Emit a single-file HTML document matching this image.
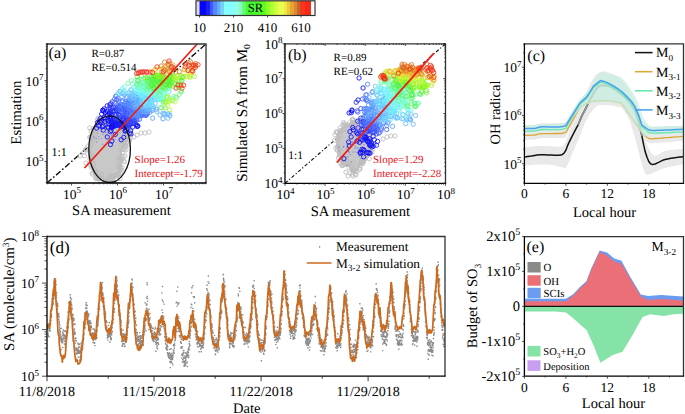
<!DOCTYPE html>
<html><head><meta charset="utf-8"><style>
html,body{margin:0;padding:0;background:#fff;width:685px;height:414px;overflow:hidden}
svg{display:block}
text{font-family:"Liberation Serif",serif;text-rendering:geometricPrecision}
</style></head><body>
<svg xmlns="http://www.w3.org/2000/svg" width="685" height="414" viewBox="0 0 685 414">
<rect x="196.5" y="1" width="3" height="14" fill="#ddd"/>
<rect x="199.5" y="1" width="6.8" height="14" fill="rgb(5, 5, 255)"/>
<rect x="206" y="1" width="4.3" height="14" fill="rgb(30, 30, 250)"/>
<rect x="210" y="1" width="3.8" height="14" fill="rgb(60, 90, 255)"/>
<rect x="213.5" y="1" width="3.8" height="14" fill="rgb(85, 135, 255)"/>
<rect x="217" y="1" width="3.8" height="14" fill="rgb(100, 170, 255)"/>
<rect x="220.5" y="1" width="3.8" height="14" fill="rgb(115, 210, 255)"/>
<rect x="224" y="1" width="6.3" height="14" fill="rgb(130, 255, 255)"/>
<rect x="230" y="1" width="5.3" height="14" fill="rgb(135, 255, 255)"/>
<rect x="235" y="1" width="4.3" height="14" fill="rgb(150, 255, 230)"/>
<rect x="239" y="1" width="3.3" height="14" fill="rgb(130, 255, 190)"/>
<rect x="242" y="1" width="3.8" height="14" fill="rgb(100, 252, 120)"/>
<rect x="245.5" y="1" width="10.8" height="14" fill="rgb(70, 250, 50)"/>
<rect x="256" y="1" width="6.3" height="14" fill="rgb(80, 250, 35)"/>
<rect x="262" y="1" width="4.3" height="14" fill="rgb(95, 252, 30)"/>
<rect x="266" y="1" width="4.3" height="14" fill="rgb(140, 255, 40)"/>
<rect x="270" y="1" width="4.3" height="14" fill="rgb(175, 255, 50)"/>
<rect x="274" y="1" width="4.3" height="14" fill="rgb(205, 255, 60)"/>
<rect x="278" y="1" width="6.3" height="14" fill="rgb(230, 255, 80)"/>
<rect x="284" y="1" width="3.3" height="14" fill="rgb(240, 230, 70)"/>
<rect x="287" y="1" width="3.3" height="14" fill="rgb(235, 200, 60)"/>
<rect x="290" y="1" width="4.3" height="14" fill="rgb(230, 165, 50)"/>
<rect x="294" y="1" width="3.3" height="14" fill="rgb(225, 135, 45)"/>
<rect x="297" y="1" width="3.3" height="14" fill="rgb(190, 105, 45)"/>
<rect x="300" y="1" width="5.3" height="14" fill="rgb(250, 55, 30)"/>
<rect x="305" y="1" width="6.3" height="14" fill="rgb(255, 40, 25)"/>
<rect x="311" y="1" width="3.5" height="14" fill="#fff"/>
<rect x="196" y="0.8" width="119" height="14.7" fill="none" stroke="#333" stroke-width="1.2"/>
<text x="255.4" y="12.4" font-size="12.6" text-anchor="middle" fill="#000" >SR</text>
<line x1="199.5" y1="15.5" x2="199.5" y2="17.5" stroke="#222" stroke-width="0.8" />
<text x="199.5" y="31.5" font-size="13" text-anchor="middle" fill="#000" >10</text>
<line x1="233.5" y1="15.5" x2="233.5" y2="17.5" stroke="#222" stroke-width="0.8" />
<text x="233.5" y="31.5" font-size="13" text-anchor="middle" fill="#000" >210</text>
<line x1="267.5" y1="15.5" x2="267.5" y2="17.5" stroke="#222" stroke-width="0.8" />
<text x="267.5" y="31.5" font-size="13" text-anchor="middle" fill="#000" >410</text>
<line x1="301" y1="15.5" x2="301" y2="17.5" stroke="#222" stroke-width="0.8" />
<text x="301" y="31.5" font-size="13" text-anchor="middle" fill="#000" >610</text>
<g clip-path="url(#clipc)">
<clipPath id="clipc"><rect x="524.4" y="43.8" width="159.10000000000002" height="139.5"/></clipPath>
<polygon points="524.4,147.5 526.1,147.3 527.9,147.1 529.6,146.9 531.3,146.6 533.0,146.4 534.8,146.2 536.5,146.1 538.2,146.0 539.9,146.0 541.7,145.9 543.4,146.0 545.1,146.0 546.9,146.1 548.6,146.2 550.3,146.3 552.0,146.3 553.8,146.4 555.5,146.6 557.2,146.8 558.9,146.8 560.7,146.7 562.4,146.2 564.1,144.7 565.9,141.5 567.6,136.7 569.3,132.0 571.0,128.4 572.8,125.0 574.5,121.7 576.2,118.0 578.0,113.7 579.7,109.0 581.4,104.3 583.1,100.0 584.9,96.0 586.6,92.0 588.3,88.1 590.0,84.4 591.8,81.0 593.5,78.0 595.2,75.6 597.0,73.8 598.7,72.7 600.4,72.0 602.1,71.6 603.9,71.5 605.6,71.6 607.3,71.9 609.0,72.4 610.8,73.0 612.5,73.7 614.2,74.6 616.0,75.6 617.7,76.9 619.4,78.3 621.1,80.0 622.9,81.9 624.6,84.1 626.3,86.5 628.0,89.1 629.8,91.9 631.5,95.0 633.2,98.4 635.0,102.3 636.7,106.7 638.4,112.0 640.1,119.1 641.9,127.4 643.6,134.8 645.3,140.1 647.1,144.6 648.8,148.3 650.5,151.4 652.2,153.9 654.0,155.2 655.7,155.5 657.4,155.0 659.1,154.1 660.9,153.0 662.6,151.9 664.3,151.1 666.1,150.7 667.8,150.4 669.5,150.1 671.2,149.9 673.0,149.7 674.7,149.6 676.4,149.4 678.1,149.3 679.9,149.1 681.6,149.0 683.3,148.8 683.3,164.0 681.6,164.4 679.9,164.7 678.1,165.1 676.4,165.5 674.7,165.8 673.0,166.2 671.2,166.6 669.5,166.9 667.8,167.3 666.1,167.8 664.3,168.2 662.6,168.7 660.9,169.4 659.1,170.1 657.4,170.9 655.7,171.6 654.0,172.5 652.2,173.3 650.5,173.9 648.8,174.6 647.1,174.9 645.3,173.8 643.6,170.0 641.9,164.2 640.1,158.1 638.4,151.3 636.7,144.5 635.0,137.9 633.2,131.9 631.5,126.4 629.8,120.9 628.0,117.2 626.3,114.2 624.6,111.4 622.9,108.9 621.1,106.9 619.4,105.6 617.7,105.1 616.0,105.0 614.2,105.1 612.5,105.2 610.8,105.2 609.0,104.9 607.3,104.6 605.6,104.3 603.9,104.1 602.1,104.1 600.4,104.4 598.7,105.0 597.0,106.1 595.2,107.5 593.5,109.3 591.8,111.4 590.0,113.8 588.3,116.5 586.6,119.6 584.9,123.3 583.1,127.6 581.4,132.1 579.7,136.6 578.0,140.8 576.2,144.8 574.5,148.8 572.8,152.7 571.0,156.6 569.3,160.9 567.6,165.2 565.9,168.3 564.1,168.6 562.4,167.5 560.7,166.9 558.9,166.5 557.2,166.0 555.5,165.6 553.8,165.3 552.0,165.0 550.3,164.8 548.6,164.7 546.9,164.6 545.1,164.5 543.4,164.5 541.7,164.5 539.9,164.5 538.2,164.5 536.5,164.6 534.8,164.7 533.0,164.8 531.3,165.0 529.6,165.2 527.9,165.4 526.1,165.5 524.4,165.7" fill="#e9e9e9" fill-opacity="1"/>
<polygon points="524.4,125.1 526.1,125.1 527.9,125.0 529.6,125.0 531.3,125.0 533.0,124.9 534.8,124.9 536.5,124.6 538.2,124.0 539.9,123.4 541.7,123.3 543.4,123.3 545.1,123.3 546.9,123.3 548.6,123.4 550.3,123.5 552.0,123.5 553.8,123.5 555.5,123.5 557.2,123.5 558.9,123.5 560.7,123.3 562.4,123.1 564.1,122.9 565.9,122.0 567.6,119.3 569.3,116.5 571.0,113.8 572.8,111.0 574.5,108.2 576.2,105.4 578.0,102.6 579.7,99.8 581.4,98.2 583.1,96.6 584.9,95.1 586.6,93.5 588.3,91.1 590.0,88.3 591.8,85.5 593.5,82.6 595.2,81.1 597.0,79.8 598.7,78.4 600.4,77.1 602.1,77.3 603.9,77.9 605.6,78.5 607.3,79.1 609.0,79.7 610.8,80.8 612.5,81.9 614.2,83.0 616.0,84.1 617.7,85.2 619.4,86.3 621.1,87.5 622.9,89.2 624.6,90.9 626.3,92.6 628.0,94.3 629.8,96.0 631.5,98.0 633.2,100.6 635.0,103.2 636.7,105.8 638.4,111.1 640.1,116.4 641.9,121.7 643.6,122.9 645.3,124.1 647.1,125.3 648.8,126.5 650.5,127.0 652.2,126.9 654.0,126.9 655.7,126.9 657.4,126.8 659.1,126.8 660.9,126.7 662.6,126.7 664.3,126.6 666.1,126.5 667.8,126.4 669.5,126.4 671.2,126.3 673.0,126.2 674.7,126.1 676.4,126.0 678.1,125.9 679.9,125.9 681.6,125.8 683.3,125.7 683.3,140.9 681.6,141.0 679.9,141.2 678.1,141.3 676.4,141.4 674.7,141.6 673.0,141.7 671.2,141.8 669.5,142.0 667.8,142.1 666.1,142.2 664.3,142.4 662.6,142.5 660.9,142.6 659.1,142.8 657.4,142.9 655.7,143.0 654.0,143.2 652.2,143.3 650.5,143.4 648.8,143.0 647.1,141.8 645.3,140.7 643.6,138.8 641.9,136.5 640.1,134.1 638.4,131.8 636.7,129.4 635.0,127.1 633.2,124.5 631.5,122.0 629.8,119.4 628.0,116.8 626.3,114.3 624.6,111.7 622.9,109.1 621.1,107.5 619.4,107.1 617.7,106.7 616.0,106.4 614.2,106.0 612.5,105.7 610.8,105.3 609.0,105.2 607.3,105.2 605.6,105.2 603.9,105.1 602.1,105.0 600.4,105.0 598.7,105.1 597.0,105.2 595.2,105.4 593.5,105.5 591.8,106.0 590.0,106.5 588.3,107.0 586.6,107.5 584.9,108.8 583.1,110.0 581.4,111.2 579.7,112.5 578.0,115.5 576.2,118.5 574.5,121.6 572.8,124.6 571.0,127.6 569.3,130.6 567.6,133.7 565.9,136.7 564.1,137.9 562.4,137.9 560.7,138.0 558.9,138.0 557.2,138.0 555.5,138.0 553.8,138.1 552.0,138.1 550.3,138.1 548.6,138.1 546.9,138.1 545.1,138.1 543.4,138.1 541.7,138.1 539.9,138.2 538.2,138.7 536.5,139.3 534.8,139.6 533.0,139.7 531.3,139.7 529.6,139.8 527.9,139.8 526.1,139.9 524.4,139.9" fill="#e9e9e9" fill-opacity="1"/>
<polyline points="524.4,157.0 526.1,156.8 527.9,156.5 529.6,156.2 531.3,156.0 533.0,155.7 534.8,155.4 536.5,155.1 538.2,154.9 539.9,154.7 541.7,154.7 543.4,154.7 545.1,154.8 546.9,154.9 548.6,155.0 550.3,155.1 552.0,155.1 553.8,155.2 555.5,155.2 557.2,155.2 558.9,155.2 560.7,155.1 562.4,154.5 564.1,153.1 565.9,150.2 567.6,145.6 569.3,141.8 571.0,138.3 572.8,134.8 574.5,131.6 576.2,128.4 578.0,125.1 579.7,121.0 581.4,116.9 583.1,113.4 584.9,110.1 586.6,106.6 588.3,103.0 590.0,99.6 591.8,96.4 593.5,93.2 595.2,90.5 597.0,88.2 598.7,86.5 600.4,85.6 602.1,85.4 603.9,85.4 605.6,85.5 607.3,85.7 609.0,86.1 610.8,86.8 612.5,87.8 614.2,88.9 616.0,90.1 617.7,91.3 619.4,92.7 621.1,94.1 622.9,95.5 624.6,97.0 626.3,98.6 628.0,100.4 629.8,102.5 631.5,105.0 633.2,107.7 635.0,111.0 636.7,115.3 638.4,121.4 640.1,128.2 641.9,135.8 643.6,144.7 645.3,152.1 647.1,157.5 648.8,161.5 650.5,163.8 652.2,164.4 654.0,164.2 655.7,163.7 657.4,162.9 659.1,162.1 660.9,161.2 662.6,160.3 664.3,159.7 666.1,159.3 667.8,158.9 669.5,158.6 671.2,158.3 673.0,158.0 674.7,157.8 676.4,157.6 678.1,157.3 679.9,157.1 681.6,156.9 683.3,156.6" fill="none" stroke="#111" stroke-width="1.5" stroke-opacity="1" stroke-linejoin="round"/>
<polyline points="578.0,125.1 579.7,121.0 581.4,116.9 583.1,113.4 584.9,110.1 586.6,106.6 588.3,103.0 590.0,99.6 591.8,96.4 593.5,93.2 595.2,90.5 597.0,88.2 598.7,86.5 600.4,85.6 602.1,85.4 603.9,85.4 605.6,85.5 607.3,85.7 609.0,86.1 610.8,86.8 612.5,87.8 614.2,88.9 616.0,90.1 617.7,91.3 619.4,92.7 621.1,94.1 622.9,95.5 624.6,97.0 626.3,98.6 628.0,100.4 629.8,102.5 631.5,105.0 633.2,107.7 635.0,111.0 636.7,115.3 638.4,121.4 640.1,128.2 641.9,135.8" fill="none" stroke="#8a948e" stroke-width="1.9" stroke-linejoin="round"/>
<polyline points="524.4,135.4 527.9,135.3 531.3,135.2 534.8,135.1 538.2,134.2 541.7,133.6 545.1,133.6 548.6,133.6 552.0,133.6 555.5,133.5 558.9,133.5 562.4,133.4 565.9,132.2 569.3,126.1 572.8,120.1 576.2,114.0 579.7,108.0 583.1,105.5 586.6,103.0 590.0,102.0 593.5,101.0 597.0,100.8 600.4,100.5 603.9,100.6 607.3,100.7 610.8,100.8 614.2,101.5 617.7,102.2 621.1,103.0 624.6,107.2 628.0,112.3 631.5,117.5 635.0,122.6 638.4,127.3 641.9,132.0 645.3,136.2 648.8,138.5 652.2,138.8 655.7,138.5 659.1,138.3 662.6,138.0 666.1,137.7 669.5,137.5 673.0,137.2 676.4,136.9 679.9,136.7 683.3,136.4" fill="none" stroke="#d9a830" stroke-width="1.3" stroke-opacity="1" stroke-linejoin="round"/>
<polygon points="524.4,126.0 526.1,125.8 527.9,125.6 529.6,125.4 531.3,125.2 533.0,125.1 534.8,124.9 536.5,124.7 538.2,124.5 539.9,124.4 541.7,124.3 543.4,124.2 545.1,124.1 546.9,124.0 548.6,123.9 550.3,123.8 552.0,123.7 553.8,123.6 555.5,123.5 557.2,123.4 558.9,123.3 560.7,123.2 562.4,123.2 564.1,123.1 565.9,121.8 567.6,118.9 569.3,116.0 571.0,113.2 572.8,110.5 574.5,107.7 576.2,105.0 578.0,102.2 579.7,100.1 581.4,98.0 583.1,95.9 584.9,94.0 586.6,92.3 588.3,90.5 590.0,88.8 591.8,86.5 593.5,81.8 595.2,78.8 597.0,76.8 598.7,74.7 600.4,72.7 602.1,71.8 603.9,72.4 605.6,73.1 607.3,73.7 609.0,74.4 610.8,74.8 612.5,75.1 614.2,75.5 616.0,75.9 617.7,76.3 619.4,76.7 621.1,77.6 622.9,79.3 624.6,81.0 626.3,82.7 628.0,85.2 629.8,88.0 631.5,90.8 633.2,93.6 635.0,96.8 636.7,99.9 638.4,103.0 640.1,108.4 641.9,113.7 643.6,118.5 645.3,120.8 647.1,123.2 648.8,125.6 650.5,126.5 652.2,126.5 654.0,126.4 655.7,126.4 657.4,126.4 659.1,126.4 660.9,126.3 662.6,126.3 664.3,126.3 666.1,126.2 667.8,126.2 669.5,126.1 671.2,126.1 673.0,126.0 674.7,126.0 676.4,126.0 678.1,125.9 679.9,125.9 681.6,125.8 683.3,125.8 683.3,133.1 681.6,133.2 679.9,133.3 678.1,133.3 676.4,133.4 674.7,133.5 673.0,133.6 671.2,133.7 669.5,133.8 667.8,133.8 666.1,133.9 664.3,134.0 662.6,134.1 660.9,134.1 659.1,134.2 657.4,134.2 655.7,134.3 654.0,134.3 652.2,134.3 650.5,134.4 648.8,134.8 647.1,135.8 645.3,136.8 643.6,135.8 641.9,133.5 640.1,131.1 638.4,128.8 636.7,126.4 635.0,124.1 633.2,121.5 631.5,119.0 629.8,116.4 628.0,113.8 626.3,111.3 624.6,108.7 622.9,106.1 621.1,104.5 619.4,104.1 617.7,103.7 616.0,103.4 614.2,103.0 612.5,102.7 610.8,102.3 609.0,102.2 607.3,102.2 605.6,102.2 603.9,102.1 602.1,102.0 600.4,102.0 598.7,102.1 597.0,102.2 595.2,102.4 593.5,102.5 591.8,103.0 590.0,103.5 588.3,104.0 586.6,104.5 584.9,105.8 583.1,107.0 581.4,108.2 579.7,109.5 578.0,111.6 576.2,113.7 574.5,115.8 572.8,117.8 571.0,120.1 569.3,123.0 567.6,126.0 565.9,129.0 564.1,130.2 562.4,130.3 560.7,130.4 558.9,130.5 557.2,130.6 555.5,130.7 553.8,130.8 552.0,130.9 550.3,130.9 548.6,130.8 546.9,130.8 545.1,130.8 543.4,130.8 541.7,130.7 539.9,130.8 538.2,131.4 536.5,132.0 534.8,132.3 533.0,132.3 531.3,132.4 529.6,132.4 527.9,132.4 526.1,132.5 524.4,132.5" fill="#c6eedf" fill-opacity="0.75"/>
<polyline points="524.4,131.3 527.9,131.2 531.3,131.2 534.8,131.1 538.2,130.2 541.7,129.5 545.1,129.5 548.6,129.6 552.0,129.7 555.5,129.7 558.9,129.7 562.4,129.3 565.9,128.2 569.3,121.9 572.8,116.1 576.2,110.5 579.7,104.9 583.1,101.7 586.6,98.6 590.0,93.4 593.5,87.7 597.0,84.9 600.4,82.2 603.9,83.0 607.3,84.2 610.8,85.9 614.2,88.1 617.7,90.3 621.1,92.6 624.6,96.0 628.0,99.4 631.5,103.1 635.0,108.3 638.4,116.2 641.9,126.8 645.3,129.7 648.8,132.6 652.2,133.1 655.7,133.1 659.1,133.0 662.6,132.9 666.1,132.7 669.5,132.6 673.0,132.4 676.4,132.2 679.9,132.1 683.3,131.9" fill="none" stroke="#6ae8b0" stroke-width="1.3" stroke-opacity="1" stroke-linejoin="round"/>
<polyline points="524.4,128.6 527.9,128.5 531.3,128.5 534.8,128.4 538.2,127.5 541.7,126.8 545.1,126.8 548.6,126.9 552.0,127.0 555.5,127.0 558.9,127.0 562.4,126.6 565.9,125.5 569.3,120.0 572.8,114.5 576.2,108.9 579.7,103.3 583.1,100.1 586.6,97.0 590.0,91.8 593.5,86.1 597.0,83.3 600.4,80.6 603.9,81.4 607.3,82.6 610.8,84.3 614.2,86.5 617.7,88.7 621.1,91.0 624.6,94.4 628.0,97.8 631.5,101.5 635.0,106.7 638.4,114.6 641.9,125.2 645.3,127.6 648.8,130.0 652.2,130.4 655.7,130.4 659.1,130.3 662.6,130.2 666.1,130.0 669.5,129.9 673.0,129.7 676.4,129.5 679.9,129.4 683.3,129.2" fill="none" stroke="#4aa0f0" stroke-width="1.5" stroke-opacity="1" stroke-linejoin="round"/>
</g>
<line x1="635" y1="52.6" x2="652.6" y2="52.6" stroke="#111" stroke-width="1.5" />
<text x="656" y="57.4" font-size="14" text-anchor="start" fill="#000" >M<tspan font-size="9.2" dy="3.8">0</tspan></text>
<line x1="635" y1="71.7" x2="652.6" y2="71.7" stroke="#d9a830" stroke-width="1.5" />
<text x="656" y="76.5" font-size="14" text-anchor="start" fill="#000" >M<tspan font-size="9.2" dy="3.8">3-1</tspan></text>
<line x1="635" y1="90.8" x2="652.6" y2="90.8" stroke="#5ce8a8" stroke-width="1.5" />
<text x="656" y="95.6" font-size="14" text-anchor="start" fill="#000" >M<tspan font-size="9.2" dy="3.8">3-2</tspan></text>
<line x1="635" y1="109.9" x2="652.6" y2="109.9" stroke="#3d9cf0" stroke-width="1.5" />
<text x="656" y="114.7" font-size="14" text-anchor="start" fill="#000" >M<tspan font-size="9.2" dy="3.8">3-3</tspan></text>
<polygon points="524.4,298.8 565.9,298.8 573.1,294.2 580.4,286.5 586.4,281.2 591.2,268.4 599.7,250.5 607.0,252.4 614.2,258.4 621.5,260.8 629.9,276.3 640.8,294.5 648.1,296.0 661.2,294.9 683.3,296.6 683.3,306.4 524.4,306.4" fill="#6b9cf0"/>
<polygon points="524.4,301.3 565.9,301.3 573.1,295.7 580.4,288.0 586.4,282.7 591.2,269.9 599.7,251.7 607.0,255.4 614.2,261.4 621.5,263.8 629.9,278.3 640.8,296.5 648.1,300.0 661.2,298.9 683.3,300.6 683.3,306.4 524.4,306.4" fill="#ea6f77"/>
<polygon points="524.4,306.4 683.3,306.4 683.3,313.8 673.4,314.3 663.8,316.0 650.0,314.3 642.6,317.1 632.1,335.8 622.5,351.8 612.8,355.1 600.4,362.8 593.6,345.4 586.7,330.3 572.9,317.9 566.0,312.4 555.0,311.6 524.4,311.6" fill="#86e3a8"/>
<line x1="524.4" y1="306.4" x2="683.5" y2="306.4" stroke="#111" stroke-width="1.3" />
<rect x="527.5" y="262" width="13.2" height="10.5" fill="#8a8a8a"/>
<text x="543.5" y="271.3" font-size="10.8" text-anchor="start" fill="#000" >O</text>
<rect x="527.5" y="275.2" width="13.2" height="10.5" fill="#ea6f77"/>
<text x="543.5" y="284.5" font-size="10.8" text-anchor="start" fill="#000" >OH</text>
<rect x="527.5" y="287.8" width="13.2" height="10.5" fill="#6b9cf0"/>
<text x="543.5" y="297.1" font-size="10.8" text-anchor="start" fill="#000" >SCIs</text>
<rect x="527.5" y="345.9" width="13" height="10.6" fill="#86e3a8"/>
<text x="543.3" y="355.2" font-size="10.5" text-anchor="start" fill="#000" >SO<tspan font-size="7.5" dy="2.5">3</tspan><tspan dy="-2.5">+H</tspan><tspan font-size="7.5" dy="2.5">2</tspan><tspan dy="-2.5">O</tspan></text>
<rect x="527.5" y="360.3" width="13" height="10.6" fill="#c89ef0"/>
<text x="543.3" y="369.6" font-size="10.5" text-anchor="start" fill="#000" >Deposition</text>
<text x="651.6" y="251.2" font-size="13.7" text-anchor="start" fill="#000" >M<tspan font-size="9.2" dy="3.3">3-2</tspan></text>
<clipPath id="clipd"><rect x="47" y="236.5" width="398" height="139.7"/></clipPath>
<g clip-path="url(#clipd)">
<path d="M47.0 328.1h1.4v1.4h-1.4zM47.1 324.3h1.4v1.4h-1.4zM47.3 326.7h1.4v1.4h-1.4zM47.5 326.4h1.4v1.4h-1.4zM47.5 332.7h1.4v1.4h-1.4zM47.7 334.6h1.4v1.4h-1.4zM47.8 335.3h1.4v1.4h-1.4zM47.9 325.7h1.4v1.4h-1.4zM48.0 327.2h1.4v1.4h-1.4zM48.2 330.4h1.4v1.4h-1.4zM48.2 323.2h1.4v1.4h-1.4zM48.4 325.8h1.4v1.4h-1.4zM48.4 336.1h1.4v1.4h-1.4zM48.6 328.8h1.4v1.4h-1.4zM48.7 325.2h1.4v1.4h-1.4zM48.8 329.8h1.4v1.4h-1.4zM49.0 327.5h1.4v1.4h-1.4zM49.1 324.9h1.4v1.4h-1.4zM49.2 323.8h1.4v1.4h-1.4zM49.3 322.5h1.4v1.4h-1.4zM49.4 329.9h1.4v1.4h-1.4zM49.5 327.6h1.4v1.4h-1.4zM49.6 330.2h1.4v1.4h-1.4zM49.8 322.7h1.4v1.4h-1.4zM49.9 322.7h1.4v1.4h-1.4zM50.0 319.6h1.4v1.4h-1.4zM50.1 319.7h1.4v1.4h-1.4zM50.2 319.6h1.4v1.4h-1.4zM50.4 316.1h1.4v1.4h-1.4zM50.5 313.1h1.4v1.4h-1.4zM50.6 316.5h1.4v1.4h-1.4zM50.7 314.6h1.4v1.4h-1.4zM50.8 306.4h1.4v1.4h-1.4zM51.0 315.1h1.4v1.4h-1.4zM51.0 303.7h1.4v1.4h-1.4zM51.2 301.0h1.4v1.4h-1.4zM51.3 304.0h1.4v1.4h-1.4zM51.4 298.3h1.4v1.4h-1.4zM51.5 308.7h1.4v1.4h-1.4zM51.6 302.9h1.4v1.4h-1.4zM51.8 293.8h1.4v1.4h-1.4zM51.9 301.3h1.4v1.4h-1.4zM52.0 296.8h1.4v1.4h-1.4zM52.1 302.8h1.4v1.4h-1.4zM52.2 301.3h1.4v1.4h-1.4zM52.3 303.3h1.4v1.4h-1.4zM52.5 298.4h1.4v1.4h-1.4zM52.6 294.5h1.4v1.4h-1.4zM52.7 298.9h1.4v1.4h-1.4zM52.8 303.4h1.4v1.4h-1.4zM53.0 287.4h1.4v1.4h-1.4zM53.1 293.2h1.4v1.4h-1.4zM53.2 297.5h1.4v1.4h-1.4zM53.2 281.2h1.4v1.4h-1.4zM53.4 287.3h1.4v1.4h-1.4zM53.5 294.7h1.4v1.4h-1.4zM53.6 283.2h1.4v1.4h-1.4zM53.7 295.4h1.4v1.4h-1.4zM53.9 287.4h1.4v1.4h-1.4zM54.1 281.8h1.4v1.4h-1.4zM54.2 284.2h1.4v1.4h-1.4zM54.2 285.5h1.4v1.4h-1.4zM54.3 279.7h1.4v1.4h-1.4zM54.5 283.3h1.4v1.4h-1.4zM54.5 287.0h1.4v1.4h-1.4zM54.7 288.1h1.4v1.4h-1.4zM54.8 278.1h1.4v1.4h-1.4zM55.0 282.9h1.4v1.4h-1.4zM55.1 280.6h1.4v1.4h-1.4zM55.1 284.1h1.4v1.4h-1.4zM55.3 284.0h1.4v1.4h-1.4zM55.4 292.0h1.4v1.4h-1.4zM55.5 296.6h1.4v1.4h-1.4zM55.7 304.5h1.4v1.4h-1.4zM55.8 302.4h1.4v1.4h-1.4zM55.8 294.4h1.4v1.4h-1.4zM56.0 292.2h1.4v1.4h-1.4zM56.1 301.2h1.4v1.4h-1.4zM56.2 305.0h1.4v1.4h-1.4zM56.4 308.5h1.4v1.4h-1.4zM56.5 305.6h1.4v1.4h-1.4zM56.6 308.0h1.4v1.4h-1.4zM56.7 311.6h1.4v1.4h-1.4zM56.8 303.8h1.4v1.4h-1.4zM56.9 302.9h1.4v1.4h-1.4zM57.1 313.1h1.4v1.4h-1.4zM57.2 305.6h1.4v1.4h-1.4zM57.3 315.2h1.4v1.4h-1.4zM57.4 318.4h1.4v1.4h-1.4zM57.5 314.0h1.4v1.4h-1.4zM57.7 319.0h1.4v1.4h-1.4zM57.8 316.4h1.4v1.4h-1.4zM57.9 313.5h1.4v1.4h-1.4zM58.0 313.0h1.4v1.4h-1.4zM58.1 315.7h1.4v1.4h-1.4zM58.2 318.4h1.4v1.4h-1.4zM58.4 315.8h1.4v1.4h-1.4zM58.4 321.7h1.4v1.4h-1.4zM58.6 323.3h1.4v1.4h-1.4zM58.7 320.8h1.4v1.4h-1.4zM58.9 326.3h1.4v1.4h-1.4zM58.9 329.9h1.4v1.4h-1.4zM59.1 324.4h1.4v1.4h-1.4zM59.2 328.8h1.4v1.4h-1.4zM59.3 331.5h1.4v1.4h-1.4zM59.4 327.9h1.4v1.4h-1.4zM59.5 336.8h1.4v1.4h-1.4zM59.6 331.0h1.4v1.4h-1.4zM59.8 333.2h1.4v1.4h-1.4zM59.8 334.4h1.4v1.4h-1.4zM60.0 338.3h1.4v1.4h-1.4zM60.2 337.2h1.4v1.4h-1.4zM60.2 336.0h1.4v1.4h-1.4zM60.3 340.3h1.4v1.4h-1.4zM60.4 348.8h1.4v1.4h-1.4zM60.6 340.0h1.4v1.4h-1.4zM60.7 327.7h1.4v1.4h-1.4zM60.8 339.2h1.4v1.4h-1.4zM60.9 338.0h1.4v1.4h-1.4zM61.1 341.3h1.4v1.4h-1.4zM61.1 341.8h1.4v1.4h-1.4zM61.3 339.5h1.4v1.4h-1.4zM61.5 338.7h1.4v1.4h-1.4zM61.6 337.8h1.4v1.4h-1.4zM61.6 335.2h1.4v1.4h-1.4zM61.8 338.0h1.4v1.4h-1.4zM61.9 342.0h1.4v1.4h-1.4zM62.0 331.6h1.4v1.4h-1.4zM62.1 346.9h1.4v1.4h-1.4zM62.2 332.4h1.4v1.4h-1.4zM62.3 340.3h1.4v1.4h-1.4zM62.4 334.4h1.4v1.4h-1.4zM62.6 329.6h1.4v1.4h-1.4zM62.7 333.3h1.4v1.4h-1.4zM62.9 338.2h1.4v1.4h-1.4zM62.9 337.9h1.4v1.4h-1.4zM63.0 334.6h1.4v1.4h-1.4zM63.1 335.1h1.4v1.4h-1.4zM63.3 336.7h1.4v1.4h-1.4zM63.4 334.2h1.4v1.4h-1.4zM63.5 338.3h1.4v1.4h-1.4zM63.7 334.3h1.4v1.4h-1.4zM63.7 330.5h1.4v1.4h-1.4zM63.9 343.3h1.4v1.4h-1.4zM64.0 340.6h1.4v1.4h-1.4zM64.1 340.5h1.4v1.4h-1.4zM64.2 338.3h1.4v1.4h-1.4zM64.3 343.7h1.4v1.4h-1.4zM64.4 335.3h1.4v1.4h-1.4zM64.6 343.6h1.4v1.4h-1.4zM64.7 346.1h1.4v1.4h-1.4zM64.8 337.1h1.4v1.4h-1.4zM64.9 329.9h1.4v1.4h-1.4zM65.0 336.7h1.4v1.4h-1.4zM65.2 337.9h1.4v1.4h-1.4zM65.3 337.1h1.4v1.4h-1.4zM65.4 331.0h1.4v1.4h-1.4zM65.5 334.7h1.4v1.4h-1.4zM65.6 335.0h1.4v1.4h-1.4zM65.8 335.8h1.4v1.4h-1.4zM65.9 332.3h1.4v1.4h-1.4zM66.0 334.6h1.4v1.4h-1.4zM66.1 334.6h1.4v1.4h-1.4zM66.3 327.3h1.4v1.4h-1.4zM66.3 326.1h1.4v1.4h-1.4zM66.4 326.1h1.4v1.4h-1.4zM66.6 322.1h1.4v1.4h-1.4zM66.7 325.3h1.4v1.4h-1.4zM66.8 327.7h1.4v1.4h-1.4zM66.9 324.6h1.4v1.4h-1.4zM67.1 322.9h1.4v1.4h-1.4zM67.2 325.9h1.4v1.4h-1.4zM67.3 311.3h1.4v1.4h-1.4zM67.4 322.9h1.4v1.4h-1.4zM67.5 318.4h1.4v1.4h-1.4zM67.7 326.9h1.4v1.4h-1.4zM67.7 316.5h1.4v1.4h-1.4zM67.9 321.4h1.4v1.4h-1.4zM68.0 319.6h1.4v1.4h-1.4zM68.1 314.2h1.4v1.4h-1.4zM68.2 311.4h1.4v1.4h-1.4zM68.3 302.3h1.4v1.4h-1.4zM68.4 318.7h1.4v1.4h-1.4zM68.5 307.3h1.4v1.4h-1.4zM68.7 306.2h1.4v1.4h-1.4zM68.8 308.1h1.4v1.4h-1.4zM68.9 310.0h1.4v1.4h-1.4zM69.0 307.5h1.4v1.4h-1.4zM69.2 306.4h1.4v1.4h-1.4zM69.3 303.8h1.4v1.4h-1.4zM69.4 301.2h1.4v1.4h-1.4zM69.5 294.0h1.4v1.4h-1.4zM69.7 296.6h1.4v1.4h-1.4zM69.7 297.4h1.4v1.4h-1.4zM69.9 300.2h1.4v1.4h-1.4zM70.0 301.6h1.4v1.4h-1.4zM70.1 300.5h1.4v1.4h-1.4zM70.3 303.6h1.4v1.4h-1.4zM70.3 302.2h1.4v1.4h-1.4zM70.5 304.1h1.4v1.4h-1.4zM70.6 309.9h1.4v1.4h-1.4zM70.7 311.6h1.4v1.4h-1.4zM70.8 298.3h1.4v1.4h-1.4zM70.9 307.3h1.4v1.4h-1.4zM71.1 304.6h1.4v1.4h-1.4zM71.1 307.5h1.4v1.4h-1.4zM71.3 308.9h1.4v1.4h-1.4zM71.4 307.2h1.4v1.4h-1.4zM71.5 313.4h1.4v1.4h-1.4zM71.6 316.3h1.4v1.4h-1.4zM71.7 316.4h1.4v1.4h-1.4zM71.9 314.5h1.4v1.4h-1.4zM72.0 317.7h1.4v1.4h-1.4zM72.2 320.9h1.4v1.4h-1.4zM72.2 319.3h1.4v1.4h-1.4zM72.4 314.1h1.4v1.4h-1.4zM72.4 323.3h1.4v1.4h-1.4zM72.6 318.6h1.4v1.4h-1.4zM72.7 324.1h1.4v1.4h-1.4zM72.9 324.1h1.4v1.4h-1.4zM72.9 317.5h1.4v1.4h-1.4zM73.1 317.6h1.4v1.4h-1.4zM73.2 318.7h1.4v1.4h-1.4zM73.2 319.9h1.4v1.4h-1.4zM73.4 329.3h1.4v1.4h-1.4zM73.5 331.3h1.4v1.4h-1.4zM73.7 328.2h1.4v1.4h-1.4zM73.8 332.9h1.4v1.4h-1.4zM73.9 333.9h1.4v1.4h-1.4zM74.0 323.2h1.4v1.4h-1.4zM74.2 337.8h1.4v1.4h-1.4zM74.2 331.8h1.4v1.4h-1.4zM74.3 331.5h1.4v1.4h-1.4zM74.4 333.5h1.4v1.4h-1.4zM74.5 323.4h1.4v1.4h-1.4zM74.7 342.4h1.4v1.4h-1.4zM74.8 339.7h1.4v1.4h-1.4zM74.9 337.3h1.4v1.4h-1.4zM75.1 348.3h1.4v1.4h-1.4zM75.1 337.8h1.4v1.4h-1.4zM75.3 347.2h1.4v1.4h-1.4zM75.5 340.3h1.4v1.4h-1.4zM75.5 349.5h1.4v1.4h-1.4zM75.7 348.1h1.4v1.4h-1.4zM75.7 348.8h1.4v1.4h-1.4zM75.9 348.0h1.4v1.4h-1.4zM75.9 352.7h1.4v1.4h-1.4zM76.1 353.4h1.4v1.4h-1.4zM76.2 348.9h1.4v1.4h-1.4zM76.4 348.0h1.4v1.4h-1.4zM76.5 351.3h1.4v1.4h-1.4zM76.6 348.4h1.4v1.4h-1.4zM76.6 349.8h1.4v1.4h-1.4zM76.9 348.1h1.4v1.4h-1.4zM76.9 350.2h1.4v1.4h-1.4zM77.0 351.4h1.4v1.4h-1.4zM77.2 348.8h1.4v1.4h-1.4zM77.3 342.6h1.4v1.4h-1.4zM77.4 352.6h1.4v1.4h-1.4zM77.5 343.4h1.4v1.4h-1.4zM77.7 347.2h1.4v1.4h-1.4zM77.7 356.5h1.4v1.4h-1.4zM77.9 346.3h1.4v1.4h-1.4zM78.0 352.5h1.4v1.4h-1.4zM78.1 343.8h1.4v1.4h-1.4zM78.2 350.4h1.4v1.4h-1.4zM78.3 351.3h1.4v1.4h-1.4zM78.4 349.7h1.4v1.4h-1.4zM78.6 346.3h1.4v1.4h-1.4zM78.6 352.3h1.4v1.4h-1.4zM78.8 359.7h1.4v1.4h-1.4zM78.9 352.6h1.4v1.4h-1.4zM79.1 343.6h1.4v1.4h-1.4zM79.2 352.7h1.4v1.4h-1.4zM79.3 343.2h1.4v1.4h-1.4zM79.5 358.4h1.4v1.4h-1.4zM79.5 356.3h1.4v1.4h-1.4zM79.7 350.6h1.4v1.4h-1.4zM79.7 359.4h1.4v1.4h-1.4zM79.9 351.4h1.4v1.4h-1.4zM80.0 354.9h1.4v1.4h-1.4zM80.1 352.5h1.4v1.4h-1.4zM80.2 347.4h1.4v1.4h-1.4zM80.3 349.1h1.4v1.4h-1.4zM80.4 358.8h1.4v1.4h-1.4zM80.5 346.5h1.4v1.4h-1.4zM80.7 354.8h1.4v1.4h-1.4zM80.8 342.4h1.4v1.4h-1.4zM80.9 346.1h1.4v1.4h-1.4zM81.0 349.5h1.4v1.4h-1.4zM81.2 349.1h1.4v1.4h-1.4zM81.2 341.6h1.4v1.4h-1.4zM81.4 344.6h1.4v1.4h-1.4zM81.5 346.2h1.4v1.4h-1.4zM81.7 341.7h1.4v1.4h-1.4zM81.7 342.1h1.4v1.4h-1.4zM81.9 338.7h1.4v1.4h-1.4zM82.0 343.0h1.4v1.4h-1.4zM82.1 338.7h1.4v1.4h-1.4zM82.3 339.7h1.4v1.4h-1.4zM82.4 340.3h1.4v1.4h-1.4zM82.5 335.1h1.4v1.4h-1.4zM82.6 338.2h1.4v1.4h-1.4zM82.8 337.8h1.4v1.4h-1.4zM82.8 338.6h1.4v1.4h-1.4zM82.9 334.2h1.4v1.4h-1.4zM83.1 337.2h1.4v1.4h-1.4zM83.2 327.7h1.4v1.4h-1.4zM83.3 326.9h1.4v1.4h-1.4zM83.4 333.0h1.4v1.4h-1.4zM83.5 322.8h1.4v1.4h-1.4zM83.6 327.9h1.4v1.4h-1.4zM83.8 319.5h1.4v1.4h-1.4zM83.9 320.2h1.4v1.4h-1.4zM83.9 320.8h1.4v1.4h-1.4zM84.2 321.1h1.4v1.4h-1.4zM84.3 316.6h1.4v1.4h-1.4zM84.4 327.4h1.4v1.4h-1.4zM84.4 327.1h1.4v1.4h-1.4zM84.6 323.5h1.4v1.4h-1.4zM84.7 312.5h1.4v1.4h-1.4zM84.8 319.0h1.4v1.4h-1.4zM85.0 307.9h1.4v1.4h-1.4zM85.1 313.3h1.4v1.4h-1.4zM85.2 304.3h1.4v1.4h-1.4zM85.3 307.2h1.4v1.4h-1.4zM85.4 310.8h1.4v1.4h-1.4zM85.5 302.0h1.4v1.4h-1.4zM85.6 302.1h1.4v1.4h-1.4zM85.8 305.1h1.4v1.4h-1.4zM85.9 310.6h1.4v1.4h-1.4zM86.0 313.4h1.4v1.4h-1.4zM86.2 318.5h1.4v1.4h-1.4zM86.2 307.6h1.4v1.4h-1.4zM86.3 310.2h1.4v1.4h-1.4zM86.4 304.6h1.4v1.4h-1.4zM86.6 311.2h1.4v1.4h-1.4zM86.7 322.2h1.4v1.4h-1.4zM86.8 321.9h1.4v1.4h-1.4zM87.0 315.7h1.4v1.4h-1.4zM87.0 312.5h1.4v1.4h-1.4zM87.2 318.2h1.4v1.4h-1.4zM87.3 312.9h1.4v1.4h-1.4zM87.4 320.3h1.4v1.4h-1.4zM87.5 315.7h1.4v1.4h-1.4zM87.6 314.3h1.4v1.4h-1.4zM87.8 316.0h1.4v1.4h-1.4zM87.8 321.4h1.4v1.4h-1.4zM88.0 313.4h1.4v1.4h-1.4zM88.2 313.6h1.4v1.4h-1.4zM88.2 323.2h1.4v1.4h-1.4zM88.3 323.1h1.4v1.4h-1.4zM88.4 321.3h1.4v1.4h-1.4zM88.6 323.4h1.4v1.4h-1.4zM88.7 320.0h1.4v1.4h-1.4zM88.8 321.6h1.4v1.4h-1.4zM88.9 325.9h1.4v1.4h-1.4zM89.1 322.8h1.4v1.4h-1.4zM89.1 327.3h1.4v1.4h-1.4zM89.3 327.3h1.4v1.4h-1.4zM89.4 320.3h1.4v1.4h-1.4zM89.5 326.4h1.4v1.4h-1.4zM89.6 324.9h1.4v1.4h-1.4zM89.7 325.7h1.4v1.4h-1.4zM89.9 321.5h1.4v1.4h-1.4zM90.0 329.4h1.4v1.4h-1.4zM90.1 328.8h1.4v1.4h-1.4zM90.2 326.8h1.4v1.4h-1.4zM90.3 333.7h1.4v1.4h-1.4zM90.5 322.9h1.4v1.4h-1.4zM90.6 325.6h1.4v1.4h-1.4zM90.8 326.8h1.4v1.4h-1.4zM90.8 337.7h1.4v1.4h-1.4zM91.0 335.2h1.4v1.4h-1.4zM91.0 334.1h1.4v1.4h-1.4zM91.2 333.0h1.4v1.4h-1.4zM91.3 332.6h1.4v1.4h-1.4zM91.4 333.4h1.4v1.4h-1.4zM91.5 336.6h1.4v1.4h-1.4zM91.7 337.2h1.4v1.4h-1.4zM91.8 336.4h1.4v1.4h-1.4zM91.9 335.1h1.4v1.4h-1.4zM92.0 332.3h1.4v1.4h-1.4zM92.1 335.8h1.4v1.4h-1.4zM92.2 333.5h1.4v1.4h-1.4zM92.3 341.7h1.4v1.4h-1.4zM92.5 328.3h1.4v1.4h-1.4zM92.5 332.8h1.4v1.4h-1.4zM92.7 339.9h1.4v1.4h-1.4zM92.8 336.7h1.4v1.4h-1.4zM92.9 332.7h1.4v1.4h-1.4zM93.0 334.1h1.4v1.4h-1.4zM93.1 335.2h1.4v1.4h-1.4zM93.3 334.2h1.4v1.4h-1.4zM93.4 342.7h1.4v1.4h-1.4zM93.5 338.7h1.4v1.4h-1.4zM93.6 337.0h1.4v1.4h-1.4zM93.8 328.6h1.4v1.4h-1.4zM93.8 338.1h1.4v1.4h-1.4zM94.0 342.1h1.4v1.4h-1.4zM94.1 344.9h1.4v1.4h-1.4zM94.2 330.1h1.4v1.4h-1.4zM94.4 331.0h1.4v1.4h-1.4zM94.4 338.5h1.4v1.4h-1.4zM94.6 336.4h1.4v1.4h-1.4zM94.7 335.7h1.4v1.4h-1.4zM94.8 334.0h1.4v1.4h-1.4zM94.9 338.8h1.4v1.4h-1.4zM95.1 338.4h1.4v1.4h-1.4zM95.2 337.0h1.4v1.4h-1.4zM95.3 335.3h1.4v1.4h-1.4zM95.3 336.2h1.4v1.4h-1.4zM95.6 337.7h1.4v1.4h-1.4zM95.6 329.7h1.4v1.4h-1.4zM95.8 334.7h1.4v1.4h-1.4zM95.9 329.0h1.4v1.4h-1.4zM96.0 330.4h1.4v1.4h-1.4zM96.1 329.9h1.4v1.4h-1.4zM96.2 337.1h1.4v1.4h-1.4zM96.3 325.5h1.4v1.4h-1.4zM96.4 330.4h1.4v1.4h-1.4zM96.6 325.8h1.4v1.4h-1.4zM96.7 325.6h1.4v1.4h-1.4zM96.8 319.9h1.4v1.4h-1.4zM96.9 322.2h1.4v1.4h-1.4zM97.0 325.1h1.4v1.4h-1.4zM97.1 322.7h1.4v1.4h-1.4zM97.3 319.6h1.4v1.4h-1.4zM97.4 324.0h1.4v1.4h-1.4zM97.5 308.0h1.4v1.4h-1.4zM97.6 321.0h1.4v1.4h-1.4zM97.8 316.7h1.4v1.4h-1.4zM97.9 310.7h1.4v1.4h-1.4zM98.0 308.9h1.4v1.4h-1.4zM98.1 314.2h1.4v1.4h-1.4zM98.2 303.3h1.4v1.4h-1.4zM98.4 306.3h1.4v1.4h-1.4zM98.4 308.5h1.4v1.4h-1.4zM98.5 306.1h1.4v1.4h-1.4zM98.7 295.5h1.4v1.4h-1.4zM98.8 305.5h1.4v1.4h-1.4zM98.9 308.3h1.4v1.4h-1.4zM99.0 298.3h1.4v1.4h-1.4zM99.2 296.1h1.4v1.4h-1.4zM99.2 295.5h1.4v1.4h-1.4zM99.4 299.6h1.4v1.4h-1.4zM99.5 290.3h1.4v1.4h-1.4zM99.6 292.1h1.4v1.4h-1.4zM99.8 285.7h1.4v1.4h-1.4zM99.8 290.6h1.4v1.4h-1.4zM100.0 283.9h1.4v1.4h-1.4zM100.1 289.4h1.4v1.4h-1.4zM100.2 288.4h1.4v1.4h-1.4zM100.4 282.3h1.4v1.4h-1.4zM100.5 282.2h1.4v1.4h-1.4zM100.6 284.6h1.4v1.4h-1.4zM100.7 288.4h1.4v1.4h-1.4zM100.8 289.1h1.4v1.4h-1.4zM100.9 286.9h1.4v1.4h-1.4zM101.0 285.4h1.4v1.4h-1.4zM101.1 283.8h1.4v1.4h-1.4zM101.2 286.2h1.4v1.4h-1.4zM101.4 288.1h1.4v1.4h-1.4zM101.5 287.0h1.4v1.4h-1.4zM101.7 291.7h1.4v1.4h-1.4zM101.8 281.9h1.4v1.4h-1.4zM101.9 294.5h1.4v1.4h-1.4zM102.0 292.4h1.4v1.4h-1.4zM102.1 294.4h1.4v1.4h-1.4zM102.2 293.1h1.4v1.4h-1.4zM102.4 294.8h1.4v1.4h-1.4zM102.5 299.5h1.4v1.4h-1.4zM102.5 305.8h1.4v1.4h-1.4zM102.7 300.7h1.4v1.4h-1.4zM102.8 300.4h1.4v1.4h-1.4zM102.9 298.6h1.4v1.4h-1.4zM103.0 301.4h1.4v1.4h-1.4zM103.2 304.9h1.4v1.4h-1.4zM103.2 297.2h1.4v1.4h-1.4zM103.4 306.6h1.4v1.4h-1.4zM103.5 309.4h1.4v1.4h-1.4zM103.6 312.9h1.4v1.4h-1.4zM103.8 313.7h1.4v1.4h-1.4zM103.9 315.8h1.4v1.4h-1.4zM104.0 308.1h1.4v1.4h-1.4zM104.2 312.0h1.4v1.4h-1.4zM104.3 310.5h1.4v1.4h-1.4zM104.4 314.4h1.4v1.4h-1.4zM104.4 318.0h1.4v1.4h-1.4zM104.6 316.6h1.4v1.4h-1.4zM104.7 320.9h1.4v1.4h-1.4zM104.8 315.3h1.4v1.4h-1.4zM104.9 320.1h1.4v1.4h-1.4zM105.0 312.8h1.4v1.4h-1.4zM105.1 321.4h1.4v1.4h-1.4zM105.3 327.0h1.4v1.4h-1.4zM105.4 320.0h1.4v1.4h-1.4zM105.5 319.8h1.4v1.4h-1.4zM105.7 325.4h1.4v1.4h-1.4zM105.8 327.4h1.4v1.4h-1.4zM105.9 329.8h1.4v1.4h-1.4zM106.0 329.5h1.4v1.4h-1.4zM106.1 326.8h1.4v1.4h-1.4zM106.2 329.1h1.4v1.4h-1.4zM106.3 321.5h1.4v1.4h-1.4zM106.5 329.9h1.4v1.4h-1.4zM106.6 334.2h1.4v1.4h-1.4zM106.6 337.3h1.4v1.4h-1.4zM106.8 329.7h1.4v1.4h-1.4zM107.0 336.0h1.4v1.4h-1.4zM107.0 335.0h1.4v1.4h-1.4zM107.2 328.9h1.4v1.4h-1.4zM107.2 339.4h1.4v1.4h-1.4zM107.4 332.8h1.4v1.4h-1.4zM107.5 332.3h1.4v1.4h-1.4zM107.7 328.8h1.4v1.4h-1.4zM107.8 324.7h1.4v1.4h-1.4zM107.9 336.3h1.4v1.4h-1.4zM107.9 334.3h1.4v1.4h-1.4zM108.1 329.1h1.4v1.4h-1.4zM108.2 335.7h1.4v1.4h-1.4zM108.4 328.0h1.4v1.4h-1.4zM108.4 334.3h1.4v1.4h-1.4zM108.6 321.9h1.4v1.4h-1.4zM108.7 328.2h1.4v1.4h-1.4zM108.8 330.8h1.4v1.4h-1.4zM108.9 335.4h1.4v1.4h-1.4zM109.1 341.6h1.4v1.4h-1.4zM109.2 330.4h1.4v1.4h-1.4zM109.3 332.6h1.4v1.4h-1.4zM109.4 331.6h1.4v1.4h-1.4zM109.5 329.7h1.4v1.4h-1.4zM109.6 326.8h1.4v1.4h-1.4zM109.8 336.0h1.4v1.4h-1.4zM109.9 334.3h1.4v1.4h-1.4zM109.9 338.0h1.4v1.4h-1.4zM110.2 337.0h1.4v1.4h-1.4zM110.2 339.2h1.4v1.4h-1.4zM110.4 333.3h1.4v1.4h-1.4zM110.5 325.9h1.4v1.4h-1.4zM110.6 328.5h1.4v1.4h-1.4zM110.6 338.3h1.4v1.4h-1.4zM110.9 334.1h1.4v1.4h-1.4zM111.0 327.6h1.4v1.4h-1.4zM111.0 332.2h1.4v1.4h-1.4zM111.1 330.0h1.4v1.4h-1.4zM111.3 325.0h1.4v1.4h-1.4zM111.4 324.0h1.4v1.4h-1.4zM111.5 331.1h1.4v1.4h-1.4zM111.6 326.9h1.4v1.4h-1.4zM111.7 322.3h1.4v1.4h-1.4zM111.8 315.6h1.4v1.4h-1.4zM112.0 322.1h1.4v1.4h-1.4zM112.1 318.2h1.4v1.4h-1.4zM112.2 315.7h1.4v1.4h-1.4zM112.3 319.1h1.4v1.4h-1.4zM112.4 314.2h1.4v1.4h-1.4zM112.5 311.4h1.4v1.4h-1.4zM112.7 318.3h1.4v1.4h-1.4zM112.8 309.6h1.4v1.4h-1.4zM113.0 309.5h1.4v1.4h-1.4zM113.0 310.1h1.4v1.4h-1.4zM113.2 311.1h1.4v1.4h-1.4zM113.3 301.1h1.4v1.4h-1.4zM113.5 311.5h1.4v1.4h-1.4zM113.5 308.8h1.4v1.4h-1.4zM113.7 307.8h1.4v1.4h-1.4zM113.7 302.9h1.4v1.4h-1.4zM113.8 297.1h1.4v1.4h-1.4zM114.0 299.3h1.4v1.4h-1.4zM114.0 294.5h1.4v1.4h-1.4zM114.2 290.2h1.4v1.4h-1.4zM114.4 299.0h1.4v1.4h-1.4zM114.5 289.1h1.4v1.4h-1.4zM114.6 284.5h1.4v1.4h-1.4zM114.7 296.8h1.4v1.4h-1.4zM114.8 286.8h1.4v1.4h-1.4zM114.9 283.3h1.4v1.4h-1.4zM115.0 285.0h1.4v1.4h-1.4zM115.1 291.5h1.4v1.4h-1.4zM115.3 290.0h1.4v1.4h-1.4zM115.4 275.8h1.4v1.4h-1.4zM115.5 284.3h1.4v1.4h-1.4zM115.7 281.0h1.4v1.4h-1.4zM115.8 282.8h1.4v1.4h-1.4zM115.9 287.7h1.4v1.4h-1.4zM116.0 283.7h1.4v1.4h-1.4zM116.1 291.5h1.4v1.4h-1.4zM116.2 277.8h1.4v1.4h-1.4zM116.3 280.1h1.4v1.4h-1.4zM116.5 286.2h1.4v1.4h-1.4zM116.6 285.0h1.4v1.4h-1.4zM116.6 291.0h1.4v1.4h-1.4zM116.8 289.3h1.4v1.4h-1.4zM116.9 296.5h1.4v1.4h-1.4zM117.1 291.5h1.4v1.4h-1.4zM117.2 293.8h1.4v1.4h-1.4zM117.3 298.6h1.4v1.4h-1.4zM117.4 298.1h1.4v1.4h-1.4zM117.6 299.5h1.4v1.4h-1.4zM117.6 302.7h1.4v1.4h-1.4zM117.7 304.4h1.4v1.4h-1.4zM117.8 301.4h1.4v1.4h-1.4zM118.0 294.5h1.4v1.4h-1.4zM118.1 304.7h1.4v1.4h-1.4zM118.2 310.1h1.4v1.4h-1.4zM118.3 306.5h1.4v1.4h-1.4zM118.5 304.8h1.4v1.4h-1.4zM118.5 305.1h1.4v1.4h-1.4zM118.7 304.3h1.4v1.4h-1.4zM118.9 312.4h1.4v1.4h-1.4zM118.9 310.5h1.4v1.4h-1.4zM119.1 314.5h1.4v1.4h-1.4zM119.1 317.9h1.4v1.4h-1.4zM119.2 309.4h1.4v1.4h-1.4zM119.4 313.5h1.4v1.4h-1.4zM119.5 318.4h1.4v1.4h-1.4zM119.7 315.7h1.4v1.4h-1.4zM119.7 320.9h1.4v1.4h-1.4zM119.9 318.9h1.4v1.4h-1.4zM119.9 322.9h1.4v1.4h-1.4zM120.1 327.9h1.4v1.4h-1.4zM120.3 320.1h1.4v1.4h-1.4zM120.4 324.6h1.4v1.4h-1.4zM120.5 321.7h1.4v1.4h-1.4zM120.6 330.3h1.4v1.4h-1.4zM120.7 328.3h1.4v1.4h-1.4zM120.8 331.5h1.4v1.4h-1.4zM120.9 340.9h1.4v1.4h-1.4zM121.0 329.4h1.4v1.4h-1.4zM121.2 340.3h1.4v1.4h-1.4zM121.3 340.7h1.4v1.4h-1.4zM121.3 333.2h1.4v1.4h-1.4zM121.5 345.6h1.4v1.4h-1.4zM121.7 344.7h1.4v1.4h-1.4zM121.7 340.1h1.4v1.4h-1.4zM121.9 343.8h1.4v1.4h-1.4zM122.0 336.6h1.4v1.4h-1.4zM122.1 336.7h1.4v1.4h-1.4zM122.2 342.7h1.4v1.4h-1.4zM122.4 333.0h1.4v1.4h-1.4zM122.5 329.4h1.4v1.4h-1.4zM122.6 334.0h1.4v1.4h-1.4zM122.7 335.3h1.4v1.4h-1.4zM122.7 340.5h1.4v1.4h-1.4zM122.9 338.9h1.4v1.4h-1.4zM123.1 335.3h1.4v1.4h-1.4zM123.2 336.4h1.4v1.4h-1.4zM123.3 333.5h1.4v1.4h-1.4zM123.4 340.2h1.4v1.4h-1.4zM123.5 343.3h1.4v1.4h-1.4zM123.7 333.4h1.4v1.4h-1.4zM123.8 345.8h1.4v1.4h-1.4zM123.8 343.1h1.4v1.4h-1.4zM124.0 336.0h1.4v1.4h-1.4zM124.1 336.0h1.4v1.4h-1.4zM124.2 340.4h1.4v1.4h-1.4zM124.3 345.3h1.4v1.4h-1.4zM124.5 339.2h1.4v1.4h-1.4zM124.6 337.3h1.4v1.4h-1.4zM124.6 334.3h1.4v1.4h-1.4zM124.8 337.5h1.4v1.4h-1.4zM124.9 340.8h1.4v1.4h-1.4zM125.0 334.2h1.4v1.4h-1.4zM125.2 340.9h1.4v1.4h-1.4zM125.3 333.5h1.4v1.4h-1.4zM125.4 339.1h1.4v1.4h-1.4zM125.5 338.9h1.4v1.4h-1.4zM125.6 336.3h1.4v1.4h-1.4zM125.8 337.2h1.4v1.4h-1.4zM125.9 331.7h1.4v1.4h-1.4zM126.0 339.1h1.4v1.4h-1.4zM126.1 334.5h1.4v1.4h-1.4zM126.3 332.6h1.4v1.4h-1.4zM126.4 333.9h1.4v1.4h-1.4zM126.4 337.1h1.4v1.4h-1.4zM126.5 336.9h1.4v1.4h-1.4zM126.7 330.5h1.4v1.4h-1.4zM126.8 326.2h1.4v1.4h-1.4zM126.9 327.3h1.4v1.4h-1.4zM127.0 323.2h1.4v1.4h-1.4zM127.1 316.7h1.4v1.4h-1.4zM127.3 325.6h1.4v1.4h-1.4zM127.3 326.7h1.4v1.4h-1.4zM127.5 322.9h1.4v1.4h-1.4zM127.6 323.4h1.4v1.4h-1.4zM127.8 321.9h1.4v1.4h-1.4zM127.9 312.4h1.4v1.4h-1.4zM128.0 319.2h1.4v1.4h-1.4zM128.1 320.7h1.4v1.4h-1.4zM128.2 315.8h1.4v1.4h-1.4zM128.3 312.0h1.4v1.4h-1.4zM128.4 311.5h1.4v1.4h-1.4zM128.6 307.9h1.4v1.4h-1.4zM128.7 308.3h1.4v1.4h-1.4zM128.8 301.6h1.4v1.4h-1.4zM128.9 306.8h1.4v1.4h-1.4zM129.1 307.1h1.4v1.4h-1.4zM129.1 306.7h1.4v1.4h-1.4zM129.3 298.4h1.4v1.4h-1.4zM129.4 301.1h1.4v1.4h-1.4zM129.5 299.0h1.4v1.4h-1.4zM129.6 295.1h1.4v1.4h-1.4zM129.7 295.3h1.4v1.4h-1.4zM129.9 293.5h1.4v1.4h-1.4zM130.0 298.7h1.4v1.4h-1.4zM130.1 290.7h1.4v1.4h-1.4zM130.2 287.8h1.4v1.4h-1.4zM130.3 295.5h1.4v1.4h-1.4zM130.5 286.8h1.4v1.4h-1.4zM130.6 284.4h1.4v1.4h-1.4zM130.7 292.0h1.4v1.4h-1.4zM130.7 287.4h1.4v1.4h-1.4zM130.9 285.8h1.4v1.4h-1.4zM131.1 290.5h1.4v1.4h-1.4zM131.1 278.6h1.4v1.4h-1.4zM131.3 283.0h1.4v1.4h-1.4zM131.4 288.8h1.4v1.4h-1.4zM131.5 282.4h1.4v1.4h-1.4zM131.6 279.4h1.4v1.4h-1.4zM131.7 288.5h1.4v1.4h-1.4zM131.9 293.1h1.4v1.4h-1.4zM132.0 299.8h1.4v1.4h-1.4zM132.1 294.8h1.4v1.4h-1.4zM132.2 294.4h1.4v1.4h-1.4zM132.3 286.5h1.4v1.4h-1.4zM132.5 298.2h1.4v1.4h-1.4zM132.6 304.5h1.4v1.4h-1.4zM132.7 304.2h1.4v1.4h-1.4zM132.8 302.9h1.4v1.4h-1.4zM132.9 308.0h1.4v1.4h-1.4zM133.1 307.9h1.4v1.4h-1.4zM133.2 309.7h1.4v1.4h-1.4zM133.3 307.9h1.4v1.4h-1.4zM133.3 310.6h1.4v1.4h-1.4zM133.5 310.7h1.4v1.4h-1.4zM133.6 303.8h1.4v1.4h-1.4zM133.7 311.0h1.4v1.4h-1.4zM133.9 311.7h1.4v1.4h-1.4zM134.0 315.2h1.4v1.4h-1.4zM134.1 320.6h1.4v1.4h-1.4zM134.2 317.3h1.4v1.4h-1.4zM134.3 314.5h1.4v1.4h-1.4zM134.4 310.5h1.4v1.4h-1.4zM134.6 321.4h1.4v1.4h-1.4zM134.7 322.8h1.4v1.4h-1.4zM134.8 320.4h1.4v1.4h-1.4zM134.9 328.3h1.4v1.4h-1.4zM135.0 331.5h1.4v1.4h-1.4zM135.1 317.6h1.4v1.4h-1.4zM135.3 329.3h1.4v1.4h-1.4zM135.4 328.9h1.4v1.4h-1.4zM135.5 331.6h1.4v1.4h-1.4zM135.6 334.9h1.4v1.4h-1.4zM135.7 324.6h1.4v1.4h-1.4zM135.8 332.3h1.4v1.4h-1.4zM135.9 338.5h1.4v1.4h-1.4zM136.1 341.1h1.4v1.4h-1.4zM136.2 337.9h1.4v1.4h-1.4zM136.3 337.0h1.4v1.4h-1.4zM136.4 337.4h1.4v1.4h-1.4zM136.6 331.7h1.4v1.4h-1.4zM136.6 333.6h1.4v1.4h-1.4zM136.8 345.2h1.4v1.4h-1.4zM136.9 340.6h1.4v1.4h-1.4zM137.0 337.4h1.4v1.4h-1.4zM137.1 335.5h1.4v1.4h-1.4zM137.3 339.5h1.4v1.4h-1.4zM137.4 345.7h1.4v1.4h-1.4zM137.5 340.7h1.4v1.4h-1.4zM137.6 343.9h1.4v1.4h-1.4zM137.7 338.6h1.4v1.4h-1.4zM137.8 345.5h1.4v1.4h-1.4zM137.9 343.0h1.4v1.4h-1.4zM138.1 336.6h1.4v1.4h-1.4zM138.2 345.4h1.4v1.4h-1.4zM138.3 335.8h1.4v1.4h-1.4zM138.5 338.5h1.4v1.4h-1.4zM138.6 335.7h1.4v1.4h-1.4zM138.7 335.5h1.4v1.4h-1.4zM138.8 339.9h1.4v1.4h-1.4zM138.9 342.1h1.4v1.4h-1.4zM139.0 331.9h1.4v1.4h-1.4zM139.1 339.9h1.4v1.4h-1.4zM139.3 341.3h1.4v1.4h-1.4zM139.4 339.8h1.4v1.4h-1.4zM139.5 343.0h1.4v1.4h-1.4zM139.7 338.0h1.4v1.4h-1.4zM139.8 335.0h1.4v1.4h-1.4zM139.9 336.6h1.4v1.4h-1.4zM140.0 343.8h1.4v1.4h-1.4zM140.2 347.4h1.4v1.4h-1.4zM140.2 337.0h1.4v1.4h-1.4zM140.3 345.8h1.4v1.4h-1.4zM140.4 340.1h1.4v1.4h-1.4zM140.5 344.1h1.4v1.4h-1.4zM140.7 337.5h1.4v1.4h-1.4zM140.7 341.8h1.4v1.4h-1.4zM140.9 341.2h1.4v1.4h-1.4zM141.0 340.1h1.4v1.4h-1.4zM141.2 340.0h1.4v1.4h-1.4zM141.3 335.3h1.4v1.4h-1.4zM141.4 344.1h1.4v1.4h-1.4zM141.5 343.2h1.4v1.4h-1.4zM141.7 344.5h1.4v1.4h-1.4zM141.8 341.1h1.4v1.4h-1.4zM141.9 344.0h1.4v1.4h-1.4zM142.0 334.3h1.4v1.4h-1.4zM142.0 336.2h1.4v1.4h-1.4zM142.2 336.6h1.4v1.4h-1.4zM142.3 335.3h1.4v1.4h-1.4zM142.5 331.4h1.4v1.4h-1.4zM142.6 344.6h1.4v1.4h-1.4zM142.6 333.5h1.4v1.4h-1.4zM142.8 331.9h1.4v1.4h-1.4zM142.9 333.7h1.4v1.4h-1.4zM143.0 332.1h1.4v1.4h-1.4zM143.2 333.9h1.4v1.4h-1.4zM143.2 334.1h1.4v1.4h-1.4zM143.3 321.2h1.4v1.4h-1.4zM143.5 332.0h1.4v1.4h-1.4zM143.6 330.9h1.4v1.4h-1.4zM143.8 326.4h1.4v1.4h-1.4zM143.9 329.1h1.4v1.4h-1.4zM144.0 326.8h1.4v1.4h-1.4zM144.1 328.1h1.4v1.4h-1.4zM144.2 323.1h1.4v1.4h-1.4zM144.3 315.0h1.4v1.4h-1.4zM144.4 325.1h1.4v1.4h-1.4zM144.5 302.1h1.4v1.4h-1.4zM144.6 320.2h1.4v1.4h-1.4zM144.8 318.3h1.4v1.4h-1.4zM144.9 310.4h1.4v1.4h-1.4zM145.1 318.6h1.4v1.4h-1.4zM145.1 319.4h1.4v1.4h-1.4zM145.2 330.0h1.4v1.4h-1.4zM145.4 304.4h1.4v1.4h-1.4zM145.6 317.9h1.4v1.4h-1.4zM145.7 319.4h1.4v1.4h-1.4zM145.7 308.0h1.4v1.4h-1.4zM145.8 297.2h1.4v1.4h-1.4zM146.0 307.4h1.4v1.4h-1.4zM146.1 303.2h1.4v1.4h-1.4zM146.2 304.0h1.4v1.4h-1.4zM146.3 281.9h1.4v1.4h-1.4zM146.5 283.8h1.4v1.4h-1.4zM146.5 284.2h1.4v1.4h-1.4zM146.6 295.8h1.4v1.4h-1.4zM146.8 297.9h1.4v1.4h-1.4zM146.9 300.4h1.4v1.4h-1.4zM147.0 315.0h1.4v1.4h-1.4zM147.1 316.5h1.4v1.4h-1.4zM147.3 309.8h1.4v1.4h-1.4zM147.3 308.9h1.4v1.4h-1.4zM147.5 318.6h1.4v1.4h-1.4zM147.6 313.8h1.4v1.4h-1.4zM147.8 318.7h1.4v1.4h-1.4zM147.9 317.5h1.4v1.4h-1.4zM148.0 319.7h1.4v1.4h-1.4zM148.1 319.3h1.4v1.4h-1.4zM148.3 314.4h1.4v1.4h-1.4zM148.3 328.9h1.4v1.4h-1.4zM148.5 308.4h1.4v1.4h-1.4zM148.6 320.2h1.4v1.4h-1.4zM148.7 317.8h1.4v1.4h-1.4zM148.8 323.5h1.4v1.4h-1.4zM148.9 324.1h1.4v1.4h-1.4zM149.0 318.9h1.4v1.4h-1.4zM149.2 323.5h1.4v1.4h-1.4zM149.2 312.8h1.4v1.4h-1.4zM149.4 323.7h1.4v1.4h-1.4zM149.5 317.2h1.4v1.4h-1.4zM149.6 326.4h1.4v1.4h-1.4zM149.8 324.3h1.4v1.4h-1.4zM149.8 327.8h1.4v1.4h-1.4zM149.9 323.6h1.4v1.4h-1.4zM150.1 324.2h1.4v1.4h-1.4zM150.2 330.5h1.4v1.4h-1.4zM150.3 325.0h1.4v1.4h-1.4zM150.5 326.9h1.4v1.4h-1.4zM150.6 331.6h1.4v1.4h-1.4zM150.7 331.7h1.4v1.4h-1.4zM150.8 326.5h1.4v1.4h-1.4zM150.9 326.3h1.4v1.4h-1.4zM151.0 335.7h1.4v1.4h-1.4zM151.2 334.5h1.4v1.4h-1.4zM151.3 337.0h1.4v1.4h-1.4zM151.3 329.7h1.4v1.4h-1.4zM151.4 330.4h1.4v1.4h-1.4zM151.6 335.5h1.4v1.4h-1.4zM151.7 339.4h1.4v1.4h-1.4zM151.9 335.5h1.4v1.4h-1.4zM151.9 334.1h1.4v1.4h-1.4zM152.0 327.6h1.4v1.4h-1.4zM152.2 337.5h1.4v1.4h-1.4zM152.3 338.3h1.4v1.4h-1.4zM152.4 333.0h1.4v1.4h-1.4zM152.6 339.0h1.4v1.4h-1.4zM152.6 336.7h1.4v1.4h-1.4zM152.8 340.8h1.4v1.4h-1.4zM152.9 338.3h1.4v1.4h-1.4zM153.0 338.1h1.4v1.4h-1.4zM153.1 333.2h1.4v1.4h-1.4zM153.3 335.5h1.4v1.4h-1.4zM153.4 328.4h1.4v1.4h-1.4zM153.5 340.6h1.4v1.4h-1.4zM153.7 332.2h1.4v1.4h-1.4zM153.7 337.7h1.4v1.4h-1.4zM153.8 331.3h1.4v1.4h-1.4zM153.9 333.8h1.4v1.4h-1.4zM154.1 337.5h1.4v1.4h-1.4zM154.2 335.8h1.4v1.4h-1.4zM154.3 337.1h1.4v1.4h-1.4zM154.5 332.3h1.4v1.4h-1.4zM154.6 326.4h1.4v1.4h-1.4zM154.7 333.0h1.4v1.4h-1.4zM154.8 339.1h1.4v1.4h-1.4zM154.9 341.9h1.4v1.4h-1.4zM155.0 335.7h1.4v1.4h-1.4zM155.1 328.1h1.4v1.4h-1.4zM155.2 350.6h1.4v1.4h-1.4zM155.4 343.6h1.4v1.4h-1.4zM155.5 341.2h1.4v1.4h-1.4zM155.6 333.7h1.4v1.4h-1.4zM155.8 341.2h1.4v1.4h-1.4zM155.8 337.7h1.4v1.4h-1.4zM156.0 342.6h1.4v1.4h-1.4zM156.1 347.2h1.4v1.4h-1.4zM156.2 339.7h1.4v1.4h-1.4zM156.3 344.7h1.4v1.4h-1.4zM156.5 345.6h1.4v1.4h-1.4zM156.5 338.1h1.4v1.4h-1.4zM156.7 336.9h1.4v1.4h-1.4zM156.8 348.0h1.4v1.4h-1.4zM156.9 341.9h1.4v1.4h-1.4zM157.0 339.1h1.4v1.4h-1.4zM157.1 336.5h1.4v1.4h-1.4zM157.3 329.3h1.4v1.4h-1.4zM157.4 338.9h1.4v1.4h-1.4zM157.5 342.3h1.4v1.4h-1.4zM157.6 338.0h1.4v1.4h-1.4zM157.7 338.4h1.4v1.4h-1.4zM157.9 333.9h1.4v1.4h-1.4zM157.9 343.7h1.4v1.4h-1.4zM158.1 329.6h1.4v1.4h-1.4zM158.2 332.2h1.4v1.4h-1.4zM158.4 324.2h1.4v1.4h-1.4zM158.4 330.3h1.4v1.4h-1.4zM158.6 331.5h1.4v1.4h-1.4zM158.7 332.6h1.4v1.4h-1.4zM158.8 327.9h1.4v1.4h-1.4zM158.9 332.8h1.4v1.4h-1.4zM159.1 334.4h1.4v1.4h-1.4zM159.1 322.8h1.4v1.4h-1.4zM159.3 330.2h1.4v1.4h-1.4zM159.4 328.1h1.4v1.4h-1.4zM159.5 327.5h1.4v1.4h-1.4zM159.7 319.5h1.4v1.4h-1.4zM159.7 325.1h1.4v1.4h-1.4zM159.8 329.2h1.4v1.4h-1.4zM159.9 333.6h1.4v1.4h-1.4zM160.1 317.7h1.4v1.4h-1.4zM160.2 317.6h1.4v1.4h-1.4zM160.3 319.4h1.4v1.4h-1.4zM160.4 318.0h1.4v1.4h-1.4zM160.5 315.9h1.4v1.4h-1.4zM160.7 326.0h1.4v1.4h-1.4zM160.8 317.5h1.4v1.4h-1.4zM160.9 316.7h1.4v1.4h-1.4zM161.1 292.2h1.4v1.4h-1.4zM161.2 321.5h1.4v1.4h-1.4zM161.2 309.3h1.4v1.4h-1.4zM161.4 323.9h1.4v1.4h-1.4zM161.5 315.7h1.4v1.4h-1.4zM161.6 299.3h1.4v1.4h-1.4zM161.8 285.8h1.4v1.4h-1.4zM161.9 319.3h1.4v1.4h-1.4zM161.9 311.9h1.4v1.4h-1.4zM162.0 319.2h1.4v1.4h-1.4zM162.2 322.1h1.4v1.4h-1.4zM162.4 318.5h1.4v1.4h-1.4zM162.4 320.0h1.4v1.4h-1.4zM162.5 301.1h1.4v1.4h-1.4zM162.6 325.8h1.4v1.4h-1.4zM162.8 321.5h1.4v1.4h-1.4zM162.9 315.4h1.4v1.4h-1.4zM163.0 323.8h1.4v1.4h-1.4zM163.1 317.2h1.4v1.4h-1.4zM163.3 323.8h1.4v1.4h-1.4zM163.4 303.4h1.4v1.4h-1.4zM163.6 327.5h1.4v1.4h-1.4zM163.6 321.6h1.4v1.4h-1.4zM163.7 328.4h1.4v1.4h-1.4zM163.9 324.7h1.4v1.4h-1.4zM164.0 336.1h1.4v1.4h-1.4zM164.0 327.9h1.4v1.4h-1.4zM164.2 330.8h1.4v1.4h-1.4zM164.3 330.8h1.4v1.4h-1.4zM164.4 339.8h1.4v1.4h-1.4zM164.6 330.0h1.4v1.4h-1.4zM164.6 337.2h1.4v1.4h-1.4zM164.8 335.7h1.4v1.4h-1.4zM164.9 342.6h1.4v1.4h-1.4zM165.0 339.3h1.4v1.4h-1.4zM165.2 343.9h1.4v1.4h-1.4zM165.2 347.2h1.4v1.4h-1.4zM165.4 340.4h1.4v1.4h-1.4zM165.5 346.8h1.4v1.4h-1.4zM165.6 333.0h1.4v1.4h-1.4zM165.8 348.1h1.4v1.4h-1.4zM165.8 336.0h1.4v1.4h-1.4zM165.9 346.9h1.4v1.4h-1.4zM166.1 349.3h1.4v1.4h-1.4zM166.3 345.6h1.4v1.4h-1.4zM166.3 348.3h1.4v1.4h-1.4zM166.4 344.8h1.4v1.4h-1.4zM166.6 344.6h1.4v1.4h-1.4zM166.7 345.8h1.4v1.4h-1.4zM166.8 351.9h1.4v1.4h-1.4zM166.9 348.9h1.4v1.4h-1.4zM167.0 346.1h1.4v1.4h-1.4zM167.2 353.3h1.4v1.4h-1.4zM167.2 353.9h1.4v1.4h-1.4zM167.4 355.0h1.4v1.4h-1.4zM167.5 354.2h1.4v1.4h-1.4zM167.7 354.9h1.4v1.4h-1.4zM167.7 353.6h1.4v1.4h-1.4zM167.8 353.8h1.4v1.4h-1.4zM168.0 356.7h1.4v1.4h-1.4zM168.1 353.0h1.4v1.4h-1.4zM168.2 356.6h1.4v1.4h-1.4zM168.3 355.3h1.4v1.4h-1.4zM168.5 352.3h1.4v1.4h-1.4zM168.6 357.5h1.4v1.4h-1.4zM168.7 356.7h1.4v1.4h-1.4zM168.8 355.2h1.4v1.4h-1.4zM168.9 352.2h1.4v1.4h-1.4zM169.0 348.7h1.4v1.4h-1.4zM169.1 357.1h1.4v1.4h-1.4zM169.3 360.7h1.4v1.4h-1.4zM169.4 353.4h1.4v1.4h-1.4zM169.5 361.9h1.4v1.4h-1.4zM169.6 366.9h1.4v1.4h-1.4zM169.8 358.6h1.4v1.4h-1.4zM169.8 358.5h1.4v1.4h-1.4zM170.0 355.1h1.4v1.4h-1.4zM170.1 353.8h1.4v1.4h-1.4zM170.2 355.0h1.4v1.4h-1.4zM170.3 356.2h1.4v1.4h-1.4zM170.4 348.0h1.4v1.4h-1.4zM170.6 361.1h1.4v1.4h-1.4zM170.7 359.1h1.4v1.4h-1.4zM170.8 357.8h1.4v1.4h-1.4zM170.9 356.7h1.4v1.4h-1.4zM171.0 357.9h1.4v1.4h-1.4zM171.1 352.7h1.4v1.4h-1.4zM171.3 355.4h1.4v1.4h-1.4zM171.4 362.5h1.4v1.4h-1.4zM171.5 357.2h1.4v1.4h-1.4zM171.6 354.3h1.4v1.4h-1.4zM171.7 358.8h1.4v1.4h-1.4zM171.8 356.0h1.4v1.4h-1.4zM171.9 358.4h1.4v1.4h-1.4zM172.1 364.2h1.4v1.4h-1.4zM172.2 356.7h1.4v1.4h-1.4zM172.3 354.3h1.4v1.4h-1.4zM172.4 354.7h1.4v1.4h-1.4zM172.6 349.4h1.4v1.4h-1.4zM172.7 351.8h1.4v1.4h-1.4zM172.8 345.2h1.4v1.4h-1.4zM172.9 351.3h1.4v1.4h-1.4zM173.1 349.5h1.4v1.4h-1.4zM173.1 344.0h1.4v1.4h-1.4zM173.3 344.5h1.4v1.4h-1.4zM173.4 345.1h1.4v1.4h-1.4zM173.5 352.6h1.4v1.4h-1.4zM173.6 347.5h1.4v1.4h-1.4zM173.7 345.2h1.4v1.4h-1.4zM173.8 342.4h1.4v1.4h-1.4zM174.0 344.2h1.4v1.4h-1.4zM174.1 339.7h1.4v1.4h-1.4zM174.2 339.8h1.4v1.4h-1.4zM174.3 333.0h1.4v1.4h-1.4zM174.4 337.3h1.4v1.4h-1.4zM174.5 335.5h1.4v1.4h-1.4zM174.7 339.0h1.4v1.4h-1.4zM174.8 328.6h1.4v1.4h-1.4zM174.9 330.8h1.4v1.4h-1.4zM175.0 325.1h1.4v1.4h-1.4zM175.2 328.4h1.4v1.4h-1.4zM175.2 318.4h1.4v1.4h-1.4zM175.4 330.5h1.4v1.4h-1.4zM175.5 302.0h1.4v1.4h-1.4zM175.6 321.8h1.4v1.4h-1.4zM175.8 325.4h1.4v1.4h-1.4zM175.9 301.6h1.4v1.4h-1.4zM176.0 320.8h1.4v1.4h-1.4zM176.1 290.7h1.4v1.4h-1.4zM176.2 322.1h1.4v1.4h-1.4zM176.4 305.4h1.4v1.4h-1.4zM176.5 321.4h1.4v1.4h-1.4zM176.5 330.9h1.4v1.4h-1.4zM176.7 317.6h1.4v1.4h-1.4zM176.8 316.0h1.4v1.4h-1.4zM176.9 318.5h1.4v1.4h-1.4zM177.0 286.4h1.4v1.4h-1.4zM177.2 327.8h1.4v1.4h-1.4zM177.3 323.9h1.4v1.4h-1.4zM177.4 302.2h1.4v1.4h-1.4zM177.5 303.6h1.4v1.4h-1.4zM177.6 319.8h1.4v1.4h-1.4zM177.8 315.9h1.4v1.4h-1.4zM177.9 323.9h1.4v1.4h-1.4zM178.0 330.3h1.4v1.4h-1.4zM178.1 326.8h1.4v1.4h-1.4zM178.2 317.7h1.4v1.4h-1.4zM178.3 302.2h1.4v1.4h-1.4zM178.4 325.4h1.4v1.4h-1.4zM178.6 329.0h1.4v1.4h-1.4zM178.7 335.0h1.4v1.4h-1.4zM178.8 329.0h1.4v1.4h-1.4zM178.9 327.7h1.4v1.4h-1.4zM179.0 331.0h1.4v1.4h-1.4zM179.1 326.4h1.4v1.4h-1.4zM179.3 323.8h1.4v1.4h-1.4zM179.4 336.4h1.4v1.4h-1.4zM179.5 324.7h1.4v1.4h-1.4zM179.7 334.9h1.4v1.4h-1.4zM179.7 336.5h1.4v1.4h-1.4zM179.9 341.1h1.4v1.4h-1.4zM179.9 334.2h1.4v1.4h-1.4zM180.0 341.9h1.4v1.4h-1.4zM180.3 336.6h1.4v1.4h-1.4zM180.3 346.4h1.4v1.4h-1.4zM180.5 338.3h1.4v1.4h-1.4zM180.5 347.6h1.4v1.4h-1.4zM180.6 342.5h1.4v1.4h-1.4zM180.8 338.9h1.4v1.4h-1.4zM180.9 357.4h1.4v1.4h-1.4zM181.0 347.5h1.4v1.4h-1.4zM181.1 347.4h1.4v1.4h-1.4zM181.2 353.9h1.4v1.4h-1.4zM181.4 354.6h1.4v1.4h-1.4zM181.5 346.0h1.4v1.4h-1.4zM181.6 361.4h1.4v1.4h-1.4zM181.7 353.1h1.4v1.4h-1.4zM181.8 354.1h1.4v1.4h-1.4zM182.0 353.1h1.4v1.4h-1.4zM182.1 359.1h1.4v1.4h-1.4zM182.2 353.6h1.4v1.4h-1.4zM182.3 355.2h1.4v1.4h-1.4zM182.4 358.7h1.4v1.4h-1.4zM182.6 350.2h1.4v1.4h-1.4zM182.7 361.2h1.4v1.4h-1.4zM182.7 352.0h1.4v1.4h-1.4zM182.9 357.1h1.4v1.4h-1.4zM183.1 349.8h1.4v1.4h-1.4zM183.2 360.4h1.4v1.4h-1.4zM183.3 361.9h1.4v1.4h-1.4zM183.4 364.6h1.4v1.4h-1.4zM183.5 365.5h1.4v1.4h-1.4zM183.6 361.6h1.4v1.4h-1.4zM183.7 357.2h1.4v1.4h-1.4zM183.9 357.6h1.4v1.4h-1.4zM183.9 360.6h1.4v1.4h-1.4zM184.1 355.3h1.4v1.4h-1.4zM184.2 363.2h1.4v1.4h-1.4zM184.4 364.8h1.4v1.4h-1.4zM184.4 352.1h1.4v1.4h-1.4zM184.6 362.5h1.4v1.4h-1.4zM184.6 360.8h1.4v1.4h-1.4zM184.7 359.8h1.4v1.4h-1.4zM184.9 357.0h1.4v1.4h-1.4zM185.0 364.6h1.4v1.4h-1.4zM185.1 357.5h1.4v1.4h-1.4zM185.3 359.2h1.4v1.4h-1.4zM185.4 352.9h1.4v1.4h-1.4zM185.4 356.7h1.4v1.4h-1.4zM185.6 355.8h1.4v1.4h-1.4zM185.8 355.8h1.4v1.4h-1.4zM185.9 354.8h1.4v1.4h-1.4zM186.0 353.1h1.4v1.4h-1.4zM186.1 362.3h1.4v1.4h-1.4zM186.2 353.0h1.4v1.4h-1.4zM186.3 355.5h1.4v1.4h-1.4zM186.5 351.8h1.4v1.4h-1.4zM186.5 361.3h1.4v1.4h-1.4zM186.6 365.9h1.4v1.4h-1.4zM186.8 355.5h1.4v1.4h-1.4zM187.0 353.9h1.4v1.4h-1.4zM187.0 354.4h1.4v1.4h-1.4zM187.1 350.7h1.4v1.4h-1.4zM187.3 350.6h1.4v1.4h-1.4zM187.3 354.4h1.4v1.4h-1.4zM187.5 356.4h1.4v1.4h-1.4zM187.6 348.8h1.4v1.4h-1.4zM187.7 352.1h1.4v1.4h-1.4zM187.9 347.6h1.4v1.4h-1.4zM188.0 356.9h1.4v1.4h-1.4zM188.0 354.8h1.4v1.4h-1.4zM188.2 348.6h1.4v1.4h-1.4zM188.3 346.5h1.4v1.4h-1.4zM188.5 342.7h1.4v1.4h-1.4zM188.6 343.6h1.4v1.4h-1.4zM188.6 340.7h1.4v1.4h-1.4zM188.8 349.2h1.4v1.4h-1.4zM188.9 336.0h1.4v1.4h-1.4zM189.0 333.9h1.4v1.4h-1.4zM189.1 345.0h1.4v1.4h-1.4zM189.2 344.8h1.4v1.4h-1.4zM189.4 337.6h1.4v1.4h-1.4zM189.4 332.8h1.4v1.4h-1.4zM189.6 334.8h1.4v1.4h-1.4zM189.7 330.2h1.4v1.4h-1.4zM189.8 328.6h1.4v1.4h-1.4zM189.9 322.7h1.4v1.4h-1.4zM190.1 330.7h1.4v1.4h-1.4zM190.2 326.6h1.4v1.4h-1.4zM190.3 306.8h1.4v1.4h-1.4zM190.4 322.6h1.4v1.4h-1.4zM190.5 303.4h1.4v1.4h-1.4zM190.6 321.3h1.4v1.4h-1.4zM190.8 292.0h1.4v1.4h-1.4zM191.0 325.4h1.4v1.4h-1.4zM191.1 304.2h1.4v1.4h-1.4zM191.2 287.1h1.4v1.4h-1.4zM191.3 318.6h1.4v1.4h-1.4zM191.4 286.7h1.4v1.4h-1.4zM191.5 320.8h1.4v1.4h-1.4zM191.6 317.3h1.4v1.4h-1.4zM191.7 314.2h1.4v1.4h-1.4zM191.8 319.7h1.4v1.4h-1.4zM192.0 310.3h1.4v1.4h-1.4zM192.1 284.9h1.4v1.4h-1.4zM192.1 307.7h1.4v1.4h-1.4zM192.3 317.1h1.4v1.4h-1.4zM192.5 314.3h1.4v1.4h-1.4zM192.6 321.7h1.4v1.4h-1.4zM192.7 295.9h1.4v1.4h-1.4zM192.8 314.0h1.4v1.4h-1.4zM192.9 316.2h1.4v1.4h-1.4zM193.0 310.5h1.4v1.4h-1.4zM193.2 321.7h1.4v1.4h-1.4zM193.2 325.0h1.4v1.4h-1.4zM193.4 296.9h1.4v1.4h-1.4zM193.4 320.7h1.4v1.4h-1.4zM193.6 321.4h1.4v1.4h-1.4zM193.7 295.9h1.4v1.4h-1.4zM193.9 318.5h1.4v1.4h-1.4zM194.0 302.0h1.4v1.4h-1.4zM194.1 322.8h1.4v1.4h-1.4zM194.2 324.2h1.4v1.4h-1.4zM194.3 326.2h1.4v1.4h-1.4zM194.4 328.0h1.4v1.4h-1.4zM194.5 325.0h1.4v1.4h-1.4zM194.6 333.9h1.4v1.4h-1.4zM194.8 329.5h1.4v1.4h-1.4zM194.9 333.7h1.4v1.4h-1.4zM195.0 329.8h1.4v1.4h-1.4zM195.2 336.1h1.4v1.4h-1.4zM195.2 327.5h1.4v1.4h-1.4zM195.4 330.4h1.4v1.4h-1.4zM195.5 339.1h1.4v1.4h-1.4zM195.7 330.1h1.4v1.4h-1.4zM195.7 326.5h1.4v1.4h-1.4zM195.9 332.6h1.4v1.4h-1.4zM196.0 334.2h1.4v1.4h-1.4zM196.1 337.0h1.4v1.4h-1.4zM196.2 337.8h1.4v1.4h-1.4zM196.3 343.0h1.4v1.4h-1.4zM196.4 342.0h1.4v1.4h-1.4zM196.6 338.3h1.4v1.4h-1.4zM196.7 343.3h1.4v1.4h-1.4zM196.8 345.7h1.4v1.4h-1.4zM196.9 330.7h1.4v1.4h-1.4zM197.1 337.2h1.4v1.4h-1.4zM197.1 337.4h1.4v1.4h-1.4zM197.2 338.8h1.4v1.4h-1.4zM197.4 340.8h1.4v1.4h-1.4zM197.5 342.0h1.4v1.4h-1.4zM197.6 339.7h1.4v1.4h-1.4zM197.7 335.9h1.4v1.4h-1.4zM197.8 346.4h1.4v1.4h-1.4zM198.0 339.5h1.4v1.4h-1.4zM198.1 340.6h1.4v1.4h-1.4zM198.2 341.0h1.4v1.4h-1.4zM198.3 342.9h1.4v1.4h-1.4zM198.4 351.0h1.4v1.4h-1.4zM198.5 337.2h1.4v1.4h-1.4zM198.7 339.0h1.4v1.4h-1.4zM198.7 342.8h1.4v1.4h-1.4zM198.9 345.6h1.4v1.4h-1.4zM199.0 344.5h1.4v1.4h-1.4zM199.1 343.5h1.4v1.4h-1.4zM199.3 344.3h1.4v1.4h-1.4zM199.3 339.3h1.4v1.4h-1.4zM199.5 338.2h1.4v1.4h-1.4zM199.6 339.8h1.4v1.4h-1.4zM199.7 340.0h1.4v1.4h-1.4zM199.9 343.4h1.4v1.4h-1.4zM200.0 348.3h1.4v1.4h-1.4zM200.1 338.2h1.4v1.4h-1.4zM200.2 338.6h1.4v1.4h-1.4zM200.3 339.0h1.4v1.4h-1.4zM200.5 345.0h1.4v1.4h-1.4zM200.6 345.8h1.4v1.4h-1.4zM200.7 351.0h1.4v1.4h-1.4zM200.8 347.4h1.4v1.4h-1.4zM200.9 341.7h1.4v1.4h-1.4zM201.0 347.1h1.4v1.4h-1.4zM201.2 342.4h1.4v1.4h-1.4zM201.3 342.6h1.4v1.4h-1.4zM201.4 337.5h1.4v1.4h-1.4zM201.5 338.4h1.4v1.4h-1.4zM201.6 337.9h1.4v1.4h-1.4zM201.7 346.7h1.4v1.4h-1.4zM201.9 344.9h1.4v1.4h-1.4zM201.9 346.1h1.4v1.4h-1.4zM202.0 340.7h1.4v1.4h-1.4zM202.2 340.1h1.4v1.4h-1.4zM202.4 343.4h1.4v1.4h-1.4zM202.4 340.9h1.4v1.4h-1.4zM202.5 338.8h1.4v1.4h-1.4zM202.7 346.9h1.4v1.4h-1.4zM202.7 344.4h1.4v1.4h-1.4zM203.0 342.2h1.4v1.4h-1.4zM203.0 335.5h1.4v1.4h-1.4zM203.1 339.0h1.4v1.4h-1.4zM203.2 339.2h1.4v1.4h-1.4zM203.4 338.1h1.4v1.4h-1.4zM203.5 336.9h1.4v1.4h-1.4zM203.6 333.8h1.4v1.4h-1.4zM203.7 326.2h1.4v1.4h-1.4zM203.9 326.7h1.4v1.4h-1.4zM204.0 326.7h1.4v1.4h-1.4zM204.1 332.4h1.4v1.4h-1.4zM204.2 327.7h1.4v1.4h-1.4zM204.3 326.5h1.4v1.4h-1.4zM204.4 325.9h1.4v1.4h-1.4zM204.5 319.6h1.4v1.4h-1.4zM204.7 318.8h1.4v1.4h-1.4zM204.8 321.6h1.4v1.4h-1.4zM204.9 311.7h1.4v1.4h-1.4zM205.1 313.1h1.4v1.4h-1.4zM205.1 315.2h1.4v1.4h-1.4zM205.3 308.9h1.4v1.4h-1.4zM205.3 316.3h1.4v1.4h-1.4zM205.5 311.5h1.4v1.4h-1.4zM205.6 319.7h1.4v1.4h-1.4zM205.7 306.3h1.4v1.4h-1.4zM205.8 307.0h1.4v1.4h-1.4zM206.0 288.0h1.4v1.4h-1.4zM206.1 313.2h1.4v1.4h-1.4zM206.1 308.5h1.4v1.4h-1.4zM206.3 284.5h1.4v1.4h-1.4zM206.4 302.2h1.4v1.4h-1.4zM206.6 306.5h1.4v1.4h-1.4zM206.7 289.5h1.4v1.4h-1.4zM206.8 297.1h1.4v1.4h-1.4zM206.9 300.7h1.4v1.4h-1.4zM207.0 302.9h1.4v1.4h-1.4zM207.1 297.8h1.4v1.4h-1.4zM207.3 291.8h1.4v1.4h-1.4zM207.4 295.5h1.4v1.4h-1.4zM207.5 281.1h1.4v1.4h-1.4zM207.6 295.5h1.4v1.4h-1.4zM207.7 275.3h1.4v1.4h-1.4zM207.8 297.8h1.4v1.4h-1.4zM208.0 292.8h1.4v1.4h-1.4zM208.1 296.2h1.4v1.4h-1.4zM208.2 297.1h1.4v1.4h-1.4zM208.3 282.7h1.4v1.4h-1.4zM208.4 294.3h1.4v1.4h-1.4zM208.5 307.0h1.4v1.4h-1.4zM208.7 303.4h1.4v1.4h-1.4zM208.8 300.4h1.4v1.4h-1.4zM208.9 307.3h1.4v1.4h-1.4zM209.0 303.8h1.4v1.4h-1.4zM209.2 299.3h1.4v1.4h-1.4zM209.3 313.8h1.4v1.4h-1.4zM209.4 304.0h1.4v1.4h-1.4zM209.5 310.1h1.4v1.4h-1.4zM209.6 309.1h1.4v1.4h-1.4zM209.7 317.4h1.4v1.4h-1.4zM209.8 317.2h1.4v1.4h-1.4zM209.9 319.7h1.4v1.4h-1.4zM210.1 315.3h1.4v1.4h-1.4zM210.2 315.8h1.4v1.4h-1.4zM210.3 316.8h1.4v1.4h-1.4zM210.4 327.8h1.4v1.4h-1.4zM210.6 322.6h1.4v1.4h-1.4zM210.6 328.1h1.4v1.4h-1.4zM210.8 323.6h1.4v1.4h-1.4zM210.8 323.6h1.4v1.4h-1.4zM211.0 323.3h1.4v1.4h-1.4zM211.2 326.9h1.4v1.4h-1.4zM211.3 324.5h1.4v1.4h-1.4zM211.4 324.9h1.4v1.4h-1.4zM211.4 326.3h1.4v1.4h-1.4zM211.6 332.1h1.4v1.4h-1.4zM211.7 336.5h1.4v1.4h-1.4zM211.8 329.5h1.4v1.4h-1.4zM212.0 330.3h1.4v1.4h-1.4zM212.1 337.7h1.4v1.4h-1.4zM212.2 332.4h1.4v1.4h-1.4zM212.4 340.9h1.4v1.4h-1.4zM212.4 332.3h1.4v1.4h-1.4zM212.5 339.2h1.4v1.4h-1.4zM212.7 342.1h1.4v1.4h-1.4zM212.7 336.9h1.4v1.4h-1.4zM212.9 338.6h1.4v1.4h-1.4zM213.0 342.8h1.4v1.4h-1.4zM213.2 346.9h1.4v1.4h-1.4zM213.3 342.8h1.4v1.4h-1.4zM213.4 347.7h1.4v1.4h-1.4zM213.5 340.5h1.4v1.4h-1.4zM213.6 340.3h1.4v1.4h-1.4zM213.8 343.6h1.4v1.4h-1.4zM213.8 334.7h1.4v1.4h-1.4zM213.9 343.2h1.4v1.4h-1.4zM214.1 342.4h1.4v1.4h-1.4zM214.2 340.6h1.4v1.4h-1.4zM214.3 343.5h1.4v1.4h-1.4zM214.4 344.3h1.4v1.4h-1.4zM214.6 349.6h1.4v1.4h-1.4zM214.6 353.9h1.4v1.4h-1.4zM214.8 338.9h1.4v1.4h-1.4zM214.9 353.2h1.4v1.4h-1.4zM215.0 346.0h1.4v1.4h-1.4zM215.1 350.6h1.4v1.4h-1.4zM215.3 342.8h1.4v1.4h-1.4zM215.4 347.1h1.4v1.4h-1.4zM215.4 349.3h1.4v1.4h-1.4zM215.6 337.6h1.4v1.4h-1.4zM215.7 345.2h1.4v1.4h-1.4zM215.9 346.9h1.4v1.4h-1.4zM215.9 347.4h1.4v1.4h-1.4zM216.1 339.5h1.4v1.4h-1.4zM216.2 341.7h1.4v1.4h-1.4zM216.4 344.1h1.4v1.4h-1.4zM216.5 339.8h1.4v1.4h-1.4zM216.5 343.6h1.4v1.4h-1.4zM216.7 349.8h1.4v1.4h-1.4zM216.8 344.4h1.4v1.4h-1.4zM216.9 343.8h1.4v1.4h-1.4zM217.0 346.8h1.4v1.4h-1.4zM217.1 351.4h1.4v1.4h-1.4zM217.3 342.0h1.4v1.4h-1.4zM217.4 343.9h1.4v1.4h-1.4zM217.5 341.7h1.4v1.4h-1.4zM217.6 349.1h1.4v1.4h-1.4zM217.7 345.6h1.4v1.4h-1.4zM217.8 345.1h1.4v1.4h-1.4zM218.0 336.4h1.4v1.4h-1.4zM218.1 347.6h1.4v1.4h-1.4zM218.2 339.5h1.4v1.4h-1.4zM218.3 348.9h1.4v1.4h-1.4zM218.5 338.9h1.4v1.4h-1.4zM218.6 347.2h1.4v1.4h-1.4zM218.6 336.3h1.4v1.4h-1.4zM218.8 332.4h1.4v1.4h-1.4zM218.9 331.2h1.4v1.4h-1.4zM219.0 335.1h1.4v1.4h-1.4zM219.1 335.7h1.4v1.4h-1.4zM219.2 332.1h1.4v1.4h-1.4zM219.4 316.1h1.4v1.4h-1.4zM219.5 328.6h1.4v1.4h-1.4zM219.6 327.2h1.4v1.4h-1.4zM219.8 312.8h1.4v1.4h-1.4zM219.8 318.1h1.4v1.4h-1.4zM219.9 316.9h1.4v1.4h-1.4zM220.1 315.8h1.4v1.4h-1.4zM220.2 313.4h1.4v1.4h-1.4zM220.3 309.1h1.4v1.4h-1.4zM220.5 312.5h1.4v1.4h-1.4zM220.6 312.6h1.4v1.4h-1.4zM220.6 312.9h1.4v1.4h-1.4zM220.8 297.6h1.4v1.4h-1.4zM220.9 310.1h1.4v1.4h-1.4zM221.0 300.0h1.4v1.4h-1.4zM221.1 311.5h1.4v1.4h-1.4zM221.3 301.2h1.4v1.4h-1.4zM221.4 297.3h1.4v1.4h-1.4zM221.5 285.0h1.4v1.4h-1.4zM221.6 287.0h1.4v1.4h-1.4zM221.7 298.6h1.4v1.4h-1.4zM221.8 292.8h1.4v1.4h-1.4zM221.9 293.4h1.4v1.4h-1.4zM222.1 291.3h1.4v1.4h-1.4zM222.2 285.9h1.4v1.4h-1.4zM222.3 285.9h1.4v1.4h-1.4zM222.4 274.2h1.4v1.4h-1.4zM222.6 283.6h1.4v1.4h-1.4zM222.7 273.8h1.4v1.4h-1.4zM222.8 277.6h1.4v1.4h-1.4zM222.9 278.8h1.4v1.4h-1.4zM223.0 279.0h1.4v1.4h-1.4zM223.1 280.1h1.4v1.4h-1.4zM223.2 289.4h1.4v1.4h-1.4zM223.3 284.5h1.4v1.4h-1.4zM223.5 286.3h1.4v1.4h-1.4zM223.7 281.4h1.4v1.4h-1.4zM223.7 286.7h1.4v1.4h-1.4zM223.9 286.3h1.4v1.4h-1.4zM223.9 295.4h1.4v1.4h-1.4zM224.0 291.0h1.4v1.4h-1.4zM224.2 300.2h1.4v1.4h-1.4zM224.3 296.2h1.4v1.4h-1.4zM224.4 285.3h1.4v1.4h-1.4zM224.5 293.4h1.4v1.4h-1.4zM224.7 299.1h1.4v1.4h-1.4zM224.8 298.7h1.4v1.4h-1.4zM224.9 298.9h1.4v1.4h-1.4zM225.1 298.2h1.4v1.4h-1.4zM225.1 299.2h1.4v1.4h-1.4zM225.2 304.4h1.4v1.4h-1.4zM225.4 307.2h1.4v1.4h-1.4zM225.5 311.0h1.4v1.4h-1.4zM225.6 308.5h1.4v1.4h-1.4zM225.7 312.4h1.4v1.4h-1.4zM225.8 317.8h1.4v1.4h-1.4zM226.0 308.2h1.4v1.4h-1.4zM226.0 312.1h1.4v1.4h-1.4zM226.2 313.3h1.4v1.4h-1.4zM226.3 315.7h1.4v1.4h-1.4zM226.4 315.9h1.4v1.4h-1.4zM226.5 326.9h1.4v1.4h-1.4zM226.7 323.7h1.4v1.4h-1.4zM226.8 317.3h1.4v1.4h-1.4zM226.9 321.5h1.4v1.4h-1.4zM227.0 318.7h1.4v1.4h-1.4zM227.2 324.3h1.4v1.4h-1.4zM227.2 319.5h1.4v1.4h-1.4zM227.4 330.4h1.4v1.4h-1.4zM227.5 334.7h1.4v1.4h-1.4zM227.6 333.0h1.4v1.4h-1.4zM227.7 332.8h1.4v1.4h-1.4zM227.8 335.5h1.4v1.4h-1.4zM228.0 334.6h1.4v1.4h-1.4zM228.1 334.7h1.4v1.4h-1.4zM228.2 337.5h1.4v1.4h-1.4zM228.3 336.0h1.4v1.4h-1.4zM228.5 335.1h1.4v1.4h-1.4zM228.5 339.6h1.4v1.4h-1.4zM228.7 342.5h1.4v1.4h-1.4zM228.7 342.9h1.4v1.4h-1.4zM228.9 345.6h1.4v1.4h-1.4zM229.0 347.0h1.4v1.4h-1.4zM229.2 343.7h1.4v1.4h-1.4zM229.3 338.5h1.4v1.4h-1.4zM229.4 339.4h1.4v1.4h-1.4zM229.5 343.4h1.4v1.4h-1.4zM229.6 334.2h1.4v1.4h-1.4zM229.8 335.8h1.4v1.4h-1.4zM229.8 341.1h1.4v1.4h-1.4zM230.0 331.9h1.4v1.4h-1.4zM230.0 335.0h1.4v1.4h-1.4zM230.2 342.7h1.4v1.4h-1.4zM230.2 337.5h1.4v1.4h-1.4zM230.4 332.6h1.4v1.4h-1.4zM230.5 333.1h1.4v1.4h-1.4zM230.7 340.2h1.4v1.4h-1.4zM230.8 337.6h1.4v1.4h-1.4zM230.9 340.7h1.4v1.4h-1.4zM231.0 343.2h1.4v1.4h-1.4zM231.2 336.7h1.4v1.4h-1.4zM231.2 338.9h1.4v1.4h-1.4zM231.4 340.2h1.4v1.4h-1.4zM231.5 332.5h1.4v1.4h-1.4zM231.5 339.2h1.4v1.4h-1.4zM231.7 344.4h1.4v1.4h-1.4zM231.9 340.3h1.4v1.4h-1.4zM231.9 340.7h1.4v1.4h-1.4zM232.0 345.5h1.4v1.4h-1.4zM232.2 341.1h1.4v1.4h-1.4zM232.3 344.7h1.4v1.4h-1.4zM232.4 342.3h1.4v1.4h-1.4zM232.5 340.5h1.4v1.4h-1.4zM232.7 342.4h1.4v1.4h-1.4zM232.8 335.0h1.4v1.4h-1.4zM232.9 337.1h1.4v1.4h-1.4zM233.0 339.8h1.4v1.4h-1.4zM233.1 346.7h1.4v1.4h-1.4zM233.3 338.8h1.4v1.4h-1.4zM233.4 331.8h1.4v1.4h-1.4zM233.5 345.1h1.4v1.4h-1.4zM233.6 337.1h1.4v1.4h-1.4zM233.7 335.6h1.4v1.4h-1.4zM233.8 334.9h1.4v1.4h-1.4zM233.9 333.3h1.4v1.4h-1.4zM234.1 330.8h1.4v1.4h-1.4zM234.2 329.6h1.4v1.4h-1.4zM234.3 332.0h1.4v1.4h-1.4zM234.4 338.2h1.4v1.4h-1.4zM234.5 336.0h1.4v1.4h-1.4zM234.6 334.0h1.4v1.4h-1.4zM234.8 327.9h1.4v1.4h-1.4zM234.9 329.4h1.4v1.4h-1.4zM235.0 326.4h1.4v1.4h-1.4zM235.1 334.4h1.4v1.4h-1.4zM235.2 326.3h1.4v1.4h-1.4zM235.4 325.1h1.4v1.4h-1.4zM235.4 324.0h1.4v1.4h-1.4zM235.6 330.0h1.4v1.4h-1.4zM235.7 317.8h1.4v1.4h-1.4zM235.8 321.3h1.4v1.4h-1.4zM236.0 314.4h1.4v1.4h-1.4zM236.1 316.1h1.4v1.4h-1.4zM236.1 316.9h1.4v1.4h-1.4zM236.3 314.1h1.4v1.4h-1.4zM236.4 317.6h1.4v1.4h-1.4zM236.5 311.2h1.4v1.4h-1.4zM236.7 319.3h1.4v1.4h-1.4zM236.8 316.9h1.4v1.4h-1.4zM236.9 316.5h1.4v1.4h-1.4zM237.0 308.0h1.4v1.4h-1.4zM237.1 301.7h1.4v1.4h-1.4zM237.2 302.6h1.4v1.4h-1.4zM237.4 302.7h1.4v1.4h-1.4zM237.5 306.9h1.4v1.4h-1.4zM237.6 293.3h1.4v1.4h-1.4zM237.7 295.0h1.4v1.4h-1.4zM237.8 309.8h1.4v1.4h-1.4zM238.0 304.3h1.4v1.4h-1.4zM238.1 286.9h1.4v1.4h-1.4zM238.2 303.0h1.4v1.4h-1.4zM238.3 304.8h1.4v1.4h-1.4zM238.5 305.3h1.4v1.4h-1.4zM238.6 308.4h1.4v1.4h-1.4zM238.7 287.5h1.4v1.4h-1.4zM238.8 309.1h1.4v1.4h-1.4zM238.9 313.8h1.4v1.4h-1.4zM238.9 315.8h1.4v1.4h-1.4zM239.1 290.7h1.4v1.4h-1.4zM239.2 310.7h1.4v1.4h-1.4zM239.3 317.3h1.4v1.4h-1.4zM239.5 307.3h1.4v1.4h-1.4zM239.6 312.4h1.4v1.4h-1.4zM239.7 306.3h1.4v1.4h-1.4zM239.8 312.1h1.4v1.4h-1.4zM240.0 310.9h1.4v1.4h-1.4zM240.1 313.6h1.4v1.4h-1.4zM240.2 308.9h1.4v1.4h-1.4zM240.3 320.2h1.4v1.4h-1.4zM240.4 313.4h1.4v1.4h-1.4zM240.5 307.3h1.4v1.4h-1.4zM240.6 315.1h1.4v1.4h-1.4zM240.7 314.2h1.4v1.4h-1.4zM240.9 318.7h1.4v1.4h-1.4zM241.0 322.1h1.4v1.4h-1.4zM241.1 320.1h1.4v1.4h-1.4zM241.2 318.7h1.4v1.4h-1.4zM241.3 317.1h1.4v1.4h-1.4zM241.5 324.1h1.4v1.4h-1.4zM241.6 322.8h1.4v1.4h-1.4zM241.7 320.3h1.4v1.4h-1.4zM241.8 321.5h1.4v1.4h-1.4zM242.0 328.7h1.4v1.4h-1.4zM242.1 323.3h1.4v1.4h-1.4zM242.2 331.9h1.4v1.4h-1.4zM242.2 314.2h1.4v1.4h-1.4zM242.4 329.2h1.4v1.4h-1.4zM242.6 337.1h1.4v1.4h-1.4zM242.6 321.6h1.4v1.4h-1.4zM242.8 331.9h1.4v1.4h-1.4zM242.9 338.9h1.4v1.4h-1.4zM243.0 326.5h1.4v1.4h-1.4zM243.2 332.1h1.4v1.4h-1.4zM243.3 339.4h1.4v1.4h-1.4zM243.3 331.4h1.4v1.4h-1.4zM243.5 343.5h1.4v1.4h-1.4zM243.7 340.7h1.4v1.4h-1.4zM243.7 339.6h1.4v1.4h-1.4zM243.9 336.6h1.4v1.4h-1.4zM243.9 334.0h1.4v1.4h-1.4zM244.0 337.3h1.4v1.4h-1.4zM244.2 343.1h1.4v1.4h-1.4zM244.3 343.1h1.4v1.4h-1.4zM244.5 341.1h1.4v1.4h-1.4zM244.5 326.8h1.4v1.4h-1.4zM244.6 337.0h1.4v1.4h-1.4zM244.8 338.3h1.4v1.4h-1.4zM244.9 337.1h1.4v1.4h-1.4zM245.0 337.6h1.4v1.4h-1.4zM245.1 334.3h1.4v1.4h-1.4zM245.3 339.5h1.4v1.4h-1.4zM245.4 338.6h1.4v1.4h-1.4zM245.5 339.5h1.4v1.4h-1.4zM245.6 340.1h1.4v1.4h-1.4zM245.7 332.6h1.4v1.4h-1.4zM245.8 335.7h1.4v1.4h-1.4zM245.9 332.5h1.4v1.4h-1.4zM246.0 334.7h1.4v1.4h-1.4zM246.1 336.3h1.4v1.4h-1.4zM246.3 341.7h1.4v1.4h-1.4zM246.4 343.1h1.4v1.4h-1.4zM246.6 340.5h1.4v1.4h-1.4zM246.7 339.7h1.4v1.4h-1.4zM246.8 336.9h1.4v1.4h-1.4zM246.9 341.0h1.4v1.4h-1.4zM247.0 333.4h1.4v1.4h-1.4zM247.2 339.9h1.4v1.4h-1.4zM247.2 337.2h1.4v1.4h-1.4zM247.3 335.2h1.4v1.4h-1.4zM247.5 336.8h1.4v1.4h-1.4zM247.6 346.2h1.4v1.4h-1.4zM247.7 338.2h1.4v1.4h-1.4zM247.8 336.4h1.4v1.4h-1.4zM248.0 337.6h1.4v1.4h-1.4zM248.1 341.9h1.4v1.4h-1.4zM248.1 341.5h1.4v1.4h-1.4zM248.3 340.4h1.4v1.4h-1.4zM248.4 339.2h1.4v1.4h-1.4zM248.5 331.6h1.4v1.4h-1.4zM248.6 328.6h1.4v1.4h-1.4zM248.8 336.9h1.4v1.4h-1.4zM248.9 340.6h1.4v1.4h-1.4zM249.0 334.9h1.4v1.4h-1.4zM249.2 335.5h1.4v1.4h-1.4zM249.2 332.6h1.4v1.4h-1.4zM249.4 325.4h1.4v1.4h-1.4zM249.4 323.3h1.4v1.4h-1.4zM249.5 331.1h1.4v1.4h-1.4zM249.7 325.9h1.4v1.4h-1.4zM249.8 328.1h1.4v1.4h-1.4zM249.9 322.6h1.4v1.4h-1.4zM250.0 321.8h1.4v1.4h-1.4zM250.2 324.2h1.4v1.4h-1.4zM250.3 326.1h1.4v1.4h-1.4zM250.5 319.4h1.4v1.4h-1.4zM250.5 319.0h1.4v1.4h-1.4zM250.7 319.5h1.4v1.4h-1.4zM250.8 307.5h1.4v1.4h-1.4zM250.8 317.4h1.4v1.4h-1.4zM251.0 312.8h1.4v1.4h-1.4zM251.1 310.3h1.4v1.4h-1.4zM251.3 311.3h1.4v1.4h-1.4zM251.3 308.2h1.4v1.4h-1.4zM251.5 298.9h1.4v1.4h-1.4zM251.6 307.6h1.4v1.4h-1.4zM251.7 318.4h1.4v1.4h-1.4zM251.9 285.6h1.4v1.4h-1.4zM252.0 302.2h1.4v1.4h-1.4zM252.1 307.0h1.4v1.4h-1.4zM252.2 286.7h1.4v1.4h-1.4zM252.4 301.2h1.4v1.4h-1.4zM252.4 293.0h1.4v1.4h-1.4zM252.5 298.5h1.4v1.4h-1.4zM252.7 291.6h1.4v1.4h-1.4zM252.8 284.5h1.4v1.4h-1.4zM252.9 285.2h1.4v1.4h-1.4zM252.9 301.2h1.4v1.4h-1.4zM253.1 291.5h1.4v1.4h-1.4zM253.3 290.9h1.4v1.4h-1.4zM253.4 279.9h1.4v1.4h-1.4zM253.5 290.8h1.4v1.4h-1.4zM253.6 287.7h1.4v1.4h-1.4zM253.7 292.7h1.4v1.4h-1.4zM253.9 292.2h1.4v1.4h-1.4zM254.0 291.6h1.4v1.4h-1.4zM254.1 302.3h1.4v1.4h-1.4zM254.2 300.4h1.4v1.4h-1.4zM254.2 292.1h1.4v1.4h-1.4zM254.4 300.7h1.4v1.4h-1.4zM254.6 302.7h1.4v1.4h-1.4zM254.6 295.7h1.4v1.4h-1.4zM254.8 307.0h1.4v1.4h-1.4zM254.9 294.6h1.4v1.4h-1.4zM255.0 300.0h1.4v1.4h-1.4zM255.2 316.5h1.4v1.4h-1.4zM255.3 308.6h1.4v1.4h-1.4zM255.4 313.2h1.4v1.4h-1.4zM255.5 312.7h1.4v1.4h-1.4zM255.5 314.2h1.4v1.4h-1.4zM255.7 309.9h1.4v1.4h-1.4zM255.8 309.4h1.4v1.4h-1.4zM256.0 314.0h1.4v1.4h-1.4zM256.1 313.5h1.4v1.4h-1.4zM256.1 317.0h1.4v1.4h-1.4zM256.3 314.3h1.4v1.4h-1.4zM256.4 315.7h1.4v1.4h-1.4zM256.5 320.9h1.4v1.4h-1.4zM256.6 319.9h1.4v1.4h-1.4zM256.8 321.1h1.4v1.4h-1.4zM256.9 326.5h1.4v1.4h-1.4zM257.0 324.4h1.4v1.4h-1.4zM257.1 324.0h1.4v1.4h-1.4zM257.3 323.6h1.4v1.4h-1.4zM257.3 333.3h1.4v1.4h-1.4zM257.5 332.2h1.4v1.4h-1.4zM257.6 332.7h1.4v1.4h-1.4zM257.7 330.7h1.4v1.4h-1.4zM257.8 333.1h1.4v1.4h-1.4zM258.0 334.1h1.4v1.4h-1.4zM258.1 338.0h1.4v1.4h-1.4zM258.1 337.2h1.4v1.4h-1.4zM258.3 338.4h1.4v1.4h-1.4zM258.5 339.5h1.4v1.4h-1.4zM258.6 334.5h1.4v1.4h-1.4zM258.7 340.3h1.4v1.4h-1.4zM258.8 345.6h1.4v1.4h-1.4zM258.9 339.0h1.4v1.4h-1.4zM259.0 338.5h1.4v1.4h-1.4zM259.1 342.0h1.4v1.4h-1.4zM259.3 347.0h1.4v1.4h-1.4zM259.4 338.9h1.4v1.4h-1.4zM259.4 338.6h1.4v1.4h-1.4zM259.6 348.3h1.4v1.4h-1.4zM259.8 347.4h1.4v1.4h-1.4zM259.8 345.9h1.4v1.4h-1.4zM259.9 342.7h1.4v1.4h-1.4zM260.1 343.4h1.4v1.4h-1.4zM260.2 351.3h1.4v1.4h-1.4zM260.3 348.8h1.4v1.4h-1.4zM260.5 345.8h1.4v1.4h-1.4zM260.5 342.3h1.4v1.4h-1.4zM260.7 360.1h1.4v1.4h-1.4zM260.8 339.5h1.4v1.4h-1.4zM260.9 345.6h1.4v1.4h-1.4zM261.0 344.3h1.4v1.4h-1.4zM261.1 347.8h1.4v1.4h-1.4zM261.2 348.6h1.4v1.4h-1.4zM261.4 348.3h1.4v1.4h-1.4zM261.5 341.9h1.4v1.4h-1.4zM261.6 339.4h1.4v1.4h-1.4zM261.7 350.0h1.4v1.4h-1.4zM261.8 345.8h1.4v1.4h-1.4zM261.9 347.9h1.4v1.4h-1.4zM262.1 347.9h1.4v1.4h-1.4zM262.1 347.2h1.4v1.4h-1.4zM262.3 346.4h1.4v1.4h-1.4zM262.5 347.3h1.4v1.4h-1.4zM262.5 344.4h1.4v1.4h-1.4zM262.7 347.8h1.4v1.4h-1.4zM262.8 345.8h1.4v1.4h-1.4zM262.9 352.5h1.4v1.4h-1.4zM263.0 342.1h1.4v1.4h-1.4zM263.1 353.6h1.4v1.4h-1.4zM263.3 342.4h1.4v1.4h-1.4zM263.4 347.2h1.4v1.4h-1.4zM263.5 339.7h1.4v1.4h-1.4zM263.6 350.6h1.4v1.4h-1.4zM263.7 343.5h1.4v1.4h-1.4zM263.8 349.3h1.4v1.4h-1.4zM263.9 339.5h1.4v1.4h-1.4zM264.1 342.7h1.4v1.4h-1.4zM264.2 338.9h1.4v1.4h-1.4zM264.3 349.8h1.4v1.4h-1.4zM264.4 340.1h1.4v1.4h-1.4zM264.6 341.3h1.4v1.4h-1.4zM264.6 337.5h1.4v1.4h-1.4zM264.7 332.0h1.4v1.4h-1.4zM264.9 327.9h1.4v1.4h-1.4zM265.0 334.4h1.4v1.4h-1.4zM265.1 333.3h1.4v1.4h-1.4zM265.3 328.1h1.4v1.4h-1.4zM265.4 315.1h1.4v1.4h-1.4zM265.5 325.7h1.4v1.4h-1.4zM265.6 317.3h1.4v1.4h-1.4zM265.7 327.4h1.4v1.4h-1.4zM265.8 316.0h1.4v1.4h-1.4zM265.9 318.7h1.4v1.4h-1.4zM266.0 311.7h1.4v1.4h-1.4zM266.2 316.3h1.4v1.4h-1.4zM266.3 313.3h1.4v1.4h-1.4zM266.4 311.8h1.4v1.4h-1.4zM266.6 310.0h1.4v1.4h-1.4zM266.6 316.0h1.4v1.4h-1.4zM266.7 301.5h1.4v1.4h-1.4zM266.9 299.1h1.4v1.4h-1.4zM267.0 303.7h1.4v1.4h-1.4zM267.1 305.8h1.4v1.4h-1.4zM267.2 303.2h1.4v1.4h-1.4zM267.4 298.2h1.4v1.4h-1.4zM267.4 305.1h1.4v1.4h-1.4zM267.6 288.3h1.4v1.4h-1.4zM267.7 281.6h1.4v1.4h-1.4zM267.8 289.0h1.4v1.4h-1.4zM267.9 298.5h1.4v1.4h-1.4zM268.0 290.0h1.4v1.4h-1.4zM268.2 284.3h1.4v1.4h-1.4zM268.3 286.9h1.4v1.4h-1.4zM268.4 282.8h1.4v1.4h-1.4zM268.5 288.2h1.4v1.4h-1.4zM268.6 286.9h1.4v1.4h-1.4zM268.8 283.3h1.4v1.4h-1.4zM268.9 281.4h1.4v1.4h-1.4zM269.0 282.0h1.4v1.4h-1.4zM269.1 282.0h1.4v1.4h-1.4zM269.2 284.9h1.4v1.4h-1.4zM269.3 282.4h1.4v1.4h-1.4zM269.5 280.0h1.4v1.4h-1.4zM269.6 294.5h1.4v1.4h-1.4zM269.7 290.4h1.4v1.4h-1.4zM269.8 294.2h1.4v1.4h-1.4zM270.0 292.2h1.4v1.4h-1.4zM270.1 294.7h1.4v1.4h-1.4zM270.2 291.1h1.4v1.4h-1.4zM270.2 300.0h1.4v1.4h-1.4zM270.4 294.2h1.4v1.4h-1.4zM270.6 297.5h1.4v1.4h-1.4zM270.7 298.2h1.4v1.4h-1.4zM270.8 301.0h1.4v1.4h-1.4zM270.8 297.6h1.4v1.4h-1.4zM271.0 306.0h1.4v1.4h-1.4zM271.2 293.6h1.4v1.4h-1.4zM271.2 300.9h1.4v1.4h-1.4zM271.3 303.2h1.4v1.4h-1.4zM271.5 311.4h1.4v1.4h-1.4zM271.6 311.7h1.4v1.4h-1.4zM271.7 307.0h1.4v1.4h-1.4zM271.9 307.2h1.4v1.4h-1.4zM272.0 310.5h1.4v1.4h-1.4zM272.0 316.3h1.4v1.4h-1.4zM272.2 316.2h1.4v1.4h-1.4zM272.3 317.3h1.4v1.4h-1.4zM272.4 310.9h1.4v1.4h-1.4zM272.5 319.1h1.4v1.4h-1.4zM272.7 322.5h1.4v1.4h-1.4zM272.8 326.8h1.4v1.4h-1.4zM272.9 320.1h1.4v1.4h-1.4zM273.0 314.7h1.4v1.4h-1.4zM273.2 328.1h1.4v1.4h-1.4zM273.2 329.1h1.4v1.4h-1.4zM273.3 322.1h1.4v1.4h-1.4zM273.5 321.8h1.4v1.4h-1.4zM273.6 331.0h1.4v1.4h-1.4zM273.7 336.7h1.4v1.4h-1.4zM273.8 326.2h1.4v1.4h-1.4zM273.9 329.9h1.4v1.4h-1.4zM274.0 326.1h1.4v1.4h-1.4zM274.2 332.2h1.4v1.4h-1.4zM274.3 339.5h1.4v1.4h-1.4zM274.4 334.7h1.4v1.4h-1.4zM274.5 338.9h1.4v1.4h-1.4zM274.7 332.7h1.4v1.4h-1.4zM274.8 332.0h1.4v1.4h-1.4zM274.9 331.3h1.4v1.4h-1.4zM275.0 339.1h1.4v1.4h-1.4zM275.1 343.9h1.4v1.4h-1.4zM275.2 332.7h1.4v1.4h-1.4zM275.4 337.0h1.4v1.4h-1.4zM275.5 338.8h1.4v1.4h-1.4zM275.6 339.1h1.4v1.4h-1.4zM275.7 341.7h1.4v1.4h-1.4zM275.8 331.3h1.4v1.4h-1.4zM276.0 336.5h1.4v1.4h-1.4zM276.1 334.9h1.4v1.4h-1.4zM276.2 329.7h1.4v1.4h-1.4zM276.3 338.2h1.4v1.4h-1.4zM276.4 338.1h1.4v1.4h-1.4zM276.5 338.0h1.4v1.4h-1.4zM276.6 347.1h1.4v1.4h-1.4zM276.8 326.6h1.4v1.4h-1.4zM276.8 339.1h1.4v1.4h-1.4zM277.0 334.5h1.4v1.4h-1.4zM277.1 334.2h1.4v1.4h-1.4zM277.2 340.8h1.4v1.4h-1.4zM277.4 334.9h1.4v1.4h-1.4zM277.4 338.8h1.4v1.4h-1.4zM277.6 336.3h1.4v1.4h-1.4zM277.7 333.6h1.4v1.4h-1.4zM277.9 336.4h1.4v1.4h-1.4zM277.9 337.6h1.4v1.4h-1.4zM278.0 336.2h1.4v1.4h-1.4zM278.2 336.3h1.4v1.4h-1.4zM278.3 337.9h1.4v1.4h-1.4zM278.4 333.2h1.4v1.4h-1.4zM278.5 336.4h1.4v1.4h-1.4zM278.6 334.6h1.4v1.4h-1.4zM278.8 337.6h1.4v1.4h-1.4zM278.9 331.2h1.4v1.4h-1.4zM279.0 333.8h1.4v1.4h-1.4zM279.1 338.1h1.4v1.4h-1.4zM279.2 334.6h1.4v1.4h-1.4zM279.3 331.9h1.4v1.4h-1.4zM279.5 334.0h1.4v1.4h-1.4zM279.6 326.8h1.4v1.4h-1.4zM279.7 329.4h1.4v1.4h-1.4zM279.8 332.6h1.4v1.4h-1.4zM280.0 331.0h1.4v1.4h-1.4zM280.1 327.5h1.4v1.4h-1.4zM280.2 324.0h1.4v1.4h-1.4zM280.3 316.0h1.4v1.4h-1.4zM280.4 328.3h1.4v1.4h-1.4zM280.6 322.8h1.4v1.4h-1.4zM280.7 319.4h1.4v1.4h-1.4zM280.8 308.0h1.4v1.4h-1.4zM280.9 314.5h1.4v1.4h-1.4zM281.0 312.0h1.4v1.4h-1.4zM281.1 307.4h1.4v1.4h-1.4zM281.3 313.7h1.4v1.4h-1.4zM281.3 301.5h1.4v1.4h-1.4zM281.5 310.5h1.4v1.4h-1.4zM281.6 306.3h1.4v1.4h-1.4zM281.7 299.5h1.4v1.4h-1.4zM281.8 305.2h1.4v1.4h-1.4zM282.0 298.1h1.4v1.4h-1.4zM282.0 296.6h1.4v1.4h-1.4zM282.1 295.9h1.4v1.4h-1.4zM282.3 299.1h1.4v1.4h-1.4zM282.4 293.2h1.4v1.4h-1.4zM282.5 298.0h1.4v1.4h-1.4zM282.7 281.8h1.4v1.4h-1.4zM282.7 284.2h1.4v1.4h-1.4zM282.9 287.2h1.4v1.4h-1.4zM283.0 283.0h1.4v1.4h-1.4zM283.1 285.5h1.4v1.4h-1.4zM283.2 279.7h1.4v1.4h-1.4zM283.4 282.9h1.4v1.4h-1.4zM283.4 286.1h1.4v1.4h-1.4zM283.6 279.1h1.4v1.4h-1.4zM283.7 285.1h1.4v1.4h-1.4zM283.9 276.8h1.4v1.4h-1.4zM284.0 275.2h1.4v1.4h-1.4zM284.1 270.9h1.4v1.4h-1.4zM284.2 279.2h1.4v1.4h-1.4zM284.3 282.3h1.4v1.4h-1.4zM284.4 273.5h1.4v1.4h-1.4zM284.6 278.9h1.4v1.4h-1.4zM284.6 279.2h1.4v1.4h-1.4zM284.7 285.1h1.4v1.4h-1.4zM284.8 279.8h1.4v1.4h-1.4zM285.0 279.8h1.4v1.4h-1.4zM285.1 283.9h1.4v1.4h-1.4zM285.2 283.0h1.4v1.4h-1.4zM285.3 287.6h1.4v1.4h-1.4zM285.4 287.1h1.4v1.4h-1.4zM285.6 288.1h1.4v1.4h-1.4zM285.7 289.4h1.4v1.4h-1.4zM285.9 285.0h1.4v1.4h-1.4zM286.0 292.3h1.4v1.4h-1.4zM286.1 291.3h1.4v1.4h-1.4zM286.2 291.7h1.4v1.4h-1.4zM286.3 296.0h1.4v1.4h-1.4zM286.4 299.1h1.4v1.4h-1.4zM286.5 295.9h1.4v1.4h-1.4zM286.6 302.8h1.4v1.4h-1.4zM286.8 297.9h1.4v1.4h-1.4zM286.9 299.0h1.4v1.4h-1.4zM287.0 306.0h1.4v1.4h-1.4zM287.1 297.7h1.4v1.4h-1.4zM287.2 304.6h1.4v1.4h-1.4zM287.3 305.4h1.4v1.4h-1.4zM287.5 305.6h1.4v1.4h-1.4zM287.5 307.7h1.4v1.4h-1.4zM287.7 304.0h1.4v1.4h-1.4zM287.9 313.0h1.4v1.4h-1.4zM287.9 311.5h1.4v1.4h-1.4zM288.1 321.9h1.4v1.4h-1.4zM288.2 321.8h1.4v1.4h-1.4zM288.2 318.7h1.4v1.4h-1.4zM288.4 325.3h1.4v1.4h-1.4zM288.5 316.9h1.4v1.4h-1.4zM288.7 321.2h1.4v1.4h-1.4zM288.8 326.5h1.4v1.4h-1.4zM288.8 323.4h1.4v1.4h-1.4zM289.0 330.0h1.4v1.4h-1.4zM289.1 321.1h1.4v1.4h-1.4zM289.3 326.8h1.4v1.4h-1.4zM289.4 333.9h1.4v1.4h-1.4zM289.5 331.0h1.4v1.4h-1.4zM289.6 331.8h1.4v1.4h-1.4zM289.7 323.5h1.4v1.4h-1.4zM289.8 337.5h1.4v1.4h-1.4zM289.9 329.3h1.4v1.4h-1.4zM290.1 328.9h1.4v1.4h-1.4zM290.2 335.5h1.4v1.4h-1.4zM290.2 325.4h1.4v1.4h-1.4zM290.4 330.0h1.4v1.4h-1.4zM290.6 332.6h1.4v1.4h-1.4zM290.6 330.9h1.4v1.4h-1.4zM290.8 331.1h1.4v1.4h-1.4zM290.9 331.1h1.4v1.4h-1.4zM291.0 330.0h1.4v1.4h-1.4zM291.1 329.2h1.4v1.4h-1.4zM291.2 332.4h1.4v1.4h-1.4zM291.4 326.7h1.4v1.4h-1.4zM291.5 328.0h1.4v1.4h-1.4zM291.6 328.8h1.4v1.4h-1.4zM291.7 331.0h1.4v1.4h-1.4zM291.8 332.7h1.4v1.4h-1.4zM291.9 328.8h1.4v1.4h-1.4zM292.0 334.8h1.4v1.4h-1.4zM292.1 332.8h1.4v1.4h-1.4zM292.3 326.1h1.4v1.4h-1.4zM292.4 337.9h1.4v1.4h-1.4zM292.6 338.5h1.4v1.4h-1.4zM292.6 336.5h1.4v1.4h-1.4zM292.7 329.4h1.4v1.4h-1.4zM292.8 329.9h1.4v1.4h-1.4zM292.9 329.6h1.4v1.4h-1.4zM293.2 326.6h1.4v1.4h-1.4zM293.2 332.8h1.4v1.4h-1.4zM293.3 328.8h1.4v1.4h-1.4zM293.4 324.9h1.4v1.4h-1.4zM293.6 337.1h1.4v1.4h-1.4zM293.7 336.2h1.4v1.4h-1.4zM293.9 330.1h1.4v1.4h-1.4zM293.9 328.8h1.4v1.4h-1.4zM294.1 337.7h1.4v1.4h-1.4zM294.2 334.3h1.4v1.4h-1.4zM294.3 332.2h1.4v1.4h-1.4zM294.4 330.6h1.4v1.4h-1.4zM294.6 326.7h1.4v1.4h-1.4zM294.6 327.1h1.4v1.4h-1.4zM294.7 322.9h1.4v1.4h-1.4zM294.9 327.2h1.4v1.4h-1.4zM295.0 323.5h1.4v1.4h-1.4zM295.1 330.8h1.4v1.4h-1.4zM295.3 329.3h1.4v1.4h-1.4zM295.3 318.2h1.4v1.4h-1.4zM295.4 326.5h1.4v1.4h-1.4zM295.6 320.4h1.4v1.4h-1.4zM295.7 324.8h1.4v1.4h-1.4zM295.8 320.2h1.4v1.4h-1.4zM295.9 322.0h1.4v1.4h-1.4zM296.1 324.4h1.4v1.4h-1.4zM296.2 316.9h1.4v1.4h-1.4zM296.3 318.0h1.4v1.4h-1.4zM296.4 314.2h1.4v1.4h-1.4zM296.6 318.3h1.4v1.4h-1.4zM296.6 313.4h1.4v1.4h-1.4zM296.8 309.1h1.4v1.4h-1.4zM296.8 309.0h1.4v1.4h-1.4zM297.0 305.2h1.4v1.4h-1.4zM297.1 306.9h1.4v1.4h-1.4zM297.2 303.1h1.4v1.4h-1.4zM297.3 312.5h1.4v1.4h-1.4zM297.4 309.9h1.4v1.4h-1.4zM297.6 313.1h1.4v1.4h-1.4zM297.7 310.0h1.4v1.4h-1.4zM297.9 296.1h1.4v1.4h-1.4zM297.9 304.0h1.4v1.4h-1.4zM298.0 299.6h1.4v1.4h-1.4zM298.1 301.5h1.4v1.4h-1.4zM298.3 292.5h1.4v1.4h-1.4zM298.4 298.7h1.4v1.4h-1.4zM298.5 290.1h1.4v1.4h-1.4zM298.6 295.7h1.4v1.4h-1.4zM298.7 301.6h1.4v1.4h-1.4zM298.8 285.1h1.4v1.4h-1.4zM299.0 295.6h1.4v1.4h-1.4zM299.1 295.0h1.4v1.4h-1.4zM299.3 297.1h1.4v1.4h-1.4zM299.4 287.4h1.4v1.4h-1.4zM299.5 301.5h1.4v1.4h-1.4zM299.6 284.3h1.4v1.4h-1.4zM299.7 296.7h1.4v1.4h-1.4zM299.8 290.6h1.4v1.4h-1.4zM300.0 294.6h1.4v1.4h-1.4zM300.1 295.5h1.4v1.4h-1.4zM300.2 299.6h1.4v1.4h-1.4zM300.3 302.1h1.4v1.4h-1.4zM300.4 301.3h1.4v1.4h-1.4zM300.5 299.5h1.4v1.4h-1.4zM300.6 300.0h1.4v1.4h-1.4zM300.7 300.3h1.4v1.4h-1.4zM300.9 304.6h1.4v1.4h-1.4zM301.0 307.3h1.4v1.4h-1.4zM301.1 301.5h1.4v1.4h-1.4zM301.2 299.4h1.4v1.4h-1.4zM301.3 309.5h1.4v1.4h-1.4zM301.5 313.6h1.4v1.4h-1.4zM301.5 310.7h1.4v1.4h-1.4zM301.7 311.1h1.4v1.4h-1.4zM301.8 317.4h1.4v1.4h-1.4zM302.0 311.8h1.4v1.4h-1.4zM302.0 313.3h1.4v1.4h-1.4zM302.1 316.3h1.4v1.4h-1.4zM302.3 317.7h1.4v1.4h-1.4zM302.4 319.1h1.4v1.4h-1.4zM302.5 315.4h1.4v1.4h-1.4zM302.7 321.9h1.4v1.4h-1.4zM302.7 324.5h1.4v1.4h-1.4zM302.9 326.6h1.4v1.4h-1.4zM303.0 320.6h1.4v1.4h-1.4zM303.1 319.6h1.4v1.4h-1.4zM303.2 325.4h1.4v1.4h-1.4zM303.4 335.1h1.4v1.4h-1.4zM303.5 321.0h1.4v1.4h-1.4zM303.6 325.9h1.4v1.4h-1.4zM303.7 322.6h1.4v1.4h-1.4zM303.8 332.5h1.4v1.4h-1.4zM303.9 327.4h1.4v1.4h-1.4zM304.1 334.7h1.4v1.4h-1.4zM304.2 336.0h1.4v1.4h-1.4zM304.2 335.3h1.4v1.4h-1.4zM304.4 332.4h1.4v1.4h-1.4zM304.5 330.0h1.4v1.4h-1.4zM304.7 334.3h1.4v1.4h-1.4zM304.7 335.8h1.4v1.4h-1.4zM304.8 335.5h1.4v1.4h-1.4zM305.0 340.9h1.4v1.4h-1.4zM305.1 342.1h1.4v1.4h-1.4zM305.2 341.1h1.4v1.4h-1.4zM305.4 343.0h1.4v1.4h-1.4zM305.5 338.6h1.4v1.4h-1.4zM305.5 339.7h1.4v1.4h-1.4zM305.6 338.0h1.4v1.4h-1.4zM305.8 338.1h1.4v1.4h-1.4zM305.9 339.4h1.4v1.4h-1.4zM306.0 334.0h1.4v1.4h-1.4zM306.1 339.0h1.4v1.4h-1.4zM306.3 344.8h1.4v1.4h-1.4zM306.4 343.1h1.4v1.4h-1.4zM306.5 344.5h1.4v1.4h-1.4zM306.7 340.8h1.4v1.4h-1.4zM306.7 341.6h1.4v1.4h-1.4zM306.9 339.2h1.4v1.4h-1.4zM307.0 339.8h1.4v1.4h-1.4zM307.1 341.4h1.4v1.4h-1.4zM307.2 347.3h1.4v1.4h-1.4zM307.3 337.6h1.4v1.4h-1.4zM307.5 338.6h1.4v1.4h-1.4zM307.6 344.3h1.4v1.4h-1.4zM307.6 344.7h1.4v1.4h-1.4zM307.8 342.6h1.4v1.4h-1.4zM307.9 334.8h1.4v1.4h-1.4zM308.0 343.4h1.4v1.4h-1.4zM308.1 332.8h1.4v1.4h-1.4zM308.3 340.3h1.4v1.4h-1.4zM308.4 337.7h1.4v1.4h-1.4zM308.5 338.2h1.4v1.4h-1.4zM308.6 341.9h1.4v1.4h-1.4zM308.8 349.3h1.4v1.4h-1.4zM308.8 342.3h1.4v1.4h-1.4zM309.0 333.9h1.4v1.4h-1.4zM309.1 346.4h1.4v1.4h-1.4zM309.2 339.5h1.4v1.4h-1.4zM309.3 334.0h1.4v1.4h-1.4zM309.4 340.8h1.4v1.4h-1.4zM309.6 333.5h1.4v1.4h-1.4zM309.8 331.8h1.4v1.4h-1.4zM309.8 339.6h1.4v1.4h-1.4zM309.9 335.3h1.4v1.4h-1.4zM310.1 334.1h1.4v1.4h-1.4zM310.2 331.8h1.4v1.4h-1.4zM310.3 330.5h1.4v1.4h-1.4zM310.4 337.2h1.4v1.4h-1.4zM310.5 330.4h1.4v1.4h-1.4zM310.7 332.9h1.4v1.4h-1.4zM310.7 333.7h1.4v1.4h-1.4zM310.9 326.2h1.4v1.4h-1.4zM311.0 324.7h1.4v1.4h-1.4zM311.1 327.8h1.4v1.4h-1.4zM311.2 330.0h1.4v1.4h-1.4zM311.3 327.0h1.4v1.4h-1.4zM311.4 325.4h1.4v1.4h-1.4zM311.6 323.5h1.4v1.4h-1.4zM311.7 324.6h1.4v1.4h-1.4zM311.8 333.8h1.4v1.4h-1.4zM311.9 320.9h1.4v1.4h-1.4zM312.0 319.7h1.4v1.4h-1.4zM312.1 321.4h1.4v1.4h-1.4zM312.2 319.1h1.4v1.4h-1.4zM312.4 314.9h1.4v1.4h-1.4zM312.5 324.7h1.4v1.4h-1.4zM312.7 318.4h1.4v1.4h-1.4zM312.7 324.3h1.4v1.4h-1.4zM312.8 315.5h1.4v1.4h-1.4zM312.9 315.6h1.4v1.4h-1.4zM313.1 322.9h1.4v1.4h-1.4zM313.2 311.4h1.4v1.4h-1.4zM313.3 317.5h1.4v1.4h-1.4zM313.4 318.6h1.4v1.4h-1.4zM313.6 313.6h1.4v1.4h-1.4zM313.7 310.7h1.4v1.4h-1.4zM313.8 318.2h1.4v1.4h-1.4zM313.9 311.1h1.4v1.4h-1.4zM314.1 319.2h1.4v1.4h-1.4zM314.2 314.2h1.4v1.4h-1.4zM314.3 311.0h1.4v1.4h-1.4zM314.4 313.0h1.4v1.4h-1.4zM314.5 295.8h1.4v1.4h-1.4zM314.6 304.8h1.4v1.4h-1.4zM314.8 302.2h1.4v1.4h-1.4zM314.8 306.3h1.4v1.4h-1.4zM315.0 314.6h1.4v1.4h-1.4zM315.1 315.7h1.4v1.4h-1.4zM315.2 307.5h1.4v1.4h-1.4zM315.4 313.8h1.4v1.4h-1.4zM315.4 311.1h1.4v1.4h-1.4zM315.6 309.0h1.4v1.4h-1.4zM315.7 317.5h1.4v1.4h-1.4zM315.8 328.4h1.4v1.4h-1.4zM315.9 307.4h1.4v1.4h-1.4zM316.0 314.2h1.4v1.4h-1.4zM316.2 321.2h1.4v1.4h-1.4zM316.3 319.8h1.4v1.4h-1.4zM316.5 320.7h1.4v1.4h-1.4zM316.5 323.9h1.4v1.4h-1.4zM316.6 321.2h1.4v1.4h-1.4zM316.7 322.1h1.4v1.4h-1.4zM316.9 321.1h1.4v1.4h-1.4zM316.9 322.9h1.4v1.4h-1.4zM317.1 323.6h1.4v1.4h-1.4zM317.2 329.4h1.4v1.4h-1.4zM317.4 327.1h1.4v1.4h-1.4zM317.4 330.9h1.4v1.4h-1.4zM317.5 334.6h1.4v1.4h-1.4zM317.7 332.6h1.4v1.4h-1.4zM317.8 329.4h1.4v1.4h-1.4zM317.9 336.6h1.4v1.4h-1.4zM318.0 331.9h1.4v1.4h-1.4zM318.2 332.9h1.4v1.4h-1.4zM318.3 343.0h1.4v1.4h-1.4zM318.4 338.5h1.4v1.4h-1.4zM318.5 329.9h1.4v1.4h-1.4zM318.7 340.8h1.4v1.4h-1.4zM318.8 337.1h1.4v1.4h-1.4zM318.9 337.5h1.4v1.4h-1.4zM319.0 334.8h1.4v1.4h-1.4zM319.1 336.8h1.4v1.4h-1.4zM319.3 337.8h1.4v1.4h-1.4zM319.3 340.6h1.4v1.4h-1.4zM319.5 339.3h1.4v1.4h-1.4zM319.6 341.0h1.4v1.4h-1.4zM319.7 343.8h1.4v1.4h-1.4zM319.8 350.1h1.4v1.4h-1.4zM319.9 342.4h1.4v1.4h-1.4zM320.0 339.7h1.4v1.4h-1.4zM320.2 342.9h1.4v1.4h-1.4zM320.3 346.0h1.4v1.4h-1.4zM320.5 343.4h1.4v1.4h-1.4zM320.5 343.1h1.4v1.4h-1.4zM320.6 345.9h1.4v1.4h-1.4zM320.7 344.5h1.4v1.4h-1.4zM320.8 350.4h1.4v1.4h-1.4zM321.0 346.6h1.4v1.4h-1.4zM321.2 346.3h1.4v1.4h-1.4zM321.2 343.3h1.4v1.4h-1.4zM321.4 345.9h1.4v1.4h-1.4zM321.4 345.5h1.4v1.4h-1.4zM321.5 344.1h1.4v1.4h-1.4zM321.7 339.2h1.4v1.4h-1.4zM321.8 346.9h1.4v1.4h-1.4zM321.9 348.1h1.4v1.4h-1.4zM322.0 346.4h1.4v1.4h-1.4zM322.2 343.4h1.4v1.4h-1.4zM322.2 345.9h1.4v1.4h-1.4zM322.3 350.4h1.4v1.4h-1.4zM322.6 346.9h1.4v1.4h-1.4zM322.6 346.8h1.4v1.4h-1.4zM322.7 350.2h1.4v1.4h-1.4zM322.8 346.0h1.4v1.4h-1.4zM323.0 342.0h1.4v1.4h-1.4zM323.0 345.4h1.4v1.4h-1.4zM323.2 354.0h1.4v1.4h-1.4zM323.4 341.9h1.4v1.4h-1.4zM323.4 345.2h1.4v1.4h-1.4zM323.6 343.3h1.4v1.4h-1.4zM323.6 349.5h1.4v1.4h-1.4zM323.8 348.4h1.4v1.4h-1.4zM323.9 348.0h1.4v1.4h-1.4zM324.1 350.9h1.4v1.4h-1.4zM324.2 338.9h1.4v1.4h-1.4zM324.3 346.1h1.4v1.4h-1.4zM324.4 343.3h1.4v1.4h-1.4zM324.5 347.5h1.4v1.4h-1.4zM324.7 338.8h1.4v1.4h-1.4zM324.7 348.2h1.4v1.4h-1.4zM324.9 339.3h1.4v1.4h-1.4zM325.0 345.6h1.4v1.4h-1.4zM325.2 338.5h1.4v1.4h-1.4zM325.3 338.4h1.4v1.4h-1.4zM325.3 344.9h1.4v1.4h-1.4zM325.5 342.0h1.4v1.4h-1.4zM325.6 335.8h1.4v1.4h-1.4zM325.7 334.7h1.4v1.4h-1.4zM325.8 331.0h1.4v1.4h-1.4zM325.9 334.6h1.4v1.4h-1.4zM326.0 333.1h1.4v1.4h-1.4zM326.2 330.7h1.4v1.4h-1.4zM326.2 323.6h1.4v1.4h-1.4zM326.4 333.8h1.4v1.4h-1.4zM326.6 325.9h1.4v1.4h-1.4zM326.6 327.5h1.4v1.4h-1.4zM326.8 326.9h1.4v1.4h-1.4zM326.9 316.8h1.4v1.4h-1.4zM327.0 328.4h1.4v1.4h-1.4zM327.0 334.3h1.4v1.4h-1.4zM327.2 320.9h1.4v1.4h-1.4zM327.4 318.7h1.4v1.4h-1.4zM327.4 313.5h1.4v1.4h-1.4zM327.6 317.2h1.4v1.4h-1.4zM327.7 310.8h1.4v1.4h-1.4zM327.7 317.1h1.4v1.4h-1.4zM328.0 307.5h1.4v1.4h-1.4zM328.0 311.0h1.4v1.4h-1.4zM328.2 311.7h1.4v1.4h-1.4zM328.2 308.1h1.4v1.4h-1.4zM328.4 306.8h1.4v1.4h-1.4zM328.5 304.2h1.4v1.4h-1.4zM328.6 308.4h1.4v1.4h-1.4zM328.7 301.8h1.4v1.4h-1.4zM328.8 299.7h1.4v1.4h-1.4zM329.0 292.0h1.4v1.4h-1.4zM329.2 293.1h1.4v1.4h-1.4zM329.2 290.9h1.4v1.4h-1.4zM329.3 289.2h1.4v1.4h-1.4zM329.5 292.9h1.4v1.4h-1.4zM329.6 286.1h1.4v1.4h-1.4zM329.6 287.7h1.4v1.4h-1.4zM329.9 286.1h1.4v1.4h-1.4zM329.9 287.0h1.4v1.4h-1.4zM330.0 286.8h1.4v1.4h-1.4zM330.1 294.2h1.4v1.4h-1.4zM330.3 288.4h1.4v1.4h-1.4zM330.3 293.3h1.4v1.4h-1.4zM330.5 299.5h1.4v1.4h-1.4zM330.6 292.5h1.4v1.4h-1.4zM330.8 292.0h1.4v1.4h-1.4zM330.8 292.9h1.4v1.4h-1.4zM330.9 299.6h1.4v1.4h-1.4zM331.1 298.2h1.4v1.4h-1.4zM331.2 305.3h1.4v1.4h-1.4zM331.3 307.6h1.4v1.4h-1.4zM331.4 299.2h1.4v1.4h-1.4zM331.6 304.9h1.4v1.4h-1.4zM331.6 303.3h1.4v1.4h-1.4zM331.9 303.9h1.4v1.4h-1.4zM331.9 301.4h1.4v1.4h-1.4zM332.1 301.0h1.4v1.4h-1.4zM332.1 306.2h1.4v1.4h-1.4zM332.3 308.6h1.4v1.4h-1.4zM332.4 309.7h1.4v1.4h-1.4zM332.6 317.8h1.4v1.4h-1.4zM332.7 316.5h1.4v1.4h-1.4zM332.8 320.1h1.4v1.4h-1.4zM332.9 314.1h1.4v1.4h-1.4zM333.0 311.3h1.4v1.4h-1.4zM333.1 319.4h1.4v1.4h-1.4zM333.3 315.0h1.4v1.4h-1.4zM333.3 318.8h1.4v1.4h-1.4zM333.5 325.3h1.4v1.4h-1.4zM333.6 316.4h1.4v1.4h-1.4zM333.7 325.4h1.4v1.4h-1.4zM333.8 324.4h1.4v1.4h-1.4zM333.9 330.1h1.4v1.4h-1.4zM334.1 329.8h1.4v1.4h-1.4zM334.2 331.1h1.4v1.4h-1.4zM334.3 327.0h1.4v1.4h-1.4zM334.4 334.2h1.4v1.4h-1.4zM334.5 335.4h1.4v1.4h-1.4zM334.6 331.1h1.4v1.4h-1.4zM334.8 341.0h1.4v1.4h-1.4zM334.8 335.6h1.4v1.4h-1.4zM335.0 346.9h1.4v1.4h-1.4zM335.1 343.4h1.4v1.4h-1.4zM335.2 337.9h1.4v1.4h-1.4zM335.4 339.7h1.4v1.4h-1.4zM335.5 340.0h1.4v1.4h-1.4zM335.6 341.2h1.4v1.4h-1.4zM335.7 345.6h1.4v1.4h-1.4zM335.8 340.5h1.4v1.4h-1.4zM336.0 343.0h1.4v1.4h-1.4zM336.0 344.9h1.4v1.4h-1.4zM336.1 347.5h1.4v1.4h-1.4zM336.3 340.1h1.4v1.4h-1.4zM336.4 342.7h1.4v1.4h-1.4zM336.5 350.1h1.4v1.4h-1.4zM336.6 345.0h1.4v1.4h-1.4zM336.8 342.3h1.4v1.4h-1.4zM336.8 339.6h1.4v1.4h-1.4zM336.9 345.6h1.4v1.4h-1.4zM337.1 333.0h1.4v1.4h-1.4zM337.2 346.8h1.4v1.4h-1.4zM337.3 341.3h1.4v1.4h-1.4zM337.4 344.0h1.4v1.4h-1.4zM337.5 341.8h1.4v1.4h-1.4zM337.7 344.5h1.4v1.4h-1.4zM337.8 342.2h1.4v1.4h-1.4zM337.9 341.1h1.4v1.4h-1.4zM338.1 342.2h1.4v1.4h-1.4zM338.1 341.1h1.4v1.4h-1.4zM338.3 343.2h1.4v1.4h-1.4zM338.4 340.4h1.4v1.4h-1.4zM338.5 340.9h1.4v1.4h-1.4zM338.6 343.4h1.4v1.4h-1.4zM338.7 339.7h1.4v1.4h-1.4zM338.9 345.3h1.4v1.4h-1.4zM339.0 342.7h1.4v1.4h-1.4zM339.1 343.2h1.4v1.4h-1.4zM339.2 344.9h1.4v1.4h-1.4zM339.3 339.9h1.4v1.4h-1.4zM339.4 344.4h1.4v1.4h-1.4zM339.6 335.8h1.4v1.4h-1.4zM339.7 343.2h1.4v1.4h-1.4zM339.8 345.0h1.4v1.4h-1.4zM339.9 338.1h1.4v1.4h-1.4zM340.0 346.9h1.4v1.4h-1.4zM340.2 343.3h1.4v1.4h-1.4zM340.2 339.2h1.4v1.4h-1.4zM340.4 333.1h1.4v1.4h-1.4zM340.5 329.0h1.4v1.4h-1.4zM340.7 337.2h1.4v1.4h-1.4zM340.8 330.7h1.4v1.4h-1.4zM340.9 334.9h1.4v1.4h-1.4zM341.0 326.0h1.4v1.4h-1.4zM341.1 332.8h1.4v1.4h-1.4zM341.2 330.6h1.4v1.4h-1.4zM341.3 332.1h1.4v1.4h-1.4zM341.5 329.4h1.4v1.4h-1.4zM341.5 326.8h1.4v1.4h-1.4zM341.7 322.6h1.4v1.4h-1.4zM341.8 320.8h1.4v1.4h-1.4zM341.9 321.6h1.4v1.4h-1.4zM342.1 314.7h1.4v1.4h-1.4zM342.2 326.3h1.4v1.4h-1.4zM342.3 319.1h1.4v1.4h-1.4zM342.4 308.9h1.4v1.4h-1.4zM342.6 323.0h1.4v1.4h-1.4zM342.7 315.7h1.4v1.4h-1.4zM342.8 311.3h1.4v1.4h-1.4zM342.9 315.0h1.4v1.4h-1.4zM343.0 319.7h1.4v1.4h-1.4zM343.1 311.7h1.4v1.4h-1.4zM343.2 309.0h1.4v1.4h-1.4zM343.4 310.3h1.4v1.4h-1.4zM343.5 310.8h1.4v1.4h-1.4zM343.6 302.5h1.4v1.4h-1.4zM343.7 293.4h1.4v1.4h-1.4zM343.8 304.0h1.4v1.4h-1.4zM343.9 300.7h1.4v1.4h-1.4zM344.0 301.9h1.4v1.4h-1.4zM344.2 301.7h1.4v1.4h-1.4zM344.3 298.6h1.4v1.4h-1.4zM344.4 297.7h1.4v1.4h-1.4zM344.6 299.3h1.4v1.4h-1.4zM344.6 298.4h1.4v1.4h-1.4zM344.7 295.5h1.4v1.4h-1.4zM344.8 295.2h1.4v1.4h-1.4zM345.0 302.4h1.4v1.4h-1.4zM345.0 291.6h1.4v1.4h-1.4zM345.2 295.3h1.4v1.4h-1.4zM345.3 294.7h1.4v1.4h-1.4zM345.4 290.0h1.4v1.4h-1.4zM345.6 299.7h1.4v1.4h-1.4zM345.7 296.6h1.4v1.4h-1.4zM345.8 297.8h1.4v1.4h-1.4zM345.9 303.1h1.4v1.4h-1.4zM346.1 299.1h1.4v1.4h-1.4zM346.1 300.4h1.4v1.4h-1.4zM346.3 293.2h1.4v1.4h-1.4zM346.4 312.5h1.4v1.4h-1.4zM346.5 309.0h1.4v1.4h-1.4zM346.6 308.2h1.4v1.4h-1.4zM346.7 304.3h1.4v1.4h-1.4zM346.9 305.3h1.4v1.4h-1.4zM346.9 313.3h1.4v1.4h-1.4zM347.0 309.9h1.4v1.4h-1.4zM347.2 317.1h1.4v1.4h-1.4zM347.3 313.8h1.4v1.4h-1.4zM347.4 317.5h1.4v1.4h-1.4zM347.5 324.9h1.4v1.4h-1.4zM347.7 318.8h1.4v1.4h-1.4zM347.8 325.7h1.4v1.4h-1.4zM347.9 317.1h1.4v1.4h-1.4zM348.0 323.4h1.4v1.4h-1.4zM348.2 326.9h1.4v1.4h-1.4zM348.2 320.3h1.4v1.4h-1.4zM348.4 332.7h1.4v1.4h-1.4zM348.6 331.1h1.4v1.4h-1.4zM348.6 329.8h1.4v1.4h-1.4zM348.8 333.1h1.4v1.4h-1.4zM348.9 324.0h1.4v1.4h-1.4zM348.9 333.9h1.4v1.4h-1.4zM349.1 334.1h1.4v1.4h-1.4zM349.2 337.9h1.4v1.4h-1.4zM349.4 337.5h1.4v1.4h-1.4zM349.5 328.7h1.4v1.4h-1.4zM349.6 353.3h1.4v1.4h-1.4zM349.6 337.3h1.4v1.4h-1.4zM349.8 339.3h1.4v1.4h-1.4zM349.9 343.5h1.4v1.4h-1.4zM350.0 346.4h1.4v1.4h-1.4zM350.1 343.6h1.4v1.4h-1.4zM350.2 346.9h1.4v1.4h-1.4zM350.4 354.5h1.4v1.4h-1.4zM350.5 351.8h1.4v1.4h-1.4zM350.6 354.9h1.4v1.4h-1.4zM350.7 351.6h1.4v1.4h-1.4zM350.8 343.4h1.4v1.4h-1.4zM351.0 357.0h1.4v1.4h-1.4zM351.1 349.5h1.4v1.4h-1.4zM351.3 350.3h1.4v1.4h-1.4zM351.4 351.2h1.4v1.4h-1.4zM351.4 358.6h1.4v1.4h-1.4zM351.6 349.7h1.4v1.4h-1.4zM351.7 355.9h1.4v1.4h-1.4zM351.8 350.7h1.4v1.4h-1.4zM351.9 351.4h1.4v1.4h-1.4zM352.1 346.0h1.4v1.4h-1.4zM352.2 352.0h1.4v1.4h-1.4zM352.2 351.9h1.4v1.4h-1.4zM352.4 354.1h1.4v1.4h-1.4zM352.5 344.9h1.4v1.4h-1.4zM352.6 351.5h1.4v1.4h-1.4zM352.8 345.4h1.4v1.4h-1.4zM352.8 344.5h1.4v1.4h-1.4zM353.0 348.9h1.4v1.4h-1.4zM353.1 345.4h1.4v1.4h-1.4zM353.2 350.9h1.4v1.4h-1.4zM353.3 346.8h1.4v1.4h-1.4zM353.4 343.4h1.4v1.4h-1.4zM353.5 355.0h1.4v1.4h-1.4zM353.6 344.7h1.4v1.4h-1.4zM353.8 348.9h1.4v1.4h-1.4zM353.9 349.5h1.4v1.4h-1.4zM354.0 345.2h1.4v1.4h-1.4zM354.2 350.5h1.4v1.4h-1.4zM354.3 351.0h1.4v1.4h-1.4zM354.4 344.1h1.4v1.4h-1.4zM354.5 352.2h1.4v1.4h-1.4zM354.6 339.4h1.4v1.4h-1.4zM354.8 347.2h1.4v1.4h-1.4zM354.8 355.8h1.4v1.4h-1.4zM355.0 347.7h1.4v1.4h-1.4zM355.1 347.2h1.4v1.4h-1.4zM355.2 348.9h1.4v1.4h-1.4zM355.3 352.4h1.4v1.4h-1.4zM355.5 349.2h1.4v1.4h-1.4zM355.5 345.6h1.4v1.4h-1.4zM355.7 352.3h1.4v1.4h-1.4zM355.8 357.1h1.4v1.4h-1.4zM355.9 351.9h1.4v1.4h-1.4zM356.1 352.4h1.4v1.4h-1.4zM356.2 341.9h1.4v1.4h-1.4zM356.2 345.7h1.4v1.4h-1.4zM356.4 345.2h1.4v1.4h-1.4zM356.5 346.0h1.4v1.4h-1.4zM356.6 348.9h1.4v1.4h-1.4zM356.8 342.9h1.4v1.4h-1.4zM356.9 341.2h1.4v1.4h-1.4zM357.0 345.2h1.4v1.4h-1.4zM357.1 349.0h1.4v1.4h-1.4zM357.2 346.3h1.4v1.4h-1.4zM357.3 342.8h1.4v1.4h-1.4zM357.5 336.5h1.4v1.4h-1.4zM357.6 337.8h1.4v1.4h-1.4zM357.7 337.0h1.4v1.4h-1.4zM357.8 336.2h1.4v1.4h-1.4zM357.9 329.6h1.4v1.4h-1.4zM358.0 334.5h1.4v1.4h-1.4zM358.1 336.8h1.4v1.4h-1.4zM358.3 329.4h1.4v1.4h-1.4zM358.4 325.8h1.4v1.4h-1.4zM358.5 327.3h1.4v1.4h-1.4zM358.6 318.5h1.4v1.4h-1.4zM358.7 328.2h1.4v1.4h-1.4zM358.8 326.0h1.4v1.4h-1.4zM359.0 329.4h1.4v1.4h-1.4zM359.0 327.0h1.4v1.4h-1.4zM359.2 303.0h1.4v1.4h-1.4zM359.3 327.2h1.4v1.4h-1.4zM359.5 318.1h1.4v1.4h-1.4zM359.6 321.2h1.4v1.4h-1.4zM359.7 318.7h1.4v1.4h-1.4zM359.8 323.4h1.4v1.4h-1.4zM359.9 321.4h1.4v1.4h-1.4zM360.0 312.9h1.4v1.4h-1.4zM360.2 319.0h1.4v1.4h-1.4zM360.2 310.4h1.4v1.4h-1.4zM360.3 316.2h1.4v1.4h-1.4zM360.6 307.6h1.4v1.4h-1.4zM360.6 319.6h1.4v1.4h-1.4zM360.8 319.9h1.4v1.4h-1.4zM360.8 315.1h1.4v1.4h-1.4zM360.9 319.1h1.4v1.4h-1.4zM361.1 312.6h1.4v1.4h-1.4zM361.2 312.5h1.4v1.4h-1.4zM361.4 316.1h1.4v1.4h-1.4zM361.4 311.2h1.4v1.4h-1.4zM361.5 321.2h1.4v1.4h-1.4zM361.6 307.6h1.4v1.4h-1.4zM361.8 323.8h1.4v1.4h-1.4zM361.9 321.6h1.4v1.4h-1.4zM362.0 309.3h1.4v1.4h-1.4zM362.2 316.9h1.4v1.4h-1.4zM362.2 321.4h1.4v1.4h-1.4zM362.4 318.4h1.4v1.4h-1.4zM362.5 329.2h1.4v1.4h-1.4zM362.6 324.0h1.4v1.4h-1.4zM362.7 314.9h1.4v1.4h-1.4zM362.9 323.9h1.4v1.4h-1.4zM363.0 326.4h1.4v1.4h-1.4zM363.1 319.4h1.4v1.4h-1.4zM363.2 323.2h1.4v1.4h-1.4zM363.3 319.0h1.4v1.4h-1.4zM363.5 327.7h1.4v1.4h-1.4zM363.5 322.7h1.4v1.4h-1.4zM363.7 329.6h1.4v1.4h-1.4zM363.8 329.4h1.4v1.4h-1.4zM364.0 326.4h1.4v1.4h-1.4zM364.1 324.5h1.4v1.4h-1.4zM364.1 328.6h1.4v1.4h-1.4zM364.3 331.4h1.4v1.4h-1.4zM364.4 326.5h1.4v1.4h-1.4zM364.5 333.7h1.4v1.4h-1.4zM364.7 335.8h1.4v1.4h-1.4zM364.7 330.6h1.4v1.4h-1.4zM364.8 337.8h1.4v1.4h-1.4zM365.0 335.7h1.4v1.4h-1.4zM365.1 327.5h1.4v1.4h-1.4zM365.2 334.0h1.4v1.4h-1.4zM365.3 341.7h1.4v1.4h-1.4zM365.5 335.4h1.4v1.4h-1.4zM365.5 337.3h1.4v1.4h-1.4zM365.6 334.1h1.4v1.4h-1.4zM365.7 337.3h1.4v1.4h-1.4zM366.0 342.7h1.4v1.4h-1.4zM366.1 341.3h1.4v1.4h-1.4zM366.2 342.3h1.4v1.4h-1.4zM366.3 350.7h1.4v1.4h-1.4zM366.4 336.1h1.4v1.4h-1.4zM366.6 344.1h1.4v1.4h-1.4zM366.6 336.5h1.4v1.4h-1.4zM366.8 339.2h1.4v1.4h-1.4zM366.9 341.3h1.4v1.4h-1.4zM367.0 343.7h1.4v1.4h-1.4zM367.1 335.6h1.4v1.4h-1.4zM367.2 349.8h1.4v1.4h-1.4zM367.3 339.4h1.4v1.4h-1.4zM367.5 337.6h1.4v1.4h-1.4zM367.5 342.0h1.4v1.4h-1.4zM367.7 337.7h1.4v1.4h-1.4zM367.8 343.2h1.4v1.4h-1.4zM367.9 345.5h1.4v1.4h-1.4zM368.0 336.8h1.4v1.4h-1.4zM368.1 338.7h1.4v1.4h-1.4zM368.3 344.0h1.4v1.4h-1.4zM368.4 338.5h1.4v1.4h-1.4zM368.5 340.8h1.4v1.4h-1.4zM368.6 341.2h1.4v1.4h-1.4zM368.7 340.1h1.4v1.4h-1.4zM368.9 336.6h1.4v1.4h-1.4zM368.9 341.9h1.4v1.4h-1.4zM369.1 344.1h1.4v1.4h-1.4zM369.2 344.6h1.4v1.4h-1.4zM369.3 340.5h1.4v1.4h-1.4zM369.4 338.5h1.4v1.4h-1.4zM369.6 347.2h1.4v1.4h-1.4zM369.7 345.6h1.4v1.4h-1.4zM369.8 345.8h1.4v1.4h-1.4zM369.9 351.2h1.4v1.4h-1.4zM370.0 343.3h1.4v1.4h-1.4zM370.1 344.3h1.4v1.4h-1.4zM370.3 342.9h1.4v1.4h-1.4zM370.4 339.5h1.4v1.4h-1.4zM370.4 346.8h1.4v1.4h-1.4zM370.6 344.8h1.4v1.4h-1.4zM370.7 343.2h1.4v1.4h-1.4zM370.9 344.1h1.4v1.4h-1.4zM371.0 344.8h1.4v1.4h-1.4zM371.1 344.4h1.4v1.4h-1.4zM371.2 341.5h1.4v1.4h-1.4zM371.3 343.6h1.4v1.4h-1.4zM371.5 341.5h1.4v1.4h-1.4zM371.6 339.9h1.4v1.4h-1.4zM371.7 341.0h1.4v1.4h-1.4zM371.8 339.1h1.4v1.4h-1.4zM371.9 336.2h1.4v1.4h-1.4zM372.0 345.0h1.4v1.4h-1.4zM372.1 330.8h1.4v1.4h-1.4zM372.3 324.1h1.4v1.4h-1.4zM372.4 327.4h1.4v1.4h-1.4zM372.5 331.0h1.4v1.4h-1.4zM372.6 326.1h1.4v1.4h-1.4zM372.8 320.8h1.4v1.4h-1.4zM372.9 335.9h1.4v1.4h-1.4zM373.0 325.9h1.4v1.4h-1.4zM373.1 323.4h1.4v1.4h-1.4zM373.2 324.3h1.4v1.4h-1.4zM373.3 317.7h1.4v1.4h-1.4zM373.5 314.4h1.4v1.4h-1.4zM373.6 321.2h1.4v1.4h-1.4zM373.7 312.6h1.4v1.4h-1.4zM373.8 316.4h1.4v1.4h-1.4zM373.9 306.8h1.4v1.4h-1.4zM374.0 295.6h1.4v1.4h-1.4zM374.1 302.1h1.4v1.4h-1.4zM374.3 315.8h1.4v1.4h-1.4zM374.3 307.2h1.4v1.4h-1.4zM374.6 294.7h1.4v1.4h-1.4zM374.6 299.2h1.4v1.4h-1.4zM374.8 303.8h1.4v1.4h-1.4zM374.9 296.4h1.4v1.4h-1.4zM374.9 295.3h1.4v1.4h-1.4zM375.1 297.5h1.4v1.4h-1.4zM375.2 294.3h1.4v1.4h-1.4zM375.4 293.4h1.4v1.4h-1.4zM375.4 295.8h1.4v1.4h-1.4zM375.5 283.0h1.4v1.4h-1.4zM375.7 288.0h1.4v1.4h-1.4zM375.8 288.8h1.4v1.4h-1.4zM375.9 294.3h1.4v1.4h-1.4zM376.0 288.1h1.4v1.4h-1.4zM376.1 296.0h1.4v1.4h-1.4zM376.3 298.1h1.4v1.4h-1.4zM376.4 301.2h1.4v1.4h-1.4zM376.5 289.6h1.4v1.4h-1.4zM376.7 302.9h1.4v1.4h-1.4zM376.8 291.6h1.4v1.4h-1.4zM376.9 300.4h1.4v1.4h-1.4zM377.0 298.0h1.4v1.4h-1.4zM377.1 296.0h1.4v1.4h-1.4zM377.2 298.4h1.4v1.4h-1.4zM377.3 300.2h1.4v1.4h-1.4zM377.4 294.4h1.4v1.4h-1.4zM377.6 299.9h1.4v1.4h-1.4zM377.7 300.5h1.4v1.4h-1.4zM377.7 302.9h1.4v1.4h-1.4zM378.0 312.0h1.4v1.4h-1.4zM378.0 303.6h1.4v1.4h-1.4zM378.2 307.3h1.4v1.4h-1.4zM378.3 310.5h1.4v1.4h-1.4zM378.4 315.3h1.4v1.4h-1.4zM378.5 309.7h1.4v1.4h-1.4zM378.6 312.5h1.4v1.4h-1.4zM378.8 314.4h1.4v1.4h-1.4zM378.8 314.1h1.4v1.4h-1.4zM378.9 317.0h1.4v1.4h-1.4zM379.1 315.8h1.4v1.4h-1.4zM379.2 317.6h1.4v1.4h-1.4zM379.3 315.7h1.4v1.4h-1.4zM379.4 319.6h1.4v1.4h-1.4zM379.5 322.2h1.4v1.4h-1.4zM379.6 321.4h1.4v1.4h-1.4zM379.8 325.1h1.4v1.4h-1.4zM379.9 325.5h1.4v1.4h-1.4zM380.0 330.3h1.4v1.4h-1.4zM380.1 323.5h1.4v1.4h-1.4zM380.2 330.0h1.4v1.4h-1.4zM380.3 333.9h1.4v1.4h-1.4zM380.5 329.4h1.4v1.4h-1.4zM380.6 321.6h1.4v1.4h-1.4zM380.7 326.6h1.4v1.4h-1.4zM380.8 335.7h1.4v1.4h-1.4zM381.0 325.1h1.4v1.4h-1.4zM381.1 335.9h1.4v1.4h-1.4zM381.2 330.9h1.4v1.4h-1.4zM381.4 336.1h1.4v1.4h-1.4zM381.4 331.4h1.4v1.4h-1.4zM381.6 338.3h1.4v1.4h-1.4zM381.6 335.1h1.4v1.4h-1.4zM381.8 334.7h1.4v1.4h-1.4zM381.9 349.9h1.4v1.4h-1.4zM382.0 343.3h1.4v1.4h-1.4zM382.2 333.3h1.4v1.4h-1.4zM382.3 328.6h1.4v1.4h-1.4zM382.4 332.4h1.4v1.4h-1.4zM382.5 338.9h1.4v1.4h-1.4zM382.6 331.2h1.4v1.4h-1.4zM382.8 333.9h1.4v1.4h-1.4zM382.9 335.4h1.4v1.4h-1.4zM383.0 336.0h1.4v1.4h-1.4zM383.0 342.0h1.4v1.4h-1.4zM383.2 332.6h1.4v1.4h-1.4zM383.3 341.2h1.4v1.4h-1.4zM383.4 335.3h1.4v1.4h-1.4zM383.6 336.2h1.4v1.4h-1.4zM383.7 339.0h1.4v1.4h-1.4zM383.8 339.8h1.4v1.4h-1.4zM383.9 342.6h1.4v1.4h-1.4zM384.0 329.2h1.4v1.4h-1.4zM384.2 340.9h1.4v1.4h-1.4zM384.3 342.5h1.4v1.4h-1.4zM384.4 330.1h1.4v1.4h-1.4zM384.4 340.4h1.4v1.4h-1.4zM384.6 331.5h1.4v1.4h-1.4zM384.8 336.6h1.4v1.4h-1.4zM384.9 335.8h1.4v1.4h-1.4zM385.0 338.4h1.4v1.4h-1.4zM385.0 343.0h1.4v1.4h-1.4zM385.2 336.5h1.4v1.4h-1.4zM385.3 336.5h1.4v1.4h-1.4zM385.5 331.5h1.4v1.4h-1.4zM385.5 332.2h1.4v1.4h-1.4zM385.7 344.5h1.4v1.4h-1.4zM385.8 344.0h1.4v1.4h-1.4zM385.9 331.9h1.4v1.4h-1.4zM386.0 338.7h1.4v1.4h-1.4zM386.1 334.5h1.4v1.4h-1.4zM386.2 336.1h1.4v1.4h-1.4zM386.3 333.8h1.4v1.4h-1.4zM386.5 334.5h1.4v1.4h-1.4zM386.6 340.0h1.4v1.4h-1.4zM386.8 333.3h1.4v1.4h-1.4zM386.9 323.3h1.4v1.4h-1.4zM387.0 333.6h1.4v1.4h-1.4zM387.1 330.1h1.4v1.4h-1.4zM387.2 325.5h1.4v1.4h-1.4zM387.3 324.9h1.4v1.4h-1.4zM387.4 323.0h1.4v1.4h-1.4zM387.5 327.1h1.4v1.4h-1.4zM387.7 327.6h1.4v1.4h-1.4zM387.8 325.7h1.4v1.4h-1.4zM387.9 324.1h1.4v1.4h-1.4zM388.0 323.3h1.4v1.4h-1.4zM388.2 308.6h1.4v1.4h-1.4zM388.3 320.6h1.4v1.4h-1.4zM388.4 312.6h1.4v1.4h-1.4zM388.5 311.9h1.4v1.4h-1.4zM388.6 315.5h1.4v1.4h-1.4zM388.7 311.5h1.4v1.4h-1.4zM388.9 310.8h1.4v1.4h-1.4zM389.0 310.1h1.4v1.4h-1.4zM389.1 300.2h1.4v1.4h-1.4zM389.2 296.1h1.4v1.4h-1.4zM389.3 297.3h1.4v1.4h-1.4zM389.5 302.9h1.4v1.4h-1.4zM389.5 302.5h1.4v1.4h-1.4zM389.7 296.0h1.4v1.4h-1.4zM389.7 302.9h1.4v1.4h-1.4zM389.9 299.7h1.4v1.4h-1.4zM390.0 292.6h1.4v1.4h-1.4zM390.2 291.6h1.4v1.4h-1.4zM390.3 292.5h1.4v1.4h-1.4zM390.4 291.7h1.4v1.4h-1.4zM390.5 289.7h1.4v1.4h-1.4zM390.7 287.7h1.4v1.4h-1.4zM390.8 290.3h1.4v1.4h-1.4zM390.9 295.1h1.4v1.4h-1.4zM391.0 289.6h1.4v1.4h-1.4zM391.1 291.7h1.4v1.4h-1.4zM391.2 285.5h1.4v1.4h-1.4zM391.4 293.4h1.4v1.4h-1.4zM391.4 290.4h1.4v1.4h-1.4zM391.6 289.4h1.4v1.4h-1.4zM391.7 292.9h1.4v1.4h-1.4zM391.8 288.4h1.4v1.4h-1.4zM391.9 296.2h1.4v1.4h-1.4zM392.1 297.5h1.4v1.4h-1.4zM392.1 300.7h1.4v1.4h-1.4zM392.2 298.8h1.4v1.4h-1.4zM392.4 291.5h1.4v1.4h-1.4zM392.4 295.4h1.4v1.4h-1.4zM392.7 297.7h1.4v1.4h-1.4zM392.8 301.9h1.4v1.4h-1.4zM392.9 302.1h1.4v1.4h-1.4zM393.0 298.3h1.4v1.4h-1.4zM393.1 301.6h1.4v1.4h-1.4zM393.2 305.8h1.4v1.4h-1.4zM393.3 308.9h1.4v1.4h-1.4zM393.4 307.9h1.4v1.4h-1.4zM393.5 306.6h1.4v1.4h-1.4zM393.6 311.9h1.4v1.4h-1.4zM393.8 308.7h1.4v1.4h-1.4zM393.9 312.6h1.4v1.4h-1.4zM394.0 316.4h1.4v1.4h-1.4zM394.1 315.7h1.4v1.4h-1.4zM394.2 328.0h1.4v1.4h-1.4zM394.4 327.0h1.4v1.4h-1.4zM394.4 325.4h1.4v1.4h-1.4zM394.7 321.4h1.4v1.4h-1.4zM394.7 326.7h1.4v1.4h-1.4zM394.9 330.4h1.4v1.4h-1.4zM395.0 328.7h1.4v1.4h-1.4zM395.1 323.3h1.4v1.4h-1.4zM395.1 322.8h1.4v1.4h-1.4zM395.4 334.9h1.4v1.4h-1.4zM395.5 325.8h1.4v1.4h-1.4zM395.5 334.1h1.4v1.4h-1.4zM395.7 335.8h1.4v1.4h-1.4zM395.8 338.5h1.4v1.4h-1.4zM395.9 338.5h1.4v1.4h-1.4zM396.0 330.0h1.4v1.4h-1.4zM396.1 329.1h1.4v1.4h-1.4zM396.3 330.3h1.4v1.4h-1.4zM396.4 334.3h1.4v1.4h-1.4zM396.5 339.5h1.4v1.4h-1.4zM396.6 343.2h1.4v1.4h-1.4zM396.7 343.1h1.4v1.4h-1.4zM396.9 339.5h1.4v1.4h-1.4zM397.0 340.5h1.4v1.4h-1.4zM397.1 343.7h1.4v1.4h-1.4zM397.1 342.3h1.4v1.4h-1.4zM397.3 344.2h1.4v1.4h-1.4zM397.5 340.9h1.4v1.4h-1.4zM397.6 341.0h1.4v1.4h-1.4zM397.7 336.6h1.4v1.4h-1.4zM397.8 335.7h1.4v1.4h-1.4zM397.9 334.3h1.4v1.4h-1.4zM398.0 342.0h1.4v1.4h-1.4zM398.1 348.5h1.4v1.4h-1.4zM398.2 344.7h1.4v1.4h-1.4zM398.4 343.3h1.4v1.4h-1.4zM398.5 330.9h1.4v1.4h-1.4zM398.6 342.5h1.4v1.4h-1.4zM398.7 336.1h1.4v1.4h-1.4zM398.8 339.8h1.4v1.4h-1.4zM398.9 340.2h1.4v1.4h-1.4zM399.1 343.7h1.4v1.4h-1.4zM399.2 333.4h1.4v1.4h-1.4zM399.3 341.1h1.4v1.4h-1.4zM399.4 339.4h1.4v1.4h-1.4zM399.5 339.6h1.4v1.4h-1.4zM399.7 333.7h1.4v1.4h-1.4zM399.8 332.8h1.4v1.4h-1.4zM399.9 334.2h1.4v1.4h-1.4zM400.0 336.6h1.4v1.4h-1.4zM400.2 339.5h1.4v1.4h-1.4zM400.3 344.3h1.4v1.4h-1.4zM400.4 343.1h1.4v1.4h-1.4zM400.5 342.8h1.4v1.4h-1.4zM400.6 343.8h1.4v1.4h-1.4zM400.7 337.1h1.4v1.4h-1.4zM400.8 342.4h1.4v1.4h-1.4zM401.0 343.2h1.4v1.4h-1.4zM401.0 342.6h1.4v1.4h-1.4zM401.2 343.8h1.4v1.4h-1.4zM401.3 340.2h1.4v1.4h-1.4zM401.5 344.2h1.4v1.4h-1.4zM401.5 335.1h1.4v1.4h-1.4zM401.7 336.5h1.4v1.4h-1.4zM401.8 333.9h1.4v1.4h-1.4zM401.9 336.2h1.4v1.4h-1.4zM402.0 337.0h1.4v1.4h-1.4zM402.1 328.4h1.4v1.4h-1.4zM402.2 328.4h1.4v1.4h-1.4zM402.4 329.3h1.4v1.4h-1.4zM402.5 332.4h1.4v1.4h-1.4zM402.6 324.8h1.4v1.4h-1.4zM402.7 323.9h1.4v1.4h-1.4zM402.9 318.0h1.4v1.4h-1.4zM403.0 325.5h1.4v1.4h-1.4zM403.1 317.8h1.4v1.4h-1.4zM403.2 312.6h1.4v1.4h-1.4zM403.3 314.9h1.4v1.4h-1.4zM403.5 315.7h1.4v1.4h-1.4zM403.6 306.3h1.4v1.4h-1.4zM403.7 304.9h1.4v1.4h-1.4zM403.8 307.4h1.4v1.4h-1.4zM403.9 306.8h1.4v1.4h-1.4zM404.1 295.5h1.4v1.4h-1.4zM404.1 303.5h1.4v1.4h-1.4zM404.2 304.3h1.4v1.4h-1.4zM404.4 304.1h1.4v1.4h-1.4zM404.4 295.5h1.4v1.4h-1.4zM404.6 300.6h1.4v1.4h-1.4zM404.7 293.6h1.4v1.4h-1.4zM404.9 291.6h1.4v1.4h-1.4zM404.9 288.3h1.4v1.4h-1.4zM405.1 288.7h1.4v1.4h-1.4zM405.2 291.1h1.4v1.4h-1.4zM405.3 283.9h1.4v1.4h-1.4zM405.5 285.9h1.4v1.4h-1.4zM405.5 285.5h1.4v1.4h-1.4zM405.7 281.4h1.4v1.4h-1.4zM405.8 289.1h1.4v1.4h-1.4zM406.0 282.5h1.4v1.4h-1.4zM406.0 277.1h1.4v1.4h-1.4zM406.1 280.1h1.4v1.4h-1.4zM406.2 275.3h1.4v1.4h-1.4zM406.4 271.3h1.4v1.4h-1.4zM406.5 280.4h1.4v1.4h-1.4zM406.6 276.9h1.4v1.4h-1.4zM406.8 282.4h1.4v1.4h-1.4zM406.9 273.8h1.4v1.4h-1.4zM407.0 284.2h1.4v1.4h-1.4zM407.0 286.1h1.4v1.4h-1.4zM407.2 294.1h1.4v1.4h-1.4zM407.3 289.3h1.4v1.4h-1.4zM407.4 296.1h1.4v1.4h-1.4zM407.5 293.0h1.4v1.4h-1.4zM407.6 289.6h1.4v1.4h-1.4zM407.8 297.0h1.4v1.4h-1.4zM407.9 298.7h1.4v1.4h-1.4zM408.1 292.2h1.4v1.4h-1.4zM408.1 297.6h1.4v1.4h-1.4zM408.2 298.3h1.4v1.4h-1.4zM408.4 300.6h1.4v1.4h-1.4zM408.5 300.1h1.4v1.4h-1.4zM408.6 303.2h1.4v1.4h-1.4zM408.7 303.4h1.4v1.4h-1.4zM408.8 300.1h1.4v1.4h-1.4zM408.9 303.8h1.4v1.4h-1.4zM409.1 304.5h1.4v1.4h-1.4zM409.1 310.8h1.4v1.4h-1.4zM409.3 307.3h1.4v1.4h-1.4zM409.4 311.4h1.4v1.4h-1.4zM409.6 321.0h1.4v1.4h-1.4zM409.7 317.7h1.4v1.4h-1.4zM409.8 311.2h1.4v1.4h-1.4zM409.9 315.0h1.4v1.4h-1.4zM410.0 320.4h1.4v1.4h-1.4zM410.1 321.0h1.4v1.4h-1.4zM410.2 318.7h1.4v1.4h-1.4zM410.4 319.1h1.4v1.4h-1.4zM410.5 328.8h1.4v1.4h-1.4zM410.6 320.1h1.4v1.4h-1.4zM410.8 332.0h1.4v1.4h-1.4zM410.8 335.1h1.4v1.4h-1.4zM410.9 324.0h1.4v1.4h-1.4zM411.1 331.0h1.4v1.4h-1.4zM411.2 328.3h1.4v1.4h-1.4zM411.3 332.5h1.4v1.4h-1.4zM411.5 328.9h1.4v1.4h-1.4zM411.6 332.8h1.4v1.4h-1.4zM411.7 334.3h1.4v1.4h-1.4zM411.8 332.1h1.4v1.4h-1.4zM411.9 343.8h1.4v1.4h-1.4zM412.0 337.0h1.4v1.4h-1.4zM412.1 343.0h1.4v1.4h-1.4zM412.2 339.9h1.4v1.4h-1.4zM412.3 336.1h1.4v1.4h-1.4zM412.5 330.9h1.4v1.4h-1.4zM412.6 340.7h1.4v1.4h-1.4zM412.7 335.7h1.4v1.4h-1.4zM412.8 329.2h1.4v1.4h-1.4zM412.9 334.9h1.4v1.4h-1.4zM413.1 337.5h1.4v1.4h-1.4zM413.2 336.1h1.4v1.4h-1.4zM413.3 338.5h1.4v1.4h-1.4zM413.4 336.8h1.4v1.4h-1.4zM413.5 339.8h1.4v1.4h-1.4zM413.7 340.5h1.4v1.4h-1.4zM413.8 340.3h1.4v1.4h-1.4zM413.8 339.8h1.4v1.4h-1.4zM414.0 330.9h1.4v1.4h-1.4zM414.1 344.4h1.4v1.4h-1.4zM414.2 340.7h1.4v1.4h-1.4zM414.4 332.1h1.4v1.4h-1.4zM414.5 334.2h1.4v1.4h-1.4zM414.6 330.7h1.4v1.4h-1.4zM414.7 338.8h1.4v1.4h-1.4zM414.8 333.2h1.4v1.4h-1.4zM415.0 337.5h1.4v1.4h-1.4zM415.1 340.1h1.4v1.4h-1.4zM415.2 336.9h1.4v1.4h-1.4zM415.3 338.2h1.4v1.4h-1.4zM415.4 335.8h1.4v1.4h-1.4zM415.5 339.4h1.4v1.4h-1.4zM415.7 336.5h1.4v1.4h-1.4zM415.8 331.3h1.4v1.4h-1.4zM416.0 338.2h1.4v1.4h-1.4zM416.1 337.7h1.4v1.4h-1.4zM416.1 341.3h1.4v1.4h-1.4zM416.3 345.5h1.4v1.4h-1.4zM416.4 336.8h1.4v1.4h-1.4zM416.5 335.8h1.4v1.4h-1.4zM416.6 329.3h1.4v1.4h-1.4zM416.7 337.5h1.4v1.4h-1.4zM416.9 339.3h1.4v1.4h-1.4zM416.9 336.1h1.4v1.4h-1.4zM417.1 330.1h1.4v1.4h-1.4zM417.2 336.8h1.4v1.4h-1.4zM417.3 330.2h1.4v1.4h-1.4zM417.4 331.3h1.4v1.4h-1.4zM417.5 325.9h1.4v1.4h-1.4zM417.7 320.8h1.4v1.4h-1.4zM417.7 324.0h1.4v1.4h-1.4zM417.9 318.4h1.4v1.4h-1.4zM418.0 313.3h1.4v1.4h-1.4zM418.1 316.9h1.4v1.4h-1.4zM418.2 317.5h1.4v1.4h-1.4zM418.4 309.7h1.4v1.4h-1.4zM418.5 318.2h1.4v1.4h-1.4zM418.6 307.8h1.4v1.4h-1.4zM418.7 307.3h1.4v1.4h-1.4zM418.9 306.3h1.4v1.4h-1.4zM418.9 310.2h1.4v1.4h-1.4zM419.1 300.1h1.4v1.4h-1.4zM419.2 301.9h1.4v1.4h-1.4zM419.3 298.9h1.4v1.4h-1.4zM419.4 297.9h1.4v1.4h-1.4zM419.6 301.3h1.4v1.4h-1.4zM419.7 297.8h1.4v1.4h-1.4zM419.8 296.3h1.4v1.4h-1.4zM420.0 290.3h1.4v1.4h-1.4zM420.0 289.3h1.4v1.4h-1.4zM420.1 285.5h1.4v1.4h-1.4zM420.2 287.9h1.4v1.4h-1.4zM420.4 288.1h1.4v1.4h-1.4zM420.5 279.7h1.4v1.4h-1.4zM420.6 273.6h1.4v1.4h-1.4zM420.7 282.1h1.4v1.4h-1.4zM420.9 277.9h1.4v1.4h-1.4zM420.9 273.7h1.4v1.4h-1.4zM421.1 273.5h1.4v1.4h-1.4zM421.2 278.7h1.4v1.4h-1.4zM421.3 277.5h1.4v1.4h-1.4zM421.4 270.8h1.4v1.4h-1.4zM421.5 270.0h1.4v1.4h-1.4zM421.6 267.6h1.4v1.4h-1.4zM421.8 272.3h1.4v1.4h-1.4zM421.9 274.8h1.4v1.4h-1.4zM422.0 277.4h1.4v1.4h-1.4zM422.1 275.5h1.4v1.4h-1.4zM422.2 278.8h1.4v1.4h-1.4zM422.3 276.9h1.4v1.4h-1.4zM422.4 275.3h1.4v1.4h-1.4zM422.6 280.5h1.4v1.4h-1.4zM422.7 278.5h1.4v1.4h-1.4zM422.8 288.4h1.4v1.4h-1.4zM423.0 287.4h1.4v1.4h-1.4zM423.0 292.6h1.4v1.4h-1.4zM423.1 284.0h1.4v1.4h-1.4zM423.3 292.4h1.4v1.4h-1.4zM423.4 289.5h1.4v1.4h-1.4zM423.5 286.5h1.4v1.4h-1.4zM423.6 296.1h1.4v1.4h-1.4zM423.8 299.0h1.4v1.4h-1.4zM423.9 304.7h1.4v1.4h-1.4zM424.0 303.1h1.4v1.4h-1.4zM424.1 302.0h1.4v1.4h-1.4zM424.3 309.2h1.4v1.4h-1.4zM424.4 303.7h1.4v1.4h-1.4zM424.5 304.0h1.4v1.4h-1.4zM424.6 313.0h1.4v1.4h-1.4zM424.8 310.8h1.4v1.4h-1.4zM424.8 314.8h1.4v1.4h-1.4zM424.9 312.0h1.4v1.4h-1.4zM425.1 321.6h1.4v1.4h-1.4zM425.2 325.5h1.4v1.4h-1.4zM425.4 320.5h1.4v1.4h-1.4zM425.5 321.5h1.4v1.4h-1.4zM425.6 326.4h1.4v1.4h-1.4zM425.7 319.8h1.4v1.4h-1.4zM425.8 331.6h1.4v1.4h-1.4zM425.9 337.1h1.4v1.4h-1.4zM426.1 331.3h1.4v1.4h-1.4zM426.1 333.4h1.4v1.4h-1.4zM426.3 331.5h1.4v1.4h-1.4zM426.4 336.5h1.4v1.4h-1.4zM426.5 334.5h1.4v1.4h-1.4zM426.6 338.2h1.4v1.4h-1.4zM426.8 343.6h1.4v1.4h-1.4zM426.9 342.1h1.4v1.4h-1.4zM427.0 343.9h1.4v1.4h-1.4zM427.1 352.8h1.4v1.4h-1.4zM427.2 343.9h1.4v1.4h-1.4zM427.3 349.8h1.4v1.4h-1.4zM427.4 340.1h1.4v1.4h-1.4zM427.6 358.5h1.4v1.4h-1.4zM427.7 341.8h1.4v1.4h-1.4zM427.8 350.2h1.4v1.4h-1.4zM427.9 344.9h1.4v1.4h-1.4zM428.1 348.9h1.4v1.4h-1.4zM428.2 341.7h1.4v1.4h-1.4zM428.3 354.3h1.4v1.4h-1.4zM428.4 342.6h1.4v1.4h-1.4zM428.4 344.2h1.4v1.4h-1.4zM428.5 350.7h1.4v1.4h-1.4zM428.7 354.3h1.4v1.4h-1.4zM428.8 339.0h1.4v1.4h-1.4zM429.0 350.7h1.4v1.4h-1.4zM429.1 350.2h1.4v1.4h-1.4zM429.2 342.9h1.4v1.4h-1.4zM429.3 340.9h1.4v1.4h-1.4zM429.4 346.5h1.4v1.4h-1.4zM429.5 344.6h1.4v1.4h-1.4zM429.6 349.8h1.4v1.4h-1.4zM429.8 348.3h1.4v1.4h-1.4zM429.9 345.5h1.4v1.4h-1.4zM430.0 348.3h1.4v1.4h-1.4zM430.1 341.8h1.4v1.4h-1.4zM430.2 341.5h1.4v1.4h-1.4zM430.3 350.9h1.4v1.4h-1.4zM430.5 340.3h1.4v1.4h-1.4zM430.6 348.6h1.4v1.4h-1.4zM430.8 346.7h1.4v1.4h-1.4zM430.9 349.6h1.4v1.4h-1.4zM431.0 348.3h1.4v1.4h-1.4zM431.1 351.9h1.4v1.4h-1.4zM431.2 350.6h1.4v1.4h-1.4zM431.3 354.7h1.4v1.4h-1.4zM431.4 343.8h1.4v1.4h-1.4zM431.5 349.7h1.4v1.4h-1.4zM431.7 345.4h1.4v1.4h-1.4zM431.8 342.0h1.4v1.4h-1.4zM431.9 351.5h1.4v1.4h-1.4zM432.0 350.2h1.4v1.4h-1.4zM432.1 349.5h1.4v1.4h-1.4zM432.2 355.1h1.4v1.4h-1.4zM432.4 344.4h1.4v1.4h-1.4zM432.5 342.8h1.4v1.4h-1.4zM432.6 346.9h1.4v1.4h-1.4zM432.7 342.0h1.4v1.4h-1.4zM432.8 337.8h1.4v1.4h-1.4zM433.0 334.7h1.4v1.4h-1.4zM433.1 334.2h1.4v1.4h-1.4zM433.2 333.6h1.4v1.4h-1.4zM433.3 329.6h1.4v1.4h-1.4zM433.4 326.6h1.4v1.4h-1.4zM433.5 332.1h1.4v1.4h-1.4zM433.6 320.2h1.4v1.4h-1.4zM433.8 319.6h1.4v1.4h-1.4zM433.9 309.3h1.4v1.4h-1.4zM434.0 318.7h1.4v1.4h-1.4zM434.1 302.3h1.4v1.4h-1.4zM434.3 312.8h1.4v1.4h-1.4zM434.3 318.0h1.4v1.4h-1.4zM434.5 311.8h1.4v1.4h-1.4zM434.6 300.2h1.4v1.4h-1.4zM434.7 306.7h1.4v1.4h-1.4zM434.9 306.2h1.4v1.4h-1.4zM435.0 296.4h1.4v1.4h-1.4zM435.0 296.9h1.4v1.4h-1.4zM435.2 291.9h1.4v1.4h-1.4zM435.3 298.1h1.4v1.4h-1.4zM435.5 268.3h1.4v1.4h-1.4zM435.6 285.8h1.4v1.4h-1.4zM435.6 285.7h1.4v1.4h-1.4zM435.7 280.1h1.4v1.4h-1.4zM435.9 290.3h1.4v1.4h-1.4zM436.0 282.0h1.4v1.4h-1.4zM436.2 267.9h1.4v1.4h-1.4zM436.2 276.8h1.4v1.4h-1.4zM436.4 278.3h1.4v1.4h-1.4zM436.5 280.2h1.4v1.4h-1.4zM436.6 276.2h1.4v1.4h-1.4zM436.7 267.7h1.4v1.4h-1.4zM436.8 269.6h1.4v1.4h-1.4zM437.0 265.6h1.4v1.4h-1.4zM437.1 274.5h1.4v1.4h-1.4zM437.2 277.9h1.4v1.4h-1.4zM437.3 269.6h1.4v1.4h-1.4zM437.4 261.5h1.4v1.4h-1.4zM437.6 264.3h1.4v1.4h-1.4zM437.6 280.2h1.4v1.4h-1.4zM437.8 282.4h1.4v1.4h-1.4zM437.8 274.5h1.4v1.4h-1.4zM438.0 286.7h1.4v1.4h-1.4zM438.1 281.2h1.4v1.4h-1.4zM438.2 280.3h1.4v1.4h-1.4zM438.3 282.1h1.4v1.4h-1.4zM438.5 285.0h1.4v1.4h-1.4zM438.6 293.6h1.4v1.4h-1.4zM438.8 279.3h1.4v1.4h-1.4zM438.8 278.3h1.4v1.4h-1.4zM439.0 284.5h1.4v1.4h-1.4zM439.1 298.1h1.4v1.4h-1.4zM439.2 296.8h1.4v1.4h-1.4zM439.3 298.7h1.4v1.4h-1.4zM439.4 297.9h1.4v1.4h-1.4zM439.5 298.5h1.4v1.4h-1.4zM439.7 303.9h1.4v1.4h-1.4zM439.7 301.8h1.4v1.4h-1.4zM439.9 303.5h1.4v1.4h-1.4zM440.0 307.7h1.4v1.4h-1.4zM440.2 312.2h1.4v1.4h-1.4zM440.3 315.0h1.4v1.4h-1.4zM440.4 309.6h1.4v1.4h-1.4zM440.5 312.5h1.4v1.4h-1.4zM440.6 316.5h1.4v1.4h-1.4zM440.7 316.0h1.4v1.4h-1.4zM440.8 319.9h1.4v1.4h-1.4zM440.9 322.3h1.4v1.4h-1.4zM441.1 322.4h1.4v1.4h-1.4zM441.1 325.1h1.4v1.4h-1.4zM441.3 329.6h1.4v1.4h-1.4zM441.4 321.8h1.4v1.4h-1.4zM441.5 324.3h1.4v1.4h-1.4zM441.7 326.8h1.4v1.4h-1.4zM441.8 336.8h1.4v1.4h-1.4zM441.9 328.9h1.4v1.4h-1.4zM442.0 326.6h1.4v1.4h-1.4zM442.1 329.2h1.4v1.4h-1.4zM442.3 335.2h1.4v1.4h-1.4zM442.4 333.0h1.4v1.4h-1.4zM442.5 343.7h1.4v1.4h-1.4zM442.6 338.4h1.4v1.4h-1.4zM442.8 343.4h1.4v1.4h-1.4zM442.9 334.7h1.4v1.4h-1.4zM443.0 338.7h1.4v1.4h-1.4zM443.1 345.9h1.4v1.4h-1.4zM443.2 340.6h1.4v1.4h-1.4zM443.3 340.9h1.4v1.4h-1.4zM443.4 338.3h1.4v1.4h-1.4zM443.6 340.0h1.4v1.4h-1.4zM443.6 345.3h1.4v1.4h-1.4zM443.8 338.4h1.4v1.4h-1.4zM443.9 338.2h1.4v1.4h-1.4zM444.0 333.2h1.4v1.4h-1.4zM444.2 342.4h1.4v1.4h-1.4zM444.3 343.7h1.4v1.4h-1.4zM444.4 342.4h1.4v1.4h-1.4zM444.4 337.0h1.4v1.4h-1.4z" fill="#8c8c8c"/>
<polyline points="47.0,324.7 47.4,326.7 47.8,328.3 48.3,326.4 48.7,324.5 49.1,325.9 49.5,327.2 50.0,326.0 50.4,318.5 50.8,310.3 51.2,311.2 51.7,307.5 52.1,307.0 52.5,302.5 52.9,295.2 53.4,289.5 53.8,295.1 54.2,285.0 54.6,278.8 55.1,282.2 55.5,291.7 55.9,299.1 56.3,303.9 56.8,309.8 57.2,316.5 57.6,324.0 58.0,331.8 58.5,335.3 58.9,333.6 59.3,344.0 59.7,347.0 60.2,352.6 60.6,353.9 61.0,356.2 61.4,355.5 61.9,356.9 62.3,362.2 62.7,358.5 63.1,358.8 63.6,355.4 64.0,356.1 64.4,357.8 64.8,357.1 65.3,354.8 65.7,350.1 66.1,341.2 66.5,339.8 67.0,330.7 67.4,333.3 67.8,322.7 68.2,320.2 68.7,313.2 69.1,310.7 69.5,301.5 69.9,301.5 70.4,303.4 70.8,312.1 71.2,316.0 71.6,318.9 72.1,319.2 72.5,327.5 72.9,332.3 73.3,341.3 73.8,340.7 74.2,347.2 74.6,351.4 75.0,355.4 75.5,358.9 75.9,361.5 76.3,360.6 76.7,359.5 77.2,360.2 77.6,362.0 78.0,364.0 78.4,363.7 78.9,363.8 79.3,363.4 79.7,363.1 80.1,362.2 80.6,360.9 81.0,359.5 81.4,352.2 81.8,345.5 82.3,349.1 82.7,341.1 83.1,338.0 83.5,333.5 84.0,321.6 84.4,326.6 84.8,322.6 85.2,312.9 85.6,314.8 86.1,314.6 86.5,312.4 86.9,315.6 87.3,318.9 87.8,323.5 88.2,324.8 88.6,324.6 89.0,330.6 89.5,327.0 89.9,331.5 90.3,335.0 90.7,335.3 91.2,333.9 91.6,334.5 92.0,336.5 92.4,337.6 92.9,339.5 93.3,336.0 93.7,336.6 94.1,337.8 94.6,336.8 95.0,333.0 95.4,337.0 95.8,338.1 96.3,333.3 96.7,323.6 97.1,318.8 97.5,315.9 98.0,319.3 98.4,310.7 98.8,303.3 99.2,302.3 99.7,292.9 100.1,293.6 100.5,282.5 100.9,284.3 101.4,291.5 101.8,298.7 102.2,300.7 102.6,302.0 103.1,297.3 103.5,302.2 103.9,306.7 104.3,311.2 104.8,319.1 105.2,321.6 105.6,326.6 106.0,329.0 106.5,330.4 106.9,331.1 107.3,331.7 107.7,332.6 108.2,330.7 108.6,330.5 109.0,328.7 109.4,332.9 109.9,333.9 110.3,331.6 110.7,330.4 111.1,326.5 111.6,324.5 112.0,321.0 112.4,323.3 112.8,314.0 113.3,304.7 113.7,293.4 114.1,300.4 114.5,295.1 115.0,284.5 115.4,284.8 115.8,276.7 116.2,296.5 116.7,297.5 117.1,299.1 117.5,300.0 117.9,296.0 118.4,304.2 118.8,304.8 119.2,315.4 119.6,312.5 120.1,318.8 120.5,328.7 120.9,335.0 121.3,334.6 121.8,335.2 122.2,338.9 122.6,339.8 123.0,337.2 123.4,336.9 123.9,336.8 124.3,335.9 124.7,336.5 125.1,339.8 125.6,339.8 126.0,342.1 126.4,336.6 126.8,331.5 127.3,323.2 127.7,319.9 128.1,311.1 128.5,303.5 129.0,306.6 129.4,307.1 129.8,301.7 130.2,298.5 130.7,291.1 131.1,283.3 131.5,289.3 131.9,293.0 132.4,295.2 132.8,297.3 133.2,301.3 133.6,310.6 134.1,317.3 134.5,320.7 134.9,331.7 135.3,334.3 135.8,338.7 136.2,344.0 136.6,344.8 137.0,344.7 137.5,348.6 137.9,347.4 138.3,350.2 138.7,349.5 139.2,350.3 139.6,350.2 140.0,345.6 140.4,348.7 140.9,347.4 141.3,346.9 141.7,345.7 142.1,345.1 142.6,344.3 143.0,342.0 143.4,329.7 143.8,327.1 144.3,317.9 144.7,320.6 145.1,321.0 145.5,313.9 146.0,312.8 146.4,310.4 146.8,314.9 147.2,311.5 147.7,311.8 148.1,313.5 148.5,323.5 148.9,325.4 149.4,323.3 149.8,325.4 150.2,327.3 150.6,329.8 151.1,331.1 151.5,332.8 151.9,333.1 152.3,335.0 152.8,338.9 153.2,338.3 153.6,337.4 154.0,336.6 154.5,336.8 154.9,337.4 155.3,335.9 155.7,336.9 156.2,337.2 156.6,335.7 157.0,334.2 157.4,332.0 157.9,328.0 158.3,331.9 158.7,320.6 159.1,323.0 159.6,321.4 160.0,319.7 160.4,320.3 160.8,322.8 161.3,318.8 161.7,316.1 162.1,315.8 162.5,318.8 162.9,324.6 163.4,323.3 163.8,321.4 164.2,321.6 164.6,323.6 165.1,324.6 165.5,334.8 165.9,336.7 166.3,336.9 166.8,340.9 167.2,339.7 167.6,342.2 168.0,342.8 168.5,339.2 168.9,338.1 169.3,338.8 169.7,341.9 170.2,343.5 170.6,339.9 171.0,342.5 171.4,341.0 171.9,340.5 172.3,339.1 172.7,337.8 173.1,330.2 173.6,329.3 174.0,326.6 174.4,330.3 174.8,335.5 175.3,337.9 175.7,326.6 176.1,317.1 176.5,317.4 177.0,314.5 177.4,325.4 177.8,324.9 178.2,321.4 178.7,327.1 179.1,328.2 179.5,322.0 179.9,324.9 180.4,327.9 180.8,330.8 181.2,333.2 181.6,334.1 182.1,336.2 182.5,336.4 182.9,336.5 183.3,340.2 183.8,339.5 184.2,339.3 184.6,336.1 185.0,337.4 185.5,339.3 185.9,336.5 186.3,339.5 186.7,338.0 187.2,338.9 187.6,337.1 188.0,335.6 188.4,337.3 188.9,330.6 189.3,333.6 189.7,324.9 190.1,320.4 190.6,323.2 191.0,316.4 191.4,315.1 191.8,317.8 192.3,318.5 192.7,310.9 193.1,317.8 193.5,326.0 194.0,327.5 194.4,324.1 194.8,323.1 195.2,325.2 195.7,324.4 196.1,328.6 196.5,331.6 196.9,334.3 197.4,338.5 197.8,338.6 198.2,337.3 198.6,340.7 199.1,338.3 199.5,338.6 199.9,339.1 200.3,339.0 200.7,337.9 201.2,338.8 201.6,342.9 202.0,339.7 202.4,339.5 202.9,339.2 203.3,335.7 203.7,332.9 204.1,329.3 204.6,315.5 205.0,312.1 205.4,311.9 205.8,310.6 206.3,309.8 206.7,304.0 207.1,297.5 207.5,294.4 208.0,297.2 208.4,302.4 208.8,308.3 209.2,309.4 209.7,310.2 210.1,312.7 210.5,322.9 210.9,329.4 211.4,333.2 211.8,336.8 212.2,339.0 212.6,340.7 213.1,344.3 213.5,343.9 213.9,344.8 214.3,344.1 214.8,346.2 215.2,344.8 215.6,345.1 216.0,346.0 216.5,347.8 216.9,344.9 217.3,343.8 217.7,346.3 218.2,341.0 218.6,337.9 219.0,330.0 219.4,324.7 219.9,312.8 220.3,313.5 220.7,305.7 221.1,298.2 221.6,301.4 222.0,293.6 222.4,296.9 222.8,284.1 223.3,283.5 223.7,288.1 224.1,298.1 224.5,298.7 225.0,303.0 225.4,307.4 225.8,307.1 226.2,314.1 226.7,317.6 227.1,319.7 227.5,329.4 227.9,335.1 228.4,338.5 228.8,339.6 229.2,337.6 229.6,340.9 230.1,341.0 230.5,338.4 230.9,340.3 231.3,338.5 231.8,340.3 232.2,341.2 232.6,341.8 233.0,341.7 233.5,339.9 233.9,335.0 234.3,331.5 234.7,327.5 235.2,324.6 235.6,322.9 236.0,321.4 236.4,322.1 236.9,305.4 237.3,308.0 237.7,304.6 238.1,310.1 238.5,310.4 239.0,303.7 239.4,310.6 239.8,311.4 240.2,318.1 240.7,314.8 241.1,319.0 241.5,322.1 241.9,325.2 242.4,326.6 242.8,328.0 243.2,333.9 243.6,338.0 244.1,338.5 244.5,336.8 244.9,338.2 245.3,339.2 245.8,338.3 246.2,338.3 246.6,340.5 247.0,337.2 247.5,337.1 247.9,334.9 248.3,336.2 248.7,334.1 249.2,330.1 249.6,324.7 250.0,328.2 250.4,319.2 250.9,313.7 251.3,317.2 251.7,307.9 252.1,296.2 252.6,297.1 253.0,290.3 253.4,295.0 253.8,291.6 254.3,295.9 254.7,296.9 255.1,306.1 255.5,307.4 256.0,313.7 256.4,317.6 256.8,321.1 257.2,330.6 257.7,336.6 258.1,338.3 258.5,339.9 258.9,342.3 259.4,346.5 259.8,350.8 260.2,347.4 260.6,345.9 261.1,345.5 261.5,344.8 261.9,344.8 262.3,346.0 262.8,349.0 263.2,347.6 263.6,346.4 264.0,341.5 264.5,339.4 264.9,334.4 265.3,324.7 265.7,318.0 266.2,315.5 266.6,314.6 267.0,309.2 267.4,301.8 267.9,293.6 268.3,289.6 268.7,283.9 269.1,294.5 269.6,289.0 270.0,292.7 270.4,301.9 270.8,301.3 271.3,309.0 271.7,309.0 272.1,312.5 272.5,314.7 273.0,314.9 273.4,321.0 273.8,330.6 274.2,333.1 274.7,335.3 275.1,336.0 275.5,335.5 275.9,336.1 276.4,334.2 276.8,333.7 277.2,335.5 277.6,333.9 278.0,331.8 278.5,333.0 278.9,332.8 279.3,332.0 279.7,326.1 280.2,318.1 280.6,314.2 281.0,315.5 281.4,306.6 281.9,301.2 282.3,295.6 282.7,290.8 283.1,287.7 283.6,285.0 284.0,270.9 284.4,281.9 284.8,283.4 285.3,285.6 285.7,298.3 286.1,295.5 286.5,304.3 287.0,306.4 287.4,303.2 287.8,310.6 288.2,316.7 288.7,318.8 289.1,318.6 289.5,324.0 289.9,327.2 290.4,326.3 290.8,330.6 291.2,328.6 291.6,327.8 292.1,327.7 292.5,326.9 292.9,326.6 293.3,327.9 293.8,328.7 294.2,327.6 294.6,326.2 295.0,321.4 295.5,321.4 295.9,314.6 296.3,313.3 296.7,306.8 297.2,304.0 297.6,303.6 298.0,296.2 298.4,304.3 298.9,296.2 299.3,292.0 299.7,292.2 300.1,302.4 300.6,307.0 301.0,306.9 301.4,302.9 301.8,306.6 302.3,313.6 302.7,314.2 303.1,314.4 303.5,316.7 304.0,322.4 304.4,327.3 304.8,329.3 305.2,332.0 305.7,337.0 306.1,336.7 306.5,332.2 306.9,333.0 307.4,332.9 307.8,332.5 308.2,334.2 308.6,332.6 309.1,332.1 309.5,331.8 309.9,331.0 310.3,331.3 310.8,330.4 311.2,321.2 311.6,319.9 312.0,316.9 312.5,320.2 312.9,317.9 313.3,318.1 313.7,313.6 314.2,304.9 314.6,309.4 315.0,312.9 315.4,316.7 315.8,313.6 316.3,319.2 316.7,319.7 317.1,321.5 317.5,327.3 318.0,330.9 318.4,329.6 318.8,328.2 319.2,331.3 319.7,336.7 320.1,342.3 320.5,342.8 320.9,339.3 321.4,340.4 321.8,342.7 322.2,345.5 322.6,345.5 323.1,344.2 323.5,343.5 323.9,341.3 324.3,341.6 324.8,341.9 325.2,338.8 325.6,336.0 326.0,330.2 326.5,327.2 326.9,326.4 327.3,320.3 327.7,314.2 328.2,306.9 328.6,296.7 329.0,294.9 329.4,293.6 329.9,285.2 330.3,295.2 330.7,295.5 331.1,300.8 331.6,302.8 332.0,302.2 332.4,315.7 332.8,311.5 333.3,320.2 333.7,320.8 334.1,326.7 334.5,329.1 335.0,333.0 335.4,338.5 335.8,343.1 336.2,339.6 336.7,339.8 337.1,341.4 337.5,339.3 337.9,340.9 338.4,338.9 338.8,340.6 339.2,340.8 339.6,342.1 340.1,341.1 340.5,335.9 340.9,334.2 341.3,325.5 341.8,325.9 342.2,325.4 342.6,319.2 343.0,310.9 343.5,311.9 343.9,305.8 344.3,296.5 344.7,294.6 345.2,298.3 345.6,299.1 346.0,304.4 346.4,308.1 346.9,308.2 347.3,315.1 347.7,323.2 348.1,328.6 348.6,332.5 349.0,330.6 349.4,344.9 349.8,349.5 350.3,354.2 350.7,358.5 351.1,358.4 351.5,357.8 352.0,358.9 352.4,361.4 352.8,356.8 353.2,357.8 353.6,357.3 354.1,359.2 354.5,361.2 354.9,359.0 355.3,356.8 355.8,356.3 356.2,353.2 356.6,344.7 357.0,347.5 357.5,340.5 357.9,339.5 358.3,329.7 358.7,332.2 359.2,321.1 359.6,323.2 360.0,311.3 360.4,316.1 360.9,314.6 361.3,311.7 361.7,317.0 362.1,322.0 362.6,320.1 363.0,322.5 363.4,327.5 363.8,329.2 364.3,321.8 364.7,330.4 365.1,337.0 365.5,340.5 366.0,344.1 366.4,343.5 366.8,348.1 367.2,346.7 367.7,345.4 368.1,346.3 368.5,346.4 368.9,345.0 369.4,343.5 369.8,345.6 370.2,345.3 370.6,341.5 371.1,339.4 371.5,338.4 371.9,334.4 372.3,330.3 372.8,326.8 373.2,320.5 373.6,320.3 374.0,309.6 374.5,303.1 374.9,300.1 375.3,297.2 375.7,293.6 376.2,298.5 376.6,295.1 377.0,301.6 377.4,303.0 377.9,299.5 378.3,303.1 378.7,313.6 379.1,314.5 379.6,312.6 380.0,307.8 380.4,315.5 380.8,319.9 381.3,324.2 381.7,330.2 382.1,329.1 382.5,328.0 383.0,325.7 383.4,324.6 383.8,325.8 384.2,325.8 384.7,331.3 385.1,327.5 385.5,326.0 385.9,328.4 386.4,325.7 386.8,320.6 387.2,323.0 387.6,315.8 388.1,307.7 388.5,308.5 388.9,307.3 389.3,302.0 389.8,301.5 390.2,299.5 390.6,291.1 391.0,282.9 391.4,282.7 391.9,292.4 392.3,302.0 392.7,306.1 393.1,310.2 393.6,314.8 394.0,311.9 394.4,316.7 394.8,311.5 395.3,319.6 395.7,322.3 396.1,324.2 396.5,325.7 397.0,326.0 397.4,327.8 397.8,330.1 398.2,328.2 398.7,329.0 399.1,327.4 399.5,328.4 399.9,326.6 400.4,328.3 400.8,327.9 401.2,328.6 401.6,325.1 402.1,320.1 402.5,316.2 402.9,316.3 403.3,314.8 403.8,304.7 404.2,302.7 404.6,299.1 405.0,293.5 405.5,282.1 405.9,282.3 406.3,275.6 406.7,285.4 407.2,289.7 407.6,293.1 408.0,286.0 408.4,296.6 408.9,302.3 409.3,299.9 409.7,309.5 410.1,312.2 410.6,314.9 411.0,317.9 411.4,320.7 411.8,324.5 412.3,332.5 412.7,329.9 413.1,329.0 413.5,327.4 414.0,327.0 414.4,326.9 414.8,326.4 415.2,329.1 415.7,328.0 416.1,329.5 416.5,326.8 416.9,326.5 417.4,321.2 417.8,318.1 418.2,310.5 418.6,301.6 419.1,302.3 419.5,293.5 419.9,288.6 420.3,280.6 420.8,278.4 421.2,272.5 421.6,270.4 422.0,275.6 422.5,277.0 422.9,278.5 423.3,288.6 423.7,295.8 424.2,300.2 424.6,298.6 425.0,307.5 425.4,313.0 425.9,317.9 426.3,322.4 426.7,325.5 427.1,329.8 427.6,333.8 428.0,332.3 428.4,330.2 428.8,331.7 429.2,332.6 429.7,329.7 430.1,330.6 430.5,333.0 430.9,332.5 431.4,332.7 431.8,330.6 432.2,330.8 432.6,328.8 433.1,320.8 433.5,312.6 433.9,304.6 434.3,305.3 434.8,299.2 435.2,290.7 435.6,290.8 436.0,285.3 436.5,279.6 436.9,266.7 437.3,273.3 437.7,280.3 438.2,278.9 438.6,288.4 439.0,294.9 439.4,297.7 439.9,295.2 440.3,297.4 440.7,306.6 441.1,312.5 441.6,315.7 442.0,319.3 442.4,320.4 442.8,321.7 443.3,319.3 443.7,322.7 444.1,326.1 444.5,322.8" fill="none" stroke="#cc6a1e" stroke-width="1.75" stroke-linejoin="round"/>
</g>
<rect x="319" y="246.3" width="1.2" height="1.2" fill="#666"/>
<text x="336" y="251.4" font-size="13.3" text-anchor="start" fill="#000" >Measurement</text>
<line x1="306.7" y1="263" x2="331.5" y2="263" stroke="#cc6a1e" stroke-width="1.5" />
<text x="336" y="267.8" font-size="13.3" text-anchor="start" fill="#000" >M<tspan font-size="9.5" dy="3.5">3-2</tspan><tspan dy="-3.5"> simulation</tspan></text>
<clipPath id="clipa"><rect x="47" y="44" width="159" height="139"/></clipPath>
<g clip-path="url(#clipa)">
<line x1="47" y1="183" x2="206" y2="44" stroke="#111" stroke-width="1.4" stroke-dasharray="6 2.2 1.6 2.2"/>
<polygon points="96.0,125.0 102.0,119.0 110.0,117.0 118.0,119.0 124.0,124.0 128.0,132.0 128.0,139.0 125.0,144.0 121.0,150.0 121.0,160.0 121.0,170.0 117.0,177.0 110.0,181.0 102.0,180.0 95.0,174.0 91.0,165.0 89.5,155.0 90.0,143.0 92.0,133.0" fill="#c8c8c8" stroke="#c0c0c0" stroke-width="2"/>
<path d="M120.4 152.4a2.1 2.1 0 1 0 4.2 0a2.1 2.1 0 1 0 -4.2 0M82.3 155.8a2.1 2.1 0 1 0 4.2 0a2.1 2.1 0 1 0 -4.2 0M109.0 118.8a2.1 2.1 0 1 0 4.2 0a2.1 2.1 0 1 0 -4.2 0M122.7 147.3a2.1 2.1 0 1 0 4.2 0a2.1 2.1 0 1 0 -4.2 0M126.5 145.1a2.1 2.1 0 1 0 4.2 0a2.1 2.1 0 1 0 -4.2 0M107.0 179.7a2.1 2.1 0 1 0 4.2 0a2.1 2.1 0 1 0 -4.2 0M96.8 172.9a2.1 2.1 0 1 0 4.2 0a2.1 2.1 0 1 0 -4.2 0M124.9 142.5a2.1 2.1 0 1 0 4.2 0a2.1 2.1 0 1 0 -4.2 0M128.6 133.4a2.1 2.1 0 1 0 4.2 0a2.1 2.1 0 1 0 -4.2 0M126.8 139.6a2.1 2.1 0 1 0 4.2 0a2.1 2.1 0 1 0 -4.2 0M104.7 181.7a2.1 2.1 0 1 0 4.2 0a2.1 2.1 0 1 0 -4.2 0M121.0 129.6a2.1 2.1 0 1 0 4.2 0a2.1 2.1 0 1 0 -4.2 0M89.0 131.2a2.1 2.1 0 1 0 4.2 0a2.1 2.1 0 1 0 -4.2 0M117.7 166.7a2.1 2.1 0 1 0 4.2 0a2.1 2.1 0 1 0 -4.2 0M125.7 134.6a2.1 2.1 0 1 0 4.2 0a2.1 2.1 0 1 0 -4.2 0M98.2 121.1a2.1 2.1 0 1 0 4.2 0a2.1 2.1 0 1 0 -4.2 0M87.5 137.3a2.1 2.1 0 1 0 4.2 0a2.1 2.1 0 1 0 -4.2 0M95.8 119.3a2.1 2.1 0 1 0 4.2 0a2.1 2.1 0 1 0 -4.2 0M125.6 143.7a2.1 2.1 0 1 0 4.2 0a2.1 2.1 0 1 0 -4.2 0M89.9 173.0a2.1 2.1 0 1 0 4.2 0a2.1 2.1 0 1 0 -4.2 0M92.4 169.1a2.1 2.1 0 1 0 4.2 0a2.1 2.1 0 1 0 -4.2 0M119.8 160.0a2.1 2.1 0 1 0 4.2 0a2.1 2.1 0 1 0 -4.2 0M116.0 174.5a2.1 2.1 0 1 0 4.2 0a2.1 2.1 0 1 0 -4.2 0M117.1 158.7a2.1 2.1 0 1 0 4.2 0a2.1 2.1 0 1 0 -4.2 0M118.6 169.2a2.1 2.1 0 1 0 4.2 0a2.1 2.1 0 1 0 -4.2 0M119.3 170.6a2.1 2.1 0 1 0 4.2 0a2.1 2.1 0 1 0 -4.2 0M93.3 134.5a2.1 2.1 0 1 0 4.2 0a2.1 2.1 0 1 0 -4.2 0M106.9 180.9a2.1 2.1 0 1 0 4.2 0a2.1 2.1 0 1 0 -4.2 0M105.2 114.0a2.1 2.1 0 1 0 4.2 0a2.1 2.1 0 1 0 -4.2 0M118.0 178.5a2.1 2.1 0 1 0 4.2 0a2.1 2.1 0 1 0 -4.2 0M124.7 128.0a2.1 2.1 0 1 0 4.2 0a2.1 2.1 0 1 0 -4.2 0M99.4 178.6a2.1 2.1 0 1 0 4.2 0a2.1 2.1 0 1 0 -4.2 0M128.0 127.6a2.1 2.1 0 1 0 4.2 0a2.1 2.1 0 1 0 -4.2 0M84.1 149.8a2.1 2.1 0 1 0 4.2 0a2.1 2.1 0 1 0 -4.2 0M83.8 163.1a2.1 2.1 0 1 0 4.2 0a2.1 2.1 0 1 0 -4.2 0M123.7 120.5a2.1 2.1 0 1 0 4.2 0a2.1 2.1 0 1 0 -4.2 0M88.7 158.6a2.1 2.1 0 1 0 4.2 0a2.1 2.1 0 1 0 -4.2 0M89.2 144.1a2.1 2.1 0 1 0 4.2 0a2.1 2.1 0 1 0 -4.2 0M108.1 176.6a2.1 2.1 0 1 0 4.2 0a2.1 2.1 0 1 0 -4.2 0M108.9 175.6a2.1 2.1 0 1 0 4.2 0a2.1 2.1 0 1 0 -4.2 0M118.2 156.0a2.1 2.1 0 1 0 4.2 0a2.1 2.1 0 1 0 -4.2 0M116.0 174.4a2.1 2.1 0 1 0 4.2 0a2.1 2.1 0 1 0 -4.2 0M88.6 136.8a2.1 2.1 0 1 0 4.2 0a2.1 2.1 0 1 0 -4.2 0M116.5 165.0a2.1 2.1 0 1 0 4.2 0a2.1 2.1 0 1 0 -4.2 0M110.1 182.4a2.1 2.1 0 1 0 4.2 0a2.1 2.1 0 1 0 -4.2 0M99.9 174.2a2.1 2.1 0 1 0 4.2 0a2.1 2.1 0 1 0 -4.2 0M91.6 164.5a2.1 2.1 0 1 0 4.2 0a2.1 2.1 0 1 0 -4.2 0M88.6 145.2a2.1 2.1 0 1 0 4.2 0a2.1 2.1 0 1 0 -4.2 0M91.4 163.7a2.1 2.1 0 1 0 4.2 0a2.1 2.1 0 1 0 -4.2 0M99.2 176.1a2.1 2.1 0 1 0 4.2 0a2.1 2.1 0 1 0 -4.2 0M93.6 176.7a2.1 2.1 0 1 0 4.2 0a2.1 2.1 0 1 0 -4.2 0M120.2 157.4a2.1 2.1 0 1 0 4.2 0a2.1 2.1 0 1 0 -4.2 0M92.0 171.7a2.1 2.1 0 1 0 4.2 0a2.1 2.1 0 1 0 -4.2 0M128.3 137.1a2.1 2.1 0 1 0 4.2 0a2.1 2.1 0 1 0 -4.2 0M123.1 144.3a2.1 2.1 0 1 0 4.2 0a2.1 2.1 0 1 0 -4.2 0M123.7 134.7a2.1 2.1 0 1 0 4.2 0a2.1 2.1 0 1 0 -4.2 0M110.0 176.6a2.1 2.1 0 1 0 4.2 0a2.1 2.1 0 1 0 -4.2 0M118.6 149.8a2.1 2.1 0 1 0 4.2 0a2.1 2.1 0 1 0 -4.2 0M121.1 156.1a2.1 2.1 0 1 0 4.2 0a2.1 2.1 0 1 0 -4.2 0M91.6 139.9a2.1 2.1 0 1 0 4.2 0a2.1 2.1 0 1 0 -4.2 0M112.3 120.0a2.1 2.1 0 1 0 4.2 0a2.1 2.1 0 1 0 -4.2 0M119.9 167.5a2.1 2.1 0 1 0 4.2 0a2.1 2.1 0 1 0 -4.2 0M91.6 128.8a2.1 2.1 0 1 0 4.2 0a2.1 2.1 0 1 0 -4.2 0M109.0 178.9a2.1 2.1 0 1 0 4.2 0a2.1 2.1 0 1 0 -4.2 0M110.8 117.6a2.1 2.1 0 1 0 4.2 0a2.1 2.1 0 1 0 -4.2 0M120.2 119.3a2.1 2.1 0 1 0 4.2 0a2.1 2.1 0 1 0 -4.2 0M118.0 173.1a2.1 2.1 0 1 0 4.2 0a2.1 2.1 0 1 0 -4.2 0M90.6 174.2a2.1 2.1 0 1 0 4.2 0a2.1 2.1 0 1 0 -4.2 0M105.6 179.6a2.1 2.1 0 1 0 4.2 0a2.1 2.1 0 1 0 -4.2 0M118.4 159.0a2.1 2.1 0 1 0 4.2 0a2.1 2.1 0 1 0 -4.2 0M98.4 122.8a2.1 2.1 0 1 0 4.2 0a2.1 2.1 0 1 0 -4.2 0M122.1 161.9a2.1 2.1 0 1 0 4.2 0a2.1 2.1 0 1 0 -4.2 0M93.1 172.1a2.1 2.1 0 1 0 4.2 0a2.1 2.1 0 1 0 -4.2 0M106.1 180.6a2.1 2.1 0 1 0 4.2 0a2.1 2.1 0 1 0 -4.2 0M87.8 158.9a2.1 2.1 0 1 0 4.2 0a2.1 2.1 0 1 0 -4.2 0M124.2 132.3a2.1 2.1 0 1 0 4.2 0a2.1 2.1 0 1 0 -4.2 0M91.1 156.4a2.1 2.1 0 1 0 4.2 0a2.1 2.1 0 1 0 -4.2 0M117.3 120.4a2.1 2.1 0 1 0 4.2 0a2.1 2.1 0 1 0 -4.2 0M116.4 173.8a2.1 2.1 0 1 0 4.2 0a2.1 2.1 0 1 0 -4.2 0M112.3 175.5a2.1 2.1 0 1 0 4.2 0a2.1 2.1 0 1 0 -4.2 0M96.8 117.9a2.1 2.1 0 1 0 4.2 0a2.1 2.1 0 1 0 -4.2 0M120.9 123.3a2.1 2.1 0 1 0 4.2 0a2.1 2.1 0 1 0 -4.2 0M93.7 171.4a2.1 2.1 0 1 0 4.2 0a2.1 2.1 0 1 0 -4.2 0M89.0 154.3a2.1 2.1 0 1 0 4.2 0a2.1 2.1 0 1 0 -4.2 0M119.6 144.3a2.1 2.1 0 1 0 4.2 0a2.1 2.1 0 1 0 -4.2 0M118.1 166.2a2.1 2.1 0 1 0 4.2 0a2.1 2.1 0 1 0 -4.2 0M117.0 166.8a2.1 2.1 0 1 0 4.2 0a2.1 2.1 0 1 0 -4.2 0M123.4 134.6a2.1 2.1 0 1 0 4.2 0a2.1 2.1 0 1 0 -4.2 0M114.3 175.0a2.1 2.1 0 1 0 4.2 0a2.1 2.1 0 1 0 -4.2 0M101.0 122.9a2.1 2.1 0 1 0 4.2 0a2.1 2.1 0 1 0 -4.2 0M116.7 118.9a2.1 2.1 0 1 0 4.2 0a2.1 2.1 0 1 0 -4.2 0M115.7 118.3a2.1 2.1 0 1 0 4.2 0a2.1 2.1 0 1 0 -4.2 0M113.9 115.8a2.1 2.1 0 1 0 4.2 0a2.1 2.1 0 1 0 -4.2 0M125.2 129.7a2.1 2.1 0 1 0 4.2 0a2.1 2.1 0 1 0 -4.2 0M124.8 136.9a2.1 2.1 0 1 0 4.2 0a2.1 2.1 0 1 0 -4.2 0M127.4 140.6a2.1 2.1 0 1 0 4.2 0a2.1 2.1 0 1 0 -4.2 0M109.1 117.1a2.1 2.1 0 1 0 4.2 0a2.1 2.1 0 1 0 -4.2 0M102.4 181.9a2.1 2.1 0 1 0 4.2 0a2.1 2.1 0 1 0 -4.2 0M114.1 174.9a2.1 2.1 0 1 0 4.2 0a2.1 2.1 0 1 0 -4.2 0M109.7 182.1a2.1 2.1 0 1 0 4.2 0a2.1 2.1 0 1 0 -4.2 0M87.6 127.8a2.1 2.1 0 1 0 4.2 0a2.1 2.1 0 1 0 -4.2 0M89.1 138.3a2.1 2.1 0 1 0 4.2 0a2.1 2.1 0 1 0 -4.2 0M121.9 142.9a2.1 2.1 0 1 0 4.2 0a2.1 2.1 0 1 0 -4.2 0M126.7 128.6a2.1 2.1 0 1 0 4.2 0a2.1 2.1 0 1 0 -4.2 0M105.7 177.7a2.1 2.1 0 1 0 4.2 0a2.1 2.1 0 1 0 -4.2 0M116.8 119.1a2.1 2.1 0 1 0 4.2 0a2.1 2.1 0 1 0 -4.2 0M88.0 152.4a2.1 2.1 0 1 0 4.2 0a2.1 2.1 0 1 0 -4.2 0M89.6 157.1a2.1 2.1 0 1 0 4.2 0a2.1 2.1 0 1 0 -4.2 0M90.5 136.2a2.1 2.1 0 1 0 4.2 0a2.1 2.1 0 1 0 -4.2 0M95.3 177.0a2.1 2.1 0 1 0 4.2 0a2.1 2.1 0 1 0 -4.2 0M89.6 159.2a2.1 2.1 0 1 0 4.2 0a2.1 2.1 0 1 0 -4.2 0M107.8 185.3a2.1 2.1 0 1 0 4.2 0a2.1 2.1 0 1 0 -4.2 0M106.8 182.6a2.1 2.1 0 1 0 4.2 0a2.1 2.1 0 1 0 -4.2 0M111.2 177.4a2.1 2.1 0 1 0 4.2 0a2.1 2.1 0 1 0 -4.2 0M108.9 177.5a2.1 2.1 0 1 0 4.2 0a2.1 2.1 0 1 0 -4.2 0M126.4 135.1a2.1 2.1 0 1 0 4.2 0a2.1 2.1 0 1 0 -4.2 0M120.1 140.3a2.1 2.1 0 1 0 4.2 0a2.1 2.1 0 1 0 -4.2 0M110.4 177.9a2.1 2.1 0 1 0 4.2 0a2.1 2.1 0 1 0 -4.2 0M96.2 178.4a2.1 2.1 0 1 0 4.2 0a2.1 2.1 0 1 0 -4.2 0M128.9 129.2a2.1 2.1 0 1 0 4.2 0a2.1 2.1 0 1 0 -4.2 0M88.6 165.3a2.1 2.1 0 1 0 4.2 0a2.1 2.1 0 1 0 -4.2 0M125.6 136.7a2.1 2.1 0 1 0 4.2 0a2.1 2.1 0 1 0 -4.2 0M102.7 116.4a2.1 2.1 0 1 0 4.2 0a2.1 2.1 0 1 0 -4.2 0M104.3 115.4a2.1 2.1 0 1 0 4.2 0a2.1 2.1 0 1 0 -4.2 0M121.5 123.4a2.1 2.1 0 1 0 4.2 0a2.1 2.1 0 1 0 -4.2 0M120.7 149.6a2.1 2.1 0 1 0 4.2 0a2.1 2.1 0 1 0 -4.2 0M95.7 119.0a2.1 2.1 0 1 0 4.2 0a2.1 2.1 0 1 0 -4.2 0M111.0 181.6a2.1 2.1 0 1 0 4.2 0a2.1 2.1 0 1 0 -4.2 0M113.5 117.2a2.1 2.1 0 1 0 4.2 0a2.1 2.1 0 1 0 -4.2 0M122.4 145.7a2.1 2.1 0 1 0 4.2 0a2.1 2.1 0 1 0 -4.2 0M94.5 178.1a2.1 2.1 0 1 0 4.2 0a2.1 2.1 0 1 0 -4.2 0M89.2 167.3a2.1 2.1 0 1 0 4.2 0a2.1 2.1 0 1 0 -4.2 0M91.1 132.2a2.1 2.1 0 1 0 4.2 0a2.1 2.1 0 1 0 -4.2 0M120.5 126.5a2.1 2.1 0 1 0 4.2 0a2.1 2.1 0 1 0 -4.2 0M116.9 119.4a2.1 2.1 0 1 0 4.2 0a2.1 2.1 0 1 0 -4.2 0M104.0 117.3a2.1 2.1 0 1 0 4.2 0a2.1 2.1 0 1 0 -4.2 0M93.9 173.9a2.1 2.1 0 1 0 4.2 0a2.1 2.1 0 1 0 -4.2 0M123.1 139.8a2.1 2.1 0 1 0 4.2 0a2.1 2.1 0 1 0 -4.2 0M91.9 138.9a2.1 2.1 0 1 0 4.2 0a2.1 2.1 0 1 0 -4.2 0M114.9 116.7a2.1 2.1 0 1 0 4.2 0a2.1 2.1 0 1 0 -4.2 0M122.1 142.9a2.1 2.1 0 1 0 4.2 0a2.1 2.1 0 1 0 -4.2 0M93.7 178.7a2.1 2.1 0 1 0 4.2 0a2.1 2.1 0 1 0 -4.2 0M98.5 121.8a2.1 2.1 0 1 0 4.2 0a2.1 2.1 0 1 0 -4.2 0M122.3 149.3a2.1 2.1 0 1 0 4.2 0a2.1 2.1 0 1 0 -4.2 0M118.5 159.3a2.1 2.1 0 1 0 4.2 0a2.1 2.1 0 1 0 -4.2 0M110.4 114.2a2.1 2.1 0 1 0 4.2 0a2.1 2.1 0 1 0 -4.2 0M92.2 130.2a2.1 2.1 0 1 0 4.2 0a2.1 2.1 0 1 0 -4.2 0M123.3 146.0a2.1 2.1 0 1 0 4.2 0a2.1 2.1 0 1 0 -4.2 0M112.1 182.2a2.1 2.1 0 1 0 4.2 0a2.1 2.1 0 1 0 -4.2 0M97.5 178.6a2.1 2.1 0 1 0 4.2 0a2.1 2.1 0 1 0 -4.2 0M120.4 130.0a2.1 2.1 0 1 0 4.2 0a2.1 2.1 0 1 0 -4.2 0M97.7 119.0a2.1 2.1 0 1 0 4.2 0a2.1 2.1 0 1 0 -4.2 0M102.6 182.1a2.1 2.1 0 1 0 4.2 0a2.1 2.1 0 1 0 -4.2 0M122.1 124.5a2.1 2.1 0 1 0 4.2 0a2.1 2.1 0 1 0 -4.2 0M112.2 117.6a2.1 2.1 0 1 0 4.2 0a2.1 2.1 0 1 0 -4.2 0M117.6 120.8a2.1 2.1 0 1 0 4.2 0a2.1 2.1 0 1 0 -4.2 0M117.7 158.5a2.1 2.1 0 1 0 4.2 0a2.1 2.1 0 1 0 -4.2 0M99.6 181.2a2.1 2.1 0 1 0 4.2 0a2.1 2.1 0 1 0 -4.2 0M127.5 133.0a2.1 2.1 0 1 0 4.2 0a2.1 2.1 0 1 0 -4.2 0M115.1 118.4a2.1 2.1 0 1 0 4.2 0a2.1 2.1 0 1 0 -4.2 0M81.9 152.0a2.1 2.1 0 1 0 4.2 0a2.1 2.1 0 1 0 -4.2 0M83.9 149.0a2.1 2.1 0 1 0 4.2 0a2.1 2.1 0 1 0 -4.2 0M85.9 146.0a2.1 2.1 0 1 0 4.2 0a2.1 2.1 0 1 0 -4.2 0M77.9 156.0a2.1 2.1 0 1 0 4.2 0a2.1 2.1 0 1 0 -4.2 0M138.9 133.0a2.1 2.1 0 1 0 4.2 0a2.1 2.1 0 1 0 -4.2 0M142.9 133.0a2.1 2.1 0 1 0 4.2 0a2.1 2.1 0 1 0 -4.2 0M146.9 132.0a2.1 2.1 0 1 0 4.2 0a2.1 2.1 0 1 0 -4.2 0M134.9 135.0a2.1 2.1 0 1 0 4.2 0a2.1 2.1 0 1 0 -4.2 0M131.9 137.0a2.1 2.1 0 1 0 4.2 0a2.1 2.1 0 1 0 -4.2 0M122.9 156.0a2.1 2.1 0 1 0 4.2 0a2.1 2.1 0 1 0 -4.2 0M121.9 161.0a2.1 2.1 0 1 0 4.2 0a2.1 2.1 0 1 0 -4.2 0M123.9 150.0a2.1 2.1 0 1 0 4.2 0a2.1 2.1 0 1 0 -4.2 0M97.9 181.0a2.1 2.1 0 1 0 4.2 0a2.1 2.1 0 1 0 -4.2 0M107.9 182.0a2.1 2.1 0 1 0 4.2 0a2.1 2.1 0 1 0 -4.2 0" fill="none" stroke="#bdbdbd" stroke-width="0.85"/>
<path d="M111.0 135.5h0.9v0.9h-0.9zM109.7 138.8h0.9v0.9h-0.9zM105.3 135.4h0.9v0.9h-0.9zM98.1 127.1h0.9v0.9h-0.9zM100.1 128.1h0.9v0.9h-0.9zM112.7 124.1h0.9v0.9h-0.9zM98.2 138.4h0.9v0.9h-0.9zM116.6 129.6h0.9v0.9h-0.9zM103.9 123.2h0.9v0.9h-0.9zM102.5 122.3h0.9v0.9h-0.9zM102.4 134.0h0.9v0.9h-0.9zM102.2 143.8h0.9v0.9h-0.9zM112.9 137.7h0.9v0.9h-0.9zM99.5 125.8h0.9v0.9h-0.9zM108.5 118.6h0.9v0.9h-0.9zM97.1 132.6h0.9v0.9h-0.9zM100.5 123.7h0.9v0.9h-0.9zM101.1 130.4h0.9v0.9h-0.9zM95.8 137.8h0.9v0.9h-0.9zM117.5 124.4h0.9v0.9h-0.9zM119.3 132.4h0.9v0.9h-0.9zM112.6 131.6h0.9v0.9h-0.9zM122.2 133.4h0.9v0.9h-0.9zM100.6 131.1h0.9v0.9h-0.9zM94.0 137.7h0.9v0.9h-0.9zM106.6 132.3h0.9v0.9h-0.9zM114.6 138.9h0.9v0.9h-0.9zM103.4 127.2h0.9v0.9h-0.9zM105.6 119.1h0.9v0.9h-0.9zM108.8 125.7h0.9v0.9h-0.9zM129.7 140.2h0.9v0.9h-0.9zM104.8 129.1h0.9v0.9h-0.9zM93.2 136.3h0.9v0.9h-0.9zM96.2 141.6h0.9v0.9h-0.9zM111.4 134.9h0.9v0.9h-0.9zM98.4 136.2h0.9v0.9h-0.9zM118.8 129.2h0.9v0.9h-0.9zM103.3 126.6h0.9v0.9h-0.9zM101.2 138.4h0.9v0.9h-0.9zM104.8 131.8h0.9v0.9h-0.9zM105.8 134.1h0.9v0.9h-0.9zM128.2 135.4h0.9v0.9h-0.9z" fill="#5050ff" fill-opacity="0.7"/>
<path d="M111.1 125.1a2.15 2.15 0 1 0 4.3 0a2.15 2.15 0 1 0 -4.3 0M113.9 125.4a2.15 2.15 0 1 0 4.3 0a2.15 2.15 0 1 0 -4.3 0M119.4 123.9a2.15 2.15 0 1 0 4.3 0a2.15 2.15 0 1 0 -4.3 0M98.4 118.5a2.15 2.15 0 1 0 4.3 0a2.15 2.15 0 1 0 -4.3 0M109.4 126.4a2.15 2.15 0 1 0 4.3 0a2.15 2.15 0 1 0 -4.3 0M119.5 124.3a2.15 2.15 0 1 0 4.3 0a2.15 2.15 0 1 0 -4.3 0M108.8 130.3a2.15 2.15 0 1 0 4.3 0a2.15 2.15 0 1 0 -4.3 0M105.4 115.2a2.15 2.15 0 1 0 4.3 0a2.15 2.15 0 1 0 -4.3 0M109.4 122.8a2.15 2.15 0 1 0 4.3 0a2.15 2.15 0 1 0 -4.3 0M113.1 134.4a2.15 2.15 0 1 0 4.3 0a2.15 2.15 0 1 0 -4.3 0M126.8 124.9a2.15 2.15 0 1 0 4.3 0a2.15 2.15 0 1 0 -4.3 0M95.3 122.6a2.15 2.15 0 1 0 4.3 0a2.15 2.15 0 1 0 -4.3 0M128.8 133.9a2.15 2.15 0 1 0 4.3 0a2.15 2.15 0 1 0 -4.3 0M106.7 123.9a2.15 2.15 0 1 0 4.3 0a2.15 2.15 0 1 0 -4.3 0M110.1 127.4a2.15 2.15 0 1 0 4.3 0a2.15 2.15 0 1 0 -4.3 0M101.0 126.0a2.15 2.15 0 1 0 4.3 0a2.15 2.15 0 1 0 -4.3 0M113.3 124.3a2.15 2.15 0 1 0 4.3 0a2.15 2.15 0 1 0 -4.3 0M124.5 130.0a2.15 2.15 0 1 0 4.3 0a2.15 2.15 0 1 0 -4.3 0M100.8 110.2a2.15 2.15 0 1 0 4.3 0a2.15 2.15 0 1 0 -4.3 0M108.3 144.5a2.15 2.15 0 1 0 4.3 0a2.15 2.15 0 1 0 -4.3 0M106.0 120.9a2.15 2.15 0 1 0 4.3 0a2.15 2.15 0 1 0 -4.3 0M105.7 126.9a2.15 2.15 0 1 0 4.3 0a2.15 2.15 0 1 0 -4.3 0M96.6 126.0a2.15 2.15 0 1 0 4.3 0a2.15 2.15 0 1 0 -4.3 0M112.5 126.1a2.15 2.15 0 1 0 4.3 0a2.15 2.15 0 1 0 -4.3 0M103.0 119.0a2.15 2.15 0 1 0 4.3 0a2.15 2.15 0 1 0 -4.3 0M111.2 126.0a2.15 2.15 0 1 0 4.3 0a2.15 2.15 0 1 0 -4.3 0M120.4 125.6a2.15 2.15 0 1 0 4.3 0a2.15 2.15 0 1 0 -4.3 0M128.4 130.7a2.15 2.15 0 1 0 4.3 0a2.15 2.15 0 1 0 -4.3 0M117.9 124.9a2.15 2.15 0 1 0 4.3 0a2.15 2.15 0 1 0 -4.3 0M135.6 125.9a2.15 2.15 0 1 0 4.3 0a2.15 2.15 0 1 0 -4.3 0M116.7 123.6a2.15 2.15 0 1 0 4.3 0a2.15 2.15 0 1 0 -4.3 0M105.4 111.4a2.15 2.15 0 1 0 4.3 0a2.15 2.15 0 1 0 -4.3 0M112.8 123.1a2.15 2.15 0 1 0 4.3 0a2.15 2.15 0 1 0 -4.3 0M102.8 121.3a2.15 2.15 0 1 0 4.3 0a2.15 2.15 0 1 0 -4.3 0M109.6 123.0a2.15 2.15 0 1 0 4.3 0a2.15 2.15 0 1 0 -4.3 0M119.0 139.7a2.15 2.15 0 1 0 4.3 0a2.15 2.15 0 1 0 -4.3 0M103.1 112.4a2.15 2.15 0 1 0 4.3 0a2.15 2.15 0 1 0 -4.3 0M99.5 114.0a2.15 2.15 0 1 0 4.3 0a2.15 2.15 0 1 0 -4.3 0M100.6 110.4a2.15 2.15 0 1 0 4.3 0a2.15 2.15 0 1 0 -4.3 0M100.2 126.8a2.15 2.15 0 1 0 4.3 0a2.15 2.15 0 1 0 -4.3 0M102.0 117.7a2.15 2.15 0 1 0 4.3 0a2.15 2.15 0 1 0 -4.3 0M101.5 111.2a2.15 2.15 0 1 0 4.3 0a2.15 2.15 0 1 0 -4.3 0M109.2 122.1a2.15 2.15 0 1 0 4.3 0a2.15 2.15 0 1 0 -4.3 0M109.7 141.1a2.15 2.15 0 1 0 4.3 0a2.15 2.15 0 1 0 -4.3 0M110.3 123.4a2.15 2.15 0 1 0 4.3 0a2.15 2.15 0 1 0 -4.3 0" fill="none" stroke="rgb(5, 5, 251)" stroke-width="0.85"/>
<path d="M134.7 126.4a2.15 2.15 0 1 0 4.3 0a2.15 2.15 0 1 0 -4.3 0M117.2 124.7a2.15 2.15 0 1 0 4.3 0a2.15 2.15 0 1 0 -4.3 0M123.1 130.9a2.15 2.15 0 1 0 4.3 0a2.15 2.15 0 1 0 -4.3 0M123.1 131.0a2.15 2.15 0 1 0 4.3 0a2.15 2.15 0 1 0 -4.3 0M113.6 124.1a2.15 2.15 0 1 0 4.3 0a2.15 2.15 0 1 0 -4.3 0M109.3 114.7a2.15 2.15 0 1 0 4.3 0a2.15 2.15 0 1 0 -4.3 0M133.9 124.6a2.15 2.15 0 1 0 4.3 0a2.15 2.15 0 1 0 -4.3 0M121.9 121.9a2.15 2.15 0 1 0 4.3 0a2.15 2.15 0 1 0 -4.3 0M131.7 120.1a2.15 2.15 0 1 0 4.3 0a2.15 2.15 0 1 0 -4.3 0M108.2 131.7a2.15 2.15 0 1 0 4.3 0a2.15 2.15 0 1 0 -4.3 0M111.1 120.6a2.15 2.15 0 1 0 4.3 0a2.15 2.15 0 1 0 -4.3 0M107.2 113.7a2.15 2.15 0 1 0 4.3 0a2.15 2.15 0 1 0 -4.3 0M98.0 122.1a2.15 2.15 0 1 0 4.3 0a2.15 2.15 0 1 0 -4.3 0M109.3 117.9a2.15 2.15 0 1 0 4.3 0a2.15 2.15 0 1 0 -4.3 0M109.6 127.3a2.15 2.15 0 1 0 4.3 0a2.15 2.15 0 1 0 -4.3 0M108.9 113.1a2.15 2.15 0 1 0 4.3 0a2.15 2.15 0 1 0 -4.3 0M122.4 127.5a2.15 2.15 0 1 0 4.3 0a2.15 2.15 0 1 0 -4.3 0M108.2 118.4a2.15 2.15 0 1 0 4.3 0a2.15 2.15 0 1 0 -4.3 0M107.3 112.2a2.15 2.15 0 1 0 4.3 0a2.15 2.15 0 1 0 -4.3 0M122.4 126.6a2.15 2.15 0 1 0 4.3 0a2.15 2.15 0 1 0 -4.3 0M122.1 120.4a2.15 2.15 0 1 0 4.3 0a2.15 2.15 0 1 0 -4.3 0M119.8 123.8a2.15 2.15 0 1 0 4.3 0a2.15 2.15 0 1 0 -4.3 0M135.5 126.3a2.15 2.15 0 1 0 4.3 0a2.15 2.15 0 1 0 -4.3 0M116.4 114.4a2.15 2.15 0 1 0 4.3 0a2.15 2.15 0 1 0 -4.3 0M105.1 137.0a2.15 2.15 0 1 0 4.3 0a2.15 2.15 0 1 0 -4.3 0M116.5 125.2a2.15 2.15 0 1 0 4.3 0a2.15 2.15 0 1 0 -4.3 0M128.6 123.8a2.15 2.15 0 1 0 4.3 0a2.15 2.15 0 1 0 -4.3 0M116.4 120.5a2.15 2.15 0 1 0 4.3 0a2.15 2.15 0 1 0 -4.3 0M108.3 119.2a2.15 2.15 0 1 0 4.3 0a2.15 2.15 0 1 0 -4.3 0M119.6 126.6a2.15 2.15 0 1 0 4.3 0a2.15 2.15 0 1 0 -4.3 0M106.2 128.0a2.15 2.15 0 1 0 4.3 0a2.15 2.15 0 1 0 -4.3 0M99.0 121.1a2.15 2.15 0 1 0 4.3 0a2.15 2.15 0 1 0 -4.3 0M117.3 123.0a2.15 2.15 0 1 0 4.3 0a2.15 2.15 0 1 0 -4.3 0M116.2 119.2a2.15 2.15 0 1 0 4.3 0a2.15 2.15 0 1 0 -4.3 0M110.5 119.7a2.15 2.15 0 1 0 4.3 0a2.15 2.15 0 1 0 -4.3 0M121.6 137.4a2.15 2.15 0 1 0 4.3 0a2.15 2.15 0 1 0 -4.3 0M102.0 108.9a2.15 2.15 0 1 0 4.3 0a2.15 2.15 0 1 0 -4.3 0M112.9 120.1a2.15 2.15 0 1 0 4.3 0a2.15 2.15 0 1 0 -4.3 0M118.4 126.9a2.15 2.15 0 1 0 4.3 0a2.15 2.15 0 1 0 -4.3 0M111.9 122.6a2.15 2.15 0 1 0 4.3 0a2.15 2.15 0 1 0 -4.3 0M101.1 130.1a2.15 2.15 0 1 0 4.3 0a2.15 2.15 0 1 0 -4.3 0M131.5 123.5a2.15 2.15 0 1 0 4.3 0a2.15 2.15 0 1 0 -4.3 0M119.8 123.6a2.15 2.15 0 1 0 4.3 0a2.15 2.15 0 1 0 -4.3 0M108.6 103.8a2.15 2.15 0 1 0 4.3 0a2.15 2.15 0 1 0 -4.3 0M94.5 128.1a2.15 2.15 0 1 0 4.3 0a2.15 2.15 0 1 0 -4.3 0M114.5 111.4a2.15 2.15 0 1 0 4.3 0a2.15 2.15 0 1 0 -4.3 0M105.1 105.8a2.15 2.15 0 1 0 4.3 0a2.15 2.15 0 1 0 -4.3 0M116.2 117.0a2.15 2.15 0 1 0 4.3 0a2.15 2.15 0 1 0 -4.3 0M111.4 124.6a2.15 2.15 0 1 0 4.3 0a2.15 2.15 0 1 0 -4.3 0M110.4 126.0a2.15 2.15 0 1 0 4.3 0a2.15 2.15 0 1 0 -4.3 0M112.1 124.1a2.15 2.15 0 1 0 4.3 0a2.15 2.15 0 1 0 -4.3 0M110.2 108.4a2.15 2.15 0 1 0 4.3 0a2.15 2.15 0 1 0 -4.3 0M107.8 116.9a2.15 2.15 0 1 0 4.3 0a2.15 2.15 0 1 0 -4.3 0" fill="none" stroke="rgb(15, 15, 243)" stroke-width="0.85"/>
<path d="M134.1 125.0a2.15 2.15 0 1 0 4.3 0a2.15 2.15 0 1 0 -4.3 0M117.5 110.7a2.15 2.15 0 1 0 4.3 0a2.15 2.15 0 1 0 -4.3 0M124.1 125.7a2.15 2.15 0 1 0 4.3 0a2.15 2.15 0 1 0 -4.3 0M120.6 126.2a2.15 2.15 0 1 0 4.3 0a2.15 2.15 0 1 0 -4.3 0M127.6 133.1a2.15 2.15 0 1 0 4.3 0a2.15 2.15 0 1 0 -4.3 0M118.5 107.8a2.15 2.15 0 1 0 4.3 0a2.15 2.15 0 1 0 -4.3 0M121.1 118.8a2.15 2.15 0 1 0 4.3 0a2.15 2.15 0 1 0 -4.3 0M120.1 120.3a2.15 2.15 0 1 0 4.3 0a2.15 2.15 0 1 0 -4.3 0M129.9 115.8a2.15 2.15 0 1 0 4.3 0a2.15 2.15 0 1 0 -4.3 0M125.9 123.8a2.15 2.15 0 1 0 4.3 0a2.15 2.15 0 1 0 -4.3 0M117.2 122.8a2.15 2.15 0 1 0 4.3 0a2.15 2.15 0 1 0 -4.3 0M130.5 127.0a2.15 2.15 0 1 0 4.3 0a2.15 2.15 0 1 0 -4.3 0M122.7 125.5a2.15 2.15 0 1 0 4.3 0a2.15 2.15 0 1 0 -4.3 0M119.0 122.8a2.15 2.15 0 1 0 4.3 0a2.15 2.15 0 1 0 -4.3 0M111.4 122.9a2.15 2.15 0 1 0 4.3 0a2.15 2.15 0 1 0 -4.3 0M127.0 125.6a2.15 2.15 0 1 0 4.3 0a2.15 2.15 0 1 0 -4.3 0M110.1 114.3a2.15 2.15 0 1 0 4.3 0a2.15 2.15 0 1 0 -4.3 0M114.9 123.6a2.15 2.15 0 1 0 4.3 0a2.15 2.15 0 1 0 -4.3 0M118.2 115.2a2.15 2.15 0 1 0 4.3 0a2.15 2.15 0 1 0 -4.3 0M120.0 125.2a2.15 2.15 0 1 0 4.3 0a2.15 2.15 0 1 0 -4.3 0M116.0 111.9a2.15 2.15 0 1 0 4.3 0a2.15 2.15 0 1 0 -4.3 0M130.9 118.3a2.15 2.15 0 1 0 4.3 0a2.15 2.15 0 1 0 -4.3 0M108.3 112.4a2.15 2.15 0 1 0 4.3 0a2.15 2.15 0 1 0 -4.3 0M123.0 122.9a2.15 2.15 0 1 0 4.3 0a2.15 2.15 0 1 0 -4.3 0M107.7 107.2a2.15 2.15 0 1 0 4.3 0a2.15 2.15 0 1 0 -4.3 0M125.8 121.8a2.15 2.15 0 1 0 4.3 0a2.15 2.15 0 1 0 -4.3 0M111.2 107.3a2.15 2.15 0 1 0 4.3 0a2.15 2.15 0 1 0 -4.3 0M123.3 110.2a2.15 2.15 0 1 0 4.3 0a2.15 2.15 0 1 0 -4.3 0M112.0 110.9a2.15 2.15 0 1 0 4.3 0a2.15 2.15 0 1 0 -4.3 0M124.8 118.3a2.15 2.15 0 1 0 4.3 0a2.15 2.15 0 1 0 -4.3 0M132.1 115.8a2.15 2.15 0 1 0 4.3 0a2.15 2.15 0 1 0 -4.3 0M97.1 121.0a2.15 2.15 0 1 0 4.3 0a2.15 2.15 0 1 0 -4.3 0M131.8 121.1a2.15 2.15 0 1 0 4.3 0a2.15 2.15 0 1 0 -4.3 0M110.6 111.4a2.15 2.15 0 1 0 4.3 0a2.15 2.15 0 1 0 -4.3 0M121.1 118.8a2.15 2.15 0 1 0 4.3 0a2.15 2.15 0 1 0 -4.3 0M109.2 120.3a2.15 2.15 0 1 0 4.3 0a2.15 2.15 0 1 0 -4.3 0M123.1 116.7a2.15 2.15 0 1 0 4.3 0a2.15 2.15 0 1 0 -4.3 0M107.7 105.0a2.15 2.15 0 1 0 4.3 0a2.15 2.15 0 1 0 -4.3 0M113.2 118.4a2.15 2.15 0 1 0 4.3 0a2.15 2.15 0 1 0 -4.3 0M127.4 111.7a2.15 2.15 0 1 0 4.3 0a2.15 2.15 0 1 0 -4.3 0M113.9 110.3a2.15 2.15 0 1 0 4.3 0a2.15 2.15 0 1 0 -4.3 0M123.4 112.6a2.15 2.15 0 1 0 4.3 0a2.15 2.15 0 1 0 -4.3 0M128.2 114.3a2.15 2.15 0 1 0 4.3 0a2.15 2.15 0 1 0 -4.3 0M107.7 121.4a2.15 2.15 0 1 0 4.3 0a2.15 2.15 0 1 0 -4.3 0M111.2 120.3a2.15 2.15 0 1 0 4.3 0a2.15 2.15 0 1 0 -4.3 0M115.1 125.2a2.15 2.15 0 1 0 4.3 0a2.15 2.15 0 1 0 -4.3 0" fill="none" stroke="rgb(32, 38, 244)" stroke-width="0.85"/>
<path d="M129.2 121.4a2.15 2.15 0 1 0 4.3 0a2.15 2.15 0 1 0 -4.3 0M127.8 121.0a2.15 2.15 0 1 0 4.3 0a2.15 2.15 0 1 0 -4.3 0M129.2 118.9a2.15 2.15 0 1 0 4.3 0a2.15 2.15 0 1 0 -4.3 0M113.2 118.0a2.15 2.15 0 1 0 4.3 0a2.15 2.15 0 1 0 -4.3 0M124.6 122.4a2.15 2.15 0 1 0 4.3 0a2.15 2.15 0 1 0 -4.3 0M125.7 125.4a2.15 2.15 0 1 0 4.3 0a2.15 2.15 0 1 0 -4.3 0M115.4 107.6a2.15 2.15 0 1 0 4.3 0a2.15 2.15 0 1 0 -4.3 0M120.5 100.9a2.15 2.15 0 1 0 4.3 0a2.15 2.15 0 1 0 -4.3 0M117.0 115.3a2.15 2.15 0 1 0 4.3 0a2.15 2.15 0 1 0 -4.3 0M134.9 120.0a2.15 2.15 0 1 0 4.3 0a2.15 2.15 0 1 0 -4.3 0M117.2 115.4a2.15 2.15 0 1 0 4.3 0a2.15 2.15 0 1 0 -4.3 0M116.9 105.9a2.15 2.15 0 1 0 4.3 0a2.15 2.15 0 1 0 -4.3 0M124.5 116.3a2.15 2.15 0 1 0 4.3 0a2.15 2.15 0 1 0 -4.3 0M130.0 117.0a2.15 2.15 0 1 0 4.3 0a2.15 2.15 0 1 0 -4.3 0M129.5 115.8a2.15 2.15 0 1 0 4.3 0a2.15 2.15 0 1 0 -4.3 0M114.8 99.7a2.15 2.15 0 1 0 4.3 0a2.15 2.15 0 1 0 -4.3 0M127.4 118.6a2.15 2.15 0 1 0 4.3 0a2.15 2.15 0 1 0 -4.3 0M115.9 108.9a2.15 2.15 0 1 0 4.3 0a2.15 2.15 0 1 0 -4.3 0M128.2 104.7a2.15 2.15 0 1 0 4.3 0a2.15 2.15 0 1 0 -4.3 0M138.7 113.4a2.15 2.15 0 1 0 4.3 0a2.15 2.15 0 1 0 -4.3 0M116.9 106.9a2.15 2.15 0 1 0 4.3 0a2.15 2.15 0 1 0 -4.3 0M124.0 108.8a2.15 2.15 0 1 0 4.3 0a2.15 2.15 0 1 0 -4.3 0M126.2 118.8a2.15 2.15 0 1 0 4.3 0a2.15 2.15 0 1 0 -4.3 0M126.6 120.3a2.15 2.15 0 1 0 4.3 0a2.15 2.15 0 1 0 -4.3 0M126.5 115.4a2.15 2.15 0 1 0 4.3 0a2.15 2.15 0 1 0 -4.3 0M132.3 120.9a2.15 2.15 0 1 0 4.3 0a2.15 2.15 0 1 0 -4.3 0M119.7 111.7a2.15 2.15 0 1 0 4.3 0a2.15 2.15 0 1 0 -4.3 0M125.7 119.9a2.15 2.15 0 1 0 4.3 0a2.15 2.15 0 1 0 -4.3 0M110.2 101.7a2.15 2.15 0 1 0 4.3 0a2.15 2.15 0 1 0 -4.3 0M127.0 110.5a2.15 2.15 0 1 0 4.3 0a2.15 2.15 0 1 0 -4.3 0M109.3 107.1a2.15 2.15 0 1 0 4.3 0a2.15 2.15 0 1 0 -4.3 0M128.7 119.2a2.15 2.15 0 1 0 4.3 0a2.15 2.15 0 1 0 -4.3 0M115.2 106.8a2.15 2.15 0 1 0 4.3 0a2.15 2.15 0 1 0 -4.3 0M124.9 109.8a2.15 2.15 0 1 0 4.3 0a2.15 2.15 0 1 0 -4.3 0M122.5 109.4a2.15 2.15 0 1 0 4.3 0a2.15 2.15 0 1 0 -4.3 0M131.9 111.0a2.15 2.15 0 1 0 4.3 0a2.15 2.15 0 1 0 -4.3 0M119.0 104.6a2.15 2.15 0 1 0 4.3 0a2.15 2.15 0 1 0 -4.3 0M124.1 125.4a2.15 2.15 0 1 0 4.3 0a2.15 2.15 0 1 0 -4.3 0M124.1 115.0a2.15 2.15 0 1 0 4.3 0a2.15 2.15 0 1 0 -4.3 0M119.3 108.7a2.15 2.15 0 1 0 4.3 0a2.15 2.15 0 1 0 -4.3 0M111.0 110.2a2.15 2.15 0 1 0 4.3 0a2.15 2.15 0 1 0 -4.3 0M132.5 122.3a2.15 2.15 0 1 0 4.3 0a2.15 2.15 0 1 0 -4.3 0M142.9 114.6a2.15 2.15 0 1 0 4.3 0a2.15 2.15 0 1 0 -4.3 0M129.3 115.9a2.15 2.15 0 1 0 4.3 0a2.15 2.15 0 1 0 -4.3 0M127.0 105.0a2.15 2.15 0 1 0 4.3 0a2.15 2.15 0 1 0 -4.3 0M121.8 109.9a2.15 2.15 0 1 0 4.3 0a2.15 2.15 0 1 0 -4.3 0M122.1 118.9a2.15 2.15 0 1 0 4.3 0a2.15 2.15 0 1 0 -4.3 0M143.8 115.1a2.15 2.15 0 1 0 4.3 0a2.15 2.15 0 1 0 -4.3 0M142.0 113.6a2.15 2.15 0 1 0 4.3 0a2.15 2.15 0 1 0 -4.3 0M144.0 115.2a2.15 2.15 0 1 0 4.3 0a2.15 2.15 0 1 0 -4.3 0M127.0 102.3a2.15 2.15 0 1 0 4.3 0a2.15 2.15 0 1 0 -4.3 0M128.4 113.3a2.15 2.15 0 1 0 4.3 0a2.15 2.15 0 1 0 -4.3 0M134.5 108.7a2.15 2.15 0 1 0 4.3 0a2.15 2.15 0 1 0 -4.3 0M126.9 105.6a2.15 2.15 0 1 0 4.3 0a2.15 2.15 0 1 0 -4.3 0M131.1 120.4a2.15 2.15 0 1 0 4.3 0a2.15 2.15 0 1 0 -4.3 0M121.9 114.0a2.15 2.15 0 1 0 4.3 0a2.15 2.15 0 1 0 -4.3 0M136.1 107.4a2.15 2.15 0 1 0 4.3 0a2.15 2.15 0 1 0 -4.3 0M126.6 105.4a2.15 2.15 0 1 0 4.3 0a2.15 2.15 0 1 0 -4.3 0" fill="none" stroke="rgb(52, 69, 252)" stroke-width="0.85"/>
<path d="M125.4 114.9a2.15 2.15 0 1 0 4.3 0a2.15 2.15 0 1 0 -4.3 0M116.3 117.1a2.15 2.15 0 1 0 4.3 0a2.15 2.15 0 1 0 -4.3 0M130.1 110.0a2.15 2.15 0 1 0 4.3 0a2.15 2.15 0 1 0 -4.3 0M131.0 116.8a2.15 2.15 0 1 0 4.3 0a2.15 2.15 0 1 0 -4.3 0M129.3 112.0a2.15 2.15 0 1 0 4.3 0a2.15 2.15 0 1 0 -4.3 0M122.8 110.7a2.15 2.15 0 1 0 4.3 0a2.15 2.15 0 1 0 -4.3 0M121.1 106.7a2.15 2.15 0 1 0 4.3 0a2.15 2.15 0 1 0 -4.3 0M118.5 107.7a2.15 2.15 0 1 0 4.3 0a2.15 2.15 0 1 0 -4.3 0M140.1 114.8a2.15 2.15 0 1 0 4.3 0a2.15 2.15 0 1 0 -4.3 0M123.6 112.7a2.15 2.15 0 1 0 4.3 0a2.15 2.15 0 1 0 -4.3 0M123.8 112.3a2.15 2.15 0 1 0 4.3 0a2.15 2.15 0 1 0 -4.3 0M115.9 98.1a2.15 2.15 0 1 0 4.3 0a2.15 2.15 0 1 0 -4.3 0M120.6 105.3a2.15 2.15 0 1 0 4.3 0a2.15 2.15 0 1 0 -4.3 0M113.6 103.4a2.15 2.15 0 1 0 4.3 0a2.15 2.15 0 1 0 -4.3 0M135.7 113.6a2.15 2.15 0 1 0 4.3 0a2.15 2.15 0 1 0 -4.3 0M119.7 105.7a2.15 2.15 0 1 0 4.3 0a2.15 2.15 0 1 0 -4.3 0M115.5 116.7a2.15 2.15 0 1 0 4.3 0a2.15 2.15 0 1 0 -4.3 0M132.2 118.4a2.15 2.15 0 1 0 4.3 0a2.15 2.15 0 1 0 -4.3 0M126.0 108.9a2.15 2.15 0 1 0 4.3 0a2.15 2.15 0 1 0 -4.3 0M137.3 119.3a2.15 2.15 0 1 0 4.3 0a2.15 2.15 0 1 0 -4.3 0M120.6 112.7a2.15 2.15 0 1 0 4.3 0a2.15 2.15 0 1 0 -4.3 0M120.0 112.0a2.15 2.15 0 1 0 4.3 0a2.15 2.15 0 1 0 -4.3 0M131.0 115.9a2.15 2.15 0 1 0 4.3 0a2.15 2.15 0 1 0 -4.3 0M134.0 116.0a2.15 2.15 0 1 0 4.3 0a2.15 2.15 0 1 0 -4.3 0M126.8 114.3a2.15 2.15 0 1 0 4.3 0a2.15 2.15 0 1 0 -4.3 0M128.1 101.1a2.15 2.15 0 1 0 4.3 0a2.15 2.15 0 1 0 -4.3 0M112.6 102.1a2.15 2.15 0 1 0 4.3 0a2.15 2.15 0 1 0 -4.3 0M138.7 109.1a2.15 2.15 0 1 0 4.3 0a2.15 2.15 0 1 0 -4.3 0M135.1 112.6a2.15 2.15 0 1 0 4.3 0a2.15 2.15 0 1 0 -4.3 0M141.4 106.3a2.15 2.15 0 1 0 4.3 0a2.15 2.15 0 1 0 -4.3 0M119.9 107.6a2.15 2.15 0 1 0 4.3 0a2.15 2.15 0 1 0 -4.3 0M132.2 111.9a2.15 2.15 0 1 0 4.3 0a2.15 2.15 0 1 0 -4.3 0M135.0 101.7a2.15 2.15 0 1 0 4.3 0a2.15 2.15 0 1 0 -4.3 0M116.2 108.1a2.15 2.15 0 1 0 4.3 0a2.15 2.15 0 1 0 -4.3 0M124.5 105.5a2.15 2.15 0 1 0 4.3 0a2.15 2.15 0 1 0 -4.3 0M113.7 96.4a2.15 2.15 0 1 0 4.3 0a2.15 2.15 0 1 0 -4.3 0M134.4 119.1a2.15 2.15 0 1 0 4.3 0a2.15 2.15 0 1 0 -4.3 0M123.2 108.3a2.15 2.15 0 1 0 4.3 0a2.15 2.15 0 1 0 -4.3 0M137.1 104.9a2.15 2.15 0 1 0 4.3 0a2.15 2.15 0 1 0 -4.3 0M135.6 110.9a2.15 2.15 0 1 0 4.3 0a2.15 2.15 0 1 0 -4.3 0M120.8 107.7a2.15 2.15 0 1 0 4.3 0a2.15 2.15 0 1 0 -4.3 0M128.3 117.4a2.15 2.15 0 1 0 4.3 0a2.15 2.15 0 1 0 -4.3 0M126.4 110.8a2.15 2.15 0 1 0 4.3 0a2.15 2.15 0 1 0 -4.3 0M126.5 107.2a2.15 2.15 0 1 0 4.3 0a2.15 2.15 0 1 0 -4.3 0M124.9 102.9a2.15 2.15 0 1 0 4.3 0a2.15 2.15 0 1 0 -4.3 0M131.7 109.0a2.15 2.15 0 1 0 4.3 0a2.15 2.15 0 1 0 -4.3 0M131.4 106.1a2.15 2.15 0 1 0 4.3 0a2.15 2.15 0 1 0 -4.3 0M141.4 112.5a2.15 2.15 0 1 0 4.3 0a2.15 2.15 0 1 0 -4.3 0M128.4 108.3a2.15 2.15 0 1 0 4.3 0a2.15 2.15 0 1 0 -4.3 0M133.5 96.9a2.15 2.15 0 1 0 4.3 0a2.15 2.15 0 1 0 -4.3 0M132.1 110.8a2.15 2.15 0 1 0 4.3 0a2.15 2.15 0 1 0 -4.3 0M138.5 116.0a2.15 2.15 0 1 0 4.3 0a2.15 2.15 0 1 0 -4.3 0M125.6 101.4a2.15 2.15 0 1 0 4.3 0a2.15 2.15 0 1 0 -4.3 0M133.0 116.5a2.15 2.15 0 1 0 4.3 0a2.15 2.15 0 1 0 -4.3 0M128.6 104.4a2.15 2.15 0 1 0 4.3 0a2.15 2.15 0 1 0 -4.3 0M119.3 117.9a2.15 2.15 0 1 0 4.3 0a2.15 2.15 0 1 0 -4.3 0M136.9 101.9a2.15 2.15 0 1 0 4.3 0a2.15 2.15 0 1 0 -4.3 0M135.0 104.0a2.15 2.15 0 1 0 4.3 0a2.15 2.15 0 1 0 -4.3 0M126.5 108.1a2.15 2.15 0 1 0 4.3 0a2.15 2.15 0 1 0 -4.3 0M131.9 107.9a2.15 2.15 0 1 0 4.3 0a2.15 2.15 0 1 0 -4.3 0" fill="none" stroke="rgb(69, 98, 255)" stroke-width="0.85"/>
<path d="M126.5 108.6a2.15 2.15 0 1 0 4.3 0a2.15 2.15 0 1 0 -4.3 0M128.6 102.3a2.15 2.15 0 1 0 4.3 0a2.15 2.15 0 1 0 -4.3 0M128.4 103.8a2.15 2.15 0 1 0 4.3 0a2.15 2.15 0 1 0 -4.3 0M118.1 110.2a2.15 2.15 0 1 0 4.3 0a2.15 2.15 0 1 0 -4.3 0M126.9 106.5a2.15 2.15 0 1 0 4.3 0a2.15 2.15 0 1 0 -4.3 0M128.4 109.0a2.15 2.15 0 1 0 4.3 0a2.15 2.15 0 1 0 -4.3 0M120.2 102.1a2.15 2.15 0 1 0 4.3 0a2.15 2.15 0 1 0 -4.3 0M131.3 104.7a2.15 2.15 0 1 0 4.3 0a2.15 2.15 0 1 0 -4.3 0M135.4 115.2a2.15 2.15 0 1 0 4.3 0a2.15 2.15 0 1 0 -4.3 0M130.8 103.1a2.15 2.15 0 1 0 4.3 0a2.15 2.15 0 1 0 -4.3 0M141.1 102.7a2.15 2.15 0 1 0 4.3 0a2.15 2.15 0 1 0 -4.3 0M139.0 106.0a2.15 2.15 0 1 0 4.3 0a2.15 2.15 0 1 0 -4.3 0M116.1 101.2a2.15 2.15 0 1 0 4.3 0a2.15 2.15 0 1 0 -4.3 0M130.7 106.8a2.15 2.15 0 1 0 4.3 0a2.15 2.15 0 1 0 -4.3 0M134.3 106.1a2.15 2.15 0 1 0 4.3 0a2.15 2.15 0 1 0 -4.3 0M135.3 108.3a2.15 2.15 0 1 0 4.3 0a2.15 2.15 0 1 0 -4.3 0M135.9 109.4a2.15 2.15 0 1 0 4.3 0a2.15 2.15 0 1 0 -4.3 0M134.3 113.3a2.15 2.15 0 1 0 4.3 0a2.15 2.15 0 1 0 -4.3 0M134.6 102.8a2.15 2.15 0 1 0 4.3 0a2.15 2.15 0 1 0 -4.3 0M154.3 109.2a2.15 2.15 0 1 0 4.3 0a2.15 2.15 0 1 0 -4.3 0M144.7 114.4a2.15 2.15 0 1 0 4.3 0a2.15 2.15 0 1 0 -4.3 0M134.3 107.2a2.15 2.15 0 1 0 4.3 0a2.15 2.15 0 1 0 -4.3 0M129.3 105.1a2.15 2.15 0 1 0 4.3 0a2.15 2.15 0 1 0 -4.3 0M123.6 105.7a2.15 2.15 0 1 0 4.3 0a2.15 2.15 0 1 0 -4.3 0M126.6 104.8a2.15 2.15 0 1 0 4.3 0a2.15 2.15 0 1 0 -4.3 0M117.8 91.4a2.15 2.15 0 1 0 4.3 0a2.15 2.15 0 1 0 -4.3 0M145.1 113.6a2.15 2.15 0 1 0 4.3 0a2.15 2.15 0 1 0 -4.3 0M132.7 110.3a2.15 2.15 0 1 0 4.3 0a2.15 2.15 0 1 0 -4.3 0M136.7 109.6a2.15 2.15 0 1 0 4.3 0a2.15 2.15 0 1 0 -4.3 0M137.3 101.2a2.15 2.15 0 1 0 4.3 0a2.15 2.15 0 1 0 -4.3 0M132.2 110.5a2.15 2.15 0 1 0 4.3 0a2.15 2.15 0 1 0 -4.3 0M127.6 108.4a2.15 2.15 0 1 0 4.3 0a2.15 2.15 0 1 0 -4.3 0M133.2 111.3a2.15 2.15 0 1 0 4.3 0a2.15 2.15 0 1 0 -4.3 0M132.1 105.3a2.15 2.15 0 1 0 4.3 0a2.15 2.15 0 1 0 -4.3 0M129.0 115.9a2.15 2.15 0 1 0 4.3 0a2.15 2.15 0 1 0 -4.3 0M145.5 111.8a2.15 2.15 0 1 0 4.3 0a2.15 2.15 0 1 0 -4.3 0M127.0 113.8a2.15 2.15 0 1 0 4.3 0a2.15 2.15 0 1 0 -4.3 0M126.3 102.1a2.15 2.15 0 1 0 4.3 0a2.15 2.15 0 1 0 -4.3 0M142.9 109.7a2.15 2.15 0 1 0 4.3 0a2.15 2.15 0 1 0 -4.3 0M142.1 115.0a2.15 2.15 0 1 0 4.3 0a2.15 2.15 0 1 0 -4.3 0M130.1 106.1a2.15 2.15 0 1 0 4.3 0a2.15 2.15 0 1 0 -4.3 0M132.6 102.5a2.15 2.15 0 1 0 4.3 0a2.15 2.15 0 1 0 -4.3 0M133.8 106.5a2.15 2.15 0 1 0 4.3 0a2.15 2.15 0 1 0 -4.3 0M137.6 103.8a2.15 2.15 0 1 0 4.3 0a2.15 2.15 0 1 0 -4.3 0M112.4 99.0a2.15 2.15 0 1 0 4.3 0a2.15 2.15 0 1 0 -4.3 0M136.8 115.2a2.15 2.15 0 1 0 4.3 0a2.15 2.15 0 1 0 -4.3 0M140.1 104.5a2.15 2.15 0 1 0 4.3 0a2.15 2.15 0 1 0 -4.3 0M127.8 103.5a2.15 2.15 0 1 0 4.3 0a2.15 2.15 0 1 0 -4.3 0M150.2 110.2a2.15 2.15 0 1 0 4.3 0a2.15 2.15 0 1 0 -4.3 0M130.6 111.1a2.15 2.15 0 1 0 4.3 0a2.15 2.15 0 1 0 -4.3 0M142.0 106.5a2.15 2.15 0 1 0 4.3 0a2.15 2.15 0 1 0 -4.3 0M134.6 105.9a2.15 2.15 0 1 0 4.3 0a2.15 2.15 0 1 0 -4.3 0M138.2 114.4a2.15 2.15 0 1 0 4.3 0a2.15 2.15 0 1 0 -4.3 0M143.6 107.9a2.15 2.15 0 1 0 4.3 0a2.15 2.15 0 1 0 -4.3 0M137.5 96.5a2.15 2.15 0 1 0 4.3 0a2.15 2.15 0 1 0 -4.3 0M125.8 104.0a2.15 2.15 0 1 0 4.3 0a2.15 2.15 0 1 0 -4.3 0M114.0 96.0a2.15 2.15 0 1 0 4.3 0a2.15 2.15 0 1 0 -4.3 0M127.8 104.7a2.15 2.15 0 1 0 4.3 0a2.15 2.15 0 1 0 -4.3 0M134.0 113.3a2.15 2.15 0 1 0 4.3 0a2.15 2.15 0 1 0 -4.3 0M138.0 106.4a2.15 2.15 0 1 0 4.3 0a2.15 2.15 0 1 0 -4.3 0M144.2 111.2a2.15 2.15 0 1 0 4.3 0a2.15 2.15 0 1 0 -4.3 0M140.8 114.0a2.15 2.15 0 1 0 4.3 0a2.15 2.15 0 1 0 -4.3 0M138.4 110.5a2.15 2.15 0 1 0 4.3 0a2.15 2.15 0 1 0 -4.3 0M131.5 108.2a2.15 2.15 0 1 0 4.3 0a2.15 2.15 0 1 0 -4.3 0M140.2 115.4a2.15 2.15 0 1 0 4.3 0a2.15 2.15 0 1 0 -4.3 0M133.3 109.6a2.15 2.15 0 1 0 4.3 0a2.15 2.15 0 1 0 -4.3 0M147.5 105.5a2.15 2.15 0 1 0 4.3 0a2.15 2.15 0 1 0 -4.3 0M127.9 102.1a2.15 2.15 0 1 0 4.3 0a2.15 2.15 0 1 0 -4.3 0" fill="none" stroke="rgb(83, 126, 255)" stroke-width="0.85"/>
<path d="M130.5 100.6a2.15 2.15 0 1 0 4.3 0a2.15 2.15 0 1 0 -4.3 0M136.8 108.4a2.15 2.15 0 1 0 4.3 0a2.15 2.15 0 1 0 -4.3 0M128.1 105.1a2.15 2.15 0 1 0 4.3 0a2.15 2.15 0 1 0 -4.3 0M150.5 118.2a2.15 2.15 0 1 0 4.3 0a2.15 2.15 0 1 0 -4.3 0M145.2 108.4a2.15 2.15 0 1 0 4.3 0a2.15 2.15 0 1 0 -4.3 0M134.6 99.3a2.15 2.15 0 1 0 4.3 0a2.15 2.15 0 1 0 -4.3 0M135.2 105.0a2.15 2.15 0 1 0 4.3 0a2.15 2.15 0 1 0 -4.3 0M119.7 100.6a2.15 2.15 0 1 0 4.3 0a2.15 2.15 0 1 0 -4.3 0M133.1 102.1a2.15 2.15 0 1 0 4.3 0a2.15 2.15 0 1 0 -4.3 0M135.2 105.6a2.15 2.15 0 1 0 4.3 0a2.15 2.15 0 1 0 -4.3 0M128.1 99.0a2.15 2.15 0 1 0 4.3 0a2.15 2.15 0 1 0 -4.3 0M160.8 118.8a2.15 2.15 0 1 0 4.3 0a2.15 2.15 0 1 0 -4.3 0M130.7 98.0a2.15 2.15 0 1 0 4.3 0a2.15 2.15 0 1 0 -4.3 0M141.7 107.4a2.15 2.15 0 1 0 4.3 0a2.15 2.15 0 1 0 -4.3 0M135.5 101.8a2.15 2.15 0 1 0 4.3 0a2.15 2.15 0 1 0 -4.3 0M130.3 106.2a2.15 2.15 0 1 0 4.3 0a2.15 2.15 0 1 0 -4.3 0M167.7 115.6a2.15 2.15 0 1 0 4.3 0a2.15 2.15 0 1 0 -4.3 0M124.3 97.7a2.15 2.15 0 1 0 4.3 0a2.15 2.15 0 1 0 -4.3 0M117.6 104.7a2.15 2.15 0 1 0 4.3 0a2.15 2.15 0 1 0 -4.3 0M135.3 97.5a2.15 2.15 0 1 0 4.3 0a2.15 2.15 0 1 0 -4.3 0M129.6 115.3a2.15 2.15 0 1 0 4.3 0a2.15 2.15 0 1 0 -4.3 0M138.5 111.3a2.15 2.15 0 1 0 4.3 0a2.15 2.15 0 1 0 -4.3 0M141.2 109.2a2.15 2.15 0 1 0 4.3 0a2.15 2.15 0 1 0 -4.3 0M130.7 104.3a2.15 2.15 0 1 0 4.3 0a2.15 2.15 0 1 0 -4.3 0M139.2 109.5a2.15 2.15 0 1 0 4.3 0a2.15 2.15 0 1 0 -4.3 0M129.9 100.6a2.15 2.15 0 1 0 4.3 0a2.15 2.15 0 1 0 -4.3 0M136.6 101.0a2.15 2.15 0 1 0 4.3 0a2.15 2.15 0 1 0 -4.3 0M135.4 101.4a2.15 2.15 0 1 0 4.3 0a2.15 2.15 0 1 0 -4.3 0M165.7 114.0a2.15 2.15 0 1 0 4.3 0a2.15 2.15 0 1 0 -4.3 0M162.8 114.2a2.15 2.15 0 1 0 4.3 0a2.15 2.15 0 1 0 -4.3 0M133.8 116.0a2.15 2.15 0 1 0 4.3 0a2.15 2.15 0 1 0 -4.3 0M133.0 100.8a2.15 2.15 0 1 0 4.3 0a2.15 2.15 0 1 0 -4.3 0M140.3 103.5a2.15 2.15 0 1 0 4.3 0a2.15 2.15 0 1 0 -4.3 0M135.5 101.8a2.15 2.15 0 1 0 4.3 0a2.15 2.15 0 1 0 -4.3 0M136.7 97.4a2.15 2.15 0 1 0 4.3 0a2.15 2.15 0 1 0 -4.3 0M137.9 98.9a2.15 2.15 0 1 0 4.3 0a2.15 2.15 0 1 0 -4.3 0M146.8 110.8a2.15 2.15 0 1 0 4.3 0a2.15 2.15 0 1 0 -4.3 0M139.5 100.1a2.15 2.15 0 1 0 4.3 0a2.15 2.15 0 1 0 -4.3 0M143.3 111.5a2.15 2.15 0 1 0 4.3 0a2.15 2.15 0 1 0 -4.3 0M141.7 109.6a2.15 2.15 0 1 0 4.3 0a2.15 2.15 0 1 0 -4.3 0M139.6 101.3a2.15 2.15 0 1 0 4.3 0a2.15 2.15 0 1 0 -4.3 0M151.3 108.4a2.15 2.15 0 1 0 4.3 0a2.15 2.15 0 1 0 -4.3 0M127.8 96.4a2.15 2.15 0 1 0 4.3 0a2.15 2.15 0 1 0 -4.3 0M137.7 101.2a2.15 2.15 0 1 0 4.3 0a2.15 2.15 0 1 0 -4.3 0M130.5 95.5a2.15 2.15 0 1 0 4.3 0a2.15 2.15 0 1 0 -4.3 0M123.3 103.8a2.15 2.15 0 1 0 4.3 0a2.15 2.15 0 1 0 -4.3 0M147.7 112.4a2.15 2.15 0 1 0 4.3 0a2.15 2.15 0 1 0 -4.3 0M135.1 115.2a2.15 2.15 0 1 0 4.3 0a2.15 2.15 0 1 0 -4.3 0M136.4 109.5a2.15 2.15 0 1 0 4.3 0a2.15 2.15 0 1 0 -4.3 0M139.7 97.8a2.15 2.15 0 1 0 4.3 0a2.15 2.15 0 1 0 -4.3 0M122.0 94.3a2.15 2.15 0 1 0 4.3 0a2.15 2.15 0 1 0 -4.3 0M125.2 96.5a2.15 2.15 0 1 0 4.3 0a2.15 2.15 0 1 0 -4.3 0" fill="none" stroke="rgb(95, 155, 255)" stroke-width="0.85"/>
<path d="M146.6 109.0a2.15 2.15 0 1 0 4.3 0a2.15 2.15 0 1 0 -4.3 0M145.2 109.5a2.15 2.15 0 1 0 4.3 0a2.15 2.15 0 1 0 -4.3 0M121.1 92.4a2.15 2.15 0 1 0 4.3 0a2.15 2.15 0 1 0 -4.3 0M133.5 107.8a2.15 2.15 0 1 0 4.3 0a2.15 2.15 0 1 0 -4.3 0M137.6 103.2a2.15 2.15 0 1 0 4.3 0a2.15 2.15 0 1 0 -4.3 0M119.9 96.4a2.15 2.15 0 1 0 4.3 0a2.15 2.15 0 1 0 -4.3 0M145.6 102.1a2.15 2.15 0 1 0 4.3 0a2.15 2.15 0 1 0 -4.3 0M144.7 107.3a2.15 2.15 0 1 0 4.3 0a2.15 2.15 0 1 0 -4.3 0M135.1 102.9a2.15 2.15 0 1 0 4.3 0a2.15 2.15 0 1 0 -4.3 0M141.7 111.6a2.15 2.15 0 1 0 4.3 0a2.15 2.15 0 1 0 -4.3 0M153.1 103.6a2.15 2.15 0 1 0 4.3 0a2.15 2.15 0 1 0 -4.3 0M144.7 111.3a2.15 2.15 0 1 0 4.3 0a2.15 2.15 0 1 0 -4.3 0M160.8 113.2a2.15 2.15 0 1 0 4.3 0a2.15 2.15 0 1 0 -4.3 0M132.7 98.4a2.15 2.15 0 1 0 4.3 0a2.15 2.15 0 1 0 -4.3 0M147.2 102.8a2.15 2.15 0 1 0 4.3 0a2.15 2.15 0 1 0 -4.3 0M157.8 115.0a2.15 2.15 0 1 0 4.3 0a2.15 2.15 0 1 0 -4.3 0M128.2 99.0a2.15 2.15 0 1 0 4.3 0a2.15 2.15 0 1 0 -4.3 0M133.4 95.1a2.15 2.15 0 1 0 4.3 0a2.15 2.15 0 1 0 -4.3 0M146.1 101.6a2.15 2.15 0 1 0 4.3 0a2.15 2.15 0 1 0 -4.3 0M141.7 99.2a2.15 2.15 0 1 0 4.3 0a2.15 2.15 0 1 0 -4.3 0M127.6 97.7a2.15 2.15 0 1 0 4.3 0a2.15 2.15 0 1 0 -4.3 0M147.9 99.4a2.15 2.15 0 1 0 4.3 0a2.15 2.15 0 1 0 -4.3 0M148.4 99.6a2.15 2.15 0 1 0 4.3 0a2.15 2.15 0 1 0 -4.3 0M143.0 102.1a2.15 2.15 0 1 0 4.3 0a2.15 2.15 0 1 0 -4.3 0M150.5 96.9a2.15 2.15 0 1 0 4.3 0a2.15 2.15 0 1 0 -4.3 0M141.4 102.3a2.15 2.15 0 1 0 4.3 0a2.15 2.15 0 1 0 -4.3 0M130.9 94.1a2.15 2.15 0 1 0 4.3 0a2.15 2.15 0 1 0 -4.3 0M134.5 106.6a2.15 2.15 0 1 0 4.3 0a2.15 2.15 0 1 0 -4.3 0M143.2 103.5a2.15 2.15 0 1 0 4.3 0a2.15 2.15 0 1 0 -4.3 0M136.3 105.6a2.15 2.15 0 1 0 4.3 0a2.15 2.15 0 1 0 -4.3 0M141.9 95.8a2.15 2.15 0 1 0 4.3 0a2.15 2.15 0 1 0 -4.3 0M133.7 97.8a2.15 2.15 0 1 0 4.3 0a2.15 2.15 0 1 0 -4.3 0M133.0 104.6a2.15 2.15 0 1 0 4.3 0a2.15 2.15 0 1 0 -4.3 0M147.1 107.6a2.15 2.15 0 1 0 4.3 0a2.15 2.15 0 1 0 -4.3 0M162.0 113.5a2.15 2.15 0 1 0 4.3 0a2.15 2.15 0 1 0 -4.3 0M143.3 98.7a2.15 2.15 0 1 0 4.3 0a2.15 2.15 0 1 0 -4.3 0M154.8 97.2a2.15 2.15 0 1 0 4.3 0a2.15 2.15 0 1 0 -4.3 0M146.2 101.9a2.15 2.15 0 1 0 4.3 0a2.15 2.15 0 1 0 -4.3 0M149.8 106.0a2.15 2.15 0 1 0 4.3 0a2.15 2.15 0 1 0 -4.3 0M165.9 118.2a2.15 2.15 0 1 0 4.3 0a2.15 2.15 0 1 0 -4.3 0M154.6 111.4a2.15 2.15 0 1 0 4.3 0a2.15 2.15 0 1 0 -4.3 0M153.0 99.3a2.15 2.15 0 1 0 4.3 0a2.15 2.15 0 1 0 -4.3 0M120.2 93.8a2.15 2.15 0 1 0 4.3 0a2.15 2.15 0 1 0 -4.3 0M140.7 104.6a2.15 2.15 0 1 0 4.3 0a2.15 2.15 0 1 0 -4.3 0M127.1 92.5a2.15 2.15 0 1 0 4.3 0a2.15 2.15 0 1 0 -4.3 0M149.0 96.7a2.15 2.15 0 1 0 4.3 0a2.15 2.15 0 1 0 -4.3 0M139.6 101.1a2.15 2.15 0 1 0 4.3 0a2.15 2.15 0 1 0 -4.3 0M147.2 100.6a2.15 2.15 0 1 0 4.3 0a2.15 2.15 0 1 0 -4.3 0M142.3 97.2a2.15 2.15 0 1 0 4.3 0a2.15 2.15 0 1 0 -4.3 0M144.7 100.0a2.15 2.15 0 1 0 4.3 0a2.15 2.15 0 1 0 -4.3 0" fill="none" stroke="rgb(105, 186, 255)" stroke-width="0.85"/>
<path d="M149.5 103.4a2.15 2.15 0 1 0 4.3 0a2.15 2.15 0 1 0 -4.3 0M132.3 93.4a2.15 2.15 0 1 0 4.3 0a2.15 2.15 0 1 0 -4.3 0M149.1 92.8a2.15 2.15 0 1 0 4.3 0a2.15 2.15 0 1 0 -4.3 0M134.3 94.7a2.15 2.15 0 1 0 4.3 0a2.15 2.15 0 1 0 -4.3 0M157.9 107.7a2.15 2.15 0 1 0 4.3 0a2.15 2.15 0 1 0 -4.3 0M150.1 104.5a2.15 2.15 0 1 0 4.3 0a2.15 2.15 0 1 0 -4.3 0M122.0 90.8a2.15 2.15 0 1 0 4.3 0a2.15 2.15 0 1 0 -4.3 0M145.0 95.6a2.15 2.15 0 1 0 4.3 0a2.15 2.15 0 1 0 -4.3 0M137.6 92.9a2.15 2.15 0 1 0 4.3 0a2.15 2.15 0 1 0 -4.3 0M145.9 100.2a2.15 2.15 0 1 0 4.3 0a2.15 2.15 0 1 0 -4.3 0M124.7 93.5a2.15 2.15 0 1 0 4.3 0a2.15 2.15 0 1 0 -4.3 0M135.5 95.8a2.15 2.15 0 1 0 4.3 0a2.15 2.15 0 1 0 -4.3 0M145.8 99.6a2.15 2.15 0 1 0 4.3 0a2.15 2.15 0 1 0 -4.3 0M141.0 95.0a2.15 2.15 0 1 0 4.3 0a2.15 2.15 0 1 0 -4.3 0M139.4 100.8a2.15 2.15 0 1 0 4.3 0a2.15 2.15 0 1 0 -4.3 0M167.3 113.9a2.15 2.15 0 1 0 4.3 0a2.15 2.15 0 1 0 -4.3 0M142.3 97.9a2.15 2.15 0 1 0 4.3 0a2.15 2.15 0 1 0 -4.3 0M140.9 95.0a2.15 2.15 0 1 0 4.3 0a2.15 2.15 0 1 0 -4.3 0M151.0 97.3a2.15 2.15 0 1 0 4.3 0a2.15 2.15 0 1 0 -4.3 0M140.5 95.0a2.15 2.15 0 1 0 4.3 0a2.15 2.15 0 1 0 -4.3 0M139.1 100.1a2.15 2.15 0 1 0 4.3 0a2.15 2.15 0 1 0 -4.3 0M138.7 95.6a2.15 2.15 0 1 0 4.3 0a2.15 2.15 0 1 0 -4.3 0M147.2 97.1a2.15 2.15 0 1 0 4.3 0a2.15 2.15 0 1 0 -4.3 0M135.7 90.8a2.15 2.15 0 1 0 4.3 0a2.15 2.15 0 1 0 -4.3 0M146.9 96.5a2.15 2.15 0 1 0 4.3 0a2.15 2.15 0 1 0 -4.3 0M142.4 99.1a2.15 2.15 0 1 0 4.3 0a2.15 2.15 0 1 0 -4.3 0M142.2 102.0a2.15 2.15 0 1 0 4.3 0a2.15 2.15 0 1 0 -4.3 0M131.6 97.5a2.15 2.15 0 1 0 4.3 0a2.15 2.15 0 1 0 -4.3 0M156.2 99.3a2.15 2.15 0 1 0 4.3 0a2.15 2.15 0 1 0 -4.3 0M150.2 108.9a2.15 2.15 0 1 0 4.3 0a2.15 2.15 0 1 0 -4.3 0M149.5 101.2a2.15 2.15 0 1 0 4.3 0a2.15 2.15 0 1 0 -4.3 0M152.2 95.5a2.15 2.15 0 1 0 4.3 0a2.15 2.15 0 1 0 -4.3 0M145.1 99.1a2.15 2.15 0 1 0 4.3 0a2.15 2.15 0 1 0 -4.3 0M152.4 95.3a2.15 2.15 0 1 0 4.3 0a2.15 2.15 0 1 0 -4.3 0M133.2 90.8a2.15 2.15 0 1 0 4.3 0a2.15 2.15 0 1 0 -4.3 0M143.7 98.0a2.15 2.15 0 1 0 4.3 0a2.15 2.15 0 1 0 -4.3 0M151.0 97.8a2.15 2.15 0 1 0 4.3 0a2.15 2.15 0 1 0 -4.3 0M154.8 98.6a2.15 2.15 0 1 0 4.3 0a2.15 2.15 0 1 0 -4.3 0M160.5 101.0a2.15 2.15 0 1 0 4.3 0a2.15 2.15 0 1 0 -4.3 0M142.5 99.9a2.15 2.15 0 1 0 4.3 0a2.15 2.15 0 1 0 -4.3 0M138.7 94.4a2.15 2.15 0 1 0 4.3 0a2.15 2.15 0 1 0 -4.3 0M155.8 97.2a2.15 2.15 0 1 0 4.3 0a2.15 2.15 0 1 0 -4.3 0M145.4 93.6a2.15 2.15 0 1 0 4.3 0a2.15 2.15 0 1 0 -4.3 0M129.1 90.3a2.15 2.15 0 1 0 4.3 0a2.15 2.15 0 1 0 -4.3 0M128.8 89.6a2.15 2.15 0 1 0 4.3 0a2.15 2.15 0 1 0 -4.3 0M129.0 92.9a2.15 2.15 0 1 0 4.3 0a2.15 2.15 0 1 0 -4.3 0M145.1 96.2a2.15 2.15 0 1 0 4.3 0a2.15 2.15 0 1 0 -4.3 0M138.6 93.9a2.15 2.15 0 1 0 4.3 0a2.15 2.15 0 1 0 -4.3 0M116.4 93.1a2.15 2.15 0 1 0 4.3 0a2.15 2.15 0 1 0 -4.3 0M157.3 95.7a2.15 2.15 0 1 0 4.3 0a2.15 2.15 0 1 0 -4.3 0M141.5 91.9a2.15 2.15 0 1 0 4.3 0a2.15 2.15 0 1 0 -4.3 0M140.7 103.1a2.15 2.15 0 1 0 4.3 0a2.15 2.15 0 1 0 -4.3 0" fill="none" stroke="rgb(110, 213, 255)" stroke-width="0.85"/>
<path d="M150.7 94.3a2.15 2.15 0 1 0 4.3 0a2.15 2.15 0 1 0 -4.3 0M140.2 106.3a2.15 2.15 0 1 0 4.3 0a2.15 2.15 0 1 0 -4.3 0M147.6 96.5a2.15 2.15 0 1 0 4.3 0a2.15 2.15 0 1 0 -4.3 0M138.6 94.4a2.15 2.15 0 1 0 4.3 0a2.15 2.15 0 1 0 -4.3 0M147.5 100.8a2.15 2.15 0 1 0 4.3 0a2.15 2.15 0 1 0 -4.3 0M145.0 104.4a2.15 2.15 0 1 0 4.3 0a2.15 2.15 0 1 0 -4.3 0M144.8 94.1a2.15 2.15 0 1 0 4.3 0a2.15 2.15 0 1 0 -4.3 0M137.2 92.7a2.15 2.15 0 1 0 4.3 0a2.15 2.15 0 1 0 -4.3 0M137.8 93.8a2.15 2.15 0 1 0 4.3 0a2.15 2.15 0 1 0 -4.3 0M155.3 99.4a2.15 2.15 0 1 0 4.3 0a2.15 2.15 0 1 0 -4.3 0M146.7 94.0a2.15 2.15 0 1 0 4.3 0a2.15 2.15 0 1 0 -4.3 0M150.8 105.5a2.15 2.15 0 1 0 4.3 0a2.15 2.15 0 1 0 -4.3 0M155.3 90.6a2.15 2.15 0 1 0 4.3 0a2.15 2.15 0 1 0 -4.3 0M138.7 90.9a2.15 2.15 0 1 0 4.3 0a2.15 2.15 0 1 0 -4.3 0M115.8 93.9a2.15 2.15 0 1 0 4.3 0a2.15 2.15 0 1 0 -4.3 0M157.3 99.4a2.15 2.15 0 1 0 4.3 0a2.15 2.15 0 1 0 -4.3 0M140.3 98.2a2.15 2.15 0 1 0 4.3 0a2.15 2.15 0 1 0 -4.3 0M152.8 92.3a2.15 2.15 0 1 0 4.3 0a2.15 2.15 0 1 0 -4.3 0M137.6 90.5a2.15 2.15 0 1 0 4.3 0a2.15 2.15 0 1 0 -4.3 0M142.7 96.9a2.15 2.15 0 1 0 4.3 0a2.15 2.15 0 1 0 -4.3 0M150.7 98.8a2.15 2.15 0 1 0 4.3 0a2.15 2.15 0 1 0 -4.3 0M143.0 86.4a2.15 2.15 0 1 0 4.3 0a2.15 2.15 0 1 0 -4.3 0M156.9 95.0a2.15 2.15 0 1 0 4.3 0a2.15 2.15 0 1 0 -4.3 0M144.0 105.6a2.15 2.15 0 1 0 4.3 0a2.15 2.15 0 1 0 -4.3 0M161.8 93.2a2.15 2.15 0 1 0 4.3 0a2.15 2.15 0 1 0 -4.3 0M145.5 93.6a2.15 2.15 0 1 0 4.3 0a2.15 2.15 0 1 0 -4.3 0M150.6 95.3a2.15 2.15 0 1 0 4.3 0a2.15 2.15 0 1 0 -4.3 0M160.4 99.4a2.15 2.15 0 1 0 4.3 0a2.15 2.15 0 1 0 -4.3 0M120.4 88.5a2.15 2.15 0 1 0 4.3 0a2.15 2.15 0 1 0 -4.3 0M141.6 93.5a2.15 2.15 0 1 0 4.3 0a2.15 2.15 0 1 0 -4.3 0M145.9 93.3a2.15 2.15 0 1 0 4.3 0a2.15 2.15 0 1 0 -4.3 0M145.7 92.5a2.15 2.15 0 1 0 4.3 0a2.15 2.15 0 1 0 -4.3 0M139.9 95.5a2.15 2.15 0 1 0 4.3 0a2.15 2.15 0 1 0 -4.3 0M138.3 91.4a2.15 2.15 0 1 0 4.3 0a2.15 2.15 0 1 0 -4.3 0M158.7 99.3a2.15 2.15 0 1 0 4.3 0a2.15 2.15 0 1 0 -4.3 0M143.1 101.2a2.15 2.15 0 1 0 4.3 0a2.15 2.15 0 1 0 -4.3 0M163.4 102.0a2.15 2.15 0 1 0 4.3 0a2.15 2.15 0 1 0 -4.3 0M131.9 87.4a2.15 2.15 0 1 0 4.3 0a2.15 2.15 0 1 0 -4.3 0M138.2 88.3a2.15 2.15 0 1 0 4.3 0a2.15 2.15 0 1 0 -4.3 0M138.9 89.6a2.15 2.15 0 1 0 4.3 0a2.15 2.15 0 1 0 -4.3 0M143.2 92.2a2.15 2.15 0 1 0 4.3 0a2.15 2.15 0 1 0 -4.3 0M149.6 93.8a2.15 2.15 0 1 0 4.3 0a2.15 2.15 0 1 0 -4.3 0M150.8 89.3a2.15 2.15 0 1 0 4.3 0a2.15 2.15 0 1 0 -4.3 0M144.0 91.6a2.15 2.15 0 1 0 4.3 0a2.15 2.15 0 1 0 -4.3 0" fill="none" stroke="rgb(110, 237, 255)" stroke-width="0.85"/>
<path d="M161.6 105.7a2.15 2.15 0 1 0 4.3 0a2.15 2.15 0 1 0 -4.3 0M140.8 85.2a2.15 2.15 0 1 0 4.3 0a2.15 2.15 0 1 0 -4.3 0M154.5 96.2a2.15 2.15 0 1 0 4.3 0a2.15 2.15 0 1 0 -4.3 0M130.5 84.0a2.15 2.15 0 1 0 4.3 0a2.15 2.15 0 1 0 -4.3 0M122.1 86.8a2.15 2.15 0 1 0 4.3 0a2.15 2.15 0 1 0 -4.3 0M148.7 93.9a2.15 2.15 0 1 0 4.3 0a2.15 2.15 0 1 0 -4.3 0M135.3 92.2a2.15 2.15 0 1 0 4.3 0a2.15 2.15 0 1 0 -4.3 0M137.6 90.3a2.15 2.15 0 1 0 4.3 0a2.15 2.15 0 1 0 -4.3 0M148.4 91.5a2.15 2.15 0 1 0 4.3 0a2.15 2.15 0 1 0 -4.3 0M150.0 93.3a2.15 2.15 0 1 0 4.3 0a2.15 2.15 0 1 0 -4.3 0M151.5 92.2a2.15 2.15 0 1 0 4.3 0a2.15 2.15 0 1 0 -4.3 0M147.3 94.0a2.15 2.15 0 1 0 4.3 0a2.15 2.15 0 1 0 -4.3 0M138.4 90.2a2.15 2.15 0 1 0 4.3 0a2.15 2.15 0 1 0 -4.3 0M144.8 92.8a2.15 2.15 0 1 0 4.3 0a2.15 2.15 0 1 0 -4.3 0M152.4 88.8a2.15 2.15 0 1 0 4.3 0a2.15 2.15 0 1 0 -4.3 0M158.1 90.4a2.15 2.15 0 1 0 4.3 0a2.15 2.15 0 1 0 -4.3 0M154.9 94.7a2.15 2.15 0 1 0 4.3 0a2.15 2.15 0 1 0 -4.3 0M150.5 93.3a2.15 2.15 0 1 0 4.3 0a2.15 2.15 0 1 0 -4.3 0M159.1 99.4a2.15 2.15 0 1 0 4.3 0a2.15 2.15 0 1 0 -4.3 0M148.4 90.0a2.15 2.15 0 1 0 4.3 0a2.15 2.15 0 1 0 -4.3 0M141.7 91.3a2.15 2.15 0 1 0 4.3 0a2.15 2.15 0 1 0 -4.3 0M166.4 92.0a2.15 2.15 0 1 0 4.3 0a2.15 2.15 0 1 0 -4.3 0M145.0 93.2a2.15 2.15 0 1 0 4.3 0a2.15 2.15 0 1 0 -4.3 0M138.0 88.5a2.15 2.15 0 1 0 4.3 0a2.15 2.15 0 1 0 -4.3 0M157.6 91.1a2.15 2.15 0 1 0 4.3 0a2.15 2.15 0 1 0 -4.3 0M156.1 88.5a2.15 2.15 0 1 0 4.3 0a2.15 2.15 0 1 0 -4.3 0M137.7 89.7a2.15 2.15 0 1 0 4.3 0a2.15 2.15 0 1 0 -4.3 0M143.4 87.3a2.15 2.15 0 1 0 4.3 0a2.15 2.15 0 1 0 -4.3 0M137.4 85.7a2.15 2.15 0 1 0 4.3 0a2.15 2.15 0 1 0 -4.3 0M164.6 97.5a2.15 2.15 0 1 0 4.3 0a2.15 2.15 0 1 0 -4.3 0M158.4 90.9a2.15 2.15 0 1 0 4.3 0a2.15 2.15 0 1 0 -4.3 0M135.2 84.6a2.15 2.15 0 1 0 4.3 0a2.15 2.15 0 1 0 -4.3 0M162.0 99.7a2.15 2.15 0 1 0 4.3 0a2.15 2.15 0 1 0 -4.3 0M155.2 90.1a2.15 2.15 0 1 0 4.3 0a2.15 2.15 0 1 0 -4.3 0M160.7 98.5a2.15 2.15 0 1 0 4.3 0a2.15 2.15 0 1 0 -4.3 0M158.9 90.3a2.15 2.15 0 1 0 4.3 0a2.15 2.15 0 1 0 -4.3 0M142.5 91.4a2.15 2.15 0 1 0 4.3 0a2.15 2.15 0 1 0 -4.3 0M166.9 91.1a2.15 2.15 0 1 0 4.3 0a2.15 2.15 0 1 0 -4.3 0M159.0 97.6a2.15 2.15 0 1 0 4.3 0a2.15 2.15 0 1 0 -4.3 0" fill="none" stroke="rgb(120, 248, 241)" stroke-width="0.85"/>
<path d="M147.3 83.6a2.15 2.15 0 1 0 4.3 0a2.15 2.15 0 1 0 -4.3 0M148.3 89.5a2.15 2.15 0 1 0 4.3 0a2.15 2.15 0 1 0 -4.3 0M159.9 98.2a2.15 2.15 0 1 0 4.3 0a2.15 2.15 0 1 0 -4.3 0M140.7 81.2a2.15 2.15 0 1 0 4.3 0a2.15 2.15 0 1 0 -4.3 0M166.0 98.6a2.15 2.15 0 1 0 4.3 0a2.15 2.15 0 1 0 -4.3 0M156.9 91.3a2.15 2.15 0 1 0 4.3 0a2.15 2.15 0 1 0 -4.3 0M152.6 85.9a2.15 2.15 0 1 0 4.3 0a2.15 2.15 0 1 0 -4.3 0M156.0 86.1a2.15 2.15 0 1 0 4.3 0a2.15 2.15 0 1 0 -4.3 0M151.9 87.3a2.15 2.15 0 1 0 4.3 0a2.15 2.15 0 1 0 -4.3 0M137.6 90.6a2.15 2.15 0 1 0 4.3 0a2.15 2.15 0 1 0 -4.3 0M160.9 95.2a2.15 2.15 0 1 0 4.3 0a2.15 2.15 0 1 0 -4.3 0M157.4 94.0a2.15 2.15 0 1 0 4.3 0a2.15 2.15 0 1 0 -4.3 0M161.5 91.6a2.15 2.15 0 1 0 4.3 0a2.15 2.15 0 1 0 -4.3 0M139.9 88.8a2.15 2.15 0 1 0 4.3 0a2.15 2.15 0 1 0 -4.3 0M120.7 91.2a2.15 2.15 0 1 0 4.3 0a2.15 2.15 0 1 0 -4.3 0M145.6 88.2a2.15 2.15 0 1 0 4.3 0a2.15 2.15 0 1 0 -4.3 0M149.0 86.6a2.15 2.15 0 1 0 4.3 0a2.15 2.15 0 1 0 -4.3 0M139.8 89.6a2.15 2.15 0 1 0 4.3 0a2.15 2.15 0 1 0 -4.3 0M152.2 85.2a2.15 2.15 0 1 0 4.3 0a2.15 2.15 0 1 0 -4.3 0M147.0 92.3a2.15 2.15 0 1 0 4.3 0a2.15 2.15 0 1 0 -4.3 0M156.8 80.8a2.15 2.15 0 1 0 4.3 0a2.15 2.15 0 1 0 -4.3 0M150.5 80.8a2.15 2.15 0 1 0 4.3 0a2.15 2.15 0 1 0 -4.3 0M147.0 87.8a2.15 2.15 0 1 0 4.3 0a2.15 2.15 0 1 0 -4.3 0M142.9 90.0a2.15 2.15 0 1 0 4.3 0a2.15 2.15 0 1 0 -4.3 0M149.1 83.4a2.15 2.15 0 1 0 4.3 0a2.15 2.15 0 1 0 -4.3 0M161.6 93.2a2.15 2.15 0 1 0 4.3 0a2.15 2.15 0 1 0 -4.3 0M138.1 82.8a2.15 2.15 0 1 0 4.3 0a2.15 2.15 0 1 0 -4.3 0M133.1 88.8a2.15 2.15 0 1 0 4.3 0a2.15 2.15 0 1 0 -4.3 0M144.6 87.0a2.15 2.15 0 1 0 4.3 0a2.15 2.15 0 1 0 -4.3 0M135.8 85.0a2.15 2.15 0 1 0 4.3 0a2.15 2.15 0 1 0 -4.3 0M141.9 89.5a2.15 2.15 0 1 0 4.3 0a2.15 2.15 0 1 0 -4.3 0M174.4 98.1a2.15 2.15 0 1 0 4.3 0a2.15 2.15 0 1 0 -4.3 0M138.6 79.4a2.15 2.15 0 1 0 4.3 0a2.15 2.15 0 1 0 -4.3 0M171.4 96.5a2.15 2.15 0 1 0 4.3 0a2.15 2.15 0 1 0 -4.3 0M160.7 97.9a2.15 2.15 0 1 0 4.3 0a2.15 2.15 0 1 0 -4.3 0M152.2 85.2a2.15 2.15 0 1 0 4.3 0a2.15 2.15 0 1 0 -4.3 0M144.2 85.7a2.15 2.15 0 1 0 4.3 0a2.15 2.15 0 1 0 -4.3 0M168.6 100.3a2.15 2.15 0 1 0 4.3 0a2.15 2.15 0 1 0 -4.3 0M155.7 89.9a2.15 2.15 0 1 0 4.3 0a2.15 2.15 0 1 0 -4.3 0M154.1 87.7a2.15 2.15 0 1 0 4.3 0a2.15 2.15 0 1 0 -4.3 0M142.2 89.2a2.15 2.15 0 1 0 4.3 0a2.15 2.15 0 1 0 -4.3 0M149.1 84.5a2.15 2.15 0 1 0 4.3 0a2.15 2.15 0 1 0 -4.3 0M135.8 87.1a2.15 2.15 0 1 0 4.3 0a2.15 2.15 0 1 0 -4.3 0M146.2 91.2a2.15 2.15 0 1 0 4.3 0a2.15 2.15 0 1 0 -4.3 0M137.3 84.2a2.15 2.15 0 1 0 4.3 0a2.15 2.15 0 1 0 -4.3 0M145.5 85.3a2.15 2.15 0 1 0 4.3 0a2.15 2.15 0 1 0 -4.3 0M158.2 94.4a2.15 2.15 0 1 0 4.3 0a2.15 2.15 0 1 0 -4.3 0M153.8 97.7a2.15 2.15 0 1 0 4.3 0a2.15 2.15 0 1 0 -4.3 0M140.9 82.6a2.15 2.15 0 1 0 4.3 0a2.15 2.15 0 1 0 -4.3 0M149.4 82.3a2.15 2.15 0 1 0 4.3 0a2.15 2.15 0 1 0 -4.3 0M149.2 93.4a2.15 2.15 0 1 0 4.3 0a2.15 2.15 0 1 0 -4.3 0M135.2 79.9a2.15 2.15 0 1 0 4.3 0a2.15 2.15 0 1 0 -4.3 0M158.7 81.4a2.15 2.15 0 1 0 4.3 0a2.15 2.15 0 1 0 -4.3 0M148.0 85.8a2.15 2.15 0 1 0 4.3 0a2.15 2.15 0 1 0 -4.3 0M142.2 85.2a2.15 2.15 0 1 0 4.3 0a2.15 2.15 0 1 0 -4.3 0M161.5 87.7a2.15 2.15 0 1 0 4.3 0a2.15 2.15 0 1 0 -4.3 0M148.3 83.9a2.15 2.15 0 1 0 4.3 0a2.15 2.15 0 1 0 -4.3 0M151.8 85.8a2.15 2.15 0 1 0 4.3 0a2.15 2.15 0 1 0 -4.3 0M149.7 85.0a2.15 2.15 0 1 0 4.3 0a2.15 2.15 0 1 0 -4.3 0M170.8 100.5a2.15 2.15 0 1 0 4.3 0a2.15 2.15 0 1 0 -4.3 0M170.4 98.2a2.15 2.15 0 1 0 4.3 0a2.15 2.15 0 1 0 -4.3 0M141.0 89.0a2.15 2.15 0 1 0 4.3 0a2.15 2.15 0 1 0 -4.3 0M160.7 92.6a2.15 2.15 0 1 0 4.3 0a2.15 2.15 0 1 0 -4.3 0M163.8 89.2a2.15 2.15 0 1 0 4.3 0a2.15 2.15 0 1 0 -4.3 0M147.4 86.5a2.15 2.15 0 1 0 4.3 0a2.15 2.15 0 1 0 -4.3 0" fill="none" stroke="rgb(126, 254, 216)" stroke-width="0.85"/>
<path d="M154.2 89.0a2.15 2.15 0 1 0 4.3 0a2.15 2.15 0 1 0 -4.3 0M145.9 88.0a2.15 2.15 0 1 0 4.3 0a2.15 2.15 0 1 0 -4.3 0M166.2 82.4a2.15 2.15 0 1 0 4.3 0a2.15 2.15 0 1 0 -4.3 0M134.7 85.1a2.15 2.15 0 1 0 4.3 0a2.15 2.15 0 1 0 -4.3 0M163.1 88.8a2.15 2.15 0 1 0 4.3 0a2.15 2.15 0 1 0 -4.3 0M151.9 78.2a2.15 2.15 0 1 0 4.3 0a2.15 2.15 0 1 0 -4.3 0M164.6 85.8a2.15 2.15 0 1 0 4.3 0a2.15 2.15 0 1 0 -4.3 0M136.3 80.5a2.15 2.15 0 1 0 4.3 0a2.15 2.15 0 1 0 -4.3 0M140.0 83.6a2.15 2.15 0 1 0 4.3 0a2.15 2.15 0 1 0 -4.3 0M158.3 91.1a2.15 2.15 0 1 0 4.3 0a2.15 2.15 0 1 0 -4.3 0M145.6 81.2a2.15 2.15 0 1 0 4.3 0a2.15 2.15 0 1 0 -4.3 0M152.5 84.0a2.15 2.15 0 1 0 4.3 0a2.15 2.15 0 1 0 -4.3 0M144.5 89.4a2.15 2.15 0 1 0 4.3 0a2.15 2.15 0 1 0 -4.3 0M157.5 95.3a2.15 2.15 0 1 0 4.3 0a2.15 2.15 0 1 0 -4.3 0M161.6 81.2a2.15 2.15 0 1 0 4.3 0a2.15 2.15 0 1 0 -4.3 0M155.7 84.8a2.15 2.15 0 1 0 4.3 0a2.15 2.15 0 1 0 -4.3 0M157.9 85.8a2.15 2.15 0 1 0 4.3 0a2.15 2.15 0 1 0 -4.3 0M177.2 94.4a2.15 2.15 0 1 0 4.3 0a2.15 2.15 0 1 0 -4.3 0M157.5 81.3a2.15 2.15 0 1 0 4.3 0a2.15 2.15 0 1 0 -4.3 0M158.1 80.0a2.15 2.15 0 1 0 4.3 0a2.15 2.15 0 1 0 -4.3 0M157.3 84.4a2.15 2.15 0 1 0 4.3 0a2.15 2.15 0 1 0 -4.3 0M150.7 78.5a2.15 2.15 0 1 0 4.3 0a2.15 2.15 0 1 0 -4.3 0M149.2 82.2a2.15 2.15 0 1 0 4.3 0a2.15 2.15 0 1 0 -4.3 0M151.4 84.9a2.15 2.15 0 1 0 4.3 0a2.15 2.15 0 1 0 -4.3 0M150.1 84.4a2.15 2.15 0 1 0 4.3 0a2.15 2.15 0 1 0 -4.3 0M152.2 80.5a2.15 2.15 0 1 0 4.3 0a2.15 2.15 0 1 0 -4.3 0M129.2 80.5a2.15 2.15 0 1 0 4.3 0a2.15 2.15 0 1 0 -4.3 0M148.8 88.9a2.15 2.15 0 1 0 4.3 0a2.15 2.15 0 1 0 -4.3 0M151.2 81.5a2.15 2.15 0 1 0 4.3 0a2.15 2.15 0 1 0 -4.3 0M153.1 89.5a2.15 2.15 0 1 0 4.3 0a2.15 2.15 0 1 0 -4.3 0M159.8 75.8a2.15 2.15 0 1 0 4.3 0a2.15 2.15 0 1 0 -4.3 0M158.4 83.2a2.15 2.15 0 1 0 4.3 0a2.15 2.15 0 1 0 -4.3 0M146.1 86.5a2.15 2.15 0 1 0 4.3 0a2.15 2.15 0 1 0 -4.3 0M134.3 84.8a2.15 2.15 0 1 0 4.3 0a2.15 2.15 0 1 0 -4.3 0M150.4 84.9a2.15 2.15 0 1 0 4.3 0a2.15 2.15 0 1 0 -4.3 0M125.9 83.3a2.15 2.15 0 1 0 4.3 0a2.15 2.15 0 1 0 -4.3 0M158.0 87.3a2.15 2.15 0 1 0 4.3 0a2.15 2.15 0 1 0 -4.3 0M157.1 79.1a2.15 2.15 0 1 0 4.3 0a2.15 2.15 0 1 0 -4.3 0M146.2 79.2a2.15 2.15 0 1 0 4.3 0a2.15 2.15 0 1 0 -4.3 0M167.3 86.5a2.15 2.15 0 1 0 4.3 0a2.15 2.15 0 1 0 -4.3 0M142.1 78.7a2.15 2.15 0 1 0 4.3 0a2.15 2.15 0 1 0 -4.3 0M141.4 82.5a2.15 2.15 0 1 0 4.3 0a2.15 2.15 0 1 0 -4.3 0M167.4 83.7a2.15 2.15 0 1 0 4.3 0a2.15 2.15 0 1 0 -4.3 0M157.0 89.0a2.15 2.15 0 1 0 4.3 0a2.15 2.15 0 1 0 -4.3 0M151.6 88.0a2.15 2.15 0 1 0 4.3 0a2.15 2.15 0 1 0 -4.3 0M178.7 91.9a2.15 2.15 0 1 0 4.3 0a2.15 2.15 0 1 0 -4.3 0M158.6 91.3a2.15 2.15 0 1 0 4.3 0a2.15 2.15 0 1 0 -4.3 0M158.1 83.1a2.15 2.15 0 1 0 4.3 0a2.15 2.15 0 1 0 -4.3 0M156.3 79.9a2.15 2.15 0 1 0 4.3 0a2.15 2.15 0 1 0 -4.3 0M154.4 85.7a2.15 2.15 0 1 0 4.3 0a2.15 2.15 0 1 0 -4.3 0M156.9 80.8a2.15 2.15 0 1 0 4.3 0a2.15 2.15 0 1 0 -4.3 0M167.0 88.7a2.15 2.15 0 1 0 4.3 0a2.15 2.15 0 1 0 -4.3 0M161.4 81.2a2.15 2.15 0 1 0 4.3 0a2.15 2.15 0 1 0 -4.3 0M163.3 77.6a2.15 2.15 0 1 0 4.3 0a2.15 2.15 0 1 0 -4.3 0M150.4 79.7a2.15 2.15 0 1 0 4.3 0a2.15 2.15 0 1 0 -4.3 0M163.8 82.2a2.15 2.15 0 1 0 4.3 0a2.15 2.15 0 1 0 -4.3 0M156.1 84.0a2.15 2.15 0 1 0 4.3 0a2.15 2.15 0 1 0 -4.3 0M155.7 82.6a2.15 2.15 0 1 0 4.3 0a2.15 2.15 0 1 0 -4.3 0M154.1 79.7a2.15 2.15 0 1 0 4.3 0a2.15 2.15 0 1 0 -4.3 0M135.4 83.3a2.15 2.15 0 1 0 4.3 0a2.15 2.15 0 1 0 -4.3 0M140.9 86.2a2.15 2.15 0 1 0 4.3 0a2.15 2.15 0 1 0 -4.3 0M156.2 91.8a2.15 2.15 0 1 0 4.3 0a2.15 2.15 0 1 0 -4.3 0M144.4 84.3a2.15 2.15 0 1 0 4.3 0a2.15 2.15 0 1 0 -4.3 0M162.1 80.7a2.15 2.15 0 1 0 4.3 0a2.15 2.15 0 1 0 -4.3 0M155.9 75.9a2.15 2.15 0 1 0 4.3 0a2.15 2.15 0 1 0 -4.3 0M149.6 83.7a2.15 2.15 0 1 0 4.3 0a2.15 2.15 0 1 0 -4.3 0M154.3 80.5a2.15 2.15 0 1 0 4.3 0a2.15 2.15 0 1 0 -4.3 0" fill="none" stroke="rgb(113, 250, 153)" stroke-width="0.85"/>
<path d="M170.1 77.4a2.15 2.15 0 1 0 4.3 0a2.15 2.15 0 1 0 -4.3 0M149.3 77.2a2.15 2.15 0 1 0 4.3 0a2.15 2.15 0 1 0 -4.3 0M145.7 81.9a2.15 2.15 0 1 0 4.3 0a2.15 2.15 0 1 0 -4.3 0M154.9 86.5a2.15 2.15 0 1 0 4.3 0a2.15 2.15 0 1 0 -4.3 0M153.0 81.4a2.15 2.15 0 1 0 4.3 0a2.15 2.15 0 1 0 -4.3 0M160.9 78.6a2.15 2.15 0 1 0 4.3 0a2.15 2.15 0 1 0 -4.3 0M146.9 86.5a2.15 2.15 0 1 0 4.3 0a2.15 2.15 0 1 0 -4.3 0M135.6 80.5a2.15 2.15 0 1 0 4.3 0a2.15 2.15 0 1 0 -4.3 0M148.4 84.0a2.15 2.15 0 1 0 4.3 0a2.15 2.15 0 1 0 -4.3 0M139.2 76.1a2.15 2.15 0 1 0 4.3 0a2.15 2.15 0 1 0 -4.3 0M159.4 86.5a2.15 2.15 0 1 0 4.3 0a2.15 2.15 0 1 0 -4.3 0M149.8 81.8a2.15 2.15 0 1 0 4.3 0a2.15 2.15 0 1 0 -4.3 0M154.2 80.9a2.15 2.15 0 1 0 4.3 0a2.15 2.15 0 1 0 -4.3 0M162.7 79.4a2.15 2.15 0 1 0 4.3 0a2.15 2.15 0 1 0 -4.3 0M156.5 79.1a2.15 2.15 0 1 0 4.3 0a2.15 2.15 0 1 0 -4.3 0M179.2 91.0a2.15 2.15 0 1 0 4.3 0a2.15 2.15 0 1 0 -4.3 0M157.6 76.1a2.15 2.15 0 1 0 4.3 0a2.15 2.15 0 1 0 -4.3 0M147.5 80.3a2.15 2.15 0 1 0 4.3 0a2.15 2.15 0 1 0 -4.3 0M163.6 87.8a2.15 2.15 0 1 0 4.3 0a2.15 2.15 0 1 0 -4.3 0M148.3 79.2a2.15 2.15 0 1 0 4.3 0a2.15 2.15 0 1 0 -4.3 0M152.0 83.7a2.15 2.15 0 1 0 4.3 0a2.15 2.15 0 1 0 -4.3 0M146.6 80.9a2.15 2.15 0 1 0 4.3 0a2.15 2.15 0 1 0 -4.3 0M152.6 78.8a2.15 2.15 0 1 0 4.3 0a2.15 2.15 0 1 0 -4.3 0M167.7 85.5a2.15 2.15 0 1 0 4.3 0a2.15 2.15 0 1 0 -4.3 0M156.5 77.6a2.15 2.15 0 1 0 4.3 0a2.15 2.15 0 1 0 -4.3 0M151.1 79.2a2.15 2.15 0 1 0 4.3 0a2.15 2.15 0 1 0 -4.3 0M165.0 83.8a2.15 2.15 0 1 0 4.3 0a2.15 2.15 0 1 0 -4.3 0M154.5 75.4a2.15 2.15 0 1 0 4.3 0a2.15 2.15 0 1 0 -4.3 0M163.7 81.5a2.15 2.15 0 1 0 4.3 0a2.15 2.15 0 1 0 -4.3 0M145.6 79.5a2.15 2.15 0 1 0 4.3 0a2.15 2.15 0 1 0 -4.3 0M168.0 79.9a2.15 2.15 0 1 0 4.3 0a2.15 2.15 0 1 0 -4.3 0M173.1 84.0a2.15 2.15 0 1 0 4.3 0a2.15 2.15 0 1 0 -4.3 0M168.0 81.1a2.15 2.15 0 1 0 4.3 0a2.15 2.15 0 1 0 -4.3 0M157.5 81.0a2.15 2.15 0 1 0 4.3 0a2.15 2.15 0 1 0 -4.3 0M160.6 81.3a2.15 2.15 0 1 0 4.3 0a2.15 2.15 0 1 0 -4.3 0M152.7 85.1a2.15 2.15 0 1 0 4.3 0a2.15 2.15 0 1 0 -4.3 0M167.6 81.6a2.15 2.15 0 1 0 4.3 0a2.15 2.15 0 1 0 -4.3 0M152.1 88.5a2.15 2.15 0 1 0 4.3 0a2.15 2.15 0 1 0 -4.3 0M148.5 85.0a2.15 2.15 0 1 0 4.3 0a2.15 2.15 0 1 0 -4.3 0M178.9 81.1a2.15 2.15 0 1 0 4.3 0a2.15 2.15 0 1 0 -4.3 0M156.7 79.3a2.15 2.15 0 1 0 4.3 0a2.15 2.15 0 1 0 -4.3 0M151.0 79.2a2.15 2.15 0 1 0 4.3 0a2.15 2.15 0 1 0 -4.3 0M169.3 82.3a2.15 2.15 0 1 0 4.3 0a2.15 2.15 0 1 0 -4.3 0M151.4 87.3a2.15 2.15 0 1 0 4.3 0a2.15 2.15 0 1 0 -4.3 0M153.9 77.7a2.15 2.15 0 1 0 4.3 0a2.15 2.15 0 1 0 -4.3 0M157.5 75.7a2.15 2.15 0 1 0 4.3 0a2.15 2.15 0 1 0 -4.3 0M161.1 79.1a2.15 2.15 0 1 0 4.3 0a2.15 2.15 0 1 0 -4.3 0M171.5 78.7a2.15 2.15 0 1 0 4.3 0a2.15 2.15 0 1 0 -4.3 0" fill="none" stroke="rgb(96, 245, 93)" stroke-width="0.85"/>
<path d="M152.2 82.7a2.15 2.15 0 1 0 4.3 0a2.15 2.15 0 1 0 -4.3 0M166.9 84.9a2.15 2.15 0 1 0 4.3 0a2.15 2.15 0 1 0 -4.3 0M154.8 76.4a2.15 2.15 0 1 0 4.3 0a2.15 2.15 0 1 0 -4.3 0M151.2 76.1a2.15 2.15 0 1 0 4.3 0a2.15 2.15 0 1 0 -4.3 0M150.5 79.4a2.15 2.15 0 1 0 4.3 0a2.15 2.15 0 1 0 -4.3 0M160.0 80.3a2.15 2.15 0 1 0 4.3 0a2.15 2.15 0 1 0 -4.3 0M161.7 87.2a2.15 2.15 0 1 0 4.3 0a2.15 2.15 0 1 0 -4.3 0M163.4 84.9a2.15 2.15 0 1 0 4.3 0a2.15 2.15 0 1 0 -4.3 0M145.1 77.7a2.15 2.15 0 1 0 4.3 0a2.15 2.15 0 1 0 -4.3 0M161.9 78.3a2.15 2.15 0 1 0 4.3 0a2.15 2.15 0 1 0 -4.3 0M157.8 84.4a2.15 2.15 0 1 0 4.3 0a2.15 2.15 0 1 0 -4.3 0M157.1 75.2a2.15 2.15 0 1 0 4.3 0a2.15 2.15 0 1 0 -4.3 0M160.4 82.6a2.15 2.15 0 1 0 4.3 0a2.15 2.15 0 1 0 -4.3 0M179.8 80.5a2.15 2.15 0 1 0 4.3 0a2.15 2.15 0 1 0 -4.3 0M155.2 80.4a2.15 2.15 0 1 0 4.3 0a2.15 2.15 0 1 0 -4.3 0M176.8 80.9a2.15 2.15 0 1 0 4.3 0a2.15 2.15 0 1 0 -4.3 0M166.5 83.0a2.15 2.15 0 1 0 4.3 0a2.15 2.15 0 1 0 -4.3 0M161.5 76.9a2.15 2.15 0 1 0 4.3 0a2.15 2.15 0 1 0 -4.3 0M154.3 75.2a2.15 2.15 0 1 0 4.3 0a2.15 2.15 0 1 0 -4.3 0M167.9 79.1a2.15 2.15 0 1 0 4.3 0a2.15 2.15 0 1 0 -4.3 0M171.9 75.8a2.15 2.15 0 1 0 4.3 0a2.15 2.15 0 1 0 -4.3 0M152.4 77.0a2.15 2.15 0 1 0 4.3 0a2.15 2.15 0 1 0 -4.3 0M134.8 76.7a2.15 2.15 0 1 0 4.3 0a2.15 2.15 0 1 0 -4.3 0M149.6 85.6a2.15 2.15 0 1 0 4.3 0a2.15 2.15 0 1 0 -4.3 0M156.2 76.2a2.15 2.15 0 1 0 4.3 0a2.15 2.15 0 1 0 -4.3 0M179.8 77.5a2.15 2.15 0 1 0 4.3 0a2.15 2.15 0 1 0 -4.3 0M172.3 83.8a2.15 2.15 0 1 0 4.3 0a2.15 2.15 0 1 0 -4.3 0M156.2 76.0a2.15 2.15 0 1 0 4.3 0a2.15 2.15 0 1 0 -4.3 0M159.9 80.2a2.15 2.15 0 1 0 4.3 0a2.15 2.15 0 1 0 -4.3 0M151.4 88.2a2.15 2.15 0 1 0 4.3 0a2.15 2.15 0 1 0 -4.3 0M165.8 77.5a2.15 2.15 0 1 0 4.3 0a2.15 2.15 0 1 0 -4.3 0M181.3 77.0a2.15 2.15 0 1 0 4.3 0a2.15 2.15 0 1 0 -4.3 0M157.3 82.0a2.15 2.15 0 1 0 4.3 0a2.15 2.15 0 1 0 -4.3 0M174.9 75.6a2.15 2.15 0 1 0 4.3 0a2.15 2.15 0 1 0 -4.3 0M176.4 87.2a2.15 2.15 0 1 0 4.3 0a2.15 2.15 0 1 0 -4.3 0M168.0 85.2a2.15 2.15 0 1 0 4.3 0a2.15 2.15 0 1 0 -4.3 0M165.3 81.8a2.15 2.15 0 1 0 4.3 0a2.15 2.15 0 1 0 -4.3 0M177.7 85.4a2.15 2.15 0 1 0 4.3 0a2.15 2.15 0 1 0 -4.3 0M170.0 78.1a2.15 2.15 0 1 0 4.3 0a2.15 2.15 0 1 0 -4.3 0" fill="none" stroke="rgb(84, 240, 40)" stroke-width="0.85"/>
<path d="M161.2 102.2a2.15 2.15 0 1 0 4.3 0a2.15 2.15 0 1 0 -4.3 0M143.5 77.9a2.15 2.15 0 1 0 4.3 0a2.15 2.15 0 1 0 -4.3 0M161.9 76.7a2.15 2.15 0 1 0 4.3 0a2.15 2.15 0 1 0 -4.3 0M171.0 86.1a2.15 2.15 0 1 0 4.3 0a2.15 2.15 0 1 0 -4.3 0M159.8 77.8a2.15 2.15 0 1 0 4.3 0a2.15 2.15 0 1 0 -4.3 0M157.2 75.6a2.15 2.15 0 1 0 4.3 0a2.15 2.15 0 1 0 -4.3 0M159.5 107.8a2.15 2.15 0 1 0 4.3 0a2.15 2.15 0 1 0 -4.3 0M179.1 75.8a2.15 2.15 0 1 0 4.3 0a2.15 2.15 0 1 0 -4.3 0M168.0 75.1a2.15 2.15 0 1 0 4.3 0a2.15 2.15 0 1 0 -4.3 0M155.1 75.5a2.15 2.15 0 1 0 4.3 0a2.15 2.15 0 1 0 -4.3 0M154.0 75.0a2.15 2.15 0 1 0 4.3 0a2.15 2.15 0 1 0 -4.3 0M164.4 79.1a2.15 2.15 0 1 0 4.3 0a2.15 2.15 0 1 0 -4.3 0M184.7 76.4a2.15 2.15 0 1 0 4.3 0a2.15 2.15 0 1 0 -4.3 0M168.5 75.5a2.15 2.15 0 1 0 4.3 0a2.15 2.15 0 1 0 -4.3 0M163.2 107.8a2.15 2.15 0 1 0 4.3 0a2.15 2.15 0 1 0 -4.3 0M170.7 75.9a2.15 2.15 0 1 0 4.3 0a2.15 2.15 0 1 0 -4.3 0M173.2 78.2a2.15 2.15 0 1 0 4.3 0a2.15 2.15 0 1 0 -4.3 0M163.5 101.9a2.15 2.15 0 1 0 4.3 0a2.15 2.15 0 1 0 -4.3 0M172.9 80.3a2.15 2.15 0 1 0 4.3 0a2.15 2.15 0 1 0 -4.3 0M173.8 96.9a2.15 2.15 0 1 0 4.3 0a2.15 2.15 0 1 0 -4.3 0" fill="none" stroke="rgb(125, 246, 40)" stroke-width="0.85"/>
<path d="M156.1 76.3a2.15 2.15 0 1 0 4.3 0a2.15 2.15 0 1 0 -4.3 0M162.1 75.8a2.15 2.15 0 1 0 4.3 0a2.15 2.15 0 1 0 -4.3 0M192.1 76.5a2.15 2.15 0 1 0 4.3 0a2.15 2.15 0 1 0 -4.3 0M172.5 78.4a2.15 2.15 0 1 0 4.3 0a2.15 2.15 0 1 0 -4.3 0M187.5 77.4a2.15 2.15 0 1 0 4.3 0a2.15 2.15 0 1 0 -4.3 0M166.5 101.9a2.15 2.15 0 1 0 4.3 0a2.15 2.15 0 1 0 -4.3 0M188.9 75.1a2.15 2.15 0 1 0 4.3 0a2.15 2.15 0 1 0 -4.3 0M165.6 96.7a2.15 2.15 0 1 0 4.3 0a2.15 2.15 0 1 0 -4.3 0M164.1 102.2a2.15 2.15 0 1 0 4.3 0a2.15 2.15 0 1 0 -4.3 0M164.9 97.1a2.15 2.15 0 1 0 4.3 0a2.15 2.15 0 1 0 -4.3 0M167.5 109.8a2.15 2.15 0 1 0 4.3 0a2.15 2.15 0 1 0 -4.3 0M187.4 75.9a2.15 2.15 0 1 0 4.3 0a2.15 2.15 0 1 0 -4.3 0M170.7 100.1a2.15 2.15 0 1 0 4.3 0a2.15 2.15 0 1 0 -4.3 0M180.9 76.3a2.15 2.15 0 1 0 4.3 0a2.15 2.15 0 1 0 -4.3 0" fill="none" stroke="rgb(167, 248, 44)" stroke-width="0.85"/>
<path d="M172.7 101.7a2.15 2.15 0 1 0 4.3 0a2.15 2.15 0 1 0 -4.3 0M175.3 76.7a2.15 2.15 0 1 0 4.3 0a2.15 2.15 0 1 0 -4.3 0M166.8 99.8a2.15 2.15 0 1 0 4.3 0a2.15 2.15 0 1 0 -4.3 0M174.2 78.5a2.15 2.15 0 1 0 4.3 0a2.15 2.15 0 1 0 -4.3 0M165.4 104.5a2.15 2.15 0 1 0 4.3 0a2.15 2.15 0 1 0 -4.3 0" fill="none" stroke="rgb(209, 245, 56)" stroke-width="0.85"/>
<path d="M150.0 71.5a2.15 2.15 0 1 0 4.3 0a2.15 2.15 0 1 0 -4.3 0M159.4 68.6a2.15 2.15 0 1 0 4.3 0a2.15 2.15 0 1 0 -4.3 0M157.4 68.8a2.15 2.15 0 1 0 4.3 0a2.15 2.15 0 1 0 -4.3 0M185.6 73.0a2.15 2.15 0 1 0 4.3 0a2.15 2.15 0 1 0 -4.3 0M184.9 76.3a2.15 2.15 0 1 0 4.3 0a2.15 2.15 0 1 0 -4.3 0M188.4 73.0a2.15 2.15 0 1 0 4.3 0a2.15 2.15 0 1 0 -4.3 0" fill="none" stroke="rgb(230, 227, 60)" stroke-width="0.85"/>
<path d="M181.9 69.8a2.15 2.15 0 1 0 4.3 0a2.15 2.15 0 1 0 -4.3 0M153.5 69.3a2.15 2.15 0 1 0 4.3 0a2.15 2.15 0 1 0 -4.3 0M187.0 69.1a2.15 2.15 0 1 0 4.3 0a2.15 2.15 0 1 0 -4.3 0M163.1 69.9a2.15 2.15 0 1 0 4.3 0a2.15 2.15 0 1 0 -4.3 0M151.9 70.1a2.15 2.15 0 1 0 4.3 0a2.15 2.15 0 1 0 -4.3 0M173.4 72.2a2.15 2.15 0 1 0 4.3 0a2.15 2.15 0 1 0 -4.3 0" fill="none" stroke="rgb(238, 199, 56)" stroke-width="0.85"/>
<path d="M165.4 71.4a2.15 2.15 0 1 0 4.3 0a2.15 2.15 0 1 0 -4.3 0M163.8 66.2a2.15 2.15 0 1 0 4.3 0a2.15 2.15 0 1 0 -4.3 0M160.7 74.3a2.15 2.15 0 1 0 4.3 0a2.15 2.15 0 1 0 -4.3 0M168.3 68.9a2.15 2.15 0 1 0 4.3 0a2.15 2.15 0 1 0 -4.3 0M167.6 63.2a2.15 2.15 0 1 0 4.3 0a2.15 2.15 0 1 0 -4.3 0M161.3 68.8a2.15 2.15 0 1 0 4.3 0a2.15 2.15 0 1 0 -4.3 0M182.3 69.2a2.15 2.15 0 1 0 4.3 0a2.15 2.15 0 1 0 -4.3 0M170.8 64.9a2.15 2.15 0 1 0 4.3 0a2.15 2.15 0 1 0 -4.3 0M191.0 68.5a2.15 2.15 0 1 0 4.3 0a2.15 2.15 0 1 0 -4.3 0M167.5 70.3a2.15 2.15 0 1 0 4.3 0a2.15 2.15 0 1 0 -4.3 0" fill="none" stroke="rgb(235, 164, 46)" stroke-width="0.85"/>
<path d="M162.2 70.3a2.15 2.15 0 1 0 4.3 0a2.15 2.15 0 1 0 -4.3 0M167.4 71.6a2.15 2.15 0 1 0 4.3 0a2.15 2.15 0 1 0 -4.3 0M177.2 71.7a2.15 2.15 0 1 0 4.3 0a2.15 2.15 0 1 0 -4.3 0M165.8 65.3a2.15 2.15 0 1 0 4.3 0a2.15 2.15 0 1 0 -4.3 0M162.4 62.1a2.15 2.15 0 1 0 4.3 0a2.15 2.15 0 1 0 -4.3 0M159.9 71.9a2.15 2.15 0 1 0 4.3 0a2.15 2.15 0 1 0 -4.3 0M191.4 65.5a2.15 2.15 0 1 0 4.3 0a2.15 2.15 0 1 0 -4.3 0M189.1 65.5a2.15 2.15 0 1 0 4.3 0a2.15 2.15 0 1 0 -4.3 0M190.6 66.3a2.15 2.15 0 1 0 4.3 0a2.15 2.15 0 1 0 -4.3 0M188.2 61.6a2.15 2.15 0 1 0 4.3 0a2.15 2.15 0 1 0 -4.3 0M166.0 64.1a2.15 2.15 0 1 0 4.3 0a2.15 2.15 0 1 0 -4.3 0M193.4 63.5a2.15 2.15 0 1 0 4.3 0a2.15 2.15 0 1 0 -4.3 0M159.0 66.0a2.15 2.15 0 1 0 4.3 0a2.15 2.15 0 1 0 -4.3 0M162.7 70.2a2.15 2.15 0 1 0 4.3 0a2.15 2.15 0 1 0 -4.3 0M186.2 62.6a2.15 2.15 0 1 0 4.3 0a2.15 2.15 0 1 0 -4.3 0" fill="none" stroke="rgb(220, 124, 41)" stroke-width="0.85"/>
<path d="M193.1 67.5a2.15 2.15 0 1 0 4.3 0a2.15 2.15 0 1 0 -4.3 0M183.1 66.7a2.15 2.15 0 1 0 4.3 0a2.15 2.15 0 1 0 -4.3 0M171.7 68.4a2.15 2.15 0 1 0 4.3 0a2.15 2.15 0 1 0 -4.3 0M161.3 71.8a2.15 2.15 0 1 0 4.3 0a2.15 2.15 0 1 0 -4.3 0M179.9 88.3a2.15 2.15 0 1 0 4.3 0a2.15 2.15 0 1 0 -4.3 0M189.9 70.5a2.15 2.15 0 1 0 4.3 0a2.15 2.15 0 1 0 -4.3 0M178.9 85.8a2.15 2.15 0 1 0 4.3 0a2.15 2.15 0 1 0 -4.3 0M195.9 64.8a2.15 2.15 0 1 0 4.3 0a2.15 2.15 0 1 0 -4.3 0M169.7 66.5a2.15 2.15 0 1 0 4.3 0a2.15 2.15 0 1 0 -4.3 0M169.3 67.5a2.15 2.15 0 1 0 4.3 0a2.15 2.15 0 1 0 -4.3 0" fill="none" stroke="rgb(235, 75, 33)" stroke-width="0.85"/>
<path d="M173.9 88.2a2.15 2.15 0 1 0 4.3 0a2.15 2.15 0 1 0 -4.3 0M175.8 84.9a2.15 2.15 0 1 0 4.3 0a2.15 2.15 0 1 0 -4.3 0M186.5 65.2a2.15 2.15 0 1 0 4.3 0a2.15 2.15 0 1 0 -4.3 0M144.5 72.2a2.15 2.15 0 1 0 4.3 0a2.15 2.15 0 1 0 -4.3 0M166.9 61.0a2.15 2.15 0 1 0 4.3 0a2.15 2.15 0 1 0 -4.3 0M181.5 85.2a2.15 2.15 0 1 0 4.3 0a2.15 2.15 0 1 0 -4.3 0M147.9 72.1a2.15 2.15 0 1 0 4.3 0a2.15 2.15 0 1 0 -4.3 0M144.9 72.1a2.15 2.15 0 1 0 4.3 0a2.15 2.15 0 1 0 -4.3 0M134.5 73.4a2.15 2.15 0 1 0 4.3 0a2.15 2.15 0 1 0 -4.3 0M140.6 72.2a2.15 2.15 0 1 0 4.3 0a2.15 2.15 0 1 0 -4.3 0M190.6 71.3a2.15 2.15 0 1 0 4.3 0a2.15 2.15 0 1 0 -4.3 0M137.0 72.1a2.15 2.15 0 1 0 4.3 0a2.15 2.15 0 1 0 -4.3 0M185.9 70.5a2.15 2.15 0 1 0 4.3 0a2.15 2.15 0 1 0 -4.3 0M154.8 66.9a2.15 2.15 0 1 0 4.3 0a2.15 2.15 0 1 0 -4.3 0M136.2 73.2a2.15 2.15 0 1 0 4.3 0a2.15 2.15 0 1 0 -4.3 0M193.6 65.7a2.15 2.15 0 1 0 4.3 0a2.15 2.15 0 1 0 -4.3 0M150.4 72.5a2.15 2.15 0 1 0 4.3 0a2.15 2.15 0 1 0 -4.3 0M142.2 71.7a2.15 2.15 0 1 0 4.3 0a2.15 2.15 0 1 0 -4.3 0M191.6 64.9a2.15 2.15 0 1 0 4.3 0a2.15 2.15 0 1 0 -4.3 0M183.6 64.0a2.15 2.15 0 1 0 4.3 0a2.15 2.15 0 1 0 -4.3 0M139.1 72.0a2.15 2.15 0 1 0 4.3 0a2.15 2.15 0 1 0 -4.3 0" fill="none" stroke="rgb(245, 42, 24)" stroke-width="0.85"/>
<ellipse cx="109.6" cy="149.2" rx="20.8" ry="33.3" fill="none" stroke="#111" stroke-width="1.3"/>
<line x1="84.5" y1="168" x2="197" y2="44.3" stroke="#f01e14" stroke-width="1.7"/>
</g>
<clipPath id="clipb"><rect x="285" y="43.8" width="160.5" height="139.5"/></clipPath>
<g clip-path="url(#clipb)">
<line x1="285" y1="183.3" x2="445.5" y2="43.8" stroke="#111" stroke-width="1.1" stroke-dasharray="3.5 2 1.2 2"/>
<polygon points="338.0,134.0 343.0,128.0 350.0,124.0 358.0,121.0 365.0,120.0 370.0,125.0 371.0,140.0 370.0,152.0 366.0,160.0 360.0,164.0 357.0,170.0 352.0,172.0 349.0,165.0 343.0,162.0 339.0,155.0 337.0,145.0" fill="#c8c8c8" stroke="#c0c0c0" stroke-width="2"/>
<path d="M335.5 150.1a2.1 2.1 0 1 0 4.2 0a2.1 2.1 0 1 0 -4.2 0M334.9 132.6a2.1 2.1 0 1 0 4.2 0a2.1 2.1 0 1 0 -4.2 0M351.7 170.7a2.1 2.1 0 1 0 4.2 0a2.1 2.1 0 1 0 -4.2 0M350.5 162.9a2.1 2.1 0 1 0 4.2 0a2.1 2.1 0 1 0 -4.2 0M340.3 161.9a2.1 2.1 0 1 0 4.2 0a2.1 2.1 0 1 0 -4.2 0M351.6 123.9a2.1 2.1 0 1 0 4.2 0a2.1 2.1 0 1 0 -4.2 0M362.7 121.4a2.1 2.1 0 1 0 4.2 0a2.1 2.1 0 1 0 -4.2 0M338.0 151.4a2.1 2.1 0 1 0 4.2 0a2.1 2.1 0 1 0 -4.2 0M345.7 162.9a2.1 2.1 0 1 0 4.2 0a2.1 2.1 0 1 0 -4.2 0M342.1 129.4a2.1 2.1 0 1 0 4.2 0a2.1 2.1 0 1 0 -4.2 0M335.3 146.7a2.1 2.1 0 1 0 4.2 0a2.1 2.1 0 1 0 -4.2 0M366.0 120.1a2.1 2.1 0 1 0 4.2 0a2.1 2.1 0 1 0 -4.2 0M368.1 151.0a2.1 2.1 0 1 0 4.2 0a2.1 2.1 0 1 0 -4.2 0M351.0 122.4a2.1 2.1 0 1 0 4.2 0a2.1 2.1 0 1 0 -4.2 0M335.7 139.8a2.1 2.1 0 1 0 4.2 0a2.1 2.1 0 1 0 -4.2 0M370.5 149.1a2.1 2.1 0 1 0 4.2 0a2.1 2.1 0 1 0 -4.2 0M368.7 138.5a2.1 2.1 0 1 0 4.2 0a2.1 2.1 0 1 0 -4.2 0M359.7 161.5a2.1 2.1 0 1 0 4.2 0a2.1 2.1 0 1 0 -4.2 0M359.0 162.7a2.1 2.1 0 1 0 4.2 0a2.1 2.1 0 1 0 -4.2 0M341.4 164.9a2.1 2.1 0 1 0 4.2 0a2.1 2.1 0 1 0 -4.2 0M347.4 123.1a2.1 2.1 0 1 0 4.2 0a2.1 2.1 0 1 0 -4.2 0M358.0 124.0a2.1 2.1 0 1 0 4.2 0a2.1 2.1 0 1 0 -4.2 0M343.8 172.2a2.1 2.1 0 1 0 4.2 0a2.1 2.1 0 1 0 -4.2 0M337.7 131.7a2.1 2.1 0 1 0 4.2 0a2.1 2.1 0 1 0 -4.2 0M355.7 121.4a2.1 2.1 0 1 0 4.2 0a2.1 2.1 0 1 0 -4.2 0M349.8 125.4a2.1 2.1 0 1 0 4.2 0a2.1 2.1 0 1 0 -4.2 0M341.8 124.3a2.1 2.1 0 1 0 4.2 0a2.1 2.1 0 1 0 -4.2 0M335.7 138.6a2.1 2.1 0 1 0 4.2 0a2.1 2.1 0 1 0 -4.2 0M351.9 127.8a2.1 2.1 0 1 0 4.2 0a2.1 2.1 0 1 0 -4.2 0M346.3 162.8a2.1 2.1 0 1 0 4.2 0a2.1 2.1 0 1 0 -4.2 0M368.1 126.7a2.1 2.1 0 1 0 4.2 0a2.1 2.1 0 1 0 -4.2 0M367.1 158.8a2.1 2.1 0 1 0 4.2 0a2.1 2.1 0 1 0 -4.2 0M360.9 163.5a2.1 2.1 0 1 0 4.2 0a2.1 2.1 0 1 0 -4.2 0M332.8 134.8a2.1 2.1 0 1 0 4.2 0a2.1 2.1 0 1 0 -4.2 0M357.9 167.3a2.1 2.1 0 1 0 4.2 0a2.1 2.1 0 1 0 -4.2 0M364.4 127.4a2.1 2.1 0 1 0 4.2 0a2.1 2.1 0 1 0 -4.2 0M357.8 169.1a2.1 2.1 0 1 0 4.2 0a2.1 2.1 0 1 0 -4.2 0M344.3 160.4a2.1 2.1 0 1 0 4.2 0a2.1 2.1 0 1 0 -4.2 0M361.0 161.5a2.1 2.1 0 1 0 4.2 0a2.1 2.1 0 1 0 -4.2 0M362.2 121.1a2.1 2.1 0 1 0 4.2 0a2.1 2.1 0 1 0 -4.2 0M350.2 119.7a2.1 2.1 0 1 0 4.2 0a2.1 2.1 0 1 0 -4.2 0M366.3 142.8a2.1 2.1 0 1 0 4.2 0a2.1 2.1 0 1 0 -4.2 0M343.8 163.9a2.1 2.1 0 1 0 4.2 0a2.1 2.1 0 1 0 -4.2 0M361.1 162.0a2.1 2.1 0 1 0 4.2 0a2.1 2.1 0 1 0 -4.2 0M336.3 157.8a2.1 2.1 0 1 0 4.2 0a2.1 2.1 0 1 0 -4.2 0M350.5 119.1a2.1 2.1 0 1 0 4.2 0a2.1 2.1 0 1 0 -4.2 0M353.5 120.9a2.1 2.1 0 1 0 4.2 0a2.1 2.1 0 1 0 -4.2 0M332.5 140.2a2.1 2.1 0 1 0 4.2 0a2.1 2.1 0 1 0 -4.2 0M347.1 125.6a2.1 2.1 0 1 0 4.2 0a2.1 2.1 0 1 0 -4.2 0M337.9 149.8a2.1 2.1 0 1 0 4.2 0a2.1 2.1 0 1 0 -4.2 0M338.4 136.0a2.1 2.1 0 1 0 4.2 0a2.1 2.1 0 1 0 -4.2 0M345.0 125.7a2.1 2.1 0 1 0 4.2 0a2.1 2.1 0 1 0 -4.2 0M368.9 139.6a2.1 2.1 0 1 0 4.2 0a2.1 2.1 0 1 0 -4.2 0M335.2 132.3a2.1 2.1 0 1 0 4.2 0a2.1 2.1 0 1 0 -4.2 0M340.2 130.2a2.1 2.1 0 1 0 4.2 0a2.1 2.1 0 1 0 -4.2 0M357.4 169.3a2.1 2.1 0 1 0 4.2 0a2.1 2.1 0 1 0 -4.2 0M341.5 161.2a2.1 2.1 0 1 0 4.2 0a2.1 2.1 0 1 0 -4.2 0M346.9 167.6a2.1 2.1 0 1 0 4.2 0a2.1 2.1 0 1 0 -4.2 0M368.2 153.1a2.1 2.1 0 1 0 4.2 0a2.1 2.1 0 1 0 -4.2 0M350.8 120.6a2.1 2.1 0 1 0 4.2 0a2.1 2.1 0 1 0 -4.2 0M367.6 143.3a2.1 2.1 0 1 0 4.2 0a2.1 2.1 0 1 0 -4.2 0M359.2 162.7a2.1 2.1 0 1 0 4.2 0a2.1 2.1 0 1 0 -4.2 0M359.2 163.9a2.1 2.1 0 1 0 4.2 0a2.1 2.1 0 1 0 -4.2 0M340.6 165.5a2.1 2.1 0 1 0 4.2 0a2.1 2.1 0 1 0 -4.2 0M364.9 156.1a2.1 2.1 0 1 0 4.2 0a2.1 2.1 0 1 0 -4.2 0M350.0 124.3a2.1 2.1 0 1 0 4.2 0a2.1 2.1 0 1 0 -4.2 0M344.5 159.1a2.1 2.1 0 1 0 4.2 0a2.1 2.1 0 1 0 -4.2 0M354.2 121.7a2.1 2.1 0 1 0 4.2 0a2.1 2.1 0 1 0 -4.2 0M350.3 174.1a2.1 2.1 0 1 0 4.2 0a2.1 2.1 0 1 0 -4.2 0M345.8 164.5a2.1 2.1 0 1 0 4.2 0a2.1 2.1 0 1 0 -4.2 0M333.7 148.0a2.1 2.1 0 1 0 4.2 0a2.1 2.1 0 1 0 -4.2 0M369.0 130.3a2.1 2.1 0 1 0 4.2 0a2.1 2.1 0 1 0 -4.2 0M353.4 174.0a2.1 2.1 0 1 0 4.2 0a2.1 2.1 0 1 0 -4.2 0M372.3 127.5a2.1 2.1 0 1 0 4.2 0a2.1 2.1 0 1 0 -4.2 0M343.9 163.9a2.1 2.1 0 1 0 4.2 0a2.1 2.1 0 1 0 -4.2 0M338.0 130.7a2.1 2.1 0 1 0 4.2 0a2.1 2.1 0 1 0 -4.2 0M351.8 169.3a2.1 2.1 0 1 0 4.2 0a2.1 2.1 0 1 0 -4.2 0M334.9 150.2a2.1 2.1 0 1 0 4.2 0a2.1 2.1 0 1 0 -4.2 0M351.4 123.1a2.1 2.1 0 1 0 4.2 0a2.1 2.1 0 1 0 -4.2 0M349.6 124.3a2.1 2.1 0 1 0 4.2 0a2.1 2.1 0 1 0 -4.2 0M339.7 165.6a2.1 2.1 0 1 0 4.2 0a2.1 2.1 0 1 0 -4.2 0M362.4 126.3a2.1 2.1 0 1 0 4.2 0a2.1 2.1 0 1 0 -4.2 0M367.6 144.7a2.1 2.1 0 1 0 4.2 0a2.1 2.1 0 1 0 -4.2 0M371.5 133.7a2.1 2.1 0 1 0 4.2 0a2.1 2.1 0 1 0 -4.2 0M334.0 131.9a2.1 2.1 0 1 0 4.2 0a2.1 2.1 0 1 0 -4.2 0M337.3 154.0a2.1 2.1 0 1 0 4.2 0a2.1 2.1 0 1 0 -4.2 0M359.1 123.4a2.1 2.1 0 1 0 4.2 0a2.1 2.1 0 1 0 -4.2 0M368.2 128.1a2.1 2.1 0 1 0 4.2 0a2.1 2.1 0 1 0 -4.2 0M345.1 125.6a2.1 2.1 0 1 0 4.2 0a2.1 2.1 0 1 0 -4.2 0M371.7 132.0a2.1 2.1 0 1 0 4.2 0a2.1 2.1 0 1 0 -4.2 0M337.2 156.1a2.1 2.1 0 1 0 4.2 0a2.1 2.1 0 1 0 -4.2 0M340.9 163.4a2.1 2.1 0 1 0 4.2 0a2.1 2.1 0 1 0 -4.2 0M340.3 161.7a2.1 2.1 0 1 0 4.2 0a2.1 2.1 0 1 0 -4.2 0M351.8 169.9a2.1 2.1 0 1 0 4.2 0a2.1 2.1 0 1 0 -4.2 0M338.6 163.6a2.1 2.1 0 1 0 4.2 0a2.1 2.1 0 1 0 -4.2 0M372.8 144.1a2.1 2.1 0 1 0 4.2 0a2.1 2.1 0 1 0 -4.2 0M354.9 122.8a2.1 2.1 0 1 0 4.2 0a2.1 2.1 0 1 0 -4.2 0M336.8 136.6a2.1 2.1 0 1 0 4.2 0a2.1 2.1 0 1 0 -4.2 0M352.8 171.1a2.1 2.1 0 1 0 4.2 0a2.1 2.1 0 1 0 -4.2 0M341.4 122.4a2.1 2.1 0 1 0 4.2 0a2.1 2.1 0 1 0 -4.2 0M354.6 171.8a2.1 2.1 0 1 0 4.2 0a2.1 2.1 0 1 0 -4.2 0M342.1 126.3a2.1 2.1 0 1 0 4.2 0a2.1 2.1 0 1 0 -4.2 0M336.2 145.7a2.1 2.1 0 1 0 4.2 0a2.1 2.1 0 1 0 -4.2 0M366.6 121.7a2.1 2.1 0 1 0 4.2 0a2.1 2.1 0 1 0 -4.2 0M343.0 158.1a2.1 2.1 0 1 0 4.2 0a2.1 2.1 0 1 0 -4.2 0M374.4 125.7a2.1 2.1 0 1 0 4.2 0a2.1 2.1 0 1 0 -4.2 0M363.1 121.6a2.1 2.1 0 1 0 4.2 0a2.1 2.1 0 1 0 -4.2 0M357.9 120.5a2.1 2.1 0 1 0 4.2 0a2.1 2.1 0 1 0 -4.2 0M349.8 167.1a2.1 2.1 0 1 0 4.2 0a2.1 2.1 0 1 0 -4.2 0M340.7 125.1a2.1 2.1 0 1 0 4.2 0a2.1 2.1 0 1 0 -4.2 0M347.9 173.0a2.1 2.1 0 1 0 4.2 0a2.1 2.1 0 1 0 -4.2 0M350.9 176.0a2.1 2.1 0 1 0 4.2 0a2.1 2.1 0 1 0 -4.2 0M353.9 175.0a2.1 2.1 0 1 0 4.2 0a2.1 2.1 0 1 0 -4.2 0M345.9 176.0a2.1 2.1 0 1 0 4.2 0a2.1 2.1 0 1 0 -4.2 0M384.9 137.0a2.1 2.1 0 1 0 4.2 0a2.1 2.1 0 1 0 -4.2 0M388.9 136.0a2.1 2.1 0 1 0 4.2 0a2.1 2.1 0 1 0 -4.2 0M392.9 136.0a2.1 2.1 0 1 0 4.2 0a2.1 2.1 0 1 0 -4.2 0M380.9 139.0a2.1 2.1 0 1 0 4.2 0a2.1 2.1 0 1 0 -4.2 0M337.9 128.0a2.1 2.1 0 1 0 4.2 0a2.1 2.1 0 1 0 -4.2 0M342.9 124.0a2.1 2.1 0 1 0 4.2 0a2.1 2.1 0 1 0 -4.2 0M371.9 146.0a2.1 2.1 0 1 0 4.2 0a2.1 2.1 0 1 0 -4.2 0M369.9 152.0a2.1 2.1 0 1 0 4.2 0a2.1 2.1 0 1 0 -4.2 0" fill="none" stroke="#bdbdbd" stroke-width="0.85"/>
<path d="M354.1 143.2h0.9v0.9h-0.9zM358.4 152.5h0.9v0.9h-0.9zM349.1 151.7h0.9v0.9h-0.9zM346.5 165.1h0.9v0.9h-0.9zM358.2 143.6h0.9v0.9h-0.9zM348.4 140.7h0.9v0.9h-0.9zM352.4 151.5h0.9v0.9h-0.9zM354.8 151.4h0.9v0.9h-0.9zM356.7 139.2h0.9v0.9h-0.9zM363.4 144.3h0.9v0.9h-0.9zM343.3 146.0h0.9v0.9h-0.9zM346.0 147.7h0.9v0.9h-0.9zM356.7 131.8h0.9v0.9h-0.9zM366.6 135.0h0.9v0.9h-0.9zM354.5 145.6h0.9v0.9h-0.9zM348.3 151.7h0.9v0.9h-0.9zM369.7 145.4h0.9v0.9h-0.9zM347.4 156.1h0.9v0.9h-0.9zM357.9 149.6h0.9v0.9h-0.9zM369.0 133.2h0.9v0.9h-0.9zM338.3 146.5h0.9v0.9h-0.9zM338.5 150.4h0.9v0.9h-0.9zM357.3 147.6h0.9v0.9h-0.9zM358.7 156.2h0.9v0.9h-0.9zM358.0 139.1h0.9v0.9h-0.9zM349.7 144.7h0.9v0.9h-0.9zM342.5 155.3h0.9v0.9h-0.9zM360.1 151.5h0.9v0.9h-0.9zM355.4 147.5h0.9v0.9h-0.9zM351.1 161.4h0.9v0.9h-0.9zM349.6 154.0h0.9v0.9h-0.9zM352.3 141.3h0.9v0.9h-0.9zM347.5 150.3h0.9v0.9h-0.9zM355.0 143.2h0.9v0.9h-0.9zM351.0 141.9h0.9v0.9h-0.9zM357.8 147.4h0.9v0.9h-0.9zM354.2 147.7h0.9v0.9h-0.9zM356.5 152.2h0.9v0.9h-0.9zM359.1 149.3h0.9v0.9h-0.9zM343.1 146.6h0.9v0.9h-0.9zM360.5 157.9h0.9v0.9h-0.9zM351.9 142.7h0.9v0.9h-0.9zM358.9 152.0h0.9v0.9h-0.9zM347.8 150.8h0.9v0.9h-0.9zM347.4 145.6h0.9v0.9h-0.9z" fill="#4040ff" fill-opacity="0.75"/>
<path d="M367.1 143.8a2.15 2.15 0 1 0 4.3 0a2.15 2.15 0 1 0 -4.3 0M347.8 131.7a2.15 2.15 0 1 0 4.3 0a2.15 2.15 0 1 0 -4.3 0M351.2 129.8a2.15 2.15 0 1 0 4.3 0a2.15 2.15 0 1 0 -4.3 0M367.3 138.7a2.15 2.15 0 1 0 4.3 0a2.15 2.15 0 1 0 -4.3 0M361.0 121.7a2.15 2.15 0 1 0 4.3 0a2.15 2.15 0 1 0 -4.3 0M364.1 138.9a2.15 2.15 0 1 0 4.3 0a2.15 2.15 0 1 0 -4.3 0M359.7 129.4a2.15 2.15 0 1 0 4.3 0a2.15 2.15 0 1 0 -4.3 0M366.8 152.7a2.15 2.15 0 1 0 4.3 0a2.15 2.15 0 1 0 -4.3 0M361.3 149.7a2.15 2.15 0 1 0 4.3 0a2.15 2.15 0 1 0 -4.3 0M367.8 153.3a2.15 2.15 0 1 0 4.3 0a2.15 2.15 0 1 0 -4.3 0M349.0 136.9a2.15 2.15 0 1 0 4.3 0a2.15 2.15 0 1 0 -4.3 0M354.9 140.9a2.15 2.15 0 1 0 4.3 0a2.15 2.15 0 1 0 -4.3 0M349.8 110.8a2.15 2.15 0 1 0 4.3 0a2.15 2.15 0 1 0 -4.3 0M369.8 147.0a2.15 2.15 0 1 0 4.3 0a2.15 2.15 0 1 0 -4.3 0M363.8 137.3a2.15 2.15 0 1 0 4.3 0a2.15 2.15 0 1 0 -4.3 0M350.6 127.5a2.15 2.15 0 1 0 4.3 0a2.15 2.15 0 1 0 -4.3 0M362.6 136.6a2.15 2.15 0 1 0 4.3 0a2.15 2.15 0 1 0 -4.3 0M362.0 150.4a2.15 2.15 0 1 0 4.3 0a2.15 2.15 0 1 0 -4.3 0M358.0 152.4a2.15 2.15 0 1 0 4.3 0a2.15 2.15 0 1 0 -4.3 0M357.5 142.3a2.15 2.15 0 1 0 4.3 0a2.15 2.15 0 1 0 -4.3 0M347.2 145.8a2.15 2.15 0 1 0 4.3 0a2.15 2.15 0 1 0 -4.3 0M354.5 132.8a2.15 2.15 0 1 0 4.3 0a2.15 2.15 0 1 0 -4.3 0M341.8 158.7a2.15 2.15 0 1 0 4.3 0a2.15 2.15 0 1 0 -4.3 0M356.9 78.0a2.15 2.15 0 1 0 4.3 0a2.15 2.15 0 1 0 -4.3 0M360.9 88.0a2.15 2.15 0 1 0 4.3 0a2.15 2.15 0 1 0 -4.3 0M355.9 100.0a2.15 2.15 0 1 0 4.3 0a2.15 2.15 0 1 0 -4.3 0M349.9 110.0a2.15 2.15 0 1 0 4.3 0a2.15 2.15 0 1 0 -4.3 0M346.9 113.0a2.15 2.15 0 1 0 4.3 0a2.15 2.15 0 1 0 -4.3 0M368.0 145.2a2.15 2.15 0 1 0 4.3 0a2.15 2.15 0 1 0 -4.3 0M349.1 112.6a2.15 2.15 0 1 0 4.3 0a2.15 2.15 0 1 0 -4.3 0M361.5 156.8a2.15 2.15 0 1 0 4.3 0a2.15 2.15 0 1 0 -4.3 0M358.3 153.3a2.15 2.15 0 1 0 4.3 0a2.15 2.15 0 1 0 -4.3 0" fill="none" stroke="rgb(5, 5, 251)" stroke-width="0.85"/>
<path d="M346.5 142.0a2.15 2.15 0 1 0 4.3 0a2.15 2.15 0 1 0 -4.3 0M360.5 152.4a2.15 2.15 0 1 0 4.3 0a2.15 2.15 0 1 0 -4.3 0M365.2 141.5a2.15 2.15 0 1 0 4.3 0a2.15 2.15 0 1 0 -4.3 0M375.4 141.4a2.15 2.15 0 1 0 4.3 0a2.15 2.15 0 1 0 -4.3 0M360.5 140.1a2.15 2.15 0 1 0 4.3 0a2.15 2.15 0 1 0 -4.3 0M369.2 145.4a2.15 2.15 0 1 0 4.3 0a2.15 2.15 0 1 0 -4.3 0M365.8 153.0a2.15 2.15 0 1 0 4.3 0a2.15 2.15 0 1 0 -4.3 0M360.0 149.2a2.15 2.15 0 1 0 4.3 0a2.15 2.15 0 1 0 -4.3 0M366.1 141.4a2.15 2.15 0 1 0 4.3 0a2.15 2.15 0 1 0 -4.3 0M362.1 137.5a2.15 2.15 0 1 0 4.3 0a2.15 2.15 0 1 0 -4.3 0M371.0 146.1a2.15 2.15 0 1 0 4.3 0a2.15 2.15 0 1 0 -4.3 0M368.1 130.1a2.15 2.15 0 1 0 4.3 0a2.15 2.15 0 1 0 -4.3 0M355.5 134.0a2.15 2.15 0 1 0 4.3 0a2.15 2.15 0 1 0 -4.3 0M372.2 139.8a2.15 2.15 0 1 0 4.3 0a2.15 2.15 0 1 0 -4.3 0M364.7 152.5a2.15 2.15 0 1 0 4.3 0a2.15 2.15 0 1 0 -4.3 0M367.3 128.2a2.15 2.15 0 1 0 4.3 0a2.15 2.15 0 1 0 -4.3 0M367.5 141.1a2.15 2.15 0 1 0 4.3 0a2.15 2.15 0 1 0 -4.3 0M365.5 131.0a2.15 2.15 0 1 0 4.3 0a2.15 2.15 0 1 0 -4.3 0M369.4 143.6a2.15 2.15 0 1 0 4.3 0a2.15 2.15 0 1 0 -4.3 0M362.0 138.9a2.15 2.15 0 1 0 4.3 0a2.15 2.15 0 1 0 -4.3 0M371.0 136.2a2.15 2.15 0 1 0 4.3 0a2.15 2.15 0 1 0 -4.3 0" fill="none" stroke="rgb(15, 15, 243)" stroke-width="0.85"/>
<path d="M355.5 121.2a2.15 2.15 0 1 0 4.3 0a2.15 2.15 0 1 0 -4.3 0M354.0 102.3a2.15 2.15 0 1 0 4.3 0a2.15 2.15 0 1 0 -4.3 0M358.7 118.1a2.15 2.15 0 1 0 4.3 0a2.15 2.15 0 1 0 -4.3 0M356.8 133.4a2.15 2.15 0 1 0 4.3 0a2.15 2.15 0 1 0 -4.3 0M374.4 145.3a2.15 2.15 0 1 0 4.3 0a2.15 2.15 0 1 0 -4.3 0M359.2 139.8a2.15 2.15 0 1 0 4.3 0a2.15 2.15 0 1 0 -4.3 0M356.0 127.9a2.15 2.15 0 1 0 4.3 0a2.15 2.15 0 1 0 -4.3 0M364.4 132.1a2.15 2.15 0 1 0 4.3 0a2.15 2.15 0 1 0 -4.3 0M367.5 145.5a2.15 2.15 0 1 0 4.3 0a2.15 2.15 0 1 0 -4.3 0M366.5 142.1a2.15 2.15 0 1 0 4.3 0a2.15 2.15 0 1 0 -4.3 0M361.4 129.2a2.15 2.15 0 1 0 4.3 0a2.15 2.15 0 1 0 -4.3 0M370.1 132.1a2.15 2.15 0 1 0 4.3 0a2.15 2.15 0 1 0 -4.3 0M374.4 128.2a2.15 2.15 0 1 0 4.3 0a2.15 2.15 0 1 0 -4.3 0M369.0 126.0a2.15 2.15 0 1 0 4.3 0a2.15 2.15 0 1 0 -4.3 0M369.7 144.9a2.15 2.15 0 1 0 4.3 0a2.15 2.15 0 1 0 -4.3 0" fill="none" stroke="rgb(32, 38, 244)" stroke-width="0.85"/>
<path d="M359.8 133.2a2.15 2.15 0 1 0 4.3 0a2.15 2.15 0 1 0 -4.3 0M374.3 133.9a2.15 2.15 0 1 0 4.3 0a2.15 2.15 0 1 0 -4.3 0M367.6 130.5a2.15 2.15 0 1 0 4.3 0a2.15 2.15 0 1 0 -4.3 0M367.9 124.4a2.15 2.15 0 1 0 4.3 0a2.15 2.15 0 1 0 -4.3 0M368.2 124.2a2.15 2.15 0 1 0 4.3 0a2.15 2.15 0 1 0 -4.3 0M359.5 124.6a2.15 2.15 0 1 0 4.3 0a2.15 2.15 0 1 0 -4.3 0M373.2 125.5a2.15 2.15 0 1 0 4.3 0a2.15 2.15 0 1 0 -4.3 0M361.3 123.3a2.15 2.15 0 1 0 4.3 0a2.15 2.15 0 1 0 -4.3 0M366.7 130.7a2.15 2.15 0 1 0 4.3 0a2.15 2.15 0 1 0 -4.3 0M376.9 125.1a2.15 2.15 0 1 0 4.3 0a2.15 2.15 0 1 0 -4.3 0M359.9 135.2a2.15 2.15 0 1 0 4.3 0a2.15 2.15 0 1 0 -4.3 0M371.1 131.7a2.15 2.15 0 1 0 4.3 0a2.15 2.15 0 1 0 -4.3 0M372.6 132.1a2.15 2.15 0 1 0 4.3 0a2.15 2.15 0 1 0 -4.3 0M358.7 108.5a2.15 2.15 0 1 0 4.3 0a2.15 2.15 0 1 0 -4.3 0M373.1 127.9a2.15 2.15 0 1 0 4.3 0a2.15 2.15 0 1 0 -4.3 0M370.9 124.0a2.15 2.15 0 1 0 4.3 0a2.15 2.15 0 1 0 -4.3 0M371.3 114.3a2.15 2.15 0 1 0 4.3 0a2.15 2.15 0 1 0 -4.3 0M376.8 133.1a2.15 2.15 0 1 0 4.3 0a2.15 2.15 0 1 0 -4.3 0M366.8 126.5a2.15 2.15 0 1 0 4.3 0a2.15 2.15 0 1 0 -4.3 0M363.7 125.6a2.15 2.15 0 1 0 4.3 0a2.15 2.15 0 1 0 -4.3 0" fill="none" stroke="rgb(52, 69, 252)" stroke-width="0.85"/>
<path d="M378.9 130.1a2.15 2.15 0 1 0 4.3 0a2.15 2.15 0 1 0 -4.3 0M364.4 120.1a2.15 2.15 0 1 0 4.3 0a2.15 2.15 0 1 0 -4.3 0M368.1 129.3a2.15 2.15 0 1 0 4.3 0a2.15 2.15 0 1 0 -4.3 0M354.9 110.9a2.15 2.15 0 1 0 4.3 0a2.15 2.15 0 1 0 -4.3 0M365.4 121.8a2.15 2.15 0 1 0 4.3 0a2.15 2.15 0 1 0 -4.3 0M364.4 122.2a2.15 2.15 0 1 0 4.3 0a2.15 2.15 0 1 0 -4.3 0M369.7 115.9a2.15 2.15 0 1 0 4.3 0a2.15 2.15 0 1 0 -4.3 0M366.9 118.1a2.15 2.15 0 1 0 4.3 0a2.15 2.15 0 1 0 -4.3 0M368.7 115.8a2.15 2.15 0 1 0 4.3 0a2.15 2.15 0 1 0 -4.3 0M364.8 126.3a2.15 2.15 0 1 0 4.3 0a2.15 2.15 0 1 0 -4.3 0M369.3 129.9a2.15 2.15 0 1 0 4.3 0a2.15 2.15 0 1 0 -4.3 0M355.7 112.1a2.15 2.15 0 1 0 4.3 0a2.15 2.15 0 1 0 -4.3 0M372.6 121.3a2.15 2.15 0 1 0 4.3 0a2.15 2.15 0 1 0 -4.3 0M369.5 121.8a2.15 2.15 0 1 0 4.3 0a2.15 2.15 0 1 0 -4.3 0M368.6 122.7a2.15 2.15 0 1 0 4.3 0a2.15 2.15 0 1 0 -4.3 0M358.5 121.0a2.15 2.15 0 1 0 4.3 0a2.15 2.15 0 1 0 -4.3 0M374.3 131.1a2.15 2.15 0 1 0 4.3 0a2.15 2.15 0 1 0 -4.3 0M361.5 123.7a2.15 2.15 0 1 0 4.3 0a2.15 2.15 0 1 0 -4.3 0M381.5 122.7a2.15 2.15 0 1 0 4.3 0a2.15 2.15 0 1 0 -4.3 0M371.4 119.3a2.15 2.15 0 1 0 4.3 0a2.15 2.15 0 1 0 -4.3 0M360.3 99.0a2.15 2.15 0 1 0 4.3 0a2.15 2.15 0 1 0 -4.3 0M363.7 94.9a2.15 2.15 0 1 0 4.3 0a2.15 2.15 0 1 0 -4.3 0M364.0 100.0a2.15 2.15 0 1 0 4.3 0a2.15 2.15 0 1 0 -4.3 0M384.5 129.5a2.15 2.15 0 1 0 4.3 0a2.15 2.15 0 1 0 -4.3 0M362.7 121.7a2.15 2.15 0 1 0 4.3 0a2.15 2.15 0 1 0 -4.3 0M367.3 124.5a2.15 2.15 0 1 0 4.3 0a2.15 2.15 0 1 0 -4.3 0M367.0 121.9a2.15 2.15 0 1 0 4.3 0a2.15 2.15 0 1 0 -4.3 0M373.1 126.5a2.15 2.15 0 1 0 4.3 0a2.15 2.15 0 1 0 -4.3 0M364.1 108.6a2.15 2.15 0 1 0 4.3 0a2.15 2.15 0 1 0 -4.3 0M365.2 101.0a2.15 2.15 0 1 0 4.3 0a2.15 2.15 0 1 0 -4.3 0M373.9 126.4a2.15 2.15 0 1 0 4.3 0a2.15 2.15 0 1 0 -4.3 0M363.9 124.1a2.15 2.15 0 1 0 4.3 0a2.15 2.15 0 1 0 -4.3 0M374.4 124.0a2.15 2.15 0 1 0 4.3 0a2.15 2.15 0 1 0 -4.3 0M379.4 128.1a2.15 2.15 0 1 0 4.3 0a2.15 2.15 0 1 0 -4.3 0M371.2 124.2a2.15 2.15 0 1 0 4.3 0a2.15 2.15 0 1 0 -4.3 0M360.9 118.2a2.15 2.15 0 1 0 4.3 0a2.15 2.15 0 1 0 -4.3 0M372.7 129.8a2.15 2.15 0 1 0 4.3 0a2.15 2.15 0 1 0 -4.3 0M362.0 108.9a2.15 2.15 0 1 0 4.3 0a2.15 2.15 0 1 0 -4.3 0M366.6 125.5a2.15 2.15 0 1 0 4.3 0a2.15 2.15 0 1 0 -4.3 0" fill="none" stroke="rgb(69, 98, 255)" stroke-width="0.85"/>
<path d="M364.6 123.9a2.15 2.15 0 1 0 4.3 0a2.15 2.15 0 1 0 -4.3 0M364.1 117.4a2.15 2.15 0 1 0 4.3 0a2.15 2.15 0 1 0 -4.3 0M368.7 120.0a2.15 2.15 0 1 0 4.3 0a2.15 2.15 0 1 0 -4.3 0M365.4 84.2a2.15 2.15 0 1 0 4.3 0a2.15 2.15 0 1 0 -4.3 0M366.6 123.0a2.15 2.15 0 1 0 4.3 0a2.15 2.15 0 1 0 -4.3 0M372.6 125.6a2.15 2.15 0 1 0 4.3 0a2.15 2.15 0 1 0 -4.3 0M365.3 109.0a2.15 2.15 0 1 0 4.3 0a2.15 2.15 0 1 0 -4.3 0M367.1 118.7a2.15 2.15 0 1 0 4.3 0a2.15 2.15 0 1 0 -4.3 0M378.4 115.3a2.15 2.15 0 1 0 4.3 0a2.15 2.15 0 1 0 -4.3 0M367.0 117.8a2.15 2.15 0 1 0 4.3 0a2.15 2.15 0 1 0 -4.3 0M364.9 111.4a2.15 2.15 0 1 0 4.3 0a2.15 2.15 0 1 0 -4.3 0M384.6 125.7a2.15 2.15 0 1 0 4.3 0a2.15 2.15 0 1 0 -4.3 0M364.7 99.4a2.15 2.15 0 1 0 4.3 0a2.15 2.15 0 1 0 -4.3 0M363.7 113.1a2.15 2.15 0 1 0 4.3 0a2.15 2.15 0 1 0 -4.3 0M369.4 103.4a2.15 2.15 0 1 0 4.3 0a2.15 2.15 0 1 0 -4.3 0M369.1 127.2a2.15 2.15 0 1 0 4.3 0a2.15 2.15 0 1 0 -4.3 0M370.8 105.3a2.15 2.15 0 1 0 4.3 0a2.15 2.15 0 1 0 -4.3 0M362.5 112.2a2.15 2.15 0 1 0 4.3 0a2.15 2.15 0 1 0 -4.3 0M369.4 119.1a2.15 2.15 0 1 0 4.3 0a2.15 2.15 0 1 0 -4.3 0M376.9 117.6a2.15 2.15 0 1 0 4.3 0a2.15 2.15 0 1 0 -4.3 0M382.8 103.4a2.15 2.15 0 1 0 4.3 0a2.15 2.15 0 1 0 -4.3 0M380.2 117.0a2.15 2.15 0 1 0 4.3 0a2.15 2.15 0 1 0 -4.3 0M365.5 113.4a2.15 2.15 0 1 0 4.3 0a2.15 2.15 0 1 0 -4.3 0M377.8 132.2a2.15 2.15 0 1 0 4.3 0a2.15 2.15 0 1 0 -4.3 0M377.0 117.0a2.15 2.15 0 1 0 4.3 0a2.15 2.15 0 1 0 -4.3 0M362.8 98.4a2.15 2.15 0 1 0 4.3 0a2.15 2.15 0 1 0 -4.3 0M376.1 126.1a2.15 2.15 0 1 0 4.3 0a2.15 2.15 0 1 0 -4.3 0M370.8 117.9a2.15 2.15 0 1 0 4.3 0a2.15 2.15 0 1 0 -4.3 0M370.6 105.2a2.15 2.15 0 1 0 4.3 0a2.15 2.15 0 1 0 -4.3 0M362.8 115.2a2.15 2.15 0 1 0 4.3 0a2.15 2.15 0 1 0 -4.3 0M373.1 112.8a2.15 2.15 0 1 0 4.3 0a2.15 2.15 0 1 0 -4.3 0" fill="none" stroke="rgb(83, 126, 255)" stroke-width="0.85"/>
<path d="M383.4 121.3a2.15 2.15 0 1 0 4.3 0a2.15 2.15 0 1 0 -4.3 0M366.7 112.9a2.15 2.15 0 1 0 4.3 0a2.15 2.15 0 1 0 -4.3 0M365.9 110.4a2.15 2.15 0 1 0 4.3 0a2.15 2.15 0 1 0 -4.3 0M363.7 116.8a2.15 2.15 0 1 0 4.3 0a2.15 2.15 0 1 0 -4.3 0M377.1 113.6a2.15 2.15 0 1 0 4.3 0a2.15 2.15 0 1 0 -4.3 0M370.0 108.9a2.15 2.15 0 1 0 4.3 0a2.15 2.15 0 1 0 -4.3 0M375.3 114.9a2.15 2.15 0 1 0 4.3 0a2.15 2.15 0 1 0 -4.3 0M373.7 109.0a2.15 2.15 0 1 0 4.3 0a2.15 2.15 0 1 0 -4.3 0M364.7 94.7a2.15 2.15 0 1 0 4.3 0a2.15 2.15 0 1 0 -4.3 0M365.3 113.8a2.15 2.15 0 1 0 4.3 0a2.15 2.15 0 1 0 -4.3 0M374.5 114.9a2.15 2.15 0 1 0 4.3 0a2.15 2.15 0 1 0 -4.3 0M369.9 92.6a2.15 2.15 0 1 0 4.3 0a2.15 2.15 0 1 0 -4.3 0M405.9 113.5a2.15 2.15 0 1 0 4.3 0a2.15 2.15 0 1 0 -4.3 0M365.5 118.9a2.15 2.15 0 1 0 4.3 0a2.15 2.15 0 1 0 -4.3 0M376.5 121.0a2.15 2.15 0 1 0 4.3 0a2.15 2.15 0 1 0 -4.3 0M384.8 108.0a2.15 2.15 0 1 0 4.3 0a2.15 2.15 0 1 0 -4.3 0M385.3 123.0a2.15 2.15 0 1 0 4.3 0a2.15 2.15 0 1 0 -4.3 0M370.6 106.1a2.15 2.15 0 1 0 4.3 0a2.15 2.15 0 1 0 -4.3 0M376.4 108.2a2.15 2.15 0 1 0 4.3 0a2.15 2.15 0 1 0 -4.3 0M366.5 105.2a2.15 2.15 0 1 0 4.3 0a2.15 2.15 0 1 0 -4.3 0M378.2 125.4a2.15 2.15 0 1 0 4.3 0a2.15 2.15 0 1 0 -4.3 0M388.8 116.5a2.15 2.15 0 1 0 4.3 0a2.15 2.15 0 1 0 -4.3 0M370.4 103.6a2.15 2.15 0 1 0 4.3 0a2.15 2.15 0 1 0 -4.3 0M378.3 119.6a2.15 2.15 0 1 0 4.3 0a2.15 2.15 0 1 0 -4.3 0M369.5 111.8a2.15 2.15 0 1 0 4.3 0a2.15 2.15 0 1 0 -4.3 0M369.4 107.1a2.15 2.15 0 1 0 4.3 0a2.15 2.15 0 1 0 -4.3 0M377.1 116.5a2.15 2.15 0 1 0 4.3 0a2.15 2.15 0 1 0 -4.3 0M379.9 116.2a2.15 2.15 0 1 0 4.3 0a2.15 2.15 0 1 0 -4.3 0M370.5 91.5a2.15 2.15 0 1 0 4.3 0a2.15 2.15 0 1 0 -4.3 0M377.4 116.6a2.15 2.15 0 1 0 4.3 0a2.15 2.15 0 1 0 -4.3 0M382.3 113.7a2.15 2.15 0 1 0 4.3 0a2.15 2.15 0 1 0 -4.3 0M380.7 116.3a2.15 2.15 0 1 0 4.3 0a2.15 2.15 0 1 0 -4.3 0M363.1 109.1a2.15 2.15 0 1 0 4.3 0a2.15 2.15 0 1 0 -4.3 0M372.4 101.6a2.15 2.15 0 1 0 4.3 0a2.15 2.15 0 1 0 -4.3 0M383.9 115.3a2.15 2.15 0 1 0 4.3 0a2.15 2.15 0 1 0 -4.3 0M380.5 105.8a2.15 2.15 0 1 0 4.3 0a2.15 2.15 0 1 0 -4.3 0M407.6 118.8a2.15 2.15 0 1 0 4.3 0a2.15 2.15 0 1 0 -4.3 0M369.7 110.0a2.15 2.15 0 1 0 4.3 0a2.15 2.15 0 1 0 -4.3 0M370.1 101.7a2.15 2.15 0 1 0 4.3 0a2.15 2.15 0 1 0 -4.3 0M408.4 119.9a2.15 2.15 0 1 0 4.3 0a2.15 2.15 0 1 0 -4.3 0M371.9 121.5a2.15 2.15 0 1 0 4.3 0a2.15 2.15 0 1 0 -4.3 0M376.9 103.5a2.15 2.15 0 1 0 4.3 0a2.15 2.15 0 1 0 -4.3 0M371.6 111.3a2.15 2.15 0 1 0 4.3 0a2.15 2.15 0 1 0 -4.3 0M390.4 126.4a2.15 2.15 0 1 0 4.3 0a2.15 2.15 0 1 0 -4.3 0M373.2 107.4a2.15 2.15 0 1 0 4.3 0a2.15 2.15 0 1 0 -4.3 0M383.9 111.8a2.15 2.15 0 1 0 4.3 0a2.15 2.15 0 1 0 -4.3 0M374.7 121.8a2.15 2.15 0 1 0 4.3 0a2.15 2.15 0 1 0 -4.3 0" fill="none" stroke="rgb(95, 155, 255)" stroke-width="0.85"/>
<path d="M379.5 107.5a2.15 2.15 0 1 0 4.3 0a2.15 2.15 0 1 0 -4.3 0M383.7 115.4a2.15 2.15 0 1 0 4.3 0a2.15 2.15 0 1 0 -4.3 0M374.8 109.7a2.15 2.15 0 1 0 4.3 0a2.15 2.15 0 1 0 -4.3 0M366.7 114.4a2.15 2.15 0 1 0 4.3 0a2.15 2.15 0 1 0 -4.3 0M381.1 105.1a2.15 2.15 0 1 0 4.3 0a2.15 2.15 0 1 0 -4.3 0M379.9 105.0a2.15 2.15 0 1 0 4.3 0a2.15 2.15 0 1 0 -4.3 0M379.3 125.2a2.15 2.15 0 1 0 4.3 0a2.15 2.15 0 1 0 -4.3 0M411.0 124.2a2.15 2.15 0 1 0 4.3 0a2.15 2.15 0 1 0 -4.3 0M379.2 113.7a2.15 2.15 0 1 0 4.3 0a2.15 2.15 0 1 0 -4.3 0M408.6 114.0a2.15 2.15 0 1 0 4.3 0a2.15 2.15 0 1 0 -4.3 0M378.0 120.6a2.15 2.15 0 1 0 4.3 0a2.15 2.15 0 1 0 -4.3 0M376.2 108.5a2.15 2.15 0 1 0 4.3 0a2.15 2.15 0 1 0 -4.3 0M393.3 116.9a2.15 2.15 0 1 0 4.3 0a2.15 2.15 0 1 0 -4.3 0M395.5 117.9a2.15 2.15 0 1 0 4.3 0a2.15 2.15 0 1 0 -4.3 0M382.7 107.2a2.15 2.15 0 1 0 4.3 0a2.15 2.15 0 1 0 -4.3 0M381.0 104.9a2.15 2.15 0 1 0 4.3 0a2.15 2.15 0 1 0 -4.3 0M395.6 107.6a2.15 2.15 0 1 0 4.3 0a2.15 2.15 0 1 0 -4.3 0M375.3 95.3a2.15 2.15 0 1 0 4.3 0a2.15 2.15 0 1 0 -4.3 0M395.0 117.8a2.15 2.15 0 1 0 4.3 0a2.15 2.15 0 1 0 -4.3 0M378.4 88.5a2.15 2.15 0 1 0 4.3 0a2.15 2.15 0 1 0 -4.3 0M381.2 100.4a2.15 2.15 0 1 0 4.3 0a2.15 2.15 0 1 0 -4.3 0M404.5 119.1a2.15 2.15 0 1 0 4.3 0a2.15 2.15 0 1 0 -4.3 0M366.7 97.5a2.15 2.15 0 1 0 4.3 0a2.15 2.15 0 1 0 -4.3 0M370.6 102.2a2.15 2.15 0 1 0 4.3 0a2.15 2.15 0 1 0 -4.3 0M389.4 114.3a2.15 2.15 0 1 0 4.3 0a2.15 2.15 0 1 0 -4.3 0M399.9 118.7a2.15 2.15 0 1 0 4.3 0a2.15 2.15 0 1 0 -4.3 0M370.5 114.7a2.15 2.15 0 1 0 4.3 0a2.15 2.15 0 1 0 -4.3 0M373.1 86.3a2.15 2.15 0 1 0 4.3 0a2.15 2.15 0 1 0 -4.3 0M370.2 104.7a2.15 2.15 0 1 0 4.3 0a2.15 2.15 0 1 0 -4.3 0M375.7 101.9a2.15 2.15 0 1 0 4.3 0a2.15 2.15 0 1 0 -4.3 0M380.7 106.6a2.15 2.15 0 1 0 4.3 0a2.15 2.15 0 1 0 -4.3 0M377.3 101.2a2.15 2.15 0 1 0 4.3 0a2.15 2.15 0 1 0 -4.3 0M403.6 123.6a2.15 2.15 0 1 0 4.3 0a2.15 2.15 0 1 0 -4.3 0M373.2 114.8a2.15 2.15 0 1 0 4.3 0a2.15 2.15 0 1 0 -4.3 0M394.3 113.5a2.15 2.15 0 1 0 4.3 0a2.15 2.15 0 1 0 -4.3 0M413.4 115.5a2.15 2.15 0 1 0 4.3 0a2.15 2.15 0 1 0 -4.3 0M378.1 115.8a2.15 2.15 0 1 0 4.3 0a2.15 2.15 0 1 0 -4.3 0M386.1 122.4a2.15 2.15 0 1 0 4.3 0a2.15 2.15 0 1 0 -4.3 0M381.2 101.5a2.15 2.15 0 1 0 4.3 0a2.15 2.15 0 1 0 -4.3 0M381.3 118.0a2.15 2.15 0 1 0 4.3 0a2.15 2.15 0 1 0 -4.3 0" fill="none" stroke="rgb(105, 186, 255)" stroke-width="0.85"/>
<path d="M386.2 119.4a2.15 2.15 0 1 0 4.3 0a2.15 2.15 0 1 0 -4.3 0M381.9 118.5a2.15 2.15 0 1 0 4.3 0a2.15 2.15 0 1 0 -4.3 0M401.5 118.7a2.15 2.15 0 1 0 4.3 0a2.15 2.15 0 1 0 -4.3 0M379.6 99.8a2.15 2.15 0 1 0 4.3 0a2.15 2.15 0 1 0 -4.3 0M379.5 93.4a2.15 2.15 0 1 0 4.3 0a2.15 2.15 0 1 0 -4.3 0M382.5 104.7a2.15 2.15 0 1 0 4.3 0a2.15 2.15 0 1 0 -4.3 0M383.5 118.9a2.15 2.15 0 1 0 4.3 0a2.15 2.15 0 1 0 -4.3 0M383.3 95.9a2.15 2.15 0 1 0 4.3 0a2.15 2.15 0 1 0 -4.3 0M381.8 111.5a2.15 2.15 0 1 0 4.3 0a2.15 2.15 0 1 0 -4.3 0M378.1 90.3a2.15 2.15 0 1 0 4.3 0a2.15 2.15 0 1 0 -4.3 0M406.3 119.4a2.15 2.15 0 1 0 4.3 0a2.15 2.15 0 1 0 -4.3 0M382.5 97.7a2.15 2.15 0 1 0 4.3 0a2.15 2.15 0 1 0 -4.3 0M377.5 107.1a2.15 2.15 0 1 0 4.3 0a2.15 2.15 0 1 0 -4.3 0M400.9 115.0a2.15 2.15 0 1 0 4.3 0a2.15 2.15 0 1 0 -4.3 0M373.9 92.1a2.15 2.15 0 1 0 4.3 0a2.15 2.15 0 1 0 -4.3 0M385.0 117.4a2.15 2.15 0 1 0 4.3 0a2.15 2.15 0 1 0 -4.3 0M387.4 102.9a2.15 2.15 0 1 0 4.3 0a2.15 2.15 0 1 0 -4.3 0M376.0 100.5a2.15 2.15 0 1 0 4.3 0a2.15 2.15 0 1 0 -4.3 0M374.2 94.6a2.15 2.15 0 1 0 4.3 0a2.15 2.15 0 1 0 -4.3 0M384.2 100.9a2.15 2.15 0 1 0 4.3 0a2.15 2.15 0 1 0 -4.3 0M388.0 119.6a2.15 2.15 0 1 0 4.3 0a2.15 2.15 0 1 0 -4.3 0M384.2 98.2a2.15 2.15 0 1 0 4.3 0a2.15 2.15 0 1 0 -4.3 0M393.7 118.0a2.15 2.15 0 1 0 4.3 0a2.15 2.15 0 1 0 -4.3 0M388.2 96.4a2.15 2.15 0 1 0 4.3 0a2.15 2.15 0 1 0 -4.3 0M381.0 96.8a2.15 2.15 0 1 0 4.3 0a2.15 2.15 0 1 0 -4.3 0M385.6 107.7a2.15 2.15 0 1 0 4.3 0a2.15 2.15 0 1 0 -4.3 0M381.0 106.8a2.15 2.15 0 1 0 4.3 0a2.15 2.15 0 1 0 -4.3 0M389.9 110.6a2.15 2.15 0 1 0 4.3 0a2.15 2.15 0 1 0 -4.3 0M383.0 111.6a2.15 2.15 0 1 0 4.3 0a2.15 2.15 0 1 0 -4.3 0M387.7 108.0a2.15 2.15 0 1 0 4.3 0a2.15 2.15 0 1 0 -4.3 0M379.3 119.4a2.15 2.15 0 1 0 4.3 0a2.15 2.15 0 1 0 -4.3 0M387.9 93.4a2.15 2.15 0 1 0 4.3 0a2.15 2.15 0 1 0 -4.3 0M378.2 93.3a2.15 2.15 0 1 0 4.3 0a2.15 2.15 0 1 0 -4.3 0M380.0 100.2a2.15 2.15 0 1 0 4.3 0a2.15 2.15 0 1 0 -4.3 0M377.0 104.7a2.15 2.15 0 1 0 4.3 0a2.15 2.15 0 1 0 -4.3 0M388.2 111.5a2.15 2.15 0 1 0 4.3 0a2.15 2.15 0 1 0 -4.3 0M391.6 111.9a2.15 2.15 0 1 0 4.3 0a2.15 2.15 0 1 0 -4.3 0M376.5 101.4a2.15 2.15 0 1 0 4.3 0a2.15 2.15 0 1 0 -4.3 0M373.9 103.2a2.15 2.15 0 1 0 4.3 0a2.15 2.15 0 1 0 -4.3 0M387.1 110.3a2.15 2.15 0 1 0 4.3 0a2.15 2.15 0 1 0 -4.3 0M380.8 110.7a2.15 2.15 0 1 0 4.3 0a2.15 2.15 0 1 0 -4.3 0M382.3 115.8a2.15 2.15 0 1 0 4.3 0a2.15 2.15 0 1 0 -4.3 0M392.3 113.5a2.15 2.15 0 1 0 4.3 0a2.15 2.15 0 1 0 -4.3 0M400.6 114.4a2.15 2.15 0 1 0 4.3 0a2.15 2.15 0 1 0 -4.3 0M387.7 115.6a2.15 2.15 0 1 0 4.3 0a2.15 2.15 0 1 0 -4.3 0M375.3 100.1a2.15 2.15 0 1 0 4.3 0a2.15 2.15 0 1 0 -4.3 0M397.7 91.6a2.15 2.15 0 1 0 4.3 0a2.15 2.15 0 1 0 -4.3 0M395.1 105.1a2.15 2.15 0 1 0 4.3 0a2.15 2.15 0 1 0 -4.3 0M392.2 105.5a2.15 2.15 0 1 0 4.3 0a2.15 2.15 0 1 0 -4.3 0M387.3 95.8a2.15 2.15 0 1 0 4.3 0a2.15 2.15 0 1 0 -4.3 0M385.9 89.8a2.15 2.15 0 1 0 4.3 0a2.15 2.15 0 1 0 -4.3 0M391.1 111.1a2.15 2.15 0 1 0 4.3 0a2.15 2.15 0 1 0 -4.3 0M386.6 107.0a2.15 2.15 0 1 0 4.3 0a2.15 2.15 0 1 0 -4.3 0" fill="none" stroke="rgb(110, 213, 255)" stroke-width="0.85"/>
<path d="M391.4 99.1a2.15 2.15 0 1 0 4.3 0a2.15 2.15 0 1 0 -4.3 0M406.9 110.1a2.15 2.15 0 1 0 4.3 0a2.15 2.15 0 1 0 -4.3 0M384.8 100.9a2.15 2.15 0 1 0 4.3 0a2.15 2.15 0 1 0 -4.3 0M379.2 102.6a2.15 2.15 0 1 0 4.3 0a2.15 2.15 0 1 0 -4.3 0M398.7 96.0a2.15 2.15 0 1 0 4.3 0a2.15 2.15 0 1 0 -4.3 0M392.9 105.4a2.15 2.15 0 1 0 4.3 0a2.15 2.15 0 1 0 -4.3 0M384.3 97.9a2.15 2.15 0 1 0 4.3 0a2.15 2.15 0 1 0 -4.3 0M387.4 96.6a2.15 2.15 0 1 0 4.3 0a2.15 2.15 0 1 0 -4.3 0M382.6 88.9a2.15 2.15 0 1 0 4.3 0a2.15 2.15 0 1 0 -4.3 0M383.8 93.7a2.15 2.15 0 1 0 4.3 0a2.15 2.15 0 1 0 -4.3 0M384.5 98.6a2.15 2.15 0 1 0 4.3 0a2.15 2.15 0 1 0 -4.3 0M390.5 110.7a2.15 2.15 0 1 0 4.3 0a2.15 2.15 0 1 0 -4.3 0M391.3 112.4a2.15 2.15 0 1 0 4.3 0a2.15 2.15 0 1 0 -4.3 0M388.7 110.2a2.15 2.15 0 1 0 4.3 0a2.15 2.15 0 1 0 -4.3 0M391.7 99.2a2.15 2.15 0 1 0 4.3 0a2.15 2.15 0 1 0 -4.3 0M388.9 99.7a2.15 2.15 0 1 0 4.3 0a2.15 2.15 0 1 0 -4.3 0M379.8 93.5a2.15 2.15 0 1 0 4.3 0a2.15 2.15 0 1 0 -4.3 0M384.6 108.9a2.15 2.15 0 1 0 4.3 0a2.15 2.15 0 1 0 -4.3 0M396.2 110.0a2.15 2.15 0 1 0 4.3 0a2.15 2.15 0 1 0 -4.3 0M399.0 94.1a2.15 2.15 0 1 0 4.3 0a2.15 2.15 0 1 0 -4.3 0M388.2 99.8a2.15 2.15 0 1 0 4.3 0a2.15 2.15 0 1 0 -4.3 0M383.2 102.3a2.15 2.15 0 1 0 4.3 0a2.15 2.15 0 1 0 -4.3 0M382.2 89.8a2.15 2.15 0 1 0 4.3 0a2.15 2.15 0 1 0 -4.3 0M379.8 88.7a2.15 2.15 0 1 0 4.3 0a2.15 2.15 0 1 0 -4.3 0M389.0 89.4a2.15 2.15 0 1 0 4.3 0a2.15 2.15 0 1 0 -4.3 0M405.5 109.2a2.15 2.15 0 1 0 4.3 0a2.15 2.15 0 1 0 -4.3 0M393.0 102.2a2.15 2.15 0 1 0 4.3 0a2.15 2.15 0 1 0 -4.3 0M391.2 109.4a2.15 2.15 0 1 0 4.3 0a2.15 2.15 0 1 0 -4.3 0M393.2 97.0a2.15 2.15 0 1 0 4.3 0a2.15 2.15 0 1 0 -4.3 0M388.9 105.8a2.15 2.15 0 1 0 4.3 0a2.15 2.15 0 1 0 -4.3 0M387.5 89.4a2.15 2.15 0 1 0 4.3 0a2.15 2.15 0 1 0 -4.3 0M384.8 89.8a2.15 2.15 0 1 0 4.3 0a2.15 2.15 0 1 0 -4.3 0M390.1 102.5a2.15 2.15 0 1 0 4.3 0a2.15 2.15 0 1 0 -4.3 0M394.4 103.3a2.15 2.15 0 1 0 4.3 0a2.15 2.15 0 1 0 -4.3 0M390.0 87.7a2.15 2.15 0 1 0 4.3 0a2.15 2.15 0 1 0 -4.3 0M385.2 101.2a2.15 2.15 0 1 0 4.3 0a2.15 2.15 0 1 0 -4.3 0" fill="none" stroke="rgb(110, 237, 255)" stroke-width="0.85"/>
<path d="M391.1 105.6a2.15 2.15 0 1 0 4.3 0a2.15 2.15 0 1 0 -4.3 0M404.4 115.5a2.15 2.15 0 1 0 4.3 0a2.15 2.15 0 1 0 -4.3 0M387.9 88.7a2.15 2.15 0 1 0 4.3 0a2.15 2.15 0 1 0 -4.3 0M383.1 92.0a2.15 2.15 0 1 0 4.3 0a2.15 2.15 0 1 0 -4.3 0M386.9 104.5a2.15 2.15 0 1 0 4.3 0a2.15 2.15 0 1 0 -4.3 0M388.6 114.0a2.15 2.15 0 1 0 4.3 0a2.15 2.15 0 1 0 -4.3 0M388.1 93.8a2.15 2.15 0 1 0 4.3 0a2.15 2.15 0 1 0 -4.3 0M395.3 104.6a2.15 2.15 0 1 0 4.3 0a2.15 2.15 0 1 0 -4.3 0M389.7 104.2a2.15 2.15 0 1 0 4.3 0a2.15 2.15 0 1 0 -4.3 0M401.6 101.6a2.15 2.15 0 1 0 4.3 0a2.15 2.15 0 1 0 -4.3 0M385.2 94.8a2.15 2.15 0 1 0 4.3 0a2.15 2.15 0 1 0 -4.3 0M397.6 110.7a2.15 2.15 0 1 0 4.3 0a2.15 2.15 0 1 0 -4.3 0M388.6 92.2a2.15 2.15 0 1 0 4.3 0a2.15 2.15 0 1 0 -4.3 0M395.3 88.3a2.15 2.15 0 1 0 4.3 0a2.15 2.15 0 1 0 -4.3 0M399.8 106.4a2.15 2.15 0 1 0 4.3 0a2.15 2.15 0 1 0 -4.3 0M403.5 102.2a2.15 2.15 0 1 0 4.3 0a2.15 2.15 0 1 0 -4.3 0M400.4 101.1a2.15 2.15 0 1 0 4.3 0a2.15 2.15 0 1 0 -4.3 0M395.2 103.0a2.15 2.15 0 1 0 4.3 0a2.15 2.15 0 1 0 -4.3 0M392.4 102.8a2.15 2.15 0 1 0 4.3 0a2.15 2.15 0 1 0 -4.3 0M403.2 91.1a2.15 2.15 0 1 0 4.3 0a2.15 2.15 0 1 0 -4.3 0M401.5 98.8a2.15 2.15 0 1 0 4.3 0a2.15 2.15 0 1 0 -4.3 0M393.0 106.7a2.15 2.15 0 1 0 4.3 0a2.15 2.15 0 1 0 -4.3 0M396.0 94.2a2.15 2.15 0 1 0 4.3 0a2.15 2.15 0 1 0 -4.3 0M392.4 87.2a2.15 2.15 0 1 0 4.3 0a2.15 2.15 0 1 0 -4.3 0M398.8 101.7a2.15 2.15 0 1 0 4.3 0a2.15 2.15 0 1 0 -4.3 0M401.3 103.0a2.15 2.15 0 1 0 4.3 0a2.15 2.15 0 1 0 -4.3 0M374.9 89.1a2.15 2.15 0 1 0 4.3 0a2.15 2.15 0 1 0 -4.3 0M395.1 96.5a2.15 2.15 0 1 0 4.3 0a2.15 2.15 0 1 0 -4.3 0M392.0 96.6a2.15 2.15 0 1 0 4.3 0a2.15 2.15 0 1 0 -4.3 0M402.0 105.8a2.15 2.15 0 1 0 4.3 0a2.15 2.15 0 1 0 -4.3 0M392.5 90.8a2.15 2.15 0 1 0 4.3 0a2.15 2.15 0 1 0 -4.3 0M392.2 94.5a2.15 2.15 0 1 0 4.3 0a2.15 2.15 0 1 0 -4.3 0M392.1 101.1a2.15 2.15 0 1 0 4.3 0a2.15 2.15 0 1 0 -4.3 0M390.0 96.3a2.15 2.15 0 1 0 4.3 0a2.15 2.15 0 1 0 -4.3 0M386.7 97.6a2.15 2.15 0 1 0 4.3 0a2.15 2.15 0 1 0 -4.3 0M377.0 87.7a2.15 2.15 0 1 0 4.3 0a2.15 2.15 0 1 0 -4.3 0M396.1 96.1a2.15 2.15 0 1 0 4.3 0a2.15 2.15 0 1 0 -4.3 0M391.1 89.7a2.15 2.15 0 1 0 4.3 0a2.15 2.15 0 1 0 -4.3 0M398.5 94.5a2.15 2.15 0 1 0 4.3 0a2.15 2.15 0 1 0 -4.3 0M396.3 95.4a2.15 2.15 0 1 0 4.3 0a2.15 2.15 0 1 0 -4.3 0M387.2 95.3a2.15 2.15 0 1 0 4.3 0a2.15 2.15 0 1 0 -4.3 0" fill="none" stroke="rgb(120, 248, 241)" stroke-width="0.85"/>
<path d="M392.6 89.6a2.15 2.15 0 1 0 4.3 0a2.15 2.15 0 1 0 -4.3 0M394.5 90.7a2.15 2.15 0 1 0 4.3 0a2.15 2.15 0 1 0 -4.3 0M397.9 95.4a2.15 2.15 0 1 0 4.3 0a2.15 2.15 0 1 0 -4.3 0M390.4 94.3a2.15 2.15 0 1 0 4.3 0a2.15 2.15 0 1 0 -4.3 0M398.2 94.8a2.15 2.15 0 1 0 4.3 0a2.15 2.15 0 1 0 -4.3 0M387.0 84.4a2.15 2.15 0 1 0 4.3 0a2.15 2.15 0 1 0 -4.3 0M409.1 101.5a2.15 2.15 0 1 0 4.3 0a2.15 2.15 0 1 0 -4.3 0M378.1 86.3a2.15 2.15 0 1 0 4.3 0a2.15 2.15 0 1 0 -4.3 0M392.1 89.5a2.15 2.15 0 1 0 4.3 0a2.15 2.15 0 1 0 -4.3 0M384.7 81.2a2.15 2.15 0 1 0 4.3 0a2.15 2.15 0 1 0 -4.3 0M379.2 81.1a2.15 2.15 0 1 0 4.3 0a2.15 2.15 0 1 0 -4.3 0M390.2 93.6a2.15 2.15 0 1 0 4.3 0a2.15 2.15 0 1 0 -4.3 0M398.1 107.9a2.15 2.15 0 1 0 4.3 0a2.15 2.15 0 1 0 -4.3 0M404.7 108.2a2.15 2.15 0 1 0 4.3 0a2.15 2.15 0 1 0 -4.3 0M388.2 87.5a2.15 2.15 0 1 0 4.3 0a2.15 2.15 0 1 0 -4.3 0M401.9 103.9a2.15 2.15 0 1 0 4.3 0a2.15 2.15 0 1 0 -4.3 0M391.5 88.2a2.15 2.15 0 1 0 4.3 0a2.15 2.15 0 1 0 -4.3 0M406.7 90.2a2.15 2.15 0 1 0 4.3 0a2.15 2.15 0 1 0 -4.3 0M410.4 96.1a2.15 2.15 0 1 0 4.3 0a2.15 2.15 0 1 0 -4.3 0M393.4 93.0a2.15 2.15 0 1 0 4.3 0a2.15 2.15 0 1 0 -4.3 0M399.5 97.4a2.15 2.15 0 1 0 4.3 0a2.15 2.15 0 1 0 -4.3 0M400.1 83.5a2.15 2.15 0 1 0 4.3 0a2.15 2.15 0 1 0 -4.3 0M401.0 104.1a2.15 2.15 0 1 0 4.3 0a2.15 2.15 0 1 0 -4.3 0M395.6 91.4a2.15 2.15 0 1 0 4.3 0a2.15 2.15 0 1 0 -4.3 0M384.5 83.2a2.15 2.15 0 1 0 4.3 0a2.15 2.15 0 1 0 -4.3 0M400.4 105.7a2.15 2.15 0 1 0 4.3 0a2.15 2.15 0 1 0 -4.3 0M403.2 100.4a2.15 2.15 0 1 0 4.3 0a2.15 2.15 0 1 0 -4.3 0M403.4 95.9a2.15 2.15 0 1 0 4.3 0a2.15 2.15 0 1 0 -4.3 0M408.8 110.6a2.15 2.15 0 1 0 4.3 0a2.15 2.15 0 1 0 -4.3 0M397.9 100.9a2.15 2.15 0 1 0 4.3 0a2.15 2.15 0 1 0 -4.3 0M397.0 95.3a2.15 2.15 0 1 0 4.3 0a2.15 2.15 0 1 0 -4.3 0M404.4 92.6a2.15 2.15 0 1 0 4.3 0a2.15 2.15 0 1 0 -4.3 0M414.0 105.6a2.15 2.15 0 1 0 4.3 0a2.15 2.15 0 1 0 -4.3 0M403.9 96.5a2.15 2.15 0 1 0 4.3 0a2.15 2.15 0 1 0 -4.3 0M389.2 98.5a2.15 2.15 0 1 0 4.3 0a2.15 2.15 0 1 0 -4.3 0M415.4 103.9a2.15 2.15 0 1 0 4.3 0a2.15 2.15 0 1 0 -4.3 0M395.2 85.0a2.15 2.15 0 1 0 4.3 0a2.15 2.15 0 1 0 -4.3 0M402.5 91.8a2.15 2.15 0 1 0 4.3 0a2.15 2.15 0 1 0 -4.3 0M396.1 97.5a2.15 2.15 0 1 0 4.3 0a2.15 2.15 0 1 0 -4.3 0" fill="none" stroke="rgb(126, 254, 216)" stroke-width="0.85"/>
<path d="M391.1 84.9a2.15 2.15 0 1 0 4.3 0a2.15 2.15 0 1 0 -4.3 0M413.6 106.0a2.15 2.15 0 1 0 4.3 0a2.15 2.15 0 1 0 -4.3 0M396.4 101.4a2.15 2.15 0 1 0 4.3 0a2.15 2.15 0 1 0 -4.3 0M398.7 92.9a2.15 2.15 0 1 0 4.3 0a2.15 2.15 0 1 0 -4.3 0M378.8 82.8a2.15 2.15 0 1 0 4.3 0a2.15 2.15 0 1 0 -4.3 0M409.3 103.8a2.15 2.15 0 1 0 4.3 0a2.15 2.15 0 1 0 -4.3 0M389.6 86.8a2.15 2.15 0 1 0 4.3 0a2.15 2.15 0 1 0 -4.3 0M393.6 98.1a2.15 2.15 0 1 0 4.3 0a2.15 2.15 0 1 0 -4.3 0M404.6 106.2a2.15 2.15 0 1 0 4.3 0a2.15 2.15 0 1 0 -4.3 0M397.3 87.1a2.15 2.15 0 1 0 4.3 0a2.15 2.15 0 1 0 -4.3 0M397.0 92.5a2.15 2.15 0 1 0 4.3 0a2.15 2.15 0 1 0 -4.3 0M408.0 98.9a2.15 2.15 0 1 0 4.3 0a2.15 2.15 0 1 0 -4.3 0M404.4 104.2a2.15 2.15 0 1 0 4.3 0a2.15 2.15 0 1 0 -4.3 0M389.7 89.1a2.15 2.15 0 1 0 4.3 0a2.15 2.15 0 1 0 -4.3 0M402.2 89.2a2.15 2.15 0 1 0 4.3 0a2.15 2.15 0 1 0 -4.3 0M398.9 88.1a2.15 2.15 0 1 0 4.3 0a2.15 2.15 0 1 0 -4.3 0M382.7 81.6a2.15 2.15 0 1 0 4.3 0a2.15 2.15 0 1 0 -4.3 0M405.2 88.1a2.15 2.15 0 1 0 4.3 0a2.15 2.15 0 1 0 -4.3 0M395.2 92.9a2.15 2.15 0 1 0 4.3 0a2.15 2.15 0 1 0 -4.3 0M390.9 86.7a2.15 2.15 0 1 0 4.3 0a2.15 2.15 0 1 0 -4.3 0M386.9 85.2a2.15 2.15 0 1 0 4.3 0a2.15 2.15 0 1 0 -4.3 0M417.7 94.0a2.15 2.15 0 1 0 4.3 0a2.15 2.15 0 1 0 -4.3 0M417.1 93.6a2.15 2.15 0 1 0 4.3 0a2.15 2.15 0 1 0 -4.3 0M384.6 79.4a2.15 2.15 0 1 0 4.3 0a2.15 2.15 0 1 0 -4.3 0M412.6 106.1a2.15 2.15 0 1 0 4.3 0a2.15 2.15 0 1 0 -4.3 0M395.2 96.9a2.15 2.15 0 1 0 4.3 0a2.15 2.15 0 1 0 -4.3 0M396.9 88.0a2.15 2.15 0 1 0 4.3 0a2.15 2.15 0 1 0 -4.3 0M416.3 102.9a2.15 2.15 0 1 0 4.3 0a2.15 2.15 0 1 0 -4.3 0M410.5 94.1a2.15 2.15 0 1 0 4.3 0a2.15 2.15 0 1 0 -4.3 0M394.1 88.9a2.15 2.15 0 1 0 4.3 0a2.15 2.15 0 1 0 -4.3 0M395.5 81.4a2.15 2.15 0 1 0 4.3 0a2.15 2.15 0 1 0 -4.3 0M402.6 89.5a2.15 2.15 0 1 0 4.3 0a2.15 2.15 0 1 0 -4.3 0M400.1 99.8a2.15 2.15 0 1 0 4.3 0a2.15 2.15 0 1 0 -4.3 0M392.1 83.3a2.15 2.15 0 1 0 4.3 0a2.15 2.15 0 1 0 -4.3 0M413.7 94.2a2.15 2.15 0 1 0 4.3 0a2.15 2.15 0 1 0 -4.3 0M409.8 98.7a2.15 2.15 0 1 0 4.3 0a2.15 2.15 0 1 0 -4.3 0M396.9 86.4a2.15 2.15 0 1 0 4.3 0a2.15 2.15 0 1 0 -4.3 0M408.3 91.4a2.15 2.15 0 1 0 4.3 0a2.15 2.15 0 1 0 -4.3 0M402.3 86.4a2.15 2.15 0 1 0 4.3 0a2.15 2.15 0 1 0 -4.3 0M411.2 94.9a2.15 2.15 0 1 0 4.3 0a2.15 2.15 0 1 0 -4.3 0M392.8 85.2a2.15 2.15 0 1 0 4.3 0a2.15 2.15 0 1 0 -4.3 0M382.4 80.8a2.15 2.15 0 1 0 4.3 0a2.15 2.15 0 1 0 -4.3 0M396.9 91.8a2.15 2.15 0 1 0 4.3 0a2.15 2.15 0 1 0 -4.3 0M413.6 103.5a2.15 2.15 0 1 0 4.3 0a2.15 2.15 0 1 0 -4.3 0M402.5 89.6a2.15 2.15 0 1 0 4.3 0a2.15 2.15 0 1 0 -4.3 0" fill="none" stroke="rgb(113, 250, 153)" stroke-width="0.85"/>
<path d="M391.2 84.2a2.15 2.15 0 1 0 4.3 0a2.15 2.15 0 1 0 -4.3 0M407.0 86.5a2.15 2.15 0 1 0 4.3 0a2.15 2.15 0 1 0 -4.3 0M389.8 80.3a2.15 2.15 0 1 0 4.3 0a2.15 2.15 0 1 0 -4.3 0M418.6 94.4a2.15 2.15 0 1 0 4.3 0a2.15 2.15 0 1 0 -4.3 0M398.2 81.5a2.15 2.15 0 1 0 4.3 0a2.15 2.15 0 1 0 -4.3 0M409.2 90.4a2.15 2.15 0 1 0 4.3 0a2.15 2.15 0 1 0 -4.3 0M403.9 96.7a2.15 2.15 0 1 0 4.3 0a2.15 2.15 0 1 0 -4.3 0M413.0 106.6a2.15 2.15 0 1 0 4.3 0a2.15 2.15 0 1 0 -4.3 0M400.3 95.5a2.15 2.15 0 1 0 4.3 0a2.15 2.15 0 1 0 -4.3 0M409.8 98.2a2.15 2.15 0 1 0 4.3 0a2.15 2.15 0 1 0 -4.3 0M405.8 106.0a2.15 2.15 0 1 0 4.3 0a2.15 2.15 0 1 0 -4.3 0M392.9 80.4a2.15 2.15 0 1 0 4.3 0a2.15 2.15 0 1 0 -4.3 0M408.5 87.6a2.15 2.15 0 1 0 4.3 0a2.15 2.15 0 1 0 -4.3 0M407.2 90.7a2.15 2.15 0 1 0 4.3 0a2.15 2.15 0 1 0 -4.3 0M393.6 84.1a2.15 2.15 0 1 0 4.3 0a2.15 2.15 0 1 0 -4.3 0M412.2 103.7a2.15 2.15 0 1 0 4.3 0a2.15 2.15 0 1 0 -4.3 0M392.4 88.1a2.15 2.15 0 1 0 4.3 0a2.15 2.15 0 1 0 -4.3 0M402.7 81.9a2.15 2.15 0 1 0 4.3 0a2.15 2.15 0 1 0 -4.3 0M397.5 88.1a2.15 2.15 0 1 0 4.3 0a2.15 2.15 0 1 0 -4.3 0M409.7 95.4a2.15 2.15 0 1 0 4.3 0a2.15 2.15 0 1 0 -4.3 0M400.2 85.8a2.15 2.15 0 1 0 4.3 0a2.15 2.15 0 1 0 -4.3 0M403.8 84.7a2.15 2.15 0 1 0 4.3 0a2.15 2.15 0 1 0 -4.3 0M395.7 84.3a2.15 2.15 0 1 0 4.3 0a2.15 2.15 0 1 0 -4.3 0M384.9 78.6a2.15 2.15 0 1 0 4.3 0a2.15 2.15 0 1 0 -4.3 0M405.6 96.1a2.15 2.15 0 1 0 4.3 0a2.15 2.15 0 1 0 -4.3 0M396.8 89.3a2.15 2.15 0 1 0 4.3 0a2.15 2.15 0 1 0 -4.3 0M396.9 87.1a2.15 2.15 0 1 0 4.3 0a2.15 2.15 0 1 0 -4.3 0M395.8 94.5a2.15 2.15 0 1 0 4.3 0a2.15 2.15 0 1 0 -4.3 0M402.6 85.4a2.15 2.15 0 1 0 4.3 0a2.15 2.15 0 1 0 -4.3 0M407.9 84.2a2.15 2.15 0 1 0 4.3 0a2.15 2.15 0 1 0 -4.3 0" fill="none" stroke="rgb(96, 245, 93)" stroke-width="0.85"/>
<path d="M394.5 81.0a2.15 2.15 0 1 0 4.3 0a2.15 2.15 0 1 0 -4.3 0M410.5 89.5a2.15 2.15 0 1 0 4.3 0a2.15 2.15 0 1 0 -4.3 0M398.9 78.4a2.15 2.15 0 1 0 4.3 0a2.15 2.15 0 1 0 -4.3 0M414.6 83.0a2.15 2.15 0 1 0 4.3 0a2.15 2.15 0 1 0 -4.3 0M422.4 86.9a2.15 2.15 0 1 0 4.3 0a2.15 2.15 0 1 0 -4.3 0M403.0 82.9a2.15 2.15 0 1 0 4.3 0a2.15 2.15 0 1 0 -4.3 0M405.4 80.6a2.15 2.15 0 1 0 4.3 0a2.15 2.15 0 1 0 -4.3 0M419.8 86.7a2.15 2.15 0 1 0 4.3 0a2.15 2.15 0 1 0 -4.3 0M396.0 85.6a2.15 2.15 0 1 0 4.3 0a2.15 2.15 0 1 0 -4.3 0M419.4 91.9a2.15 2.15 0 1 0 4.3 0a2.15 2.15 0 1 0 -4.3 0M411.6 87.9a2.15 2.15 0 1 0 4.3 0a2.15 2.15 0 1 0 -4.3 0M409.0 87.0a2.15 2.15 0 1 0 4.3 0a2.15 2.15 0 1 0 -4.3 0M407.0 85.9a2.15 2.15 0 1 0 4.3 0a2.15 2.15 0 1 0 -4.3 0M418.2 86.6a2.15 2.15 0 1 0 4.3 0a2.15 2.15 0 1 0 -4.3 0M407.4 81.4a2.15 2.15 0 1 0 4.3 0a2.15 2.15 0 1 0 -4.3 0M421.3 86.2a2.15 2.15 0 1 0 4.3 0a2.15 2.15 0 1 0 -4.3 0M420.2 80.4a2.15 2.15 0 1 0 4.3 0a2.15 2.15 0 1 0 -4.3 0M406.3 80.4a2.15 2.15 0 1 0 4.3 0a2.15 2.15 0 1 0 -4.3 0M409.6 94.7a2.15 2.15 0 1 0 4.3 0a2.15 2.15 0 1 0 -4.3 0M424.1 90.6a2.15 2.15 0 1 0 4.3 0a2.15 2.15 0 1 0 -4.3 0" fill="none" stroke="rgb(84, 240, 40)" stroke-width="0.85"/>
<path d="M425.9 77.3a2.15 2.15 0 1 0 4.3 0a2.15 2.15 0 1 0 -4.3 0M416.6 87.3a2.15 2.15 0 1 0 4.3 0a2.15 2.15 0 1 0 -4.3 0M411.6 84.0a2.15 2.15 0 1 0 4.3 0a2.15 2.15 0 1 0 -4.3 0M385.3 78.1a2.15 2.15 0 1 0 4.3 0a2.15 2.15 0 1 0 -4.3 0M379.0 77.2a2.15 2.15 0 1 0 4.3 0a2.15 2.15 0 1 0 -4.3 0M402.2 83.0a2.15 2.15 0 1 0 4.3 0a2.15 2.15 0 1 0 -4.3 0M420.4 87.7a2.15 2.15 0 1 0 4.3 0a2.15 2.15 0 1 0 -4.3 0M400.3 82.0a2.15 2.15 0 1 0 4.3 0a2.15 2.15 0 1 0 -4.3 0M423.7 85.1a2.15 2.15 0 1 0 4.3 0a2.15 2.15 0 1 0 -4.3 0M422.8 85.8a2.15 2.15 0 1 0 4.3 0a2.15 2.15 0 1 0 -4.3 0M417.7 87.0a2.15 2.15 0 1 0 4.3 0a2.15 2.15 0 1 0 -4.3 0M421.3 87.0a2.15 2.15 0 1 0 4.3 0a2.15 2.15 0 1 0 -4.3 0M425.2 85.1a2.15 2.15 0 1 0 4.3 0a2.15 2.15 0 1 0 -4.3 0M397.3 77.2a2.15 2.15 0 1 0 4.3 0a2.15 2.15 0 1 0 -4.3 0M410.6 83.8a2.15 2.15 0 1 0 4.3 0a2.15 2.15 0 1 0 -4.3 0M401.0 80.9a2.15 2.15 0 1 0 4.3 0a2.15 2.15 0 1 0 -4.3 0M404.3 80.4a2.15 2.15 0 1 0 4.3 0a2.15 2.15 0 1 0 -4.3 0M397.9 78.6a2.15 2.15 0 1 0 4.3 0a2.15 2.15 0 1 0 -4.3 0M420.0 85.4a2.15 2.15 0 1 0 4.3 0a2.15 2.15 0 1 0 -4.3 0M402.7 80.5a2.15 2.15 0 1 0 4.3 0a2.15 2.15 0 1 0 -4.3 0M395.1 79.5a2.15 2.15 0 1 0 4.3 0a2.15 2.15 0 1 0 -4.3 0M393.4 80.0a2.15 2.15 0 1 0 4.3 0a2.15 2.15 0 1 0 -4.3 0M389.9 75.6a2.15 2.15 0 1 0 4.3 0a2.15 2.15 0 1 0 -4.3 0M401.6 77.9a2.15 2.15 0 1 0 4.3 0a2.15 2.15 0 1 0 -4.3 0M410.9 84.2a2.15 2.15 0 1 0 4.3 0a2.15 2.15 0 1 0 -4.3 0M420.6 82.6a2.15 2.15 0 1 0 4.3 0a2.15 2.15 0 1 0 -4.3 0M424.3 92.8a2.15 2.15 0 1 0 4.3 0a2.15 2.15 0 1 0 -4.3 0M400.2 75.3a2.15 2.15 0 1 0 4.3 0a2.15 2.15 0 1 0 -4.3 0M405.0 76.1a2.15 2.15 0 1 0 4.3 0a2.15 2.15 0 1 0 -4.3 0M395.5 75.9a2.15 2.15 0 1 0 4.3 0a2.15 2.15 0 1 0 -4.3 0" fill="none" stroke="rgb(125, 246, 40)" stroke-width="0.85"/>
<path d="M424.2 86.0a2.15 2.15 0 1 0 4.3 0a2.15 2.15 0 1 0 -4.3 0M411.2 79.0a2.15 2.15 0 1 0 4.3 0a2.15 2.15 0 1 0 -4.3 0M411.5 78.4a2.15 2.15 0 1 0 4.3 0a2.15 2.15 0 1 0 -4.3 0M410.9 85.1a2.15 2.15 0 1 0 4.3 0a2.15 2.15 0 1 0 -4.3 0M399.3 77.8a2.15 2.15 0 1 0 4.3 0a2.15 2.15 0 1 0 -4.3 0M397.2 77.0a2.15 2.15 0 1 0 4.3 0a2.15 2.15 0 1 0 -4.3 0M399.8 80.2a2.15 2.15 0 1 0 4.3 0a2.15 2.15 0 1 0 -4.3 0M421.8 80.9a2.15 2.15 0 1 0 4.3 0a2.15 2.15 0 1 0 -4.3 0M417.1 82.0a2.15 2.15 0 1 0 4.3 0a2.15 2.15 0 1 0 -4.3 0M410.6 77.6a2.15 2.15 0 1 0 4.3 0a2.15 2.15 0 1 0 -4.3 0M424.2 85.1a2.15 2.15 0 1 0 4.3 0a2.15 2.15 0 1 0 -4.3 0M413.2 88.2a2.15 2.15 0 1 0 4.3 0a2.15 2.15 0 1 0 -4.3 0M429.2 85.4a2.15 2.15 0 1 0 4.3 0a2.15 2.15 0 1 0 -4.3 0M401.2 75.6a2.15 2.15 0 1 0 4.3 0a2.15 2.15 0 1 0 -4.3 0M408.9 79.3a2.15 2.15 0 1 0 4.3 0a2.15 2.15 0 1 0 -4.3 0M382.4 73.9a2.15 2.15 0 1 0 4.3 0a2.15 2.15 0 1 0 -4.3 0M403.4 79.6a2.15 2.15 0 1 0 4.3 0a2.15 2.15 0 1 0 -4.3 0M383.4 72.9a2.15 2.15 0 1 0 4.3 0a2.15 2.15 0 1 0 -4.3 0M404.4 77.7a2.15 2.15 0 1 0 4.3 0a2.15 2.15 0 1 0 -4.3 0M392.9 75.8a2.15 2.15 0 1 0 4.3 0a2.15 2.15 0 1 0 -4.3 0M384.9 73.8a2.15 2.15 0 1 0 4.3 0a2.15 2.15 0 1 0 -4.3 0M422.9 85.3a2.15 2.15 0 1 0 4.3 0a2.15 2.15 0 1 0 -4.3 0M419.4 86.5a2.15 2.15 0 1 0 4.3 0a2.15 2.15 0 1 0 -4.3 0M417.6 82.1a2.15 2.15 0 1 0 4.3 0a2.15 2.15 0 1 0 -4.3 0M408.1 81.8a2.15 2.15 0 1 0 4.3 0a2.15 2.15 0 1 0 -4.3 0M402.7 77.5a2.15 2.15 0 1 0 4.3 0a2.15 2.15 0 1 0 -4.3 0M409.4 77.7a2.15 2.15 0 1 0 4.3 0a2.15 2.15 0 1 0 -4.3 0M416.1 80.1a2.15 2.15 0 1 0 4.3 0a2.15 2.15 0 1 0 -4.3 0" fill="none" stroke="rgb(167, 248, 44)" stroke-width="0.85"/>
<path d="M417.5 83.7a2.15 2.15 0 1 0 4.3 0a2.15 2.15 0 1 0 -4.3 0M409.8 76.2a2.15 2.15 0 1 0 4.3 0a2.15 2.15 0 1 0 -4.3 0M418.6 77.3a2.15 2.15 0 1 0 4.3 0a2.15 2.15 0 1 0 -4.3 0M383.9 71.4a2.15 2.15 0 1 0 4.3 0a2.15 2.15 0 1 0 -4.3 0M393.9 72.9a2.15 2.15 0 1 0 4.3 0a2.15 2.15 0 1 0 -4.3 0M395.5 73.1a2.15 2.15 0 1 0 4.3 0a2.15 2.15 0 1 0 -4.3 0M421.2 81.2a2.15 2.15 0 1 0 4.3 0a2.15 2.15 0 1 0 -4.3 0M397.9 75.3a2.15 2.15 0 1 0 4.3 0a2.15 2.15 0 1 0 -4.3 0M407.1 77.3a2.15 2.15 0 1 0 4.3 0a2.15 2.15 0 1 0 -4.3 0M410.1 80.5a2.15 2.15 0 1 0 4.3 0a2.15 2.15 0 1 0 -4.3 0M404.9 76.6a2.15 2.15 0 1 0 4.3 0a2.15 2.15 0 1 0 -4.3 0M416.7 77.5a2.15 2.15 0 1 0 4.3 0a2.15 2.15 0 1 0 -4.3 0M397.0 76.5a2.15 2.15 0 1 0 4.3 0a2.15 2.15 0 1 0 -4.3 0M412.5 77.7a2.15 2.15 0 1 0 4.3 0a2.15 2.15 0 1 0 -4.3 0M401.8 77.2a2.15 2.15 0 1 0 4.3 0a2.15 2.15 0 1 0 -4.3 0M416.4 77.2a2.15 2.15 0 1 0 4.3 0a2.15 2.15 0 1 0 -4.3 0M392.6 70.7a2.15 2.15 0 1 0 4.3 0a2.15 2.15 0 1 0 -4.3 0M401.8 70.2a2.15 2.15 0 1 0 4.3 0a2.15 2.15 0 1 0 -4.3 0M390.6 73.8a2.15 2.15 0 1 0 4.3 0a2.15 2.15 0 1 0 -4.3 0M398.3 79.6a2.15 2.15 0 1 0 4.3 0a2.15 2.15 0 1 0 -4.3 0M403.0 73.5a2.15 2.15 0 1 0 4.3 0a2.15 2.15 0 1 0 -4.3 0" fill="none" stroke="rgb(209, 245, 56)" stroke-width="0.85"/>
<path d="M400.2 74.2a2.15 2.15 0 1 0 4.3 0a2.15 2.15 0 1 0 -4.3 0M398.7 76.2a2.15 2.15 0 1 0 4.3 0a2.15 2.15 0 1 0 -4.3 0M408.6 74.4a2.15 2.15 0 1 0 4.3 0a2.15 2.15 0 1 0 -4.3 0M430.2 83.2a2.15 2.15 0 1 0 4.3 0a2.15 2.15 0 1 0 -4.3 0M412.7 81.8a2.15 2.15 0 1 0 4.3 0a2.15 2.15 0 1 0 -4.3 0M387.8 71.1a2.15 2.15 0 1 0 4.3 0a2.15 2.15 0 1 0 -4.3 0M408.9 74.4a2.15 2.15 0 1 0 4.3 0a2.15 2.15 0 1 0 -4.3 0M411.1 73.5a2.15 2.15 0 1 0 4.3 0a2.15 2.15 0 1 0 -4.3 0M385.0 73.6a2.15 2.15 0 1 0 4.3 0a2.15 2.15 0 1 0 -4.3 0M395.9 72.1a2.15 2.15 0 1 0 4.3 0a2.15 2.15 0 1 0 -4.3 0M411.1 77.4a2.15 2.15 0 1 0 4.3 0a2.15 2.15 0 1 0 -4.3 0M419.0 70.0a2.15 2.15 0 1 0 4.3 0a2.15 2.15 0 1 0 -4.3 0M414.7 75.4a2.15 2.15 0 1 0 4.3 0a2.15 2.15 0 1 0 -4.3 0M402.5 75.5a2.15 2.15 0 1 0 4.3 0a2.15 2.15 0 1 0 -4.3 0M408.8 76.3a2.15 2.15 0 1 0 4.3 0a2.15 2.15 0 1 0 -4.3 0M407.9 73.8a2.15 2.15 0 1 0 4.3 0a2.15 2.15 0 1 0 -4.3 0" fill="none" stroke="rgb(230, 227, 60)" stroke-width="0.85"/>
<path d="M393.8 70.7a2.15 2.15 0 1 0 4.3 0a2.15 2.15 0 1 0 -4.3 0M411.9 73.7a2.15 2.15 0 1 0 4.3 0a2.15 2.15 0 1 0 -4.3 0M419.5 74.2a2.15 2.15 0 1 0 4.3 0a2.15 2.15 0 1 0 -4.3 0M414.2 74.6a2.15 2.15 0 1 0 4.3 0a2.15 2.15 0 1 0 -4.3 0M432.1 76.0a2.15 2.15 0 1 0 4.3 0a2.15 2.15 0 1 0 -4.3 0M402.2 71.6a2.15 2.15 0 1 0 4.3 0a2.15 2.15 0 1 0 -4.3 0M397.6 73.4a2.15 2.15 0 1 0 4.3 0a2.15 2.15 0 1 0 -4.3 0M386.1 70.9a2.15 2.15 0 1 0 4.3 0a2.15 2.15 0 1 0 -4.3 0M398.1 68.8a2.15 2.15 0 1 0 4.3 0a2.15 2.15 0 1 0 -4.3 0M425.5 77.7a2.15 2.15 0 1 0 4.3 0a2.15 2.15 0 1 0 -4.3 0M430.1 78.3a2.15 2.15 0 1 0 4.3 0a2.15 2.15 0 1 0 -4.3 0M392.8 71.1a2.15 2.15 0 1 0 4.3 0a2.15 2.15 0 1 0 -4.3 0M410.4 76.7a2.15 2.15 0 1 0 4.3 0a2.15 2.15 0 1 0 -4.3 0M398.4 71.4a2.15 2.15 0 1 0 4.3 0a2.15 2.15 0 1 0 -4.3 0M413.2 70.6a2.15 2.15 0 1 0 4.3 0a2.15 2.15 0 1 0 -4.3 0M401.4 73.3a2.15 2.15 0 1 0 4.3 0a2.15 2.15 0 1 0 -4.3 0M416.7 71.4a2.15 2.15 0 1 0 4.3 0a2.15 2.15 0 1 0 -4.3 0M408.5 74.7a2.15 2.15 0 1 0 4.3 0a2.15 2.15 0 1 0 -4.3 0M427.1 74.1a2.15 2.15 0 1 0 4.3 0a2.15 2.15 0 1 0 -4.3 0M414.9 74.1a2.15 2.15 0 1 0 4.3 0a2.15 2.15 0 1 0 -4.3 0M404.9 69.6a2.15 2.15 0 1 0 4.3 0a2.15 2.15 0 1 0 -4.3 0M415.1 71.7a2.15 2.15 0 1 0 4.3 0a2.15 2.15 0 1 0 -4.3 0M401.2 71.8a2.15 2.15 0 1 0 4.3 0a2.15 2.15 0 1 0 -4.3 0M407.0 67.1a2.15 2.15 0 1 0 4.3 0a2.15 2.15 0 1 0 -4.3 0M403.0 74.3a2.15 2.15 0 1 0 4.3 0a2.15 2.15 0 1 0 -4.3 0M415.0 70.6a2.15 2.15 0 1 0 4.3 0a2.15 2.15 0 1 0 -4.3 0M411.7 72.8a2.15 2.15 0 1 0 4.3 0a2.15 2.15 0 1 0 -4.3 0M431.2 80.0a2.15 2.15 0 1 0 4.3 0a2.15 2.15 0 1 0 -4.3 0M410.1 69.9a2.15 2.15 0 1 0 4.3 0a2.15 2.15 0 1 0 -4.3 0M412.9 75.0a2.15 2.15 0 1 0 4.3 0a2.15 2.15 0 1 0 -4.3 0M397.6 70.0a2.15 2.15 0 1 0 4.3 0a2.15 2.15 0 1 0 -4.3 0M405.2 72.9a2.15 2.15 0 1 0 4.3 0a2.15 2.15 0 1 0 -4.3 0M424.3 74.9a2.15 2.15 0 1 0 4.3 0a2.15 2.15 0 1 0 -4.3 0M395.8 70.1a2.15 2.15 0 1 0 4.3 0a2.15 2.15 0 1 0 -4.3 0M407.7 72.6a2.15 2.15 0 1 0 4.3 0a2.15 2.15 0 1 0 -4.3 0" fill="none" stroke="rgb(238, 199, 56)" stroke-width="0.85"/>
<path d="M429.4 78.2a2.15 2.15 0 1 0 4.3 0a2.15 2.15 0 1 0 -4.3 0M388.0 71.7a2.15 2.15 0 1 0 4.3 0a2.15 2.15 0 1 0 -4.3 0M406.1 70.3a2.15 2.15 0 1 0 4.3 0a2.15 2.15 0 1 0 -4.3 0M414.2 71.2a2.15 2.15 0 1 0 4.3 0a2.15 2.15 0 1 0 -4.3 0M406.4 71.1a2.15 2.15 0 1 0 4.3 0a2.15 2.15 0 1 0 -4.3 0M407.8 66.1a2.15 2.15 0 1 0 4.3 0a2.15 2.15 0 1 0 -4.3 0M431.8 80.2a2.15 2.15 0 1 0 4.3 0a2.15 2.15 0 1 0 -4.3 0M403.2 70.2a2.15 2.15 0 1 0 4.3 0a2.15 2.15 0 1 0 -4.3 0M398.8 69.5a2.15 2.15 0 1 0 4.3 0a2.15 2.15 0 1 0 -4.3 0M420.0 75.2a2.15 2.15 0 1 0 4.3 0a2.15 2.15 0 1 0 -4.3 0M411.0 74.3a2.15 2.15 0 1 0 4.3 0a2.15 2.15 0 1 0 -4.3 0M403.9 71.7a2.15 2.15 0 1 0 4.3 0a2.15 2.15 0 1 0 -4.3 0M414.8 75.0a2.15 2.15 0 1 0 4.3 0a2.15 2.15 0 1 0 -4.3 0M399.6 71.1a2.15 2.15 0 1 0 4.3 0a2.15 2.15 0 1 0 -4.3 0M417.7 70.8a2.15 2.15 0 1 0 4.3 0a2.15 2.15 0 1 0 -4.3 0M409.1 73.3a2.15 2.15 0 1 0 4.3 0a2.15 2.15 0 1 0 -4.3 0M403.5 71.6a2.15 2.15 0 1 0 4.3 0a2.15 2.15 0 1 0 -4.3 0M414.8 68.2a2.15 2.15 0 1 0 4.3 0a2.15 2.15 0 1 0 -4.3 0M397.7 69.5a2.15 2.15 0 1 0 4.3 0a2.15 2.15 0 1 0 -4.3 0M407.6 68.5a2.15 2.15 0 1 0 4.3 0a2.15 2.15 0 1 0 -4.3 0M415.1 73.2a2.15 2.15 0 1 0 4.3 0a2.15 2.15 0 1 0 -4.3 0M417.2 72.6a2.15 2.15 0 1 0 4.3 0a2.15 2.15 0 1 0 -4.3 0M419.3 74.1a2.15 2.15 0 1 0 4.3 0a2.15 2.15 0 1 0 -4.3 0M417.7 67.9a2.15 2.15 0 1 0 4.3 0a2.15 2.15 0 1 0 -4.3 0M403.6 69.6a2.15 2.15 0 1 0 4.3 0a2.15 2.15 0 1 0 -4.3 0M415.5 73.8a2.15 2.15 0 1 0 4.3 0a2.15 2.15 0 1 0 -4.3 0M403.2 69.2a2.15 2.15 0 1 0 4.3 0a2.15 2.15 0 1 0 -4.3 0" fill="none" stroke="rgb(235, 164, 46)" stroke-width="0.85"/>
<path d="M418.9 73.4a2.15 2.15 0 1 0 4.3 0a2.15 2.15 0 1 0 -4.3 0M401.5 68.5a2.15 2.15 0 1 0 4.3 0a2.15 2.15 0 1 0 -4.3 0M391.6 75.8a2.15 2.15 0 1 0 4.3 0a2.15 2.15 0 1 0 -4.3 0M402.4 64.5a2.15 2.15 0 1 0 4.3 0a2.15 2.15 0 1 0 -4.3 0M415.8 69.1a2.15 2.15 0 1 0 4.3 0a2.15 2.15 0 1 0 -4.3 0M408.3 68.6a2.15 2.15 0 1 0 4.3 0a2.15 2.15 0 1 0 -4.3 0M400.0 66.0a2.15 2.15 0 1 0 4.3 0a2.15 2.15 0 1 0 -4.3 0M399.9 64.2a2.15 2.15 0 1 0 4.3 0a2.15 2.15 0 1 0 -4.3 0M404.1 71.0a2.15 2.15 0 1 0 4.3 0a2.15 2.15 0 1 0 -4.3 0M412.5 69.6a2.15 2.15 0 1 0 4.3 0a2.15 2.15 0 1 0 -4.3 0M399.4 70.7a2.15 2.15 0 1 0 4.3 0a2.15 2.15 0 1 0 -4.3 0M412.6 71.2a2.15 2.15 0 1 0 4.3 0a2.15 2.15 0 1 0 -4.3 0M427.7 68.0a2.15 2.15 0 1 0 4.3 0a2.15 2.15 0 1 0 -4.3 0M406.8 69.4a2.15 2.15 0 1 0 4.3 0a2.15 2.15 0 1 0 -4.3 0M415.9 70.3a2.15 2.15 0 1 0 4.3 0a2.15 2.15 0 1 0 -4.3 0M423.7 69.8a2.15 2.15 0 1 0 4.3 0a2.15 2.15 0 1 0 -4.3 0M407.5 69.0a2.15 2.15 0 1 0 4.3 0a2.15 2.15 0 1 0 -4.3 0M401.5 68.6a2.15 2.15 0 1 0 4.3 0a2.15 2.15 0 1 0 -4.3 0M402.8 67.5a2.15 2.15 0 1 0 4.3 0a2.15 2.15 0 1 0 -4.3 0M409.3 64.7a2.15 2.15 0 1 0 4.3 0a2.15 2.15 0 1 0 -4.3 0" fill="none" stroke="rgb(220, 124, 41)" stroke-width="0.85"/>
<path d="M419.9 67.7a2.15 2.15 0 1 0 4.3 0a2.15 2.15 0 1 0 -4.3 0M410.3 67.3a2.15 2.15 0 1 0 4.3 0a2.15 2.15 0 1 0 -4.3 0M428.4 65.3a2.15 2.15 0 1 0 4.3 0a2.15 2.15 0 1 0 -4.3 0M427.1 76.7a2.15 2.15 0 1 0 4.3 0a2.15 2.15 0 1 0 -4.3 0M401.0 67.2a2.15 2.15 0 1 0 4.3 0a2.15 2.15 0 1 0 -4.3 0M404.9 66.3a2.15 2.15 0 1 0 4.3 0a2.15 2.15 0 1 0 -4.3 0M424.4 63.6a2.15 2.15 0 1 0 4.3 0a2.15 2.15 0 1 0 -4.3 0M408.1 69.3a2.15 2.15 0 1 0 4.3 0a2.15 2.15 0 1 0 -4.3 0M428.4 68.3a2.15 2.15 0 1 0 4.3 0a2.15 2.15 0 1 0 -4.3 0M382.4 78.2a2.15 2.15 0 1 0 4.3 0a2.15 2.15 0 1 0 -4.3 0M383.3 79.0a2.15 2.15 0 1 0 4.3 0a2.15 2.15 0 1 0 -4.3 0M381.6 78.4a2.15 2.15 0 1 0 4.3 0a2.15 2.15 0 1 0 -4.3 0M378.5 76.9a2.15 2.15 0 1 0 4.3 0a2.15 2.15 0 1 0 -4.3 0M380.8 77.0a2.15 2.15 0 1 0 4.3 0a2.15 2.15 0 1 0 -4.3 0M425.1 71.0a2.15 2.15 0 1 0 4.3 0a2.15 2.15 0 1 0 -4.3 0M428.7 75.8a2.15 2.15 0 1 0 4.3 0a2.15 2.15 0 1 0 -4.3 0M431.7 77.5a2.15 2.15 0 1 0 4.3 0a2.15 2.15 0 1 0 -4.3 0" fill="none" stroke="rgb(235, 75, 33)" stroke-width="0.85"/>
<path d="M429.4 66.9a2.15 2.15 0 1 0 4.3 0a2.15 2.15 0 1 0 -4.3 0M381.9 77.0a2.15 2.15 0 1 0 4.3 0a2.15 2.15 0 1 0 -4.3 0M416.7 68.0a2.15 2.15 0 1 0 4.3 0a2.15 2.15 0 1 0 -4.3 0M382.4 79.1a2.15 2.15 0 1 0 4.3 0a2.15 2.15 0 1 0 -4.3 0M379.9 75.4a2.15 2.15 0 1 0 4.3 0a2.15 2.15 0 1 0 -4.3 0M396.1 73.2a2.15 2.15 0 1 0 4.3 0a2.15 2.15 0 1 0 -4.3 0M426.3 70.4a2.15 2.15 0 1 0 4.3 0a2.15 2.15 0 1 0 -4.3 0M430.5 70.4a2.15 2.15 0 1 0 4.3 0a2.15 2.15 0 1 0 -4.3 0M381.5 75.6a2.15 2.15 0 1 0 4.3 0a2.15 2.15 0 1 0 -4.3 0M424.8 68.2a2.15 2.15 0 1 0 4.3 0a2.15 2.15 0 1 0 -4.3 0M429.2 70.0a2.15 2.15 0 1 0 4.3 0a2.15 2.15 0 1 0 -4.3 0M418.6 68.4a2.15 2.15 0 1 0 4.3 0a2.15 2.15 0 1 0 -4.3 0M431.5 72.6a2.15 2.15 0 1 0 4.3 0a2.15 2.15 0 1 0 -4.3 0" fill="none" stroke="rgb(245, 42, 24)" stroke-width="0.85"/>
<line x1="336.8" y1="162.6" x2="433.9" y2="53.1" stroke="#f01e14" stroke-width="1.7"/>
</g>
<path d="M47 44H206V183" fill="none" stroke="#333" stroke-width="1.3"/>
<path d="M47 44V183H206" fill="none" stroke="#000" stroke-width="1.3" stroke-linecap="square"/>
<path d="M285 43.8H445.5V183.3" fill="none" stroke="#333" stroke-width="1.3"/>
<path d="M285 43.8V183.3H445.5" fill="none" stroke="#000" stroke-width="1.3" stroke-linecap="square"/>
<path d="M524.4 43.8H683.5V183.3" fill="none" stroke="#333" stroke-width="1.3"/>
<path d="M524.4 43.8V183.3H683.5" fill="none" stroke="#000" stroke-width="1.3" stroke-linecap="square"/>
<path d="M47 236.5H445V376.2" fill="none" stroke="#333" stroke-width="1.3"/>
<path d="M47 236.5V376.2H445" fill="none" stroke="#000" stroke-width="1.3" stroke-linecap="square"/>
<path d="M524.4 236.6H683.5V376.2" fill="none" stroke="#333" stroke-width="1.3"/>
<path d="M524.4 236.6V376.2H683.5" fill="none" stroke="#000" stroke-width="1.3" stroke-linecap="square"/>
<line x1="45.7" y1="182.6" x2="47" y2="182.6" stroke="#222" stroke-width="0.8" />
<line x1="45.7" y1="177.6" x2="47" y2="177.6" stroke="#222" stroke-width="0.8" />
<line x1="45.7" y1="173.7" x2="47" y2="173.7" stroke="#222" stroke-width="0.8" />
<line x1="45.7" y1="170.5" x2="47" y2="170.5" stroke="#222" stroke-width="0.8" />
<line x1="45.7" y1="167.8" x2="47" y2="167.8" stroke="#222" stroke-width="0.8" />
<line x1="45.7" y1="165.4" x2="47" y2="165.4" stroke="#222" stroke-width="0.8" />
<line x1="45.7" y1="163.3" x2="47" y2="163.3" stroke="#222" stroke-width="0.8" />
<line x1="44.5" y1="161.5" x2="47" y2="161.5" stroke="#222" stroke-width="0.8" />
<line x1="45.7" y1="149.3" x2="47" y2="149.3" stroke="#222" stroke-width="0.8" />
<line x1="45.7" y1="142.2" x2="47" y2="142.2" stroke="#222" stroke-width="0.8" />
<line x1="45.7" y1="137.2" x2="47" y2="137.2" stroke="#222" stroke-width="0.8" />
<line x1="45.7" y1="133.3" x2="47" y2="133.3" stroke="#222" stroke-width="0.8" />
<line x1="45.7" y1="130.1" x2="47" y2="130.1" stroke="#222" stroke-width="0.8" />
<line x1="45.7" y1="127.4" x2="47" y2="127.4" stroke="#222" stroke-width="0.8" />
<line x1="45.7" y1="125" x2="47" y2="125" stroke="#222" stroke-width="0.8" />
<line x1="45.7" y1="122.9" x2="47" y2="122.9" stroke="#222" stroke-width="0.8" />
<line x1="44.5" y1="121.1" x2="47" y2="121.1" stroke="#222" stroke-width="0.8" />
<line x1="45.7" y1="108.9" x2="47" y2="108.9" stroke="#222" stroke-width="0.8" />
<line x1="45.7" y1="101.8" x2="47" y2="101.8" stroke="#222" stroke-width="0.8" />
<line x1="45.7" y1="96.8" x2="47" y2="96.8" stroke="#222" stroke-width="0.8" />
<line x1="45.7" y1="92.9" x2="47" y2="92.9" stroke="#222" stroke-width="0.8" />
<line x1="45.7" y1="89.7" x2="47" y2="89.7" stroke="#222" stroke-width="0.8" />
<line x1="45.7" y1="87" x2="47" y2="87" stroke="#222" stroke-width="0.8" />
<line x1="45.7" y1="84.6" x2="47" y2="84.6" stroke="#222" stroke-width="0.8" />
<line x1="45.7" y1="82.5" x2="47" y2="82.5" stroke="#222" stroke-width="0.8" />
<line x1="44.5" y1="80.7" x2="47" y2="80.7" stroke="#222" stroke-width="0.8" />
<line x1="45.7" y1="68.5" x2="47" y2="68.5" stroke="#222" stroke-width="0.8" />
<line x1="45.7" y1="61.4" x2="47" y2="61.4" stroke="#222" stroke-width="0.8" />
<line x1="45.7" y1="56.4" x2="47" y2="56.4" stroke="#222" stroke-width="0.8" />
<line x1="45.7" y1="52.5" x2="47" y2="52.5" stroke="#222" stroke-width="0.8" />
<line x1="45.7" y1="49.3" x2="47" y2="49.3" stroke="#222" stroke-width="0.8" />
<line x1="45.7" y1="46.6" x2="47" y2="46.6" stroke="#222" stroke-width="0.8" />
<line x1="45.7" y1="44.2" x2="47" y2="44.2" stroke="#222" stroke-width="0.8" />
<line x1="47.4" y1="183" x2="47.4" y2="184.3" stroke="#222" stroke-width="0.8" />
<line x1="53.2" y1="183" x2="53.2" y2="184.3" stroke="#222" stroke-width="0.8" />
<line x1="57.7" y1="183" x2="57.7" y2="184.3" stroke="#222" stroke-width="0.8" />
<line x1="61.3" y1="183" x2="61.3" y2="184.3" stroke="#222" stroke-width="0.8" />
<line x1="64.4" y1="183" x2="64.4" y2="184.3" stroke="#222" stroke-width="0.8" />
<line x1="67" y1="183" x2="67" y2="184.3" stroke="#222" stroke-width="0.8" />
<line x1="69.4" y1="183" x2="69.4" y2="184.3" stroke="#222" stroke-width="0.8" />
<line x1="71.5" y1="183" x2="71.5" y2="185.5" stroke="#222" stroke-width="0.8" />
<line x1="85.3" y1="183" x2="85.3" y2="184.3" stroke="#222" stroke-width="0.8" />
<line x1="93.4" y1="183" x2="93.4" y2="184.3" stroke="#222" stroke-width="0.8" />
<line x1="99.2" y1="183" x2="99.2" y2="184.3" stroke="#222" stroke-width="0.8" />
<line x1="103.7" y1="183" x2="103.7" y2="184.3" stroke="#222" stroke-width="0.8" />
<line x1="107.3" y1="183" x2="107.3" y2="184.3" stroke="#222" stroke-width="0.8" />
<line x1="110.4" y1="183" x2="110.4" y2="184.3" stroke="#222" stroke-width="0.8" />
<line x1="113" y1="183" x2="113" y2="184.3" stroke="#222" stroke-width="0.8" />
<line x1="115.4" y1="183" x2="115.4" y2="184.3" stroke="#222" stroke-width="0.8" />
<line x1="117.5" y1="183" x2="117.5" y2="185.5" stroke="#222" stroke-width="0.8" />
<line x1="131.3" y1="183" x2="131.3" y2="184.3" stroke="#222" stroke-width="0.8" />
<line x1="139.4" y1="183" x2="139.4" y2="184.3" stroke="#222" stroke-width="0.8" />
<line x1="145.2" y1="183" x2="145.2" y2="184.3" stroke="#222" stroke-width="0.8" />
<line x1="149.7" y1="183" x2="149.7" y2="184.3" stroke="#222" stroke-width="0.8" />
<line x1="153.3" y1="183" x2="153.3" y2="184.3" stroke="#222" stroke-width="0.8" />
<line x1="156.4" y1="183" x2="156.4" y2="184.3" stroke="#222" stroke-width="0.8" />
<line x1="159" y1="183" x2="159" y2="184.3" stroke="#222" stroke-width="0.8" />
<line x1="161.4" y1="183" x2="161.4" y2="184.3" stroke="#222" stroke-width="0.8" />
<line x1="163.5" y1="183" x2="163.5" y2="185.5" stroke="#222" stroke-width="0.8" />
<line x1="177.3" y1="183" x2="177.3" y2="184.3" stroke="#222" stroke-width="0.8" />
<line x1="185.4" y1="183" x2="185.4" y2="184.3" stroke="#222" stroke-width="0.8" />
<line x1="191.2" y1="183" x2="191.2" y2="184.3" stroke="#222" stroke-width="0.8" />
<line x1="195.7" y1="183" x2="195.7" y2="184.3" stroke="#222" stroke-width="0.8" />
<line x1="199.3" y1="183" x2="199.3" y2="184.3" stroke="#222" stroke-width="0.8" />
<line x1="202.4" y1="183" x2="202.4" y2="184.3" stroke="#222" stroke-width="0.8" />
<line x1="205" y1="183" x2="205" y2="184.3" stroke="#222" stroke-width="0.8" />
<text x="43.5" y="166.3" font-size="13.5" text-anchor="end" fill="#000" >10<tspan font-size="9" dy="-5.5">5</tspan></text>
<text x="72" y="198.5" font-size="13.5" text-anchor="middle" fill="#000" >10<tspan font-size="9" dy="-5.5">5</tspan></text>
<text x="43.5" y="125.9" font-size="13.5" text-anchor="end" fill="#000" >10<tspan font-size="9" dy="-5.5">6</tspan></text>
<text x="118" y="198.5" font-size="13.5" text-anchor="middle" fill="#000" >10<tspan font-size="9" dy="-5.5">6</tspan></text>
<text x="43.5" y="85.5" font-size="13.5" text-anchor="end" fill="#000" >10<tspan font-size="9" dy="-5.5">7</tspan></text>
<text x="164" y="198.5" font-size="13.5" text-anchor="middle" fill="#000" >10<tspan font-size="9" dy="-5.5">7</tspan></text>
<text x="121.4" y="214.5" font-size="14.5" text-anchor="middle" fill="#000" >SA measurement</text>
<text transform="translate(20.5,112.6) rotate(-90)" font-size="14.8" text-anchor="middle" fill="#000">Estimation</text>
<text x="48.6" y="58" font-size="16" text-anchor="start" fill="#000" >(a)</text>
<text x="91.5" y="57" font-size="11" text-anchor="start" fill="#000" >R=0.87</text>
<text x="91.5" y="70.5" font-size="11" text-anchor="start" fill="#000" >RE=0.514</text>
<text x="51.5" y="156.3" font-size="12" text-anchor="start" fill="#000" >1:1</text>
<text x="134.6" y="162.8" font-size="11" text-anchor="start" fill="#e8141c" >Slope=1.26</text>
<text x="134.6" y="176.7" font-size="11" text-anchor="start" fill="#e8141c" >Intercept=-1.79</text>
<line x1="282.5" y1="183.3" x2="285" y2="183.3" stroke="#222" stroke-width="0.8" />
<line x1="283.7" y1="172.8" x2="285" y2="172.8" stroke="#222" stroke-width="0.8" />
<line x1="283.7" y1="166.6" x2="285" y2="166.6" stroke="#222" stroke-width="0.8" />
<line x1="283.7" y1="162.3" x2="285" y2="162.3" stroke="#222" stroke-width="0.8" />
<line x1="283.7" y1="158.9" x2="285" y2="158.9" stroke="#222" stroke-width="0.8" />
<line x1="283.7" y1="156.1" x2="285" y2="156.1" stroke="#222" stroke-width="0.8" />
<line x1="283.7" y1="153.8" x2="285" y2="153.8" stroke="#222" stroke-width="0.8" />
<line x1="283.7" y1="151.8" x2="285" y2="151.8" stroke="#222" stroke-width="0.8" />
<line x1="283.7" y1="150" x2="285" y2="150" stroke="#222" stroke-width="0.8" />
<line x1="282.5" y1="148.4" x2="285" y2="148.4" stroke="#222" stroke-width="0.8" />
<line x1="283.7" y1="137.9" x2="285" y2="137.9" stroke="#222" stroke-width="0.8" />
<line x1="283.7" y1="131.7" x2="285" y2="131.7" stroke="#222" stroke-width="0.8" />
<line x1="283.7" y1="127.4" x2="285" y2="127.4" stroke="#222" stroke-width="0.8" />
<line x1="283.7" y1="124" x2="285" y2="124" stroke="#222" stroke-width="0.8" />
<line x1="283.7" y1="121.2" x2="285" y2="121.2" stroke="#222" stroke-width="0.8" />
<line x1="283.7" y1="118.9" x2="285" y2="118.9" stroke="#222" stroke-width="0.8" />
<line x1="283.7" y1="116.9" x2="285" y2="116.9" stroke="#222" stroke-width="0.8" />
<line x1="283.7" y1="115.1" x2="285" y2="115.1" stroke="#222" stroke-width="0.8" />
<line x1="282.5" y1="113.5" x2="285" y2="113.5" stroke="#222" stroke-width="0.8" />
<line x1="283.7" y1="103" x2="285" y2="103" stroke="#222" stroke-width="0.8" />
<line x1="283.7" y1="96.8" x2="285" y2="96.8" stroke="#222" stroke-width="0.8" />
<line x1="283.7" y1="92.5" x2="285" y2="92.5" stroke="#222" stroke-width="0.8" />
<line x1="283.7" y1="89.1" x2="285" y2="89.1" stroke="#222" stroke-width="0.8" />
<line x1="283.7" y1="86.3" x2="285" y2="86.3" stroke="#222" stroke-width="0.8" />
<line x1="283.7" y1="84" x2="285" y2="84" stroke="#222" stroke-width="0.8" />
<line x1="283.7" y1="82" x2="285" y2="82" stroke="#222" stroke-width="0.8" />
<line x1="283.7" y1="80.2" x2="285" y2="80.2" stroke="#222" stroke-width="0.8" />
<line x1="282.5" y1="78.6" x2="285" y2="78.6" stroke="#222" stroke-width="0.8" />
<line x1="283.7" y1="68.1" x2="285" y2="68.1" stroke="#222" stroke-width="0.8" />
<line x1="283.7" y1="61.9" x2="285" y2="61.9" stroke="#222" stroke-width="0.8" />
<line x1="283.7" y1="57.6" x2="285" y2="57.6" stroke="#222" stroke-width="0.8" />
<line x1="283.7" y1="54.2" x2="285" y2="54.2" stroke="#222" stroke-width="0.8" />
<line x1="283.7" y1="51.4" x2="285" y2="51.4" stroke="#222" stroke-width="0.8" />
<line x1="283.7" y1="49.1" x2="285" y2="49.1" stroke="#222" stroke-width="0.8" />
<line x1="283.7" y1="47.1" x2="285" y2="47.1" stroke="#222" stroke-width="0.8" />
<line x1="283.7" y1="45.3" x2="285" y2="45.3" stroke="#222" stroke-width="0.8" />
<line x1="282.5" y1="43.7" x2="285" y2="43.7" stroke="#222" stroke-width="0.8" />
<line x1="285" y1="183.3" x2="285" y2="185.8" stroke="#222" stroke-width="0.8" />
<line x1="297.1" y1="183.3" x2="297.1" y2="184.6" stroke="#222" stroke-width="0.8" />
<line x1="304.1" y1="183.3" x2="304.1" y2="184.6" stroke="#222" stroke-width="0.8" />
<line x1="309.1" y1="183.3" x2="309.1" y2="184.6" stroke="#222" stroke-width="0.8" />
<line x1="313" y1="183.3" x2="313" y2="184.6" stroke="#222" stroke-width="0.8" />
<line x1="316.2" y1="183.3" x2="316.2" y2="184.6" stroke="#222" stroke-width="0.8" />
<line x1="318.9" y1="183.3" x2="318.9" y2="184.6" stroke="#222" stroke-width="0.8" />
<line x1="321.2" y1="183.3" x2="321.2" y2="184.6" stroke="#222" stroke-width="0.8" />
<line x1="323.3" y1="183.3" x2="323.3" y2="184.6" stroke="#222" stroke-width="0.8" />
<line x1="325.1" y1="183.3" x2="325.1" y2="185.8" stroke="#222" stroke-width="0.8" />
<line x1="337.2" y1="183.3" x2="337.2" y2="184.6" stroke="#222" stroke-width="0.8" />
<line x1="344.2" y1="183.3" x2="344.2" y2="184.6" stroke="#222" stroke-width="0.8" />
<line x1="349.2" y1="183.3" x2="349.2" y2="184.6" stroke="#222" stroke-width="0.8" />
<line x1="353.1" y1="183.3" x2="353.1" y2="184.6" stroke="#222" stroke-width="0.8" />
<line x1="356.3" y1="183.3" x2="356.3" y2="184.6" stroke="#222" stroke-width="0.8" />
<line x1="359" y1="183.3" x2="359" y2="184.6" stroke="#222" stroke-width="0.8" />
<line x1="361.3" y1="183.3" x2="361.3" y2="184.6" stroke="#222" stroke-width="0.8" />
<line x1="363.4" y1="183.3" x2="363.4" y2="184.6" stroke="#222" stroke-width="0.8" />
<line x1="365.2" y1="183.3" x2="365.2" y2="185.8" stroke="#222" stroke-width="0.8" />
<line x1="377.3" y1="183.3" x2="377.3" y2="184.6" stroke="#222" stroke-width="0.8" />
<line x1="384.3" y1="183.3" x2="384.3" y2="184.6" stroke="#222" stroke-width="0.8" />
<line x1="389.3" y1="183.3" x2="389.3" y2="184.6" stroke="#222" stroke-width="0.8" />
<line x1="393.2" y1="183.3" x2="393.2" y2="184.6" stroke="#222" stroke-width="0.8" />
<line x1="396.4" y1="183.3" x2="396.4" y2="184.6" stroke="#222" stroke-width="0.8" />
<line x1="399.1" y1="183.3" x2="399.1" y2="184.6" stroke="#222" stroke-width="0.8" />
<line x1="401.4" y1="183.3" x2="401.4" y2="184.6" stroke="#222" stroke-width="0.8" />
<line x1="403.5" y1="183.3" x2="403.5" y2="184.6" stroke="#222" stroke-width="0.8" />
<line x1="405.3" y1="183.3" x2="405.3" y2="185.8" stroke="#222" stroke-width="0.8" />
<line x1="417.4" y1="183.3" x2="417.4" y2="184.6" stroke="#222" stroke-width="0.8" />
<line x1="424.4" y1="183.3" x2="424.4" y2="184.6" stroke="#222" stroke-width="0.8" />
<line x1="429.4" y1="183.3" x2="429.4" y2="184.6" stroke="#222" stroke-width="0.8" />
<line x1="433.3" y1="183.3" x2="433.3" y2="184.6" stroke="#222" stroke-width="0.8" />
<line x1="436.5" y1="183.3" x2="436.5" y2="184.6" stroke="#222" stroke-width="0.8" />
<line x1="439.2" y1="183.3" x2="439.2" y2="184.6" stroke="#222" stroke-width="0.8" />
<line x1="441.5" y1="183.3" x2="441.5" y2="184.6" stroke="#222" stroke-width="0.8" />
<line x1="443.6" y1="183.3" x2="443.6" y2="184.6" stroke="#222" stroke-width="0.8" />
<line x1="445.4" y1="183.3" x2="445.4" y2="185.8" stroke="#222" stroke-width="0.8" />
<line x1="443.3" y1="183.3" x2="445.5" y2="183.3" stroke="#222" stroke-width="0.8" />
<line x1="444.3" y1="172.8" x2="445.5" y2="172.8" stroke="#222" stroke-width="0.8" />
<line x1="444.3" y1="166.6" x2="445.5" y2="166.6" stroke="#222" stroke-width="0.8" />
<line x1="444.3" y1="162.3" x2="445.5" y2="162.3" stroke="#222" stroke-width="0.8" />
<line x1="444.3" y1="158.9" x2="445.5" y2="158.9" stroke="#222" stroke-width="0.8" />
<line x1="444.3" y1="156.1" x2="445.5" y2="156.1" stroke="#222" stroke-width="0.8" />
<line x1="444.3" y1="153.8" x2="445.5" y2="153.8" stroke="#222" stroke-width="0.8" />
<line x1="444.3" y1="151.8" x2="445.5" y2="151.8" stroke="#222" stroke-width="0.8" />
<line x1="444.3" y1="150" x2="445.5" y2="150" stroke="#222" stroke-width="0.8" />
<line x1="443.3" y1="148.4" x2="445.5" y2="148.4" stroke="#222" stroke-width="0.8" />
<line x1="444.3" y1="137.9" x2="445.5" y2="137.9" stroke="#222" stroke-width="0.8" />
<line x1="444.3" y1="131.7" x2="445.5" y2="131.7" stroke="#222" stroke-width="0.8" />
<line x1="444.3" y1="127.4" x2="445.5" y2="127.4" stroke="#222" stroke-width="0.8" />
<line x1="444.3" y1="124" x2="445.5" y2="124" stroke="#222" stroke-width="0.8" />
<line x1="444.3" y1="121.2" x2="445.5" y2="121.2" stroke="#222" stroke-width="0.8" />
<line x1="444.3" y1="118.9" x2="445.5" y2="118.9" stroke="#222" stroke-width="0.8" />
<line x1="444.3" y1="116.9" x2="445.5" y2="116.9" stroke="#222" stroke-width="0.8" />
<line x1="444.3" y1="115.1" x2="445.5" y2="115.1" stroke="#222" stroke-width="0.8" />
<line x1="443.3" y1="113.5" x2="445.5" y2="113.5" stroke="#222" stroke-width="0.8" />
<line x1="444.3" y1="103" x2="445.5" y2="103" stroke="#222" stroke-width="0.8" />
<line x1="444.3" y1="96.8" x2="445.5" y2="96.8" stroke="#222" stroke-width="0.8" />
<line x1="444.3" y1="92.5" x2="445.5" y2="92.5" stroke="#222" stroke-width="0.8" />
<line x1="444.3" y1="89.1" x2="445.5" y2="89.1" stroke="#222" stroke-width="0.8" />
<line x1="444.3" y1="86.3" x2="445.5" y2="86.3" stroke="#222" stroke-width="0.8" />
<line x1="444.3" y1="84" x2="445.5" y2="84" stroke="#222" stroke-width="0.8" />
<line x1="444.3" y1="82" x2="445.5" y2="82" stroke="#222" stroke-width="0.8" />
<line x1="444.3" y1="80.2" x2="445.5" y2="80.2" stroke="#222" stroke-width="0.8" />
<line x1="443.3" y1="78.6" x2="445.5" y2="78.6" stroke="#222" stroke-width="0.8" />
<line x1="444.3" y1="68.1" x2="445.5" y2="68.1" stroke="#222" stroke-width="0.8" />
<line x1="444.3" y1="61.9" x2="445.5" y2="61.9" stroke="#222" stroke-width="0.8" />
<line x1="444.3" y1="57.6" x2="445.5" y2="57.6" stroke="#222" stroke-width="0.8" />
<line x1="444.3" y1="54.2" x2="445.5" y2="54.2" stroke="#222" stroke-width="0.8" />
<line x1="444.3" y1="51.4" x2="445.5" y2="51.4" stroke="#222" stroke-width="0.8" />
<line x1="444.3" y1="49.1" x2="445.5" y2="49.1" stroke="#222" stroke-width="0.8" />
<line x1="444.3" y1="47.1" x2="445.5" y2="47.1" stroke="#222" stroke-width="0.8" />
<line x1="444.3" y1="45.3" x2="445.5" y2="45.3" stroke="#222" stroke-width="0.8" />
<line x1="443.3" y1="43.7" x2="445.5" y2="43.7" stroke="#222" stroke-width="0.8" />
<line x1="285" y1="43.8" x2="285" y2="46" stroke="#222" stroke-width="0.8" />
<line x1="297.1" y1="43.8" x2="297.1" y2="45" stroke="#222" stroke-width="0.8" />
<line x1="304.1" y1="43.8" x2="304.1" y2="45" stroke="#222" stroke-width="0.8" />
<line x1="309.1" y1="43.8" x2="309.1" y2="45" stroke="#222" stroke-width="0.8" />
<line x1="313" y1="43.8" x2="313" y2="45" stroke="#222" stroke-width="0.8" />
<line x1="316.2" y1="43.8" x2="316.2" y2="45" stroke="#222" stroke-width="0.8" />
<line x1="318.9" y1="43.8" x2="318.9" y2="45" stroke="#222" stroke-width="0.8" />
<line x1="321.2" y1="43.8" x2="321.2" y2="45" stroke="#222" stroke-width="0.8" />
<line x1="323.3" y1="43.8" x2="323.3" y2="45" stroke="#222" stroke-width="0.8" />
<line x1="325.1" y1="43.8" x2="325.1" y2="46" stroke="#222" stroke-width="0.8" />
<line x1="337.2" y1="43.8" x2="337.2" y2="45" stroke="#222" stroke-width="0.8" />
<line x1="344.2" y1="43.8" x2="344.2" y2="45" stroke="#222" stroke-width="0.8" />
<line x1="349.2" y1="43.8" x2="349.2" y2="45" stroke="#222" stroke-width="0.8" />
<line x1="353.1" y1="43.8" x2="353.1" y2="45" stroke="#222" stroke-width="0.8" />
<line x1="356.3" y1="43.8" x2="356.3" y2="45" stroke="#222" stroke-width="0.8" />
<line x1="359" y1="43.8" x2="359" y2="45" stroke="#222" stroke-width="0.8" />
<line x1="361.3" y1="43.8" x2="361.3" y2="45" stroke="#222" stroke-width="0.8" />
<line x1="363.4" y1="43.8" x2="363.4" y2="45" stroke="#222" stroke-width="0.8" />
<line x1="365.2" y1="43.8" x2="365.2" y2="46" stroke="#222" stroke-width="0.8" />
<line x1="377.3" y1="43.8" x2="377.3" y2="45" stroke="#222" stroke-width="0.8" />
<line x1="384.3" y1="43.8" x2="384.3" y2="45" stroke="#222" stroke-width="0.8" />
<line x1="389.3" y1="43.8" x2="389.3" y2="45" stroke="#222" stroke-width="0.8" />
<line x1="393.2" y1="43.8" x2="393.2" y2="45" stroke="#222" stroke-width="0.8" />
<line x1="396.4" y1="43.8" x2="396.4" y2="45" stroke="#222" stroke-width="0.8" />
<line x1="399.1" y1="43.8" x2="399.1" y2="45" stroke="#222" stroke-width="0.8" />
<line x1="401.4" y1="43.8" x2="401.4" y2="45" stroke="#222" stroke-width="0.8" />
<line x1="403.5" y1="43.8" x2="403.5" y2="45" stroke="#222" stroke-width="0.8" />
<line x1="405.3" y1="43.8" x2="405.3" y2="46" stroke="#222" stroke-width="0.8" />
<line x1="417.4" y1="43.8" x2="417.4" y2="45" stroke="#222" stroke-width="0.8" />
<line x1="424.4" y1="43.8" x2="424.4" y2="45" stroke="#222" stroke-width="0.8" />
<line x1="429.4" y1="43.8" x2="429.4" y2="45" stroke="#222" stroke-width="0.8" />
<line x1="433.3" y1="43.8" x2="433.3" y2="45" stroke="#222" stroke-width="0.8" />
<line x1="436.5" y1="43.8" x2="436.5" y2="45" stroke="#222" stroke-width="0.8" />
<line x1="439.2" y1="43.8" x2="439.2" y2="45" stroke="#222" stroke-width="0.8" />
<line x1="441.5" y1="43.8" x2="441.5" y2="45" stroke="#222" stroke-width="0.8" />
<line x1="443.6" y1="43.8" x2="443.6" y2="45" stroke="#222" stroke-width="0.8" />
<line x1="445.4" y1="43.8" x2="445.4" y2="46" stroke="#222" stroke-width="0.8" />
<text x="282.5" y="188.1" font-size="13.5" text-anchor="end" fill="#000" >10<tspan font-size="9" dy="-5.5">4</tspan></text>
<text x="285.5" y="199" font-size="13.5" text-anchor="middle" fill="#000" >10<tspan font-size="9" dy="-5.5">4</tspan></text>
<text x="282.5" y="153.2" font-size="13.5" text-anchor="end" fill="#000" >10<tspan font-size="9" dy="-5.5">5</tspan></text>
<text x="325.6" y="199" font-size="13.5" text-anchor="middle" fill="#000" >10<tspan font-size="9" dy="-5.5">5</tspan></text>
<text x="282.5" y="118.3" font-size="13.5" text-anchor="end" fill="#000" >10<tspan font-size="9" dy="-5.5">6</tspan></text>
<text x="365.7" y="199" font-size="13.5" text-anchor="middle" fill="#000" >10<tspan font-size="9" dy="-5.5">6</tspan></text>
<text x="282.5" y="83.4" font-size="13.5" text-anchor="end" fill="#000" >10<tspan font-size="9" dy="-5.5">7</tspan></text>
<text x="405.8" y="199" font-size="13.5" text-anchor="middle" fill="#000" >10<tspan font-size="9" dy="-5.5">7</tspan></text>
<text x="282.5" y="48.5" font-size="13.5" text-anchor="end" fill="#000" >10<tspan font-size="9" dy="-5.5">8</tspan></text>
<text x="445.9" y="199" font-size="13.5" text-anchor="middle" fill="#000" >10<tspan font-size="9" dy="-5.5">8</tspan></text>
<text x="360.4" y="215.6" font-size="14.6" text-anchor="middle" fill="#000" >SA measurement</text>
<text transform="translate(246.8,113) rotate(-90)" font-size="15" text-anchor="middle" fill="#000">Simulated SA from M<tspan font-size="9.5" dy="3.5">0</tspan></text>
<text x="288" y="59.7" font-size="16" text-anchor="start" fill="#000" >(b)</text>
<text x="333.6" y="60.5" font-size="11" text-anchor="start" fill="#000" >R=0.89</text>
<text x="333.6" y="74.5" font-size="11" text-anchor="start" fill="#000" >RE=0.62</text>
<text x="288.3" y="159.3" font-size="11.6" text-anchor="start" fill="#000" >1:1</text>
<text x="373" y="163" font-size="11" text-anchor="start" fill="#e8141c" >Slope=1.29</text>
<text x="373" y="177" font-size="11" text-anchor="start" fill="#e8141c" >Intercept=-2.28</text>
<line x1="523.1" y1="182.9" x2="524.4" y2="182.9" stroke="#222" stroke-width="0.8" />
<line x1="523.1" y1="178.2" x2="524.4" y2="178.2" stroke="#222" stroke-width="0.8" />
<line x1="523.1" y1="174.4" x2="524.4" y2="174.4" stroke="#222" stroke-width="0.8" />
<line x1="523.1" y1="171.2" x2="524.4" y2="171.2" stroke="#222" stroke-width="0.8" />
<line x1="523.1" y1="168.4" x2="524.4" y2="168.4" stroke="#222" stroke-width="0.8" />
<line x1="523.1" y1="165.9" x2="524.4" y2="165.9" stroke="#222" stroke-width="0.8" />
<line x1="521.9" y1="163.7" x2="524.4" y2="163.7" stroke="#222" stroke-width="0.8" />
<line x1="523.1" y1="149.2" x2="524.4" y2="149.2" stroke="#222" stroke-width="0.8" />
<line x1="523.1" y1="140.7" x2="524.4" y2="140.7" stroke="#222" stroke-width="0.8" />
<line x1="523.1" y1="134.7" x2="524.4" y2="134.7" stroke="#222" stroke-width="0.8" />
<line x1="523.1" y1="130" x2="524.4" y2="130" stroke="#222" stroke-width="0.8" />
<line x1="523.1" y1="126.2" x2="524.4" y2="126.2" stroke="#222" stroke-width="0.8" />
<line x1="523.1" y1="123" x2="524.4" y2="123" stroke="#222" stroke-width="0.8" />
<line x1="523.1" y1="120.2" x2="524.4" y2="120.2" stroke="#222" stroke-width="0.8" />
<line x1="523.1" y1="117.7" x2="524.4" y2="117.7" stroke="#222" stroke-width="0.8" />
<line x1="521.9" y1="115.5" x2="524.4" y2="115.5" stroke="#222" stroke-width="0.8" />
<line x1="523.1" y1="101" x2="524.4" y2="101" stroke="#222" stroke-width="0.8" />
<line x1="523.1" y1="92.5" x2="524.4" y2="92.5" stroke="#222" stroke-width="0.8" />
<line x1="523.1" y1="86.5" x2="524.4" y2="86.5" stroke="#222" stroke-width="0.8" />
<line x1="523.1" y1="81.8" x2="524.4" y2="81.8" stroke="#222" stroke-width="0.8" />
<line x1="523.1" y1="78" x2="524.4" y2="78" stroke="#222" stroke-width="0.8" />
<line x1="523.1" y1="74.8" x2="524.4" y2="74.8" stroke="#222" stroke-width="0.8" />
<line x1="523.1" y1="72" x2="524.4" y2="72" stroke="#222" stroke-width="0.8" />
<line x1="523.1" y1="69.5" x2="524.4" y2="69.5" stroke="#222" stroke-width="0.8" />
<line x1="521.9" y1="67.3" x2="524.4" y2="67.3" stroke="#222" stroke-width="0.8" />
<line x1="523.1" y1="52.8" x2="524.4" y2="52.8" stroke="#222" stroke-width="0.8" />
<line x1="523.1" y1="44.3" x2="524.4" y2="44.3" stroke="#222" stroke-width="0.8" />
<text x="521.5" y="168.5" font-size="13.5" text-anchor="end" fill="#000" >10<tspan font-size="9" dy="-5.5">5</tspan></text>
<text x="521.5" y="120.3" font-size="13.5" text-anchor="end" fill="#000" >10<tspan font-size="9" dy="-5.5">6</tspan></text>
<text x="521.5" y="72.1" font-size="13.5" text-anchor="end" fill="#000" >10<tspan font-size="9" dy="-5.5">7</tspan></text>
<line x1="524.4" y1="183.3" x2="524.4" y2="185.8" stroke="#222" stroke-width="0.8" />
<text x="524.4" y="197.5" font-size="13.5" text-anchor="middle" fill="#000" >0</text>
<line x1="565.9" y1="183.3" x2="565.9" y2="185.8" stroke="#222" stroke-width="0.8" />
<text x="565.9" y="197.5" font-size="13.5" text-anchor="middle" fill="#000" >6</text>
<line x1="607.3" y1="183.3" x2="607.3" y2="185.8" stroke="#222" stroke-width="0.8" />
<text x="607.3" y="197.5" font-size="13.5" text-anchor="middle" fill="#000" >12</text>
<line x1="648.8" y1="183.3" x2="648.8" y2="185.8" stroke="#222" stroke-width="0.8" />
<text x="648.8" y="197.5" font-size="13.5" text-anchor="middle" fill="#000" >18</text>
<line x1="545.1" y1="183.3" x2="545.1" y2="184.6" stroke="#222" stroke-width="0.8" />
<line x1="586.6" y1="183.3" x2="586.6" y2="184.6" stroke="#222" stroke-width="0.8" />
<line x1="628" y1="183.3" x2="628" y2="184.6" stroke="#222" stroke-width="0.8" />
<line x1="669.5" y1="183.3" x2="669.5" y2="184.6" stroke="#222" stroke-width="0.8" />
<text x="604.5" y="216.5" font-size="14.5" text-anchor="middle" fill="#000" >Local hour</text>
<text transform="translate(499.5,112.5) rotate(-90)" font-size="14.5" text-anchor="middle" fill="#000">OH radical</text>
<text x="527.3" y="61.3" font-size="16" text-anchor="start" fill="#000" >(c)</text>
<line x1="42" y1="376.2" x2="47" y2="376.2" stroke="#222" stroke-width="0.8" />
<line x1="44.5" y1="362.2" x2="47" y2="362.2" stroke="#222" stroke-width="0.8" />
<line x1="44.5" y1="354" x2="47" y2="354" stroke="#222" stroke-width="0.8" />
<line x1="44.5" y1="348.2" x2="47" y2="348.2" stroke="#222" stroke-width="0.8" />
<line x1="44.5" y1="343.6" x2="47" y2="343.6" stroke="#222" stroke-width="0.8" />
<line x1="44.5" y1="340" x2="47" y2="340" stroke="#222" stroke-width="0.8" />
<line x1="44.5" y1="336.8" x2="47" y2="336.8" stroke="#222" stroke-width="0.8" />
<line x1="44.5" y1="334.1" x2="47" y2="334.1" stroke="#222" stroke-width="0.8" />
<line x1="44.5" y1="331.8" x2="47" y2="331.8" stroke="#222" stroke-width="0.8" />
<line x1="42" y1="329.6" x2="47" y2="329.6" stroke="#222" stroke-width="0.8" />
<line x1="44.5" y1="315.6" x2="47" y2="315.6" stroke="#222" stroke-width="0.8" />
<line x1="44.5" y1="307.4" x2="47" y2="307.4" stroke="#222" stroke-width="0.8" />
<line x1="44.5" y1="301.6" x2="47" y2="301.6" stroke="#222" stroke-width="0.8" />
<line x1="44.5" y1="297.1" x2="47" y2="297.1" stroke="#222" stroke-width="0.8" />
<line x1="44.5" y1="293.4" x2="47" y2="293.4" stroke="#222" stroke-width="0.8" />
<line x1="44.5" y1="290.3" x2="47" y2="290.3" stroke="#222" stroke-width="0.8" />
<line x1="44.5" y1="287.6" x2="47" y2="287.6" stroke="#222" stroke-width="0.8" />
<line x1="44.5" y1="285.2" x2="47" y2="285.2" stroke="#222" stroke-width="0.8" />
<line x1="42" y1="283.1" x2="47" y2="283.1" stroke="#222" stroke-width="0.8" />
<line x1="44.5" y1="269" x2="47" y2="269" stroke="#222" stroke-width="0.8" />
<line x1="44.5" y1="260.8" x2="47" y2="260.8" stroke="#222" stroke-width="0.8" />
<line x1="44.5" y1="255" x2="47" y2="255" stroke="#222" stroke-width="0.8" />
<line x1="44.5" y1="250.5" x2="47" y2="250.5" stroke="#222" stroke-width="0.8" />
<line x1="44.5" y1="246.8" x2="47" y2="246.8" stroke="#222" stroke-width="0.8" />
<line x1="44.5" y1="243.7" x2="47" y2="243.7" stroke="#222" stroke-width="0.8" />
<line x1="44.5" y1="241" x2="47" y2="241" stroke="#222" stroke-width="0.8" />
<line x1="44.5" y1="238.6" x2="47" y2="238.6" stroke="#222" stroke-width="0.8" />
<line x1="42" y1="236.5" x2="47" y2="236.5" stroke="#222" stroke-width="0.8" />
<text x="39" y="381" font-size="13.5" text-anchor="end" fill="#000" >10<tspan font-size="9" dy="-5.5">5</tspan></text>
<text x="39" y="334.4" font-size="13.5" text-anchor="end" fill="#000" >10<tspan font-size="9" dy="-5.5">6</tspan></text>
<text x="39" y="287.9" font-size="13.5" text-anchor="end" fill="#000" >10<tspan font-size="9" dy="-5.5">7</tspan></text>
<text x="39" y="241.3" font-size="13.5" text-anchor="end" fill="#000" >10<tspan font-size="9" dy="-5.5">8</tspan></text>
<line x1="47" y1="376.2" x2="47" y2="381.2" stroke="#222" stroke-width="0.9" />
<text x="47" y="395.6" font-size="14" text-anchor="middle" fill="#000" >11/8/2018</text>
<line x1="154" y1="376.2" x2="154" y2="381.2" stroke="#222" stroke-width="0.9" />
<text x="154" y="395.6" font-size="14" text-anchor="middle" fill="#000" >11/15/2018</text>
<line x1="261.1" y1="376.2" x2="261.1" y2="381.2" stroke="#222" stroke-width="0.9" />
<text x="261.1" y="395.6" font-size="14" text-anchor="middle" fill="#000" >11/22/2018</text>
<line x1="368.1" y1="376.2" x2="368.1" y2="381.2" stroke="#222" stroke-width="0.9" />
<text x="368.1" y="395.6" font-size="14" text-anchor="middle" fill="#000" >11/29/2018</text>
<line x1="108.2" y1="376.2" x2="108.2" y2="378.8" stroke="#222" stroke-width="0.9" />
<line x1="215.2" y1="376.2" x2="215.2" y2="378.8" stroke="#222" stroke-width="0.9" />
<line x1="322.2" y1="376.2" x2="322.2" y2="378.8" stroke="#222" stroke-width="0.9" />
<line x1="429.2" y1="376.2" x2="429.2" y2="378.8" stroke="#222" stroke-width="0.9" />
<text x="246.7" y="412.5" font-size="14.5" text-anchor="middle" fill="#000" >Date</text>
<text transform="translate(14,294.2) rotate(-90)" font-size="14.9" text-anchor="middle" fill="#000">SA (molecule/cm<tspan font-size="9.5" dy="-5">3</tspan><tspan dy="5">)</tspan></text>
<text x="49.8" y="252.5" font-size="17" text-anchor="start" fill="#000" >(d)</text>
<line x1="522.2" y1="236.4" x2="524.4" y2="236.4" stroke="#222" stroke-width="0.8" />
<text x="520.3" y="241.4" font-size="14.5" text-anchor="end" fill="#000" >2x10<tspan font-size="10" dy="-6">5</tspan></text>
<line x1="522.2" y1="271.4" x2="524.4" y2="271.4" stroke="#222" stroke-width="0.8" />
<text x="520.3" y="276.4" font-size="14.5" text-anchor="end" fill="#000" >1x10<tspan font-size="10" dy="-6">5</tspan></text>
<line x1="522.2" y1="341.4" x2="524.4" y2="341.4" stroke="#222" stroke-width="0.8" />
<text x="520.3" y="346.4" font-size="14.5" text-anchor="end" fill="#000" >-1x10<tspan font-size="10" dy="-6">5</tspan></text>
<line x1="522.2" y1="376.4" x2="524.4" y2="376.4" stroke="#222" stroke-width="0.8" />
<text x="520.3" y="381.4" font-size="14.5" text-anchor="end" fill="#000" >-2x10<tspan font-size="10" dy="-6">5</tspan></text>
<line x1="523.2" y1="253.9" x2="524.4" y2="253.9" stroke="#222" stroke-width="0.8" />
<line x1="523.2" y1="288.9" x2="524.4" y2="288.9" stroke="#222" stroke-width="0.8" />
<line x1="523.2" y1="323.9" x2="524.4" y2="323.9" stroke="#222" stroke-width="0.8" />
<line x1="523.2" y1="358.9" x2="524.4" y2="358.9" stroke="#222" stroke-width="0.8" />
<line x1="522.2" y1="306.4" x2="524.4" y2="306.4" stroke="#222" stroke-width="0.8" />
<text x="520" y="311.4" font-size="14.5" text-anchor="end" fill="#000" >0</text>
<line x1="524.4" y1="376.2" x2="524.4" y2="378.7" stroke="#222" stroke-width="0.8" />
<text x="524.4" y="391.5" font-size="13.5" text-anchor="middle" fill="#000" >0</text>
<line x1="565.9" y1="376.2" x2="565.9" y2="378.7" stroke="#222" stroke-width="0.8" />
<text x="565.9" y="391.5" font-size="13.5" text-anchor="middle" fill="#000" >6</text>
<line x1="607.3" y1="376.2" x2="607.3" y2="378.7" stroke="#222" stroke-width="0.8" />
<text x="607.3" y="391.5" font-size="13.5" text-anchor="middle" fill="#000" >12</text>
<line x1="648.8" y1="376.2" x2="648.8" y2="378.7" stroke="#222" stroke-width="0.8" />
<text x="648.8" y="391.5" font-size="13.5" text-anchor="middle" fill="#000" >18</text>
<line x1="545.1" y1="376.2" x2="545.1" y2="377.5" stroke="#222" stroke-width="0.8" />
<line x1="586.6" y1="376.2" x2="586.6" y2="377.5" stroke="#222" stroke-width="0.8" />
<line x1="628" y1="376.2" x2="628" y2="377.5" stroke="#222" stroke-width="0.8" />
<line x1="669.5" y1="376.2" x2="669.5" y2="377.5" stroke="#222" stroke-width="0.8" />
<text x="613.4" y="408" font-size="14.5" text-anchor="middle" fill="#000" >Local hour</text>
<text transform="translate(477,306) rotate(-90)" font-size="14.5" text-anchor="middle" fill="#000">Budget of SO<tspan font-size="9.5" dy="3.5">3</tspan></text>
<text x="526.5" y="252" font-size="16" text-anchor="start" fill="#000" >(e)</text>
</svg></body></html>
